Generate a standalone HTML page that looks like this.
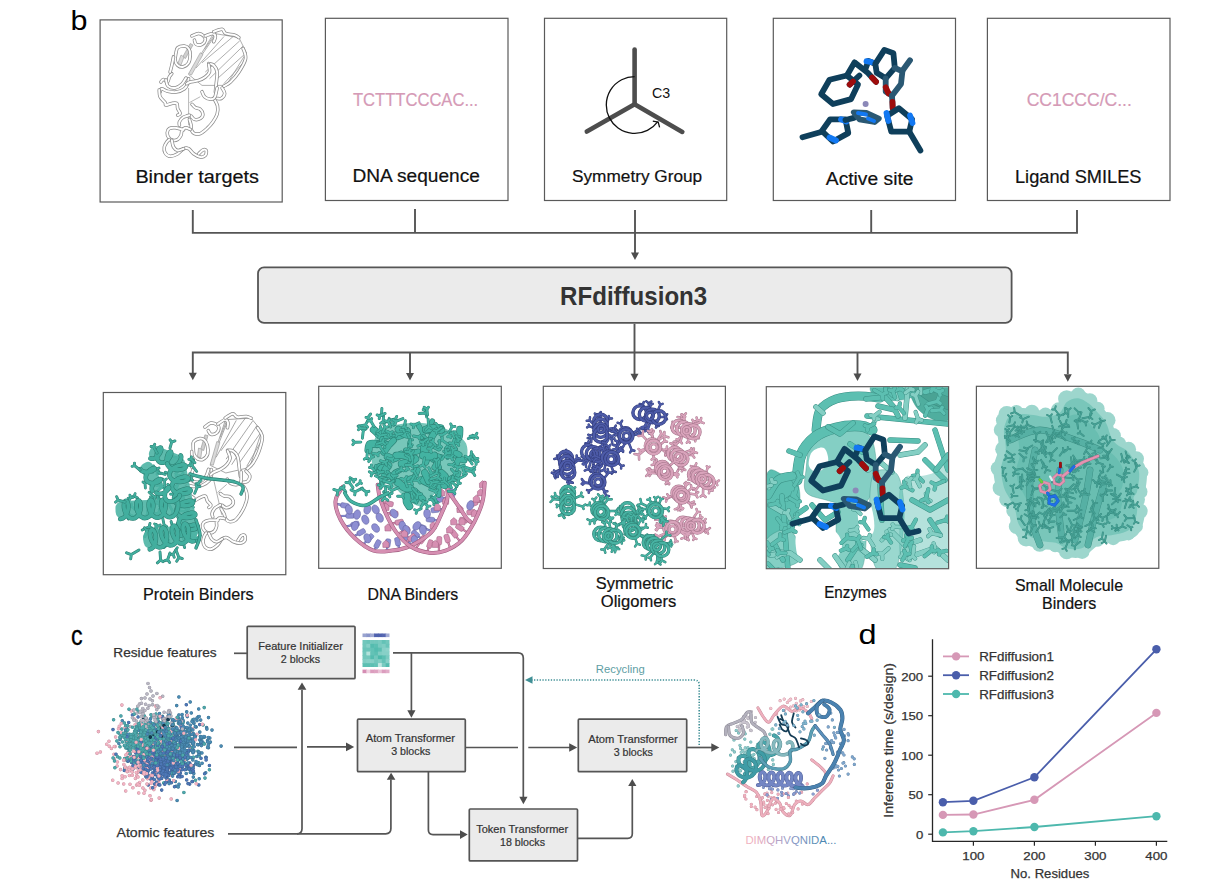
<!DOCTYPE html>
<html><head><meta charset="utf-8">
<style>
html,body{margin:0;padding:0;background:#fff;}
svg{display:block;}
text{font-family:"Liberation Sans",sans-serif;}
.k{fill:none;stroke-linecap:round;stroke-linejoin:round}
</style></head>
<body>
<svg width="1206" height="894" viewBox="0 0 1206 894">
<defs>
<marker id="ah" viewBox="0 0 10 10" refX="10" refY="5" markerWidth="8" markerHeight="8" markerUnits="userSpaceOnUse" orient="auto"><path d="M0,0 L10,5 L0,10 z" fill="#4d4d4d"/></marker>
</defs>
<rect width="1206" height="894" fill="#fff"/>

<!-- ============ PANEL B ============ -->
<text transform="translate(70.6,30.4) scale(1.07,1)" x="0" y="0" font-size="28.5" fill="#000">b</text>

<!-- row1 boxes -->
<g fill="none" stroke="#5a5a5a" stroke-width="1.2">
<rect x="100.1" y="19.9" width="182.1" height="182.1"/>
<rect x="325.4" y="18.3" width="182.6" height="182.2"/>
<rect x="544.5" y="18.3" width="182.2" height="182.2"/>
<rect x="773.3" y="18.3" width="182.2" height="182.2"/>
<rect x="987.4" y="18.3" width="182.6" height="182.2"/>
</g>

<!--BEGIN pics1-->
<g transform="translate(0,0) rotate(0,200,95) translate(200,95) scale(1.0) translate(-200,-95)"><path d="M188.6,74.5 L213.7,33.4 L238.9,37.6 L246.4,52.7 L226.3,85.4 L202,85.4 Z" fill="#fff" stroke="#9a9a9a" stroke-width="0.8"/>
<path d="M204.5,49.3 L215.4,33.4" stroke="#999" stroke-width="0.8"/>
<path d="M190.2,72 L213.7,37.6" stroke="#999" stroke-width="0.8"/>
<path d="M202,62.8 L233.9,35.9" stroke="#999" stroke-width="0.8"/>
<path d="M205.3,72 L239.7,40.9" stroke="#999" stroke-width="0.8"/>
<path d="M209.5,78.7 L243.1,46" stroke="#999" stroke-width="0.8"/>
<path d="M215.4,80.4 L246.4,52.7" stroke="#999" stroke-width="0.8"/>
<path d="M223.8,83.7 L245.6,60.2" stroke="#999" stroke-width="0.8"/>
<path d="M196,68 L224,36.5" stroke="#999" stroke-width="0.8"/>
<path d="M182.7,56.9 L190.2,43.5 L193,45 L185.5,58.5 Z" fill="#cfcfcf" stroke="#999" stroke-width="0.6"/>
<path d="M188.6,73.7 L200.3,52.7 L203,54.5 L191.5,75 Z" fill="#d9d9d9" stroke="#999" stroke-width="0.6"/>
<path d="M178,63 L181,55 L184,57 L181,65 Z" fill="#dcdcdc" stroke="#999" stroke-width="0.6"/>
<path d="M188.6,88 L188.6,125.2 M189.4,102.6 L200.3,96.7" stroke="#999" stroke-width="0.7"/>
<path d="M191.9,35.9 C193.0,35.5 196.6,33.4 198.6,33.4 C200.6,33.4 202.6,34.8 203.7,35.9 C204.8,37.0 205.6,38.7 205.3,40.1 C205.0,41.5 203.5,43.6 202.0,44.3 C200.5,45.0 197.4,45.0 196.1,44.3 C194.8,43.6 194.7,40.8 194.4,40.1" stroke="#8c8c8c" stroke-width="3.50" fill="none" stroke-linecap="round" stroke-linejoin="round"/>
<path d="M191.9,35.9 C193.0,35.5 196.6,33.4 198.6,33.4 C200.6,33.4 202.6,34.8 203.7,35.9 C204.8,37.0 205.6,38.7 205.3,40.1 C205.0,41.5 203.5,43.6 202.0,44.3 C200.5,45.0 197.4,45.0 196.1,44.3 C194.8,43.6 194.7,40.8 194.4,40.1" stroke="#ffffff" stroke-width="2.0" fill="none" stroke-linecap="round" stroke-linejoin="round"/>
<path d="M205.3,35.9 C206.6,35.5 211.2,33.3 212.9,33.4 C214.6,33.5 215.3,35.3 215.4,36.7 C215.5,38.1 214.0,40.9 213.7,41.8" stroke="#8c8c8c" stroke-width="3.50" fill="none" stroke-linecap="round" stroke-linejoin="round"/>
<path d="M205.3,35.9 C206.6,35.5 211.2,33.3 212.9,33.4 C214.6,33.5 215.3,35.3 215.4,36.7 C215.5,38.1 214.0,40.9 213.7,41.8" stroke="#ffffff" stroke-width="2.0" fill="none" stroke-linecap="round" stroke-linejoin="round"/>
<path d="M213.7,31.7 C215.1,31.3 220.1,28.9 222.1,29.2 C224.1,29.5 223.4,32.4 225.5,33.4 C227.6,34.4 232.5,34.4 234.7,35.1 C236.9,35.8 238.2,37.2 238.9,37.6" stroke="#8c8c8c" stroke-width="3.50" fill="none" stroke-linecap="round" stroke-linejoin="round"/>
<path d="M213.7,31.7 C215.1,31.3 220.1,28.9 222.1,29.2 C224.1,29.5 223.4,32.4 225.5,33.4 C227.6,34.4 232.5,34.4 234.7,35.1 C236.9,35.8 238.2,37.2 238.9,37.6" stroke="#ffffff" stroke-width="2.0" fill="none" stroke-linecap="round" stroke-linejoin="round"/>
<path d="M176.0,52.7 C176.3,51.9 176.3,48.8 177.7,47.7 C179.1,46.6 182.6,45.9 184.4,46.0 C186.2,46.1 187.6,47.1 188.6,48.5 C189.6,49.9 190.2,52.0 190.2,54.4 C190.2,56.8 189.8,60.7 188.6,62.8 C187.3,64.9 184.5,66.6 182.7,67.0 C180.9,67.4 179.0,66.4 177.7,65.3 C176.4,64.2 175.4,62.3 175.1,60.2 C174.8,58.1 175.8,54.0 176.0,52.7" stroke="#8c8c8c" stroke-width="3.50" fill="none" stroke-linecap="round" stroke-linejoin="round"/>
<path d="M176.0,52.7 C176.3,51.9 176.3,48.8 177.7,47.7 C179.1,46.6 182.6,45.9 184.4,46.0 C186.2,46.1 187.6,47.1 188.6,48.5 C189.6,49.9 190.2,52.0 190.2,54.4 C190.2,56.8 189.8,60.7 188.6,62.8 C187.3,64.9 184.5,66.6 182.7,67.0 C180.9,67.4 179.0,66.4 177.7,65.3 C176.4,64.2 175.4,62.3 175.1,60.2 C174.8,58.1 175.8,54.0 176.0,52.7" stroke="#ffffff" stroke-width="2.0" fill="none" stroke-linecap="round" stroke-linejoin="round"/>
<path d="M160.9,82.0 C161.3,81.6 162.3,79.5 163.4,79.5 C164.5,79.5 166.6,82.4 167.6,82.0 C168.6,81.6 168.6,78.4 169.3,77.0 C170.0,75.6 171.4,74.2 171.8,73.7" stroke="#8c8c8c" stroke-width="3.50" fill="none" stroke-linecap="round" stroke-linejoin="round"/>
<path d="M160.9,82.0 C161.3,81.6 162.3,79.5 163.4,79.5 C164.5,79.5 166.6,82.4 167.6,82.0 C168.6,81.6 168.6,78.4 169.3,77.0 C170.0,75.6 171.4,74.2 171.8,73.7" stroke="#ffffff" stroke-width="2.0" fill="none" stroke-linecap="round" stroke-linejoin="round"/>
<path d="M160.0,92.1 C160.3,91.5 160.4,88.9 161.7,88.8 C163.0,88.7 165.2,90.8 167.6,91.3 C170.0,91.8 173.2,92.5 176.0,92.1 C178.8,91.7 182.5,90.2 184.4,88.8 C186.3,87.4 187.0,85.4 187.7,83.7 C188.4,82.0 188.4,79.5 188.6,78.7" stroke="#8c8c8c" stroke-width="3.50" fill="none" stroke-linecap="round" stroke-linejoin="round"/>
<path d="M160.0,92.1 C160.3,91.5 160.4,88.9 161.7,88.8 C163.0,88.7 165.2,90.8 167.6,91.3 C170.0,91.8 173.2,92.5 176.0,92.1 C178.8,91.7 182.5,90.2 184.4,88.8 C186.3,87.4 187.0,85.4 187.7,83.7 C188.4,82.0 188.4,79.5 188.6,78.7" stroke="#ffffff" stroke-width="2.0" fill="none" stroke-linecap="round" stroke-linejoin="round"/>
<path d="M208.7,63.6 C209.5,63.9 212.3,63.9 213.7,65.3 C215.1,66.7 216.7,68.9 217.1,72.0 C217.5,75.1 216.5,80.4 216.2,83.7 C215.9,87.0 215.5,90.7 215.4,92.1" stroke="#8c8c8c" stroke-width="3.50" fill="none" stroke-linecap="round" stroke-linejoin="round"/>
<path d="M208.7,63.6 C209.5,63.9 212.3,63.9 213.7,65.3 C215.1,66.7 216.7,68.9 217.1,72.0 C217.5,75.1 216.5,80.4 216.2,83.7 C215.9,87.0 215.5,90.7 215.4,92.1" stroke="#ffffff" stroke-width="2.0" fill="none" stroke-linecap="round" stroke-linejoin="round"/>
<path d="M186.9,83.7 C187.4,83.4 188.2,82.5 190.2,82.0 C192.1,81.5 196.1,81.2 198.6,80.4 C201.1,79.6 203.5,78.4 205.3,77.0 C207.1,75.6 208.9,74.1 209.5,72.0 C210.1,69.9 208.8,65.7 208.7,64.4" stroke="#8c8c8c" stroke-width="3.50" fill="none" stroke-linecap="round" stroke-linejoin="round"/>
<path d="M186.9,83.7 C187.4,83.4 188.2,82.5 190.2,82.0 C192.1,81.5 196.1,81.2 198.6,80.4 C201.1,79.6 203.5,78.4 205.3,77.0 C207.1,75.6 208.9,74.1 209.5,72.0 C210.1,69.9 208.8,65.7 208.7,64.4" stroke="#ffffff" stroke-width="2.0" fill="none" stroke-linecap="round" stroke-linejoin="round"/>
<path d="M243.1,48.5 C243.5,50.2 246.3,54.7 245.6,58.6 C244.9,62.5 241.4,68.1 238.9,72.0 C236.4,75.9 233.0,79.6 230.5,82.0 C228.0,84.4 224.9,85.5 223.8,86.2" stroke="#8c8c8c" stroke-width="3.50" fill="none" stroke-linecap="round" stroke-linejoin="round"/>
<path d="M243.1,48.5 C243.5,50.2 246.3,54.7 245.6,58.6 C244.9,62.5 241.4,68.1 238.9,72.0 C236.4,75.9 233.0,79.6 230.5,82.0 C228.0,84.4 224.9,85.5 223.8,86.2" stroke="#ffffff" stroke-width="2.0" fill="none" stroke-linecap="round" stroke-linejoin="round"/>
<path d="M173.5,56.9 C173.2,58.3 172.4,62.8 171.8,65.3 C171.2,67.8 170.4,70.9 170.1,72.0" stroke="#8c8c8c" stroke-width="3.50" fill="none" stroke-linecap="round" stroke-linejoin="round"/>
<path d="M173.5,56.9 C173.2,58.3 172.4,62.8 171.8,65.3 C171.2,67.8 170.4,70.9 170.1,72.0" stroke="#ffffff" stroke-width="2.0" fill="none" stroke-linecap="round" stroke-linejoin="round"/>
<path d="M159.2,90.0 C159.3,91.1 159.1,94.6 160.1,96.7 C161.1,98.8 164.1,101.2 165.1,102.6 C166.1,104.0 164.8,105.0 165.9,105.1 C167.0,105.2 170.0,103.7 171.8,103.4 C173.6,103.1 175.8,102.6 176.8,103.4 C177.8,104.2 177.1,106.8 177.7,108.5 C178.3,110.2 180.2,112.4 180.2,113.5 C180.2,114.6 178.1,114.9 177.7,115.2" stroke="#8c8c8c" stroke-width="3.50" fill="none" stroke-linecap="round" stroke-linejoin="round"/>
<path d="M159.2,90.0 C159.3,91.1 159.1,94.6 160.1,96.7 C161.1,98.8 164.1,101.2 165.1,102.6 C166.1,104.0 164.8,105.0 165.9,105.1 C167.0,105.2 170.0,103.7 171.8,103.4 C173.6,103.1 175.8,102.6 176.8,103.4 C177.8,104.2 177.1,106.8 177.7,108.5 C178.3,110.2 180.2,112.4 180.2,113.5 C180.2,114.6 178.1,114.9 177.7,115.2" stroke="#ffffff" stroke-width="2.0" fill="none" stroke-linecap="round" stroke-linejoin="round"/>
<path d="M213.8,98.0 C214.4,99.3 216.9,103.2 217.5,105.9 C218.1,108.6 217.9,111.6 217.1,114.3 C216.3,117.0 214.6,119.5 212.9,121.9 C211.2,124.3 209.1,126.6 207.0,128.6 C204.9,130.5 202.4,132.8 200.3,133.6 C198.2,134.4 196.0,134.1 194.5,133.6 C193.0,133.1 192.1,131.7 191.5,130.3 C190.9,128.9 191.4,127.0 191.1,125.2 C190.8,123.4 189.7,120.4 189.4,119.4" stroke="#8c8c8c" stroke-width="3.50" fill="none" stroke-linecap="round" stroke-linejoin="round"/>
<path d="M213.8,98.0 C214.4,99.3 216.9,103.2 217.5,105.9 C218.1,108.6 217.9,111.6 217.1,114.3 C216.3,117.0 214.6,119.5 212.9,121.9 C211.2,124.3 209.1,126.6 207.0,128.6 C204.9,130.5 202.4,132.8 200.3,133.6 C198.2,134.4 196.0,134.1 194.5,133.6 C193.0,133.1 192.1,131.7 191.5,130.3 C190.9,128.9 191.4,127.0 191.1,125.2 C190.8,123.4 189.7,120.4 189.4,119.4" stroke="#ffffff" stroke-width="2.0" fill="none" stroke-linecap="round" stroke-linejoin="round"/>
<path d="M190.3,129.4 C189.5,129.1 186.6,127.5 185.2,127.8 C183.8,128.1 182.6,129.8 181.9,131.1 C181.2,132.3 181.7,133.9 181.0,135.3 C180.3,136.7 179.1,138.7 177.7,139.5 C176.3,140.3 174.2,140.6 172.7,140.3 C171.2,140.0 169.8,139.1 168.9,137.8 C168.0,136.6 167.1,134.3 167.2,132.8 C167.3,131.3 168.0,129.4 169.3,128.6 C170.6,127.8 172.8,127.6 175.2,127.8 C177.6,128.0 182.2,129.5 183.6,129.8" stroke="#8c8c8c" stroke-width="3.50" fill="none" stroke-linecap="round" stroke-linejoin="round"/>
<path d="M190.3,129.4 C189.5,129.1 186.6,127.5 185.2,127.8 C183.8,128.1 182.6,129.8 181.9,131.1 C181.2,132.3 181.7,133.9 181.0,135.3 C180.3,136.7 179.1,138.7 177.7,139.5 C176.3,140.3 174.2,140.6 172.7,140.3 C171.2,140.0 169.8,139.1 168.9,137.8 C168.0,136.6 167.1,134.3 167.2,132.8 C167.3,131.3 168.0,129.4 169.3,128.6 C170.6,127.8 172.8,127.6 175.2,127.8 C177.6,128.0 182.2,129.5 183.6,129.8" stroke="#ffffff" stroke-width="2.0" fill="none" stroke-linecap="round" stroke-linejoin="round"/>
<path d="M169.3,139.5 C168.9,139.9 167.6,140.8 166.8,142.0 C166.0,143.2 164.6,145.2 164.3,147.0 C164.0,148.8 164.1,151.3 165.1,152.9 C166.1,154.5 168.0,156.2 170.1,156.3 C172.2,156.5 175.4,155.1 177.7,153.8 C179.9,152.5 181.8,149.5 183.6,148.7 C185.4,147.8 186.9,147.8 188.6,148.7 C190.3,149.5 191.6,152.4 193.6,153.8 C195.6,155.2 198.3,156.8 200.3,157.1 C202.3,157.4 204.4,156.5 205.4,155.4 C206.4,154.3 206.6,151.3 206.2,150.4 C205.8,149.5 204.2,149.4 202.9,150.0 C201.7,150.6 199.4,153.2 198.7,153.8" stroke="#8c8c8c" stroke-width="3.50" fill="none" stroke-linecap="round" stroke-linejoin="round"/>
<path d="M169.3,139.5 C168.9,139.9 167.6,140.8 166.8,142.0 C166.0,143.2 164.6,145.2 164.3,147.0 C164.0,148.8 164.1,151.3 165.1,152.9 C166.1,154.5 168.0,156.2 170.1,156.3 C172.2,156.5 175.4,155.1 177.7,153.8 C179.9,152.5 181.8,149.5 183.6,148.7 C185.4,147.8 186.9,147.8 188.6,148.7 C190.3,149.5 191.6,152.4 193.6,153.8 C195.6,155.2 198.3,156.8 200.3,157.1 C202.3,157.4 204.4,156.5 205.4,155.4 C206.4,154.3 206.6,151.3 206.2,150.4 C205.8,149.5 204.2,149.4 202.9,150.0 C201.7,150.6 199.4,153.2 198.7,153.8" stroke="#ffffff" stroke-width="2.0" fill="none" stroke-linecap="round" stroke-linejoin="round"/>
<path d="M171.8,140.3 C172.1,141.4 172.5,145.3 173.5,147.0 C174.5,148.7 176.0,150.1 177.7,150.4 C179.4,150.7 182.6,149.0 183.6,148.7" stroke="#8c8c8c" stroke-width="3.50" fill="none" stroke-linecap="round" stroke-linejoin="round"/>
<path d="M171.8,140.3 C172.1,141.4 172.5,145.3 173.5,147.0 C174.5,148.7 176.0,150.1 177.7,150.4 C179.4,150.7 182.6,149.0 183.6,148.7" stroke="#ffffff" stroke-width="2.0" fill="none" stroke-linecap="round" stroke-linejoin="round"/>
<path d="M192.0,104.3 C192.6,104.8 193.9,106.8 195.3,107.6 C196.7,108.4 199.0,108.2 200.3,109.3 C201.6,110.4 202.9,112.8 202.9,114.3 C202.9,115.8 201.7,117.7 200.3,118.5 C198.9,119.3 196.0,119.8 194.5,119.4 C193.0,119.0 191.7,116.6 191.1,116.0" stroke="#8c8c8c" stroke-width="3.50" fill="none" stroke-linecap="round" stroke-linejoin="round"/>
<path d="M192.0,104.3 C192.6,104.8 193.9,106.8 195.3,107.6 C196.7,108.4 199.0,108.2 200.3,109.3 C201.6,110.4 202.9,112.8 202.9,114.3 C202.9,115.8 201.7,117.7 200.3,118.5 C198.9,119.3 196.0,119.8 194.5,119.4 C193.0,119.0 191.7,116.6 191.1,116.0" stroke="#ffffff" stroke-width="2.0" fill="none" stroke-linecap="round" stroke-linejoin="round"/>
<path d="M179.4,125.2 C179.4,124.7 178.9,123.2 179.4,121.9 C179.9,120.7 181.4,118.7 182.7,117.7 C183.9,116.7 185.8,116.4 186.9,116.0 C188.0,115.6 189.0,115.3 189.4,115.2" stroke="#8c8c8c" stroke-width="3.50" fill="none" stroke-linecap="round" stroke-linejoin="round"/>
<path d="M179.4,125.2 C179.4,124.7 178.9,123.2 179.4,121.9 C179.9,120.7 181.4,118.7 182.7,117.7 C183.9,116.7 185.8,116.4 186.9,116.0 C188.0,115.6 189.0,115.3 189.4,115.2" stroke="#ffffff" stroke-width="2.0" fill="none" stroke-linecap="round" stroke-linejoin="round"/>
<path d="M202.0,91.7 C202.4,92.5 203.1,95.5 204.5,96.7 C205.9,98.0 208.7,99.1 210.4,99.2 C212.1,99.3 213.6,98.8 214.6,97.6 C215.6,96.3 215.9,93.3 216.3,91.7 C216.7,90.1 217.0,88.6 217.1,88.0" stroke="#8c8c8c" stroke-width="3.50" fill="none" stroke-linecap="round" stroke-linejoin="round"/>
<path d="M202.0,91.7 C202.4,92.5 203.1,95.5 204.5,96.7 C205.9,98.0 208.7,99.1 210.4,99.2 C212.1,99.3 213.6,98.8 214.6,97.6 C215.6,96.3 215.9,93.3 216.3,91.7 C216.7,90.1 217.0,88.6 217.1,88.0" stroke="#ffffff" stroke-width="2.0" fill="none" stroke-linecap="round" stroke-linejoin="round"/>
<path d="M222.1,88.0 C222.5,88.9 224.8,91.7 224.7,93.4 C224.6,95.1 222.6,97.6 221.3,98.4 C220.0,99.2 217.8,98.4 217.1,98.4" stroke="#8c8c8c" stroke-width="3.50" fill="none" stroke-linecap="round" stroke-linejoin="round"/>
<path d="M222.1,88.0 C222.5,88.9 224.8,91.7 224.7,93.4 C224.6,95.1 222.6,97.6 221.3,98.4 C220.0,99.2 217.8,98.4 217.1,98.4" stroke="#ffffff" stroke-width="2.0" fill="none" stroke-linecap="round" stroke-linejoin="round"/>
<path d="M166.0,80.0 C166.3,81.0 166.5,84.7 168.0,86.0 C169.5,87.3 172.7,88.3 175.0,88.0 C177.3,87.7 180.2,85.7 182.0,84.0 C183.8,82.3 185.3,79.0 186.0,78.0" stroke="#8c8c8c" stroke-width="3.50" fill="none" stroke-linecap="round" stroke-linejoin="round"/>
<path d="M166.0,80.0 C166.3,81.0 166.5,84.7 168.0,86.0 C169.5,87.3 172.7,88.3 175.0,88.0 C177.3,87.7 180.2,85.7 182.0,84.0 C183.8,82.3 185.3,79.0 186.0,78.0" stroke="#ffffff" stroke-width="2.0" fill="none" stroke-linecap="round" stroke-linejoin="round"/></g>
<g stroke="#4d4d4d" stroke-width="4.6" stroke-linecap="round" fill="none"><path d="M634.6,104.3 V49.6"/><path d="M634.6,104.3 L586.8,131.6"/><path d="M634.6,104.3 L682.3,131.9"/></g>
<path d="M634.6,76.6 A28.4,28.4 0 1 0 657.6,121.8" stroke="#111" stroke-width="1.3" fill="none"/>
<path d="M652.8,121.2 L658.2,122.1 L659.6,127.3" stroke="#111" stroke-width="1.3" fill="none" stroke-linejoin="miter"/>
<text x="652" y="97.6" font-size="14.6" fill="#111" textLength="18.2" lengthAdjust="spacingAndGlyphs">C3</text>
<path d="M821.2,94.3 L829.5,79.7 L846.9,75.5 L858.0,84.6 L851.1,99.1 L833.0,104.0 Z" stroke="#0f3f5b" stroke-width="5.8" fill="none" stroke-linejoin="round" stroke-linecap="round"/>
<path d="M846.9,75.5 L854.5,62.4 L867.7,72.8 L876.0,81.8" stroke="#0f3f5b" stroke-width="5.8" fill="none" stroke-linejoin="round" stroke-linecap="round"/>
<path d="M872.0,77.5 L876.0,81.8" stroke="#9e0c0c" stroke-width="5.8" fill="none" stroke-linejoin="round" stroke-linecap="round"/>
<path d="M859.4,75.5 L849.7,84.6" stroke="#0f3f5b" stroke-width="5.8" fill="none" stroke-linejoin="round" stroke-linecap="round"/>
<path d="M853.0,81.5 L849.7,84.6" stroke="#9e0c0c" stroke-width="5.8" fill="none" stroke-linejoin="round" stroke-linecap="round"/>
<path d="M865.6,68.6 L868.4,61.0 L875.3,63.8" stroke="#0f3f5b" stroke-width="5.8" fill="none" stroke-linejoin="round" stroke-linecap="round"/>
<path d="M866.5,61.2 L871.5,62.2" stroke="#1278f2" stroke-width="5.8" fill="none" stroke-linejoin="round" stroke-linecap="round"/>
<path d="M875.3,63.8 L884.4,49.9 L893.4,53.3 L894.8,67.9 L885.7,78.3 L876.7,72.8 Z" stroke="#0f3f5b" stroke-width="5.8" fill="none" stroke-linejoin="round" stroke-linecap="round"/>
<path d="M894.8,67.9 L902.4,71.4 L901.0,83.9 L892.0,95.7 L885.7,91.5 L885.7,78.3" stroke="#2a5873" stroke-width="5.8" fill="none" stroke-linejoin="round" stroke-linecap="round"/>
<path d="M885.7,87.3 L888.5,93.5" stroke="#9e0c0c" stroke-width="5.8" fill="none" stroke-linejoin="round" stroke-linecap="round"/>
<path d="M902.4,70.7 L910.0,60.3" stroke="#2a5873" stroke-width="5.8" fill="none" stroke-linejoin="round" stroke-linecap="round"/>
<path d="M892.0,95.7 L892.7,108.2" stroke="#2a5873" stroke-width="5.8" fill="none" stroke-linejoin="round" stroke-linecap="round"/>
<path d="M892.5,102.0 L892.7,108.2" stroke="#9e0c0c" stroke-width="5.8" fill="none" stroke-linejoin="round" stroke-linecap="round"/>
<path d="M887.1,115.8 L898.9,108.2 L912.1,119.3 L909.3,131.7 L891.3,131.7 Z" stroke="#0f3f5b" stroke-width="5.8" fill="none" stroke-linejoin="round" stroke-linecap="round"/>
<path d="M909.3,131.7 L920.4,150.5" stroke="#0f3f5b" stroke-width="5.8" fill="none" stroke-linejoin="round" stroke-linecap="round"/>
<path d="M886.5,113.0 L888.5,121.0" stroke="#1278f2" stroke-width="5.8" fill="none" stroke-linejoin="round" stroke-linecap="round"/>
<path d="M910.0,115.5 L912.5,123.0" stroke="#1278f2" stroke-width="5.8" fill="none" stroke-linejoin="round" stroke-linecap="round"/>
<path d="M830.2,119.3 L845.5,119.3 L848.3,133.1 L833.0,141.5 L821.9,131.0 Z" stroke="#0f3f5b" stroke-width="5.8" fill="none" stroke-linejoin="round" stroke-linecap="round"/>
<path d="M821.9,131.7 L802.5,137.3" stroke="#0f3f5b" stroke-width="5.8" fill="none" stroke-linejoin="round" stroke-linecap="round"/>
<path d="M841.0,119.3 L846.5,121.5" stroke="#1278f2" stroke-width="5.8" fill="none" stroke-linejoin="round" stroke-linecap="round"/>
<path d="M829.5,137.5 L836.0,140.5" stroke="#1278f2" stroke-width="5.8" fill="none" stroke-linejoin="round" stroke-linecap="round"/>
<path d="M845.5,120.0 L853.8,117.9" stroke="#0f3f5b" stroke-width="5.8" fill="none" stroke-linejoin="round" stroke-linecap="round"/>
<path d="M853.8,112.3 L866.3,113.0 L878.8,118.6 L874.6,122.0 L859.4,119.3 Z" stroke="#2a5873" stroke-width="5.8" fill="none" stroke-linejoin="round" stroke-linecap="round"/>
<path d="M858.0,113.0 L866.0,114.5" stroke="#1278f2" stroke-width="4" fill="none" stroke-linejoin="round" stroke-linecap="round"/>
<path d="M868.0,118.5 L874.0,121.0" stroke="#1278f2" stroke-width="4" fill="none" stroke-linejoin="round" stroke-linecap="round"/>
<circle cx="865.6" cy="104" r="3" fill="#8b88b8"/>
<!--END pics1-->
<!-- row1 labels -->
<g fill="#111" stroke="#111" stroke-width="0.2">
<text x="135.4" y="183" font-size="18.7" textLength="123.5" lengthAdjust="spacingAndGlyphs">Binder targets</text>
<text x="352.4" y="181.7" font-size="18.7" textLength="127.5" lengthAdjust="spacingAndGlyphs">DNA sequence</text>
<text x="572" y="182.1" font-size="16.8" textLength="130.2" lengthAdjust="spacingAndGlyphs">Symmetry Group</text>
<text x="825.8" y="184.6" font-size="18.7" textLength="87.7" lengthAdjust="spacingAndGlyphs">Active site</text>
<text x="1015" y="183" font-size="18.7" textLength="126.5" lengthAdjust="spacingAndGlyphs">Ligand SMILES</text>
</g>
<g fill="#d59ab6" stroke="#d59ab6" stroke-width="0.2">
<text x="353" y="105.8" font-size="19" textLength="125.2" lengthAdjust="spacingAndGlyphs">TCTTTCCCAC...</text>
<text x="1026.7" y="105.8" font-size="19" textLength="105.1" lengthAdjust="spacingAndGlyphs">CC1CCC/C...</text>
</g>

<!-- connectors top -->
<g stroke="#555" stroke-width="1.9" fill="none">
<path d="M192.8,210 V232.9 H1077 V210"/>
<path d="M415,209 V232.9"/>
<path d="M871.2,210 V232.9"/>
<path d="M635,210 V253"/>
</g>
<path d="M631,252.5 L639,252.5 L635,260 z" fill="#4d4d4d"/>

<!-- RFdiffusion3 -->
<rect x="258" y="267.3" width="753.6" height="55.6" rx="6" ry="6" fill="#ebebeb" stroke="#555" stroke-width="1.8"/>
<text x="560.1" y="304.9" font-size="26" font-weight="bold" fill="#333" textLength="147.1" lengthAdjust="spacingAndGlyphs">RFdiffusion3</text>

<!-- connectors bottom -->
<g stroke="#555" stroke-width="1.9" fill="none">
<path d="M634.5,323.8 V374"/>
<path d="M192.8,373.5 V352.5 H1067.8 V374"/>
<path d="M410,352.5 V374"/>
<path d="M857.5,352.5 V374"/>
</g>
<g fill="#4d4d4d">
<path d="M188.8,372.8 L196.8,372.8 L192.8,380.3 z"/>
<path d="M406,373 L414,373 L410,380.5 z"/>
<path d="M630.5,373.8 L638.5,373.8 L634.5,381.3 z"/>
<path d="M853.5,373.6 L861.5,373.6 L857.5,381 z"/>
<path d="M1063.8,374.2 L1071.8,374.2 L1067.8,381.7 z"/>
</g>

<!-- row2 boxes -->
<g fill="none" stroke="#5a5a5a" stroke-width="1.2">
<rect x="103.3" y="392.5" width="182.5" height="182.2"/>
<rect x="318.7" y="386.3" width="182.6" height="182"/>
<rect x="543.3" y="386.3" width="182.1" height="182.2"/>
<rect x="766.3" y="386.7" width="182.3" height="182"/>
<rect x="976.4" y="386.3" width="182.4" height="182"/>
</g>

<!--BEGIN pics2-->
<g transform="translate(18,383) rotate(-13,225,62) translate(225,62) scale(1.0) translate(-225,-62)"><path d="M188.6,74.5 L213.7,33.4 L238.9,37.6 L246.4,52.7 L226.3,85.4 L202,85.4 Z" fill="#fff" stroke="#9a9a9a" stroke-width="0.8"/>
<path d="M204.5,49.3 L215.4,33.4" stroke="#999" stroke-width="0.8"/>
<path d="M190.2,72 L213.7,37.6" stroke="#999" stroke-width="0.8"/>
<path d="M202,62.8 L233.9,35.9" stroke="#999" stroke-width="0.8"/>
<path d="M205.3,72 L239.7,40.9" stroke="#999" stroke-width="0.8"/>
<path d="M209.5,78.7 L243.1,46" stroke="#999" stroke-width="0.8"/>
<path d="M215.4,80.4 L246.4,52.7" stroke="#999" stroke-width="0.8"/>
<path d="M223.8,83.7 L245.6,60.2" stroke="#999" stroke-width="0.8"/>
<path d="M196,68 L224,36.5" stroke="#999" stroke-width="0.8"/>
<path d="M182.7,56.9 L190.2,43.5 L193,45 L185.5,58.5 Z" fill="#cfcfcf" stroke="#999" stroke-width="0.6"/>
<path d="M188.6,73.7 L200.3,52.7 L203,54.5 L191.5,75 Z" fill="#d9d9d9" stroke="#999" stroke-width="0.6"/>
<path d="M178,63 L181,55 L184,57 L181,65 Z" fill="#dcdcdc" stroke="#999" stroke-width="0.6"/>
<path d="M188.6,88 L188.6,125.2 M189.4,102.6 L200.3,96.7" stroke="#999" stroke-width="0.7"/>
<path d="M191.9,35.9 C193.0,35.5 196.6,33.4 198.6,33.4 C200.6,33.4 202.6,34.8 203.7,35.9 C204.8,37.0 205.6,38.7 205.3,40.1 C205.0,41.5 203.5,43.6 202.0,44.3 C200.5,45.0 197.4,45.0 196.1,44.3 C194.8,43.6 194.7,40.8 194.4,40.1" stroke="#8c8c8c" stroke-width="3.50" fill="none" stroke-linecap="round" stroke-linejoin="round"/>
<path d="M191.9,35.9 C193.0,35.5 196.6,33.4 198.6,33.4 C200.6,33.4 202.6,34.8 203.7,35.9 C204.8,37.0 205.6,38.7 205.3,40.1 C205.0,41.5 203.5,43.6 202.0,44.3 C200.5,45.0 197.4,45.0 196.1,44.3 C194.8,43.6 194.7,40.8 194.4,40.1" stroke="#ffffff" stroke-width="2.0" fill="none" stroke-linecap="round" stroke-linejoin="round"/>
<path d="M205.3,35.9 C206.6,35.5 211.2,33.3 212.9,33.4 C214.6,33.5 215.3,35.3 215.4,36.7 C215.5,38.1 214.0,40.9 213.7,41.8" stroke="#8c8c8c" stroke-width="3.50" fill="none" stroke-linecap="round" stroke-linejoin="round"/>
<path d="M205.3,35.9 C206.6,35.5 211.2,33.3 212.9,33.4 C214.6,33.5 215.3,35.3 215.4,36.7 C215.5,38.1 214.0,40.9 213.7,41.8" stroke="#ffffff" stroke-width="2.0" fill="none" stroke-linecap="round" stroke-linejoin="round"/>
<path d="M213.7,31.7 C215.1,31.3 220.1,28.9 222.1,29.2 C224.1,29.5 223.4,32.4 225.5,33.4 C227.6,34.4 232.5,34.4 234.7,35.1 C236.9,35.8 238.2,37.2 238.9,37.6" stroke="#8c8c8c" stroke-width="3.50" fill="none" stroke-linecap="round" stroke-linejoin="round"/>
<path d="M213.7,31.7 C215.1,31.3 220.1,28.9 222.1,29.2 C224.1,29.5 223.4,32.4 225.5,33.4 C227.6,34.4 232.5,34.4 234.7,35.1 C236.9,35.8 238.2,37.2 238.9,37.6" stroke="#ffffff" stroke-width="2.0" fill="none" stroke-linecap="round" stroke-linejoin="round"/>
<path d="M176.0,52.7 C176.3,51.9 176.3,48.8 177.7,47.7 C179.1,46.6 182.6,45.9 184.4,46.0 C186.2,46.1 187.6,47.1 188.6,48.5 C189.6,49.9 190.2,52.0 190.2,54.4 C190.2,56.8 189.8,60.7 188.6,62.8 C187.3,64.9 184.5,66.6 182.7,67.0 C180.9,67.4 179.0,66.4 177.7,65.3 C176.4,64.2 175.4,62.3 175.1,60.2 C174.8,58.1 175.8,54.0 176.0,52.7" stroke="#8c8c8c" stroke-width="3.50" fill="none" stroke-linecap="round" stroke-linejoin="round"/>
<path d="M176.0,52.7 C176.3,51.9 176.3,48.8 177.7,47.7 C179.1,46.6 182.6,45.9 184.4,46.0 C186.2,46.1 187.6,47.1 188.6,48.5 C189.6,49.9 190.2,52.0 190.2,54.4 C190.2,56.8 189.8,60.7 188.6,62.8 C187.3,64.9 184.5,66.6 182.7,67.0 C180.9,67.4 179.0,66.4 177.7,65.3 C176.4,64.2 175.4,62.3 175.1,60.2 C174.8,58.1 175.8,54.0 176.0,52.7" stroke="#ffffff" stroke-width="2.0" fill="none" stroke-linecap="round" stroke-linejoin="round"/>
<path d="M160.9,82.0 C161.3,81.6 162.3,79.5 163.4,79.5 C164.5,79.5 166.6,82.4 167.6,82.0 C168.6,81.6 168.6,78.4 169.3,77.0 C170.0,75.6 171.4,74.2 171.8,73.7" stroke="#8c8c8c" stroke-width="3.50" fill="none" stroke-linecap="round" stroke-linejoin="round"/>
<path d="M160.9,82.0 C161.3,81.6 162.3,79.5 163.4,79.5 C164.5,79.5 166.6,82.4 167.6,82.0 C168.6,81.6 168.6,78.4 169.3,77.0 C170.0,75.6 171.4,74.2 171.8,73.7" stroke="#ffffff" stroke-width="2.0" fill="none" stroke-linecap="round" stroke-linejoin="round"/>
<path d="M160.0,92.1 C160.3,91.5 160.4,88.9 161.7,88.8 C163.0,88.7 165.2,90.8 167.6,91.3 C170.0,91.8 173.2,92.5 176.0,92.1 C178.8,91.7 182.5,90.2 184.4,88.8 C186.3,87.4 187.0,85.4 187.7,83.7 C188.4,82.0 188.4,79.5 188.6,78.7" stroke="#8c8c8c" stroke-width="3.50" fill="none" stroke-linecap="round" stroke-linejoin="round"/>
<path d="M160.0,92.1 C160.3,91.5 160.4,88.9 161.7,88.8 C163.0,88.7 165.2,90.8 167.6,91.3 C170.0,91.8 173.2,92.5 176.0,92.1 C178.8,91.7 182.5,90.2 184.4,88.8 C186.3,87.4 187.0,85.4 187.7,83.7 C188.4,82.0 188.4,79.5 188.6,78.7" stroke="#ffffff" stroke-width="2.0" fill="none" stroke-linecap="round" stroke-linejoin="round"/>
<path d="M208.7,63.6 C209.5,63.9 212.3,63.9 213.7,65.3 C215.1,66.7 216.7,68.9 217.1,72.0 C217.5,75.1 216.5,80.4 216.2,83.7 C215.9,87.0 215.5,90.7 215.4,92.1" stroke="#8c8c8c" stroke-width="3.50" fill="none" stroke-linecap="round" stroke-linejoin="round"/>
<path d="M208.7,63.6 C209.5,63.9 212.3,63.9 213.7,65.3 C215.1,66.7 216.7,68.9 217.1,72.0 C217.5,75.1 216.5,80.4 216.2,83.7 C215.9,87.0 215.5,90.7 215.4,92.1" stroke="#ffffff" stroke-width="2.0" fill="none" stroke-linecap="round" stroke-linejoin="round"/>
<path d="M186.9,83.7 C187.4,83.4 188.2,82.5 190.2,82.0 C192.1,81.5 196.1,81.2 198.6,80.4 C201.1,79.6 203.5,78.4 205.3,77.0 C207.1,75.6 208.9,74.1 209.5,72.0 C210.1,69.9 208.8,65.7 208.7,64.4" stroke="#8c8c8c" stroke-width="3.50" fill="none" stroke-linecap="round" stroke-linejoin="round"/>
<path d="M186.9,83.7 C187.4,83.4 188.2,82.5 190.2,82.0 C192.1,81.5 196.1,81.2 198.6,80.4 C201.1,79.6 203.5,78.4 205.3,77.0 C207.1,75.6 208.9,74.1 209.5,72.0 C210.1,69.9 208.8,65.7 208.7,64.4" stroke="#ffffff" stroke-width="2.0" fill="none" stroke-linecap="round" stroke-linejoin="round"/>
<path d="M243.1,48.5 C243.5,50.2 246.3,54.7 245.6,58.6 C244.9,62.5 241.4,68.1 238.9,72.0 C236.4,75.9 233.0,79.6 230.5,82.0 C228.0,84.4 224.9,85.5 223.8,86.2" stroke="#8c8c8c" stroke-width="3.50" fill="none" stroke-linecap="round" stroke-linejoin="round"/>
<path d="M243.1,48.5 C243.5,50.2 246.3,54.7 245.6,58.6 C244.9,62.5 241.4,68.1 238.9,72.0 C236.4,75.9 233.0,79.6 230.5,82.0 C228.0,84.4 224.9,85.5 223.8,86.2" stroke="#ffffff" stroke-width="2.0" fill="none" stroke-linecap="round" stroke-linejoin="round"/>
<path d="M173.5,56.9 C173.2,58.3 172.4,62.8 171.8,65.3 C171.2,67.8 170.4,70.9 170.1,72.0" stroke="#8c8c8c" stroke-width="3.50" fill="none" stroke-linecap="round" stroke-linejoin="round"/>
<path d="M173.5,56.9 C173.2,58.3 172.4,62.8 171.8,65.3 C171.2,67.8 170.4,70.9 170.1,72.0" stroke="#ffffff" stroke-width="2.0" fill="none" stroke-linecap="round" stroke-linejoin="round"/>
<path d="M159.2,90.0 C159.3,91.1 159.1,94.6 160.1,96.7 C161.1,98.8 164.1,101.2 165.1,102.6 C166.1,104.0 164.8,105.0 165.9,105.1 C167.0,105.2 170.0,103.7 171.8,103.4 C173.6,103.1 175.8,102.6 176.8,103.4 C177.8,104.2 177.1,106.8 177.7,108.5 C178.3,110.2 180.2,112.4 180.2,113.5 C180.2,114.6 178.1,114.9 177.7,115.2" stroke="#8c8c8c" stroke-width="3.50" fill="none" stroke-linecap="round" stroke-linejoin="round"/>
<path d="M159.2,90.0 C159.3,91.1 159.1,94.6 160.1,96.7 C161.1,98.8 164.1,101.2 165.1,102.6 C166.1,104.0 164.8,105.0 165.9,105.1 C167.0,105.2 170.0,103.7 171.8,103.4 C173.6,103.1 175.8,102.6 176.8,103.4 C177.8,104.2 177.1,106.8 177.7,108.5 C178.3,110.2 180.2,112.4 180.2,113.5 C180.2,114.6 178.1,114.9 177.7,115.2" stroke="#ffffff" stroke-width="2.0" fill="none" stroke-linecap="round" stroke-linejoin="round"/>
<path d="M213.8,98.0 C214.4,99.3 216.9,103.2 217.5,105.9 C218.1,108.6 217.9,111.6 217.1,114.3 C216.3,117.0 214.6,119.5 212.9,121.9 C211.2,124.3 209.1,126.6 207.0,128.6 C204.9,130.5 202.4,132.8 200.3,133.6 C198.2,134.4 196.0,134.1 194.5,133.6 C193.0,133.1 192.1,131.7 191.5,130.3 C190.9,128.9 191.4,127.0 191.1,125.2 C190.8,123.4 189.7,120.4 189.4,119.4" stroke="#8c8c8c" stroke-width="3.50" fill="none" stroke-linecap="round" stroke-linejoin="round"/>
<path d="M213.8,98.0 C214.4,99.3 216.9,103.2 217.5,105.9 C218.1,108.6 217.9,111.6 217.1,114.3 C216.3,117.0 214.6,119.5 212.9,121.9 C211.2,124.3 209.1,126.6 207.0,128.6 C204.9,130.5 202.4,132.8 200.3,133.6 C198.2,134.4 196.0,134.1 194.5,133.6 C193.0,133.1 192.1,131.7 191.5,130.3 C190.9,128.9 191.4,127.0 191.1,125.2 C190.8,123.4 189.7,120.4 189.4,119.4" stroke="#ffffff" stroke-width="2.0" fill="none" stroke-linecap="round" stroke-linejoin="round"/>
<path d="M190.3,129.4 C189.5,129.1 186.6,127.5 185.2,127.8 C183.8,128.1 182.6,129.8 181.9,131.1 C181.2,132.3 181.7,133.9 181.0,135.3 C180.3,136.7 179.1,138.7 177.7,139.5 C176.3,140.3 174.2,140.6 172.7,140.3 C171.2,140.0 169.8,139.1 168.9,137.8 C168.0,136.6 167.1,134.3 167.2,132.8 C167.3,131.3 168.0,129.4 169.3,128.6 C170.6,127.8 172.8,127.6 175.2,127.8 C177.6,128.0 182.2,129.5 183.6,129.8" stroke="#8c8c8c" stroke-width="3.50" fill="none" stroke-linecap="round" stroke-linejoin="round"/>
<path d="M190.3,129.4 C189.5,129.1 186.6,127.5 185.2,127.8 C183.8,128.1 182.6,129.8 181.9,131.1 C181.2,132.3 181.7,133.9 181.0,135.3 C180.3,136.7 179.1,138.7 177.7,139.5 C176.3,140.3 174.2,140.6 172.7,140.3 C171.2,140.0 169.8,139.1 168.9,137.8 C168.0,136.6 167.1,134.3 167.2,132.8 C167.3,131.3 168.0,129.4 169.3,128.6 C170.6,127.8 172.8,127.6 175.2,127.8 C177.6,128.0 182.2,129.5 183.6,129.8" stroke="#ffffff" stroke-width="2.0" fill="none" stroke-linecap="round" stroke-linejoin="round"/>
<path d="M169.3,139.5 C168.9,139.9 167.6,140.8 166.8,142.0 C166.0,143.2 164.6,145.2 164.3,147.0 C164.0,148.8 164.1,151.3 165.1,152.9 C166.1,154.5 168.0,156.2 170.1,156.3 C172.2,156.5 175.4,155.1 177.7,153.8 C179.9,152.5 181.8,149.5 183.6,148.7 C185.4,147.8 186.9,147.8 188.6,148.7 C190.3,149.5 191.6,152.4 193.6,153.8 C195.6,155.2 198.3,156.8 200.3,157.1 C202.3,157.4 204.4,156.5 205.4,155.4 C206.4,154.3 206.6,151.3 206.2,150.4 C205.8,149.5 204.2,149.4 202.9,150.0 C201.7,150.6 199.4,153.2 198.7,153.8" stroke="#8c8c8c" stroke-width="3.50" fill="none" stroke-linecap="round" stroke-linejoin="round"/>
<path d="M169.3,139.5 C168.9,139.9 167.6,140.8 166.8,142.0 C166.0,143.2 164.6,145.2 164.3,147.0 C164.0,148.8 164.1,151.3 165.1,152.9 C166.1,154.5 168.0,156.2 170.1,156.3 C172.2,156.5 175.4,155.1 177.7,153.8 C179.9,152.5 181.8,149.5 183.6,148.7 C185.4,147.8 186.9,147.8 188.6,148.7 C190.3,149.5 191.6,152.4 193.6,153.8 C195.6,155.2 198.3,156.8 200.3,157.1 C202.3,157.4 204.4,156.5 205.4,155.4 C206.4,154.3 206.6,151.3 206.2,150.4 C205.8,149.5 204.2,149.4 202.9,150.0 C201.7,150.6 199.4,153.2 198.7,153.8" stroke="#ffffff" stroke-width="2.0" fill="none" stroke-linecap="round" stroke-linejoin="round"/>
<path d="M171.8,140.3 C172.1,141.4 172.5,145.3 173.5,147.0 C174.5,148.7 176.0,150.1 177.7,150.4 C179.4,150.7 182.6,149.0 183.6,148.7" stroke="#8c8c8c" stroke-width="3.50" fill="none" stroke-linecap="round" stroke-linejoin="round"/>
<path d="M171.8,140.3 C172.1,141.4 172.5,145.3 173.5,147.0 C174.5,148.7 176.0,150.1 177.7,150.4 C179.4,150.7 182.6,149.0 183.6,148.7" stroke="#ffffff" stroke-width="2.0" fill="none" stroke-linecap="round" stroke-linejoin="round"/>
<path d="M192.0,104.3 C192.6,104.8 193.9,106.8 195.3,107.6 C196.7,108.4 199.0,108.2 200.3,109.3 C201.6,110.4 202.9,112.8 202.9,114.3 C202.9,115.8 201.7,117.7 200.3,118.5 C198.9,119.3 196.0,119.8 194.5,119.4 C193.0,119.0 191.7,116.6 191.1,116.0" stroke="#8c8c8c" stroke-width="3.50" fill="none" stroke-linecap="round" stroke-linejoin="round"/>
<path d="M192.0,104.3 C192.6,104.8 193.9,106.8 195.3,107.6 C196.7,108.4 199.0,108.2 200.3,109.3 C201.6,110.4 202.9,112.8 202.9,114.3 C202.9,115.8 201.7,117.7 200.3,118.5 C198.9,119.3 196.0,119.8 194.5,119.4 C193.0,119.0 191.7,116.6 191.1,116.0" stroke="#ffffff" stroke-width="2.0" fill="none" stroke-linecap="round" stroke-linejoin="round"/>
<path d="M179.4,125.2 C179.4,124.7 178.9,123.2 179.4,121.9 C179.9,120.7 181.4,118.7 182.7,117.7 C183.9,116.7 185.8,116.4 186.9,116.0 C188.0,115.6 189.0,115.3 189.4,115.2" stroke="#8c8c8c" stroke-width="3.50" fill="none" stroke-linecap="round" stroke-linejoin="round"/>
<path d="M179.4,125.2 C179.4,124.7 178.9,123.2 179.4,121.9 C179.9,120.7 181.4,118.7 182.7,117.7 C183.9,116.7 185.8,116.4 186.9,116.0 C188.0,115.6 189.0,115.3 189.4,115.2" stroke="#ffffff" stroke-width="2.0" fill="none" stroke-linecap="round" stroke-linejoin="round"/>
<path d="M202.0,91.7 C202.4,92.5 203.1,95.5 204.5,96.7 C205.9,98.0 208.7,99.1 210.4,99.2 C212.1,99.3 213.6,98.8 214.6,97.6 C215.6,96.3 215.9,93.3 216.3,91.7 C216.7,90.1 217.0,88.6 217.1,88.0" stroke="#8c8c8c" stroke-width="3.50" fill="none" stroke-linecap="round" stroke-linejoin="round"/>
<path d="M202.0,91.7 C202.4,92.5 203.1,95.5 204.5,96.7 C205.9,98.0 208.7,99.1 210.4,99.2 C212.1,99.3 213.6,98.8 214.6,97.6 C215.6,96.3 215.9,93.3 216.3,91.7 C216.7,90.1 217.0,88.6 217.1,88.0" stroke="#ffffff" stroke-width="2.0" fill="none" stroke-linecap="round" stroke-linejoin="round"/>
<path d="M222.1,88.0 C222.5,88.9 224.8,91.7 224.7,93.4 C224.6,95.1 222.6,97.6 221.3,98.4 C220.0,99.2 217.8,98.4 217.1,98.4" stroke="#8c8c8c" stroke-width="3.50" fill="none" stroke-linecap="round" stroke-linejoin="round"/>
<path d="M222.1,88.0 C222.5,88.9 224.8,91.7 224.7,93.4 C224.6,95.1 222.6,97.6 221.3,98.4 C220.0,99.2 217.8,98.4 217.1,98.4" stroke="#ffffff" stroke-width="2.0" fill="none" stroke-linecap="round" stroke-linejoin="round"/>
<path d="M166.0,80.0 C166.3,81.0 166.5,84.7 168.0,86.0 C169.5,87.3 172.7,88.3 175.0,88.0 C177.3,87.7 180.2,85.7 182.0,84.0 C183.8,82.3 185.3,79.0 186.0,78.0" stroke="#8c8c8c" stroke-width="3.50" fill="none" stroke-linecap="round" stroke-linejoin="round"/>
<path d="M166.0,80.0 C166.3,81.0 166.5,84.7 168.0,86.0 C169.5,87.3 172.7,88.3 175.0,88.0 C177.3,87.7 180.2,85.7 182.0,84.0 C183.8,82.3 185.3,79.0 186.0,78.0" stroke="#ffffff" stroke-width="2.0" fill="none" stroke-linecap="round" stroke-linejoin="round"/></g>
<path class="k" stroke="#2a7d70" stroke-width="2.8" d="M178.2 528.5l2.2 -7.5l3.8 -1.6m-3.8 1.6l-2.6 -3.7M128.1 498.3l6.2 -2.3l3.2 2m-3.2 -2l.8 -2.4M165.2 474.4l-6.1 -1.7l-.9 -2.1m.9 2.1l-2.1 1.5M190.2 465l1.3 -4.4l2.1 -.8m-2.1 .8l-1 -1.4M143.3 471.1l7.4 -.8l2.2 2.2m-2.2 -2.2l2.4 -3.7M171.1 521.5l2.2 7.5l-2.3 3.3m2.3 -3.3l4.3 1.7"/>
<path class="k" stroke="#42ae9e" stroke-width="1.9" d="M178.2 528.5l2.2 -7.5l3.8 -1.6m-3.8 1.6l-2.6 -3.7M128.1 498.3l6.2 -2.3l3.2 2m-3.2 -2l.8 -2.4M165.2 474.4l-6.1 -1.7l-.9 -2.1m.9 2.1l-2.1 1.5M190.2 465l1.3 -4.4l2.1 -.8m-2.1 .8l-1 -1.4M143.3 471.1l7.4 -.8l2.2 2.2m-2.2 -2.2l2.4 -3.7M171.1 521.5l2.2 7.5l-2.3 3.3m2.3 -3.3l4.3 1.7"/>
<path class="k" stroke="#2a7d70" stroke-width="2.8" d="M201 480.1l-3 3.6l-1.8 -.1m1.8 .1l.3 1.7M151.1 513.3l6.7 .1l1.8 2.3m-1.8 -2.3l1.8 -2.2M194.7 500l-2.4 5.4l-3 .8m3 -.8l1 1.9M188.9 539.7l7.1 .8l1.7 2.7m-1.7 -2.7l2.5 -2.5M142.2 530l7 -3.3l3 1.5m-3 -1.5l.8 -3.3M169.9 532.1l5.4 4.4l0 3.8m0 -3.8l3.9 -.9"/>
<path class="k" stroke="#42ae9e" stroke-width="1.9" d="M201 480.1l-3 3.6l-1.8 -.1m1.8 .1l.3 1.7M151.1 513.3l6.7 .1l1.8 2.3m-1.8 -2.3l1.8 -2.2M194.7 500l-2.4 5.4l-3 .8m3 -.8l1 1.9M188.9 539.7l7.1 .8l1.7 2.7m-1.7 -2.7l2.5 -2.5M142.2 530l7 -3.3l3 1.5m-3 -1.5l.8 -3.3M169.9 532.1l5.4 4.4l0 3.8m0 -3.8l3.9 -.9"/>
<path class="k" stroke="#2a7d70" stroke-width="2.8" d="M177.2 547.7l-4.1 6.5l-3.7 .4m3.7 -.4l1.1 3.1M152.4 466.9l4.1 2.2l.4 2.4m-.4 -2.4l2.5 -1.1M159.9 473.4l-6.1 -4.1l-.3 -3.4m.3 3.4l-3.2 1M128.4 501.4l2.4 -3.8l2.4 -.3m-2.4 .3l-.9 -2.5M178.8 533.5l4.5 3.6l0 2.2m0 -2.2l3.1 -.7M150.5 497l7.4 0l2.8 3.4m-2.8 -3.4l2.1 -2.7"/>
<path class="k" stroke="#42ae9e" stroke-width="1.9" d="M177.2 547.7l-4.1 6.5l-3.7 .4m3.7 -.4l1.1 3.1M152.4 466.9l4.1 2.2l.4 2.4m-.4 -2.4l2.5 -1.1M159.9 473.4l-6.1 -4.1l-.3 -3.4m.3 3.4l-3.2 1M128.4 501.4l2.4 -3.8l2.4 -.3m-2.4 .3l-.9 -2.5M178.8 533.5l4.5 3.6l0 2.2m0 -2.2l3.1 -.7M150.5 497l7.4 0l2.8 3.4m-2.8 -3.4l2.1 -2.7"/>
<path class="k" stroke="#2a7d70" stroke-width="2.8" d="M166.8 527.1l-5.1 .7l-1.7 -1.6m1.7 1.6l-1 1.7M167.8 484.5l4.3 2.7l.3 2.8m-.3 -2.8l2.7 -1M156.1 533.3l1.1 -6.7l3 -1.7m-3 1.7l-2.5 -2.7M156.3 524.4l-1.1 5.8l-2.9 1.5m2.9 -1.5l2 2.4M180.4 510.9l6.2 .4l1.4 2.1m-1.4 -2.1l2.2 -2.4M164.7 536.6l-4.3 -5.7l.8 -3m-.8 3l-3.7 -.1"/>
<path class="k" stroke="#42ae9e" stroke-width="1.9" d="M166.8 527.1l-5.1 .7l-1.7 -1.6m1.7 1.6l-1 1.7M167.8 484.5l4.3 2.7l.3 2.8m-.3 -2.8l2.7 -1M156.1 533.3l1.1 -6.7l3 -1.7m-3 1.7l-2.5 -2.7M156.3 524.4l-1.1 5.8l-2.9 1.5m2.9 -1.5l2 2.4M180.4 510.9l6.2 .4l1.4 2.1m-1.4 -2.1l2.2 -2.4M164.7 536.6l-4.3 -5.7l.8 -3m-.8 3l-3.7 -.1"/>
<path class="k" stroke="#2a7d70" stroke-width="2.8" d="M187.9 537.9l-4.3 6l-4.2 .2m4.2 -.2l1 3.7M169.3 505.3l3.7 6.4l-1.6 4m1.6 -4l3.4 .5M184 526l-.6 -4.7l1.8 -1.8m-1.8 1.8l-2 -1.2M181.8 493.4l-5.1 -5l.4 -3.6m-.4 3.6l-3.7 .5M162.8 518.5l1.3 6.6l-2.2 2.6m2.2 -2.6l2.2 1.1M165.4 472.2l4.3 1.5l.6 1.8m-.6 -1.8l1.5 -1"/>
<path class="k" stroke="#42ae9e" stroke-width="1.9" d="M187.9 537.9l-4.3 6l-4.2 .2m4.2 -.2l1 3.7M169.3 505.3l3.7 6.4l-1.6 4m1.6 -4l3.4 .5M184 526l-.6 -4.7l1.8 -1.8m-1.8 1.8l-2 -1.2M181.8 493.4l-5.1 -5l.4 -3.6m-.4 3.6l-3.7 .5M162.8 518.5l1.3 6.6l-2.2 2.6m2.2 -2.6l2.2 1.1M165.4 472.2l4.3 1.5l.6 1.8m-.6 -1.8l1.5 -1"/>
<path class="k" stroke="#2a7d70" stroke-width="2.8" d="M164.9 489l-4.9 -4.1l.1 -2.6m-.1 2.6l-3.6 .7M149.1 492.3l5.5 4.8l-.2 3.2m.2 -3.2l2.6 -.5M177.4 457.9l-5.1 -1.5l-1 -2.5m1 2.5l-2.6 1.8M194.7 493.3l2.5 -6.1l2.8 -.8m-2.8 .8l-1.2 -2.2M175.9 509l7.6 -2.1l3.2 2.3m-3.2 -2.3l1.3 -3.2M134.7 509.3l-3.4 -3l.1 -2.3m-.1 2.3l-2.6 .5"/>
<path class="k" stroke="#42ae9e" stroke-width="1.9" d="M164.9 489l-4.9 -4.1l.1 -2.6m-.1 2.6l-3.6 .7M149.1 492.3l5.5 4.8l-.2 3.2m.2 -3.2l2.6 -.5M177.4 457.9l-5.1 -1.5l-1 -2.5m1 2.5l-2.6 1.8M194.7 493.3l2.5 -6.1l2.8 -.8m-2.8 .8l-1.2 -2.2M175.9 509l7.6 -2.1l3.2 2.3m-3.2 -2.3l1.3 -3.2M134.7 509.3l-3.4 -3l.1 -2.3m-.1 2.3l-2.6 .5"/>
<path class="k" stroke="#2a7d70" stroke-width="2.8" d="M157.3 494.6l.8 5.1l-2.1 2.2m2.1 -2.2l2 1.1M175.9 475.9l5.9 -.7l1.9 1.9m-1.9 -1.9l1.3 -2.2M149.8 499.6l4.7 4.5l-.3 3m.3 -3l2.7 -.4M191.6 537.7l6.1 .5l1.4 2.1m-1.4 -2.1l2.4 -2.6M191.6 474.3l-.5 4.6l-2.3 1.5m2.3 -1.5l1.4 1.4M176.9 499.3l-3.9 -5.1l.8 -3.3m-.8 3.3l-2.4 0"/>
<path class="k" stroke="#42ae9e" stroke-width="1.9" d="M157.3 494.6l.8 5.1l-2.1 2.2m2.1 -2.2l2 1.1M175.9 475.9l5.9 -.7l1.9 1.9m-1.9 -1.9l1.3 -2.2M149.8 499.6l4.7 4.5l-.3 3m.3 -3l2.7 -.4M191.6 537.7l6.1 .5l1.4 2.1m-1.4 -2.1l2.4 -2.6M191.6 474.3l-.5 4.6l-2.3 1.5m2.3 -1.5l1.4 1.4M176.9 499.3l-3.9 -5.1l.8 -3.3m-.8 3.3l-2.4 0"/>
<path class="k" stroke="#2a7d70" stroke-width="2.8" d="M189.8 480.3l-5.2 -1.1l-1 -2m1 2l-2 1.6M164.8 486.9l-.2 -6.4l1.7 -1.5m-1.7 1.5l-2.1 -1.6M164.1 547.5l4.7 -4l2.1 .4m-2.1 -.4l-.1 -3.4M161.7 510.3l-1.7 -6.3l1.8 -2.5m-1.8 2.5l-3.5 -1.5M158.2 490.3l2.9 -3.8l2 -.1m-2 .1l-.7 -2.6M184.2 494.8l-1.6 6.9l-3.7 1.8m3.7 -1.8l1.7 2.2"/>
<path class="k" stroke="#42ae9e" stroke-width="1.9" d="M189.8 480.3l-5.2 -1.1l-1 -2m1 2l-2 1.6M164.8 486.9l-.2 -6.4l1.7 -1.5m-1.7 1.5l-2.1 -1.6M164.1 547.5l4.7 -4l2.1 .4m-2.1 -.4l-.1 -3.4M161.7 510.3l-1.7 -6.3l1.8 -2.5m-1.8 2.5l-3.5 -1.5M158.2 490.3l2.9 -3.8l2 -.1m-2 .1l-.7 -2.6M184.2 494.8l-1.6 6.9l-3.7 1.8m3.7 -1.8l1.7 2.2"/>
<path class="k" stroke="#2a7d70" stroke-width="2.8" d="M166 507.4l-5.3 .1l-1.3 -1.6m1.3 1.6l-1.6 2.1M145 536.9l1.7 -6.4l2.2 -.9m-2.2 .9l-2.1 -2.8M196.7 471.5l-4.8 -6.2l1 -4m-1 4l-3 0M138.3 514.1l-4 2.4l-2.2 -.8m2.2 .8l-.2 1.7M174.2 528.5l3.3 -3.1l2.1 .3m-2.1 -.3l-.2 -1.9M176.3 500.9l5.1 -2.1l1.7 1m-1.7 -1l.8 -2.8"/>
<path class="k" stroke="#42ae9e" stroke-width="1.9" d="M166 507.4l-5.3 .1l-1.3 -1.6m1.3 1.6l-1.6 2.1M145 536.9l1.7 -6.4l2.2 -.9m-2.2 .9l-2.1 -2.8M196.7 471.5l-4.8 -6.2l1 -4m-1 4l-3 0M138.3 514.1l-4 2.4l-2.2 -.8m2.2 .8l-.2 1.7M174.2 528.5l3.3 -3.1l2.1 .3m-2.1 -.3l-.2 -1.9M176.3 500.9l5.1 -2.1l1.7 1m-1.7 -1l.8 -2.8"/>
<path class="k" stroke="#2a7d70" stroke-width="2.8" d="M138.4 516.4l-7.6 -.3l-2.2 -3m2.2 3l-2.5 2.9M147.8 507.7l-.2 7l-2.7 2m2.7 -2l2.1 1.7M145.4 488l-.4 -4.7l1.8 -1.7m-1.8 1.7l-2 -1.3M175.7 473.6l4.2 -4.1l2.5 .3m-2.5 -.3l-.3 -3.2M194.9 462.8l-3.8 -3.8l.3 -2.2m-.3 2.2l-2.3 .3M177.4 485.6l-3.4 3l-2.5 -.5m2.5 .5l.1 2.3"/>
<path class="k" stroke="#42ae9e" stroke-width="1.9" d="M138.4 516.4l-7.6 -.3l-2.2 -3m2.2 3l-2.5 2.9M147.8 507.7l-.2 7l-2.7 2m2.7 -2l2.1 1.7M145.4 488l-.4 -4.7l1.8 -1.7m-1.8 1.7l-2 -1.3M175.7 473.6l4.2 -4.1l2.5 .3m-2.5 -.3l-.3 -3.2M194.9 462.8l-3.8 -3.8l.3 -2.2m-.3 2.2l-2.3 .3M177.4 485.6l-3.4 3l-2.5 -.5m2.5 .5l.1 2.3"/>
<rect x="148.5" y="450.0" width="33.9" height="14.0" rx="5.6" transform="rotate(21.8,165.5,457.0)" fill="#4db4a4" opacity="0.9"/>
<rect x="136.2" y="470.5" width="31.6" height="13.0" rx="5.2" transform="rotate(61.4,152.0,477.0)" fill="#4db4a4" opacity="0.9"/>
<rect x="141.8" y="489.0" width="82.3" height="18.0" rx="7.2" transform="rotate(79.0,183.0,498.0)" fill="#4db4a4" opacity="0.9"/>
<rect x="115.5" y="500.0" width="65.0" height="18.0" rx="7.2" transform="rotate(-2.0,148.0,509.0)" fill="#4db4a4" opacity="0.9"/>
<rect x="142.9" y="526.5" width="54.2" height="19.0" rx="7.6" transform="rotate(-10.3,170.0,536.0)" fill="#4db4a4" opacity="0.9"/>
<path class="k" stroke="#2a7d70" stroke-width="4.6" d="M150.4,458.5 L151.8,458.8 L153.4,458.7 L154.9,458.1 L156.5,457.2 L157.9,455.9 L159.1,454.4 L160.0,452.9 L160.7,451.3 L161.1,449.9 L161.2,448.8 L161.0,447.9 L160.6,447.5 L160.0,447.5 L159.3,448.0 L158.6,448.9 L157.9,450.2 L157.3,451.8 L156.9,453.6 L156.8,455.5 L156.9,457.3 L157.4,459.1 L158.1,460.6 L159.1,461.7 L160.4,462.5 L161.8,462.8 L163.4,462.7 L164.9,462.1 L166.5,461.2 L167.9,459.9 L169.1,458.4 L170.0,456.9 L170.7,455.3 L171.1,453.9 L171.2,452.8 L171.0,451.9 L170.6,451.5 L170.0,451.5 L169.3,452.0 L168.6,452.9 L167.9,454.2 L167.3,455.8 L166.9,457.6 L166.8,459.5 L166.9,461.3 L167.4,463.1 L168.1,464.6 L169.1,465.7 L170.4,466.5 L171.8,466.8 L173.4,466.7 L174.9,466.1 L176.5,465.2 L177.9,463.9 L179.1,462.4 L180.0,460.9 L180.7,459.3 L181.1,457.9 L181.2,456.8 L181.0,455.9 L180.6,455.5"/>
<path class="k" stroke="#42ae9e" stroke-width="3.6" d="M150.4,458.5 L151.8,458.8 L153.4,458.7 L154.9,458.1 L156.5,457.2 L157.9,455.9 L159.1,454.4 L160.0,452.9 L160.7,451.3 L161.1,449.9 L161.2,448.8 L161.0,447.9 L160.6,447.5 L160.0,447.5 L159.3,448.0 L158.6,448.9 L157.9,450.2 L157.3,451.8 L156.9,453.6 L156.8,455.5 L156.9,457.3 L157.4,459.1 L158.1,460.6 L159.1,461.7 L160.4,462.5 L161.8,462.8 L163.4,462.7 L164.9,462.1 L166.5,461.2 L167.9,459.9 L169.1,458.4 L170.0,456.9 L170.7,455.3 L171.1,453.9 L171.2,452.8 L171.0,451.9 L170.6,451.5 L170.0,451.5 L169.3,452.0 L168.6,452.9 L167.9,454.2 L167.3,455.8 L166.9,457.6 L166.8,459.5 L166.9,461.3 L167.4,463.1 L168.1,464.6 L169.1,465.7 L170.4,466.5 L171.8,466.8 L173.4,466.7 L174.9,466.1 L176.5,465.2 L177.9,463.9 L179.1,462.4 L180.0,460.9 L180.7,459.3 L181.1,457.9 L181.2,456.8 L181.0,455.9 L180.6,455.5"/>
<path class="k" stroke="#2a7d70" stroke-width="4.6" d="M140.3,469.1 L141.2,470.3 L142.4,471.2 L143.9,471.8 L145.6,472.1 L147.4,472.1 L149.2,471.9 L150.9,471.4 L152.3,470.8 L153.5,470.1 L154.3,469.5 L154.7,468.8 L154.7,468.4 L154.3,468.1 L153.6,468.2 L152.6,468.5 L151.4,469.1 L150.1,470.0 L148.8,471.1 L147.6,472.5 L146.7,474.0 L146.0,475.6 L145.7,477.2 L145.8,478.7 L146.3,480.1 L147.2,481.3 L148.4,482.2 L149.9,482.8 L151.6,483.1 L153.4,483.1 L155.2,482.9 L156.9,482.4 L158.3,481.8 L159.5,481.1 L160.3,480.5 L160.7,479.8 L160.7,479.4 L160.3,479.1 L159.6,479.2 L158.6,479.5 L157.4,480.1 L156.1,481.0 L154.8,482.1 L153.6,483.5 L152.7,485.0 L152.0,486.6 L151.7,488.2 L151.8,489.7 L152.3,491.1"/>
<path class="k" stroke="#42ae9e" stroke-width="3.6" d="M140.3,469.1 L141.2,470.3 L142.4,471.2 L143.9,471.8 L145.6,472.1 L147.4,472.1 L149.2,471.9 L150.9,471.4 L152.3,470.8 L153.5,470.1 L154.3,469.5 L154.7,468.8 L154.7,468.4 L154.3,468.1 L153.6,468.2 L152.6,468.5 L151.4,469.1 L150.1,470.0 L148.8,471.1 L147.6,472.5 L146.7,474.0 L146.0,475.6 L145.7,477.2 L145.8,478.7 L146.3,480.1 L147.2,481.3 L148.4,482.2 L149.9,482.8 L151.6,483.1 L153.4,483.1 L155.2,482.9 L156.9,482.4 L158.3,481.8 L159.5,481.1 L160.3,480.5 L160.7,479.8 L160.7,479.4 L160.3,479.1 L159.6,479.2 L158.6,479.5 L157.4,480.1 L156.1,481.0 L154.8,482.1 L153.6,483.5 L152.7,485.0 L152.0,486.6 L151.7,488.2 L151.8,489.7 L152.3,491.1"/>
<path class="k" stroke="#2a7d70" stroke-width="4.6" d="M167.2,463.7 L167.8,465.4 L169.0,466.9 L170.7,468.2 L172.8,469.1 L175.1,469.6 L177.5,469.9 L179.9,469.7 L182.0,469.3 L183.8,468.7 L185.1,467.9 L185.8,467.1 L186.0,466.3 L185.6,465.6 L184.5,465.1 L183.0,464.8 L181.2,464.9 L179.0,465.4 L176.8,466.1 L174.6,467.3 L172.7,468.7 L171.1,470.3 L170.0,472.1 L169.5,473.9 L169.5,475.7 L170.1,477.4 L171.3,478.9 L173.0,480.2 L175.1,481.1 L177.4,481.6 L179.9,481.9 L182.2,481.7 L184.3,481.3 L186.1,480.7 L187.4,479.9 L188.2,479.1 L188.3,478.3 L187.9,477.6 L186.9,477.1 L185.4,476.8 L183.5,476.9 L181.4,477.4 L179.1,478.1 L177.0,479.3 L175.0,480.7 L173.5,482.3 L172.3,484.1 L171.8,485.9 L171.8,487.7 L172.5,489.4 L173.7,490.9 L175.4,492.2 L177.5,493.1 L179.8,493.6 L182.2,493.9 L184.5,493.7 L186.7,493.3 L188.5,492.7 L189.8,491.9 L190.5,491.1 L190.7,490.3 L190.2,489.6 L189.2,489.1 L187.7,488.8 L185.8,488.9 L183.7,489.4 L181.5,490.1 L179.3,491.3 L177.4,492.7 L175.8,494.3 L174.7,496.1 L174.1,497.9 L174.2,499.7 L174.8,501.4 L176.0,502.9 L177.7,504.2 L179.8,505.1 L182.1,505.6 L184.5,505.9 L186.9,505.7 L189.0,505.3 L190.8,504.7 L192.1,503.9 L192.8,503.1 L193.0,502.3 L192.6,501.6 L191.5,501.1 L190.0,500.8 L188.2,500.9 L186.0,501.4 L183.8,502.1 L181.6,503.3 L179.7,504.7 L178.1,506.3 L177.0,508.1 L176.5,509.9 L176.5,511.7 L177.1,513.4 L178.3,514.9 L180.0,516.2 L182.1,517.1 L184.4,517.6 L186.9,517.9 L189.2,517.7 L191.3,517.3 L193.1,516.7 L194.4,515.9 L195.2,515.1 L195.3,514.3 L194.9,513.6 L193.9,513.1 L192.4,512.8 L190.5,512.9 L188.4,513.4 L186.1,514.1 L184.0,515.3 L182.0,516.7 L180.5,518.3 L179.3,520.1 L178.8,521.9 L178.8,523.7 L179.5,525.4 L180.7,526.9 L182.4,528.2 L184.5,529.1 L186.8,529.6 L189.2,529.9 L191.5,529.7 L193.7,529.3 L195.5,528.7 L196.8,527.9 L197.5,527.1 L197.7,526.3 L197.2,525.6 L196.2,525.1 L194.7,524.8 L192.8,524.9 L190.7,525.4 L188.5,526.1 L186.3,527.3 L184.4,528.7 L182.8,530.3 L181.7,532.1 L181.1,533.9 L181.2,535.7"/>
<path class="k" stroke="#42ae9e" stroke-width="3.6" d="M167.2,463.7 L167.8,465.4 L169.0,466.9 L170.7,468.2 L172.8,469.1 L175.1,469.6 L177.5,469.9 L179.9,469.7 L182.0,469.3 L183.8,468.7 L185.1,467.9 L185.8,467.1 L186.0,466.3 L185.6,465.6 L184.5,465.1 L183.0,464.8 L181.2,464.9 L179.0,465.4 L176.8,466.1 L174.6,467.3 L172.7,468.7 L171.1,470.3 L170.0,472.1 L169.5,473.9 L169.5,475.7 L170.1,477.4 L171.3,478.9 L173.0,480.2 L175.1,481.1 L177.4,481.6 L179.9,481.9 L182.2,481.7 L184.3,481.3 L186.1,480.7 L187.4,479.9 L188.2,479.1 L188.3,478.3 L187.9,477.6 L186.9,477.1 L185.4,476.8 L183.5,476.9 L181.4,477.4 L179.1,478.1 L177.0,479.3 L175.0,480.7 L173.5,482.3 L172.3,484.1 L171.8,485.9 L171.8,487.7 L172.5,489.4 L173.7,490.9 L175.4,492.2 L177.5,493.1 L179.8,493.6 L182.2,493.9 L184.5,493.7 L186.7,493.3 L188.5,492.7 L189.8,491.9 L190.5,491.1 L190.7,490.3 L190.2,489.6 L189.2,489.1 L187.7,488.8 L185.8,488.9 L183.7,489.4 L181.5,490.1 L179.3,491.3 L177.4,492.7 L175.8,494.3 L174.7,496.1 L174.1,497.9 L174.2,499.7 L174.8,501.4 L176.0,502.9 L177.7,504.2 L179.8,505.1 L182.1,505.6 L184.5,505.9 L186.9,505.7 L189.0,505.3 L190.8,504.7 L192.1,503.9 L192.8,503.1 L193.0,502.3 L192.6,501.6 L191.5,501.1 L190.0,500.8 L188.2,500.9 L186.0,501.4 L183.8,502.1 L181.6,503.3 L179.7,504.7 L178.1,506.3 L177.0,508.1 L176.5,509.9 L176.5,511.7 L177.1,513.4 L178.3,514.9 L180.0,516.2 L182.1,517.1 L184.4,517.6 L186.9,517.9 L189.2,517.7 L191.3,517.3 L193.1,516.7 L194.4,515.9 L195.2,515.1 L195.3,514.3 L194.9,513.6 L193.9,513.1 L192.4,512.8 L190.5,512.9 L188.4,513.4 L186.1,514.1 L184.0,515.3 L182.0,516.7 L180.5,518.3 L179.3,520.1 L178.8,521.9 L178.8,523.7 L179.5,525.4 L180.7,526.9 L182.4,528.2 L184.5,529.1 L186.8,529.6 L189.2,529.9 L191.5,529.7 L193.7,529.3 L195.5,528.7 L196.8,527.9 L197.5,527.1 L197.7,526.3 L197.2,525.6 L196.2,525.1 L194.7,524.8 L192.8,524.9 L190.7,525.4 L188.5,526.1 L186.3,527.3 L184.4,528.7 L182.8,530.3 L181.7,532.1 L181.1,533.9 L181.2,535.7"/>
<path class="k" stroke="#2a7d70" stroke-width="4.6" d="M120.3,519.0 L122.1,518.6 L123.8,517.7 L125.3,516.2 L126.5,514.3 L127.5,512.1 L128.1,509.7 L128.3,507.4 L128.3,505.2 L127.9,503.3 L127.4,501.9 L126.7,501.1 L125.9,500.8 L125.2,501.1 L124.5,502.0 L124.1,503.5 L123.9,505.4 L124.0,507.5 L124.4,509.8 L125.2,512.1 L126.2,514.3 L127.6,516.1 L129.2,517.5 L131.0,518.3 L132.8,518.5 L134.6,518.2 L136.2,517.2 L137.7,515.7 L139.0,513.8 L139.9,511.6 L140.5,509.3 L140.8,506.9 L140.7,504.8 L140.4,502.9 L139.8,501.5 L139.1,500.6 L138.3,500.3 L137.6,500.7 L137.0,501.6 L136.5,503.0 L136.3,504.9 L136.4,507.1 L136.8,509.4 L137.6,511.7 L138.7,513.8 L140.1,515.7 L141.7,517.0 L143.4,517.9 L145.2,518.1 L147.0,517.7 L148.7,516.8 L150.2,515.3 L151.4,513.4 L152.3,511.2 L152.9,508.8 L153.2,506.5 L153.2,504.3 L152.8,502.5 L152.3,501.0 L151.6,500.2 L150.8,499.9 L150.0,500.2 L149.4,501.2 L148.9,502.6 L148.7,504.5 L148.8,506.6 L149.3,509.0 L150.0,511.3 L151.1,513.4 L152.5,515.2 L154.1,516.6 L155.8,517.4 L157.7,517.7 L159.4,517.3 L161.1,516.3 L162.6,514.8 L163.9,512.9 L164.8,510.7 L165.4,508.4 L165.7,506.0 L165.6,503.9 L165.3,502.0 L164.7,500.6 L164.0,499.7 L163.2,499.5 L162.5,499.8 L161.8,500.7 L161.4,502.2 L161.2,504.0 L161.3,506.2 L161.7,508.5 L162.5,510.8 L163.6,512.9 L165.0,514.8 L166.5,516.1 L168.3,517.0 L170.1,517.2 L171.9,516.8 L173.6,515.9 L175.1,514.4 L176.3,512.5 L177.2,510.3 L177.8,507.9 L178.1,505.6 L178.0,503.4 L177.7,501.6 L177.2,500.2 L176.5,499.3 L175.7,499.0"/>
<path class="k" stroke="#42ae9e" stroke-width="3.6" d="M120.3,519.0 L122.1,518.6 L123.8,517.7 L125.3,516.2 L126.5,514.3 L127.5,512.1 L128.1,509.7 L128.3,507.4 L128.3,505.2 L127.9,503.3 L127.4,501.9 L126.7,501.1 L125.9,500.8 L125.2,501.1 L124.5,502.0 L124.1,503.5 L123.9,505.4 L124.0,507.5 L124.4,509.8 L125.2,512.1 L126.2,514.3 L127.6,516.1 L129.2,517.5 L131.0,518.3 L132.8,518.5 L134.6,518.2 L136.2,517.2 L137.7,515.7 L139.0,513.8 L139.9,511.6 L140.5,509.3 L140.8,506.9 L140.7,504.8 L140.4,502.9 L139.8,501.5 L139.1,500.6 L138.3,500.3 L137.6,500.7 L137.0,501.6 L136.5,503.0 L136.3,504.9 L136.4,507.1 L136.8,509.4 L137.6,511.7 L138.7,513.8 L140.1,515.7 L141.7,517.0 L143.4,517.9 L145.2,518.1 L147.0,517.7 L148.7,516.8 L150.2,515.3 L151.4,513.4 L152.3,511.2 L152.9,508.8 L153.2,506.5 L153.2,504.3 L152.8,502.5 L152.3,501.0 L151.6,500.2 L150.8,499.9 L150.0,500.2 L149.4,501.2 L148.9,502.6 L148.7,504.5 L148.8,506.6 L149.3,509.0 L150.0,511.3 L151.1,513.4 L152.5,515.2 L154.1,516.6 L155.8,517.4 L157.7,517.7 L159.4,517.3 L161.1,516.3 L162.6,514.8 L163.9,512.9 L164.8,510.7 L165.4,508.4 L165.7,506.0 L165.6,503.9 L165.3,502.0 L164.7,500.6 L164.0,499.7 L163.2,499.5 L162.5,499.8 L161.8,500.7 L161.4,502.2 L161.2,504.0 L161.3,506.2 L161.7,508.5 L162.5,510.8 L163.6,512.9 L165.0,514.8 L166.5,516.1 L168.3,517.0 L170.1,517.2 L171.9,516.8 L173.6,515.9 L175.1,514.4 L176.3,512.5 L177.2,510.3 L177.8,507.9 L178.1,505.6 L178.0,503.4 L177.7,501.6 L177.2,500.2 L176.5,499.3 L175.7,499.0"/>
<path class="k" stroke="#2a7d70" stroke-width="4.6" d="M149.7,549.3 L151.4,548.7 L153.0,547.5 L154.2,545.7 L155.1,543.5 L155.7,541.1 L155.9,538.6 L155.7,536.1 L155.3,533.9 L154.6,532.0 L153.7,530.6 L152.7,529.8 L151.8,529.7 L151.0,530.1 L150.4,531.2 L150.0,532.8 L150.0,534.8 L150.4,537.1 L151.1,539.4 L152.2,541.7 L153.6,543.8 L155.2,545.5 L157.0,546.7 L158.9,547.4 L160.7,547.3 L162.4,546.7 L164.0,545.5 L165.2,543.7 L166.1,541.5 L166.7,539.1 L166.9,536.6 L166.7,534.1 L166.3,531.9 L165.6,530.0 L164.7,528.6 L163.7,527.8 L162.8,527.7 L162.0,528.1 L161.4,529.2 L161.0,530.8 L161.0,532.8 L161.4,535.1 L162.1,537.4 L163.2,539.7 L164.6,541.8 L166.2,543.5 L168.0,544.7 L169.9,545.4 L171.7,545.3 L173.4,544.7 L175.0,543.5 L176.2,541.7 L177.1,539.5 L177.7,537.1 L177.9,534.6 L177.7,532.1 L177.3,529.9 L176.6,528.0 L175.7,526.6 L174.7,525.8 L173.8,525.7 L173.0,526.1 L172.4,527.2 L172.0,528.8 L172.0,530.8 L172.4,533.1 L173.1,535.4 L174.2,537.7 L175.6,539.8 L177.2,541.5 L179.0,542.7 L180.9,543.4 L182.7,543.3 L184.4,542.7 L186.0,541.5 L187.2,539.7 L188.1,537.5 L188.7,535.1 L188.9,532.6 L188.7,530.1 L188.3,527.9 L187.6,526.0 L186.7,524.6 L185.7,523.8 L184.8,523.7 L184.0,524.1 L183.4,525.2 L183.0,526.8 L183.0,528.8 L183.4,531.1 L184.1,533.4 L185.2,535.7 L186.6,537.8 L188.2,539.5 L190.0,540.7 L191.9,541.4 L193.7,541.3"/>
<path class="k" stroke="#42ae9e" stroke-width="3.6" d="M149.7,549.3 L151.4,548.7 L153.0,547.5 L154.2,545.7 L155.1,543.5 L155.7,541.1 L155.9,538.6 L155.7,536.1 L155.3,533.9 L154.6,532.0 L153.7,530.6 L152.7,529.8 L151.8,529.7 L151.0,530.1 L150.4,531.2 L150.0,532.8 L150.0,534.8 L150.4,537.1 L151.1,539.4 L152.2,541.7 L153.6,543.8 L155.2,545.5 L157.0,546.7 L158.9,547.4 L160.7,547.3 L162.4,546.7 L164.0,545.5 L165.2,543.7 L166.1,541.5 L166.7,539.1 L166.9,536.6 L166.7,534.1 L166.3,531.9 L165.6,530.0 L164.7,528.6 L163.7,527.8 L162.8,527.7 L162.0,528.1 L161.4,529.2 L161.0,530.8 L161.0,532.8 L161.4,535.1 L162.1,537.4 L163.2,539.7 L164.6,541.8 L166.2,543.5 L168.0,544.7 L169.9,545.4 L171.7,545.3 L173.4,544.7 L175.0,543.5 L176.2,541.7 L177.1,539.5 L177.7,537.1 L177.9,534.6 L177.7,532.1 L177.3,529.9 L176.6,528.0 L175.7,526.6 L174.7,525.8 L173.8,525.7 L173.0,526.1 L172.4,527.2 L172.0,528.8 L172.0,530.8 L172.4,533.1 L173.1,535.4 L174.2,537.7 L175.6,539.8 L177.2,541.5 L179.0,542.7 L180.9,543.4 L182.7,543.3 L184.4,542.7 L186.0,541.5 L187.2,539.7 L188.1,537.5 L188.7,535.1 L188.9,532.6 L188.7,530.1 L188.3,527.9 L187.6,526.0 L186.7,524.6 L185.7,523.8 L184.8,523.7 L184.0,524.1 L183.4,525.2 L183.0,526.8 L183.0,528.8 L183.4,531.1 L184.1,533.4 L185.2,535.7 L186.6,537.8 L188.2,539.5 L190.0,540.7 L191.9,541.4 L193.7,541.3"/>
<path class="k" stroke="#2a7d70" stroke-width="4.6" d="M156.4,492.8 L157.7,493.5 L159.1,493.8 L160.7,493.8 L162.3,493.4 L163.8,492.8 L165.3,492.0 L166.6,491.0 L167.6,490.0 L168.4,489.0 L168.9,488.2 L169.0,487.5 L168.9,487.2 L168.6,487.2 L168.0,487.5 L167.3,488.2 L166.6,489.2 L165.9,490.5 L165.4,492.0 L165.0,493.7 L164.8,495.4 L164.9,497.0 L165.3,498.5 L166.1,499.8 L167.1,500.8 L168.3,501.5 L169.8,501.8 L171.3,501.8 L172.9,501.4 L174.5,500.8 L176.0,500.0 L177.3,499.0 L178.3,498.0 L179.1,497.0 L179.5,496.2 L179.7,495.5 L179.6,495.2"/>
<path class="k" stroke="#42ae9e" stroke-width="3.6" d="M156.4,492.8 L157.7,493.5 L159.1,493.8 L160.7,493.8 L162.3,493.4 L163.8,492.8 L165.3,492.0 L166.6,491.0 L167.6,490.0 L168.4,489.0 L168.9,488.2 L169.0,487.5 L168.9,487.2 L168.6,487.2 L168.0,487.5 L167.3,488.2 L166.6,489.2 L165.9,490.5 L165.4,492.0 L165.0,493.7 L164.8,495.4 L164.9,497.0 L165.3,498.5 L166.1,499.8 L167.1,500.8 L168.3,501.5 L169.8,501.8 L171.3,501.8 L172.9,501.4 L174.5,500.8 L176.0,500.0 L177.3,499.0 L178.3,498.0 L179.1,497.0 L179.5,496.2 L179.7,495.5 L179.6,495.2"/>
<path class="k" stroke="#2a7d70" stroke-width="3.4" d="M190.0,474.0 C192.5,474.7 199.7,477.0 205.0,478.0 C210.3,479.0 217.0,479.3 222.0,480.0 C227.0,480.7 231.5,480.8 235.0,482.0 C238.5,483.2 242.0,485.0 243.0,487.0 C244.0,489.0 241.3,492.8 241.0,494.0"/>
<path class="k" stroke="#42ae9e" stroke-width="2.2" d="M190.0,474.0 C192.5,474.7 199.7,477.0 205.0,478.0 C210.3,479.0 217.0,479.3 222.0,480.0 C227.0,480.7 231.5,480.8 235.0,482.0 C238.5,483.2 242.0,485.0 243.0,487.0 C244.0,489.0 241.3,492.8 241.0,494.0"/>
<path class="k" stroke="#2a7d70" stroke-width="3.4" d="M196.0,520.0 C196.7,522.5 200.0,530.3 200.0,535.0 C200.0,539.7 196.7,545.8 196.0,548.0"/>
<path class="k" stroke="#42ae9e" stroke-width="2.2" d="M196.0,520.0 C196.7,522.5 200.0,530.3 200.0,535.0 C200.0,539.7 196.7,545.8 196.0,548.0"/>
<path class="k" stroke="#2a7d70" stroke-width="2.9" d="M125 502l-6.8 -1.8l-1.5 -3.5m1.5 3.5l-2.6 1.9M139 550l-7.7 4.6l-4.7 -1.8m4.7 1.8l-.6 4.3M170 553l-2.3 6.6l-3.3 1.2m3.3 -1.2l1.9 2.9M176 550l2.9 7.5l-2.2 3.7m2.2 -3.7l3.4 1.1M140 470l-5.5 -4.3l0 -2.6m0 2.6l-2.4 .6M157 453l-3.4 -6.1l1.1 -2.6m-1.1 2.6l-2.5 -.4"/>
<path class="k" stroke="#42ae9e" stroke-width="2" d="M125 502l-6.8 -1.8l-1.5 -3.5m1.5 3.5l-2.6 1.9M139 550l-7.7 4.6l-4.7 -1.8m4.7 1.8l-.6 4.3M170 553l-2.3 6.6l-3.3 1.2m3.3 -1.2l1.9 2.9M176 550l2.9 7.5l-2.2 3.7m2.2 -3.7l3.4 1.1M140 470l-5.5 -4.3l0 -2.6m0 2.6l-2.4 .6M157 453l-3.4 -6.1l1.1 -2.6m-1.1 2.6l-2.5 -.4"/>
<path class="k" stroke="#2a7d70" stroke-width="2.9" d="M170 448l1.7 -5.8l3.2 -1.3m-3.2 1.3l-1.6 -2.3M160 552l.6 8l-3.2 2.9m3.2 -2.9l2.3 1.6"/>
<path class="k" stroke="#42ae9e" stroke-width="2" d="M170 448l1.7 -5.8l3.2 -1.3m-3.2 1.3l-1.6 -2.3M160 552l.6 8l-3.2 2.9m3.2 -2.9l2.3 1.6"/>
<path d="M336.2,503.9 L344.9,505.6" stroke="#5e5fa0" stroke-width="2.2" stroke-linecap="round"/>
<path d="M336.2,503.9 L344.9,505.6" stroke="#8d8ed2" stroke-width="1.4" stroke-linecap="round"/>
<rect x="342.4" y="501.4" width="5" height="8.4" rx="1.5" transform="rotate(101,344.9,505.6)" fill="#8d8ed2" stroke="#5e5fa0" stroke-width="0.5"/>
<path d="M339.6,516.0 L350.1,515.8" stroke="#5e5fa0" stroke-width="2.2" stroke-linecap="round"/>
<path d="M339.6,516.0 L350.1,515.8" stroke="#8d8ed2" stroke-width="1.4" stroke-linecap="round"/>
<rect x="347.6" y="511.6" width="5" height="8.4" rx="1.5" transform="rotate(89,350.1,515.8)" fill="#8d8ed2" stroke="#5e5fa0" stroke-width="0.5"/>
<path d="M346.0,526.6 L355.1,524.3" stroke="#5e5fa0" stroke-width="2.2" stroke-linecap="round"/>
<path d="M346.0,526.6 L355.1,524.3" stroke="#8d8ed2" stroke-width="1.4" stroke-linecap="round"/>
<rect x="352.6" y="520.1" width="5" height="8.4" rx="1.5" transform="rotate(76,355.1,524.3)" fill="#8d8ed2" stroke="#5e5fa0" stroke-width="0.5"/>
<path d="M353.7,536.5 L361.3,532.2" stroke="#5e5fa0" stroke-width="2.2" stroke-linecap="round"/>
<path d="M353.7,536.5 L361.3,532.2" stroke="#8d8ed2" stroke-width="1.4" stroke-linecap="round"/>
<rect x="358.8" y="528.0" width="5" height="8.4" rx="1.5" transform="rotate(61,361.3,532.2)" fill="#8d8ed2" stroke="#5e5fa0" stroke-width="0.5"/>
<path d="M363.6,544.0 L369.8,537.7" stroke="#5e5fa0" stroke-width="2.2" stroke-linecap="round"/>
<path d="M363.6,544.0 L369.8,537.7" stroke="#8d8ed2" stroke-width="1.4" stroke-linecap="round"/>
<rect x="367.3" y="533.5" width="5" height="8.4" rx="1.5" transform="rotate(44,369.8,537.7)" fill="#8d8ed2" stroke="#5e5fa0" stroke-width="0.5"/>
<path d="M374.2,550.6 L377.5,544.0" stroke="#5e5fa0" stroke-width="2.2" stroke-linecap="round"/>
<path d="M374.2,550.6 L377.5,544.0" stroke="#8d8ed2" stroke-width="1.4" stroke-linecap="round"/>
<rect x="375.0" y="539.8" width="5" height="8.4" rx="1.5" transform="rotate(27,377.5,544.0)" fill="#8d8ed2" stroke="#5e5fa0" stroke-width="0.5"/>
<path d="M386.8,550.6 L387.9,543.1" stroke="#5e5fa0" stroke-width="2.2" stroke-linecap="round"/>
<path d="M386.8,550.6 L387.9,543.1" stroke="#8d8ed2" stroke-width="1.4" stroke-linecap="round"/>
<rect x="385.4" y="538.9" width="5" height="8.4" rx="1.5" transform="rotate(8,387.9,543.1)" fill="#8d8ed2" stroke="#5e5fa0" stroke-width="0.5"/>
<path d="M399.2,549.1 L397.6,541.6" stroke="#5e5fa0" stroke-width="2.2" stroke-linecap="round"/>
<path d="M399.2,549.1 L397.6,541.6" stroke="#8d8ed2" stroke-width="1.4" stroke-linecap="round"/>
<rect x="395.1" y="537.4" width="5" height="8.4" rx="1.5" transform="rotate(-12,397.6,541.6)" fill="#8d8ed2" stroke="#5e5fa0" stroke-width="0.5"/>
<path d="M411.0,545.2 L406.5,538.0" stroke="#5e5fa0" stroke-width="2.2" stroke-linecap="round"/>
<path d="M411.0,545.2 L406.5,538.0" stroke="#8d8ed2" stroke-width="1.4" stroke-linecap="round"/>
<rect x="404.0" y="533.8" width="5" height="8.4" rx="1.5" transform="rotate(-32,406.5,538.0)" fill="#8d8ed2" stroke="#5e5fa0" stroke-width="0.5"/>
<path d="M422.1,539.3 L415.4,533.9" stroke="#5e5fa0" stroke-width="2.2" stroke-linecap="round"/>
<path d="M422.1,539.3 L415.4,533.9" stroke="#8d8ed2" stroke-width="1.4" stroke-linecap="round"/>
<rect x="412.9" y="529.7" width="5" height="8.4" rx="1.5" transform="rotate(-51,415.4,533.9)" fill="#8d8ed2" stroke="#5e5fa0" stroke-width="0.5"/>
<path d="M431.7,531.3 L422.0,527.3" stroke="#5e5fa0" stroke-width="2.2" stroke-linecap="round"/>
<path d="M431.7,531.3 L422.0,527.3" stroke="#8d8ed2" stroke-width="1.4" stroke-linecap="round"/>
<rect x="419.5" y="523.1" width="5" height="8.4" rx="1.5" transform="rotate(-68,422.0,527.3)" fill="#8d8ed2" stroke="#5e5fa0" stroke-width="0.5"/>
<path d="M438.0,520.5 L430.4,519.6" stroke="#5e5fa0" stroke-width="2.2" stroke-linecap="round"/>
<path d="M438.0,520.5 L430.4,519.6" stroke="#8d8ed2" stroke-width="1.4" stroke-linecap="round"/>
<rect x="427.9" y="515.4" width="5" height="8.4" rx="1.5" transform="rotate(-83,430.4,519.6)" fill="#8d8ed2" stroke="#5e5fa0" stroke-width="0.5"/>
<path d="M443.1,509.1 L435.2,510.0" stroke="#5e5fa0" stroke-width="2.2" stroke-linecap="round"/>
<path d="M443.1,509.1 L435.2,510.0" stroke="#8d8ed2" stroke-width="1.4" stroke-linecap="round"/>
<rect x="432.7" y="505.8" width="5" height="8.4" rx="1.5" transform="rotate(263,435.2,510.0)" fill="#8d8ed2" stroke="#5e5fa0" stroke-width="0.5"/>
<path d="M447.6,497.3 L439.8,499.8" stroke="#5e5fa0" stroke-width="2.2" stroke-linecap="round"/>
<path d="M447.6,497.3 L439.8,499.8" stroke="#8d8ed2" stroke-width="1.4" stroke-linecap="round"/>
<rect x="437.3" y="495.6" width="5" height="8.4" rx="1.5" transform="rotate(252,439.8,499.8)" fill="#8d8ed2" stroke="#5e5fa0" stroke-width="0.5"/>
<path d="M381.6,502.1 L389.1,503.7" stroke="#9c5a7c" stroke-width="2.2" stroke-linecap="round"/>
<path d="M381.6,502.1 L389.1,503.7" stroke="#d68fb2" stroke-width="1.4" stroke-linecap="round"/>
<rect x="386.6" y="499.5" width="5" height="8.4" rx="1.5" transform="rotate(102,389.1,503.7)" fill="#d68fb2" stroke="#9c5a7c" stroke-width="0.5"/>
<path d="M385.8,513.2 L393.9,513.5" stroke="#9c5a7c" stroke-width="2.2" stroke-linecap="round"/>
<path d="M385.8,513.2 L393.9,513.5" stroke="#d68fb2" stroke-width="1.4" stroke-linecap="round"/>
<rect x="391.4" y="509.3" width="5" height="8.4" rx="1.5" transform="rotate(92,393.9,513.5)" fill="#d68fb2" stroke="#9c5a7c" stroke-width="0.5"/>
<path d="M391.5,523.6 L399.3,522.2" stroke="#9c5a7c" stroke-width="2.2" stroke-linecap="round"/>
<path d="M391.5,523.6 L399.3,522.2" stroke="#d68fb2" stroke-width="1.4" stroke-linecap="round"/>
<rect x="396.8" y="518.0" width="5" height="8.4" rx="1.5" transform="rotate(80,399.3,522.2)" fill="#d68fb2" stroke="#9c5a7c" stroke-width="0.5"/>
<path d="M397.8,533.7 L405.9,530.1" stroke="#9c5a7c" stroke-width="2.2" stroke-linecap="round"/>
<path d="M397.8,533.7 L405.9,530.1" stroke="#d68fb2" stroke-width="1.4" stroke-linecap="round"/>
<rect x="403.4" y="525.9" width="5" height="8.4" rx="1.5" transform="rotate(66,405.9,530.1)" fill="#d68fb2" stroke="#9c5a7c" stroke-width="0.5"/>
<path d="M406.2,542.1 L411.7,537.6" stroke="#9c5a7c" stroke-width="2.2" stroke-linecap="round"/>
<path d="M406.2,542.1 L411.7,537.6" stroke="#d68fb2" stroke-width="1.4" stroke-linecap="round"/>
<rect x="409.2" y="533.4" width="5" height="8.4" rx="1.5" transform="rotate(51,411.7,537.6)" fill="#d68fb2" stroke="#9c5a7c" stroke-width="0.5"/>
<path d="M415.9,548.3 L422.2,539.6" stroke="#9c5a7c" stroke-width="2.2" stroke-linecap="round"/>
<path d="M415.9,548.3 L422.2,539.6" stroke="#d68fb2" stroke-width="1.4" stroke-linecap="round"/>
<rect x="419.7" y="535.4" width="5" height="8.4" rx="1.5" transform="rotate(36,422.2,539.6)" fill="#d68fb2" stroke="#9c5a7c" stroke-width="0.5"/>
<path d="M427.2,552.0 L430.0,544.0" stroke="#9c5a7c" stroke-width="2.2" stroke-linecap="round"/>
<path d="M427.2,552.0 L430.0,544.0" stroke="#d68fb2" stroke-width="1.4" stroke-linecap="round"/>
<rect x="427.5" y="539.8" width="5" height="8.4" rx="1.5" transform="rotate(19,430.0,544.0)" fill="#d68fb2" stroke="#9c5a7c" stroke-width="0.5"/>
<path d="M438.9,551.4 L439.2,540.7" stroke="#9c5a7c" stroke-width="2.2" stroke-linecap="round"/>
<path d="M438.9,551.4 L439.2,540.7" stroke="#d68fb2" stroke-width="1.4" stroke-linecap="round"/>
<rect x="436.7" y="536.5" width="5" height="8.4" rx="1.5" transform="rotate(2,439.2,540.7)" fill="#d68fb2" stroke="#9c5a7c" stroke-width="0.5"/>
<path d="M450.0,547.9 L447.1,538.5" stroke="#9c5a7c" stroke-width="2.2" stroke-linecap="round"/>
<path d="M450.0,547.9 L447.1,538.5" stroke="#d68fb2" stroke-width="1.4" stroke-linecap="round"/>
<rect x="444.6" y="534.3" width="5" height="8.4" rx="1.5" transform="rotate(-17,447.1,538.5)" fill="#d68fb2" stroke="#9c5a7c" stroke-width="0.5"/>
<path d="M460.1,541.6 L454.2,533.8" stroke="#9c5a7c" stroke-width="2.2" stroke-linecap="round"/>
<path d="M460.1,541.6 L454.2,533.8" stroke="#d68fb2" stroke-width="1.4" stroke-linecap="round"/>
<rect x="451.7" y="529.6" width="5" height="8.4" rx="1.5" transform="rotate(-37,454.2,533.8)" fill="#d68fb2" stroke="#9c5a7c" stroke-width="0.5"/>
<path d="M467.3,532.4 L459.8,527.6" stroke="#9c5a7c" stroke-width="2.2" stroke-linecap="round"/>
<path d="M467.3,532.4 L459.8,527.6" stroke="#d68fb2" stroke-width="1.4" stroke-linecap="round"/>
<rect x="457.3" y="523.4" width="5" height="8.4" rx="1.5" transform="rotate(-58,459.8,527.6)" fill="#d68fb2" stroke="#9c5a7c" stroke-width="0.5"/>
<path d="M473.9,522.5 L463.4,520.2" stroke="#9c5a7c" stroke-width="2.2" stroke-linecap="round"/>
<path d="M473.9,522.5 L463.4,520.2" stroke="#d68fb2" stroke-width="1.4" stroke-linecap="round"/>
<rect x="460.9" y="516.0" width="5" height="8.4" rx="1.5" transform="rotate(-78,463.4,520.2)" fill="#d68fb2" stroke="#9c5a7c" stroke-width="0.5"/>
<path d="M478.5,511.5 L471.0,512.2" stroke="#9c5a7c" stroke-width="2.2" stroke-linecap="round"/>
<path d="M478.5,511.5 L471.0,512.2" stroke="#d68fb2" stroke-width="1.4" stroke-linecap="round"/>
<rect x="468.5" y="508.0" width="5" height="8.4" rx="1.5" transform="rotate(265,471.0,512.2)" fill="#d68fb2" stroke="#9c5a7c" stroke-width="0.5"/>
<path d="M482.7,500.4 L473.5,503.6" stroke="#9c5a7c" stroke-width="2.2" stroke-linecap="round"/>
<path d="M482.7,500.4 L473.5,503.6" stroke="#d68fb2" stroke-width="1.4" stroke-linecap="round"/>
<rect x="471.0" y="499.4" width="5" height="8.4" rx="1.5" transform="rotate(251,473.5,503.6)" fill="#d68fb2" stroke="#9c5a7c" stroke-width="0.5"/>
<ellipse cx="348.9" cy="509.5" rx="3.4" ry="4.8" transform="rotate(-17,348.9,509.5)" fill="#8d8ed2" stroke="#5e5fa0" stroke-width="0.5"/>
<ellipse cx="357.1" cy="514.6" rx="3.4" ry="4.8" transform="rotate(14,357.1,514.6)" fill="#8d8ed2" stroke="#5e5fa0" stroke-width="0.5"/>
<ellipse cx="367.4" cy="509.5" rx="3.4" ry="4.8" transform="rotate(18,367.4,509.5)" fill="#8d8ed2" stroke="#5e5fa0" stroke-width="0.5"/>
<ellipse cx="375.6" cy="509.5" rx="3.4" ry="4.8" transform="rotate(-27,375.6,509.5)" fill="#8d8ed2" stroke="#5e5fa0" stroke-width="0.5"/>
<ellipse cx="365.3" cy="519.7" rx="3.4" ry="4.8" transform="rotate(-24,365.3,519.7)" fill="#8d8ed2" stroke="#5e5fa0" stroke-width="0.5"/>
<ellipse cx="375.6" cy="528.0" rx="3.4" ry="4.8" transform="rotate(-38,375.6,528.0)" fill="#8d8ed2" stroke="#5e5fa0" stroke-width="0.5"/>
<ellipse cx="367.4" cy="538.3" rx="3.4" ry="4.8" transform="rotate(-22,367.4,538.3)" fill="#8d8ed2" stroke="#5e5fa0" stroke-width="0.5"/>
<ellipse cx="394.1" cy="513.6" rx="3.4" ry="4.8" transform="rotate(-34,394.1,513.6)" fill="#8d8ed2" stroke="#5e5fa0" stroke-width="0.5"/>
<ellipse cx="402.4" cy="525.9" rx="3.4" ry="4.8" transform="rotate(-8,402.4,525.9)" fill="#8d8ed2" stroke="#5e5fa0" stroke-width="0.5"/>
<ellipse cx="416.8" cy="525.9" rx="3.4" ry="4.8" transform="rotate(38,416.8,525.9)" fill="#8d8ed2" stroke="#5e5fa0" stroke-width="0.5"/>
<ellipse cx="422.9" cy="530.0" rx="3.4" ry="4.8" transform="rotate(-11,422.9,530.0)" fill="#8d8ed2" stroke="#5e5fa0" stroke-width="0.5"/>
<ellipse cx="414.7" cy="540.3" rx="3.4" ry="4.8" transform="rotate(-15,414.7,540.3)" fill="#8d8ed2" stroke="#5e5fa0" stroke-width="0.5"/>
<ellipse cx="427.1" cy="513.6" rx="3.4" ry="4.8" transform="rotate(-3,427.1,513.6)" fill="#8d8ed2" stroke="#5e5fa0" stroke-width="0.5"/>
<ellipse cx="451.7" cy="493.0" rx="3.4" ry="4.8" transform="rotate(-17,451.7,493.0)" fill="#8d8ed2" stroke="#5e5fa0" stroke-width="0.5"/>
<ellipse cx="470.3" cy="505.3" rx="3.4" ry="4.8" transform="rotate(19,470.3,505.3)" fill="#8d8ed2" stroke="#5e5fa0" stroke-width="0.5"/>
<ellipse cx="355.0" cy="525.9" rx="3.4" ry="4.8" transform="rotate(17,355.0,525.9)" fill="#8d8ed2" stroke="#5e5fa0" stroke-width="0.5"/>
<ellipse cx="379.7" cy="517.7" rx="3.4" ry="4.8" transform="rotate(-27,379.7,517.7)" fill="#8d8ed2" stroke="#5e5fa0" stroke-width="0.5"/>
<ellipse cx="406.5" cy="530.0" rx="3.4" ry="4.8" transform="rotate(-21,406.5,530.0)" fill="#8d8ed2" stroke="#5e5fa0" stroke-width="0.5"/>
<path d="M382.9,510.4 L382.7,505.9 L385.9,503.2 L389.1,505.9 L388.9,510.4 Z" fill="#d68fb2" stroke="#9c5a7c" stroke-width="0.5"/>
<path d="M385.0,531.0 L384.8,526.5 L388.0,523.8 L391.2,526.5 L391.0,531.0 Z" fill="#d68fb2" stroke="#9c5a7c" stroke-width="0.5"/>
<path d="M382.9,547.4 L382.7,542.9 L385.9,540.2 L389.1,542.9 L388.9,547.4 Z" fill="#d68fb2" stroke="#9c5a7c" stroke-width="0.5"/>
<path d="M401.4,537.1 L401.2,532.6 L404.4,529.9 L407.6,532.6 L407.4,537.1 Z" fill="#d68fb2" stroke="#9c5a7c" stroke-width="0.5"/>
<path d="M432.3,547.4 L432.1,542.9 L435.3,540.2 L438.5,542.9 L438.3,547.4 Z" fill="#d68fb2" stroke="#9c5a7c" stroke-width="0.5"/>
<path d="M430.2,528.9 L430.0,524.4 L433.2,521.7 L436.4,524.4 L436.2,528.9 Z" fill="#d68fb2" stroke="#9c5a7c" stroke-width="0.5"/>
<path d="M434.3,510.4 L434.1,505.9 L437.3,503.2 L440.5,505.9 L440.3,510.4 Z" fill="#d68fb2" stroke="#9c5a7c" stroke-width="0.5"/>
<path d="M442.6,504.2 L442.4,499.7 L445.6,497.0 L448.8,499.7 L448.6,504.2 Z" fill="#d68fb2" stroke="#9c5a7c" stroke-width="0.5"/>
<path d="M446.7,533.0 L446.5,528.5 L449.7,525.8 L452.9,528.5 L452.7,533.0 Z" fill="#d68fb2" stroke="#9c5a7c" stroke-width="0.5"/>
<path d="M450.8,524.8 L450.6,520.3 L453.8,517.6 L457.0,520.3 L456.8,524.8 Z" fill="#d68fb2" stroke="#9c5a7c" stroke-width="0.5"/>
<path d="M459.0,524.8 L458.8,520.3 L462.0,517.6 L465.2,520.3 L465.0,524.8 Z" fill="#d68fb2" stroke="#9c5a7c" stroke-width="0.5"/>
<path d="M473.4,502.2 L473.2,497.7 L476.4,495.0 L479.6,497.7 L479.4,502.2 Z" fill="#d68fb2" stroke="#9c5a7c" stroke-width="0.5"/>
<path d="M479.6,487.8 L479.4,483.3 L482.6,480.6 L485.8,483.3 L485.6,487.8 Z" fill="#d68fb2" stroke="#9c5a7c" stroke-width="0.5"/>
<path d="M438.5,496.0 L438.3,491.5 L441.5,488.8 L444.7,491.5 L444.5,496.0 Z" fill="#d68fb2" stroke="#9c5a7c" stroke-width="0.5"/>
<path d="M457.0,512.5 L456.8,508.0 L460.0,505.3 L463.2,508.0 L463.0,512.5 Z" fill="#d68fb2" stroke="#9c5a7c" stroke-width="0.5"/>
<path d="M471.4,516.6 L471.2,512.1 L474.4,509.4 L477.6,512.1 L477.4,516.6 Z" fill="#d68fb2" stroke="#9c5a7c" stroke-width="0.5"/>
<path d="M477.6,496.0 L477.4,491.5 L480.6,488.8 L483.8,491.5 L483.6,496.0 Z" fill="#d68fb2" stroke="#9c5a7c" stroke-width="0.5"/>
<path class="k" stroke="#9c5a7c" stroke-width="4" d="M342.7,486.8 C341.5,489.2 335.8,495.7 335.5,501.2 C335.1,506.7 337.4,513.6 340.6,519.7 C343.9,525.9 349.6,533.1 355.0,538.3 C360.5,543.4 367.4,548.6 373.6,550.6 C379.7,552.7 386.6,551.1 392.1,550.6 C397.6,550.1 401.7,549.2 406.5,547.5 C411.3,545.8 416.4,543.2 420.9,540.3 C425.3,537.4 429.8,534.5 433.2,530.0 C436.7,525.6 439.1,519.1 441.5,513.6 C443.9,508.1 446.9,502.9 447.6,497.1 C448.3,491.3 445.9,481.7 445.6,478.6"/>
<path class="k" stroke="#d68fb2" stroke-width="3.0" d="M342.7,486.8 C341.5,489.2 335.8,495.7 335.5,501.2 C335.1,506.7 337.4,513.6 340.6,519.7 C343.9,525.9 349.6,533.1 355.0,538.3 C360.5,543.4 367.4,548.6 373.6,550.6 C379.7,552.7 386.6,551.1 392.1,550.6 C397.6,550.1 401.7,549.2 406.5,547.5 C411.3,545.8 416.4,543.2 420.9,540.3 C425.3,537.4 429.8,534.5 433.2,530.0 C436.7,525.6 439.1,519.1 441.5,513.6 C443.9,508.1 446.9,502.9 447.6,497.1 C448.3,491.3 445.9,481.7 445.6,478.6"/>
<path class="k" stroke="#9c5a7c" stroke-width="4" d="M377.7,484.8 C378.0,486.8 378.4,492.3 379.7,497.1 C381.1,501.9 383.2,507.7 385.9,513.6 C388.6,519.4 392.1,526.6 396.2,532.1 C400.3,537.6 405.1,543.1 410.6,546.5 C416.1,549.9 423.3,552.0 429.1,552.7 C434.9,553.4 440.1,552.7 445.6,550.6 C451.1,548.6 457.2,545.1 462.0,540.3 C466.8,535.5 470.9,528.3 474.4,521.8 C477.8,515.3 480.9,507.7 482.6,501.2 C484.3,494.7 484.3,485.8 484.7,482.7"/>
<path class="k" stroke="#d68fb2" stroke-width="3.0" d="M377.7,484.8 C378.0,486.8 378.4,492.3 379.7,497.1 C381.1,501.9 383.2,507.7 385.9,513.6 C388.6,519.4 392.1,526.6 396.2,532.1 C400.3,537.6 405.1,543.1 410.6,546.5 C416.1,549.9 423.3,552.0 429.1,552.7 C434.9,553.4 440.1,552.7 445.6,550.6 C451.1,548.6 457.2,545.1 462.0,540.3 C466.8,535.5 470.9,528.3 474.4,521.8 C477.8,515.3 480.9,507.7 482.6,501.2 C484.3,494.7 484.3,485.8 484.7,482.7"/>
<path class="k" stroke="#9c5a7c" stroke-width="4" d="M443.5,478.6 C444.5,481.0 447.3,488.5 449.7,493.0 C452.1,497.5 455.2,501.2 457.9,505.3 C460.7,509.5 464.1,514.9 466.1,517.7 C468.2,520.4 469.6,521.1 470.3,521.8"/>
<path class="k" stroke="#d68fb2" stroke-width="3.0" d="M443.5,478.6 C444.5,481.0 447.3,488.5 449.7,493.0 C452.1,497.5 455.2,501.2 457.9,505.3 C460.7,509.5 464.1,514.9 466.1,517.7 C468.2,520.4 469.6,521.1 470.3,521.8"/>
<path d="M379.7,431.3 C386.2,425.4 400.3,423.7 410.6,423.0 C420.9,422.4 432.2,423.7 441.5,427.2 C450.7,430.6 462.7,436.1 466.1,443.6 C469.6,451.2 466.1,465.6 462.0,472.4 C457.9,479.3 447.6,479.3 441.5,484.8 C435.3,490.3 430.5,502.6 425.0,505.3 C419.5,508.1 413.3,504.0 408.5,501.2 C403.7,498.5 401.0,492.7 396.2,488.9 C391.4,485.1 383.8,483.7 379.7,478.6 C375.6,473.4 371.5,465.9 371.5,458.0 C371.5,450.1 373.2,437.1 379.7,431.3 Z" fill="#55b9a9" opacity="0.8"/>
<path class="k" stroke="#2b8074" stroke-width="6.4" d="M432.6,458.5 C432.9,458.7 432.6,459.7 434.0,459.5 C435.3,459.3 439.5,457.6 440.6,457.2"/>
<path class="k" stroke="#43b3a2" stroke-width="5.23" d="M432.6,458.5 C432.9,458.7 432.6,459.7 434.0,459.5 C435.3,459.3 439.5,457.6 440.6,457.2"/>
<path class="k" stroke="#2b8074" stroke-width="5.4" d="M375.8,468.2 C376.6,467.7 378.9,465.5 380.9,465.3 C382.9,465.2 386.7,467.0 387.9,467.4"/>
<path class="k" stroke="#43b3a2" stroke-width="4.21" d="M375.8,468.2 C376.6,467.7 378.9,465.5 380.9,465.3 C382.9,465.2 386.7,467.0 387.9,467.4"/>
<path class="k" stroke="#2b8074" stroke-width="6.4" d="M456.6,463.5 C457.0,462.7 457.6,459.7 458.9,459.1 C460.2,458.6 463.4,460.0 464.3,460.1"/>
<path class="k" stroke="#43b3a2" stroke-width="5.19" d="M456.6,463.5 C457.0,462.7 457.6,459.7 458.9,459.1 C460.2,458.6 463.4,460.0 464.3,460.1"/>
<path class="k" stroke="#2b8074" stroke-width="8.1" d="M377.2,444.1 C376.0,444.1 371.6,443.2 370.1,444.2 C368.7,445.1 368.7,448.9 368.5,449.8"/>
<path class="k" stroke="#43b3a2" stroke-width="6.91" d="M377.2,444.1 C376.0,444.1 371.6,443.2 370.1,444.2 C368.7,445.1 368.7,448.9 368.5,449.8"/>
<path class="k" stroke="#2b8074" stroke-width="5.5" d="M388.5,464.9 C387.2,465.3 382.6,466.1 381.0,467.3 C379.3,468.5 378.9,471.2 378.5,472.0"/>
<path class="k" stroke="#43b3a2" stroke-width="4.32" d="M388.5,464.9 C387.2,465.3 382.6,466.1 381.0,467.3 C379.3,468.5 378.9,471.2 378.5,472.0"/>
<path class="k" stroke="#2b8074" stroke-width="6.8" d="M422.8,498.9 C421.5,497.7 417.0,493.1 415.0,491.7 C413.0,490.2 411.4,490.5 410.7,490.3"/>
<path class="k" stroke="#43b3a2" stroke-width="5.62" d="M422.8,498.9 C421.5,497.7 417.0,493.1 415.0,491.7 C413.0,490.2 411.4,490.5 410.7,490.3"/>
<path class="k" stroke="#2b8074" stroke-width="6.1" d="M417.5,470.1 C417.0,471.2 415.8,475.6 414.3,477.1 C412.7,478.6 409.3,478.8 408.3,479.2"/>
<path class="k" stroke="#43b3a2" stroke-width="4.92" d="M417.5,470.1 C417.0,471.2 415.8,475.6 414.3,477.1 C412.7,478.6 409.3,478.8 408.3,479.2"/>
<path class="k" stroke="#2b8074" stroke-width="7.5" d="M414.0,491.1 C413.9,491.4 413.4,491.5 413.6,493.0 C413.8,494.5 415.1,498.7 415.5,499.9"/>
<path class="k" stroke="#43b3a2" stroke-width="6.32" d="M414.0,491.1 C413.9,491.4 413.4,491.5 413.6,493.0 C413.8,494.5 415.1,498.7 415.5,499.9"/>
<path class="k" stroke="#2b8074" stroke-width="6.5" d="M449.1,448.8 C449.3,448.9 449.5,448.4 450.5,449.4 C451.5,450.5 454.2,454.2 455.0,455.1"/>
<path class="k" stroke="#43b3a2" stroke-width="5.29" d="M449.1,448.8 C449.3,448.9 449.5,448.4 450.5,449.4 C451.5,450.5 454.2,454.2 455.0,455.1"/>
<path class="k" stroke="#2b8074" stroke-width="6.1" d="M426.1,443.2 C426.7,443.4 427.6,443.1 429.7,444.0 C431.8,444.8 437.2,447.6 438.7,448.4"/>
<path class="k" stroke="#43b3a2" stroke-width="4.86" d="M426.1,443.2 C426.7,443.4 427.6,443.1 429.7,444.0 C431.8,444.8 437.2,447.6 438.7,448.4"/>
<path class="k" stroke="#2b8074" stroke-width="7.9" d="M406.9,431.1 C406.4,431.6 405.3,433.2 403.8,434.0 C402.2,434.8 398.7,435.8 397.6,436.2"/>
<path class="k" stroke="#43b3a2" stroke-width="6.69" d="M406.9,431.1 C406.4,431.6 405.3,433.2 403.8,434.0 C402.2,434.8 398.7,435.8 397.6,436.2"/>
<path class="k" stroke="#2b8074" stroke-width="8.1" d="M433.4,485.6 C432.9,485.3 431.9,484.8 430.2,483.9 C428.5,483.0 424.3,480.9 423.1,480.3"/>
<path class="k" stroke="#43b3a2" stroke-width="6.86" d="M433.4,485.6 C432.9,485.3 431.9,484.8 430.2,483.9 C428.5,483.0 424.3,480.9 423.1,480.3"/>
<path class="k" stroke="#2b8074" stroke-width="5.4" d="M440.4,480.7 C440.2,481.6 439.2,483.3 438.9,485.7 C438.6,488.1 438.8,493.6 438.8,495.2"/>
<path class="k" stroke="#43b3a2" stroke-width="4.2" d="M440.4,480.7 C440.2,481.6 439.2,483.3 438.9,485.7 C438.6,488.1 438.8,493.6 438.8,495.2"/>
<path class="k" stroke="#2b8074" stroke-width="6.9" d="M387.5,444.6 C386.7,444.1 383.4,443.2 382.6,441.6 C381.8,440.1 382.9,436.5 382.9,435.5"/>
<path class="k" stroke="#43b3a2" stroke-width="5.67" d="M387.5,444.6 C386.7,444.1 383.4,443.2 382.6,441.6 C381.8,440.1 382.9,436.5 382.9,435.5"/>
<path class="k" stroke="#2b8074" stroke-width="6.5" d="M383.8,452.4 C384.8,451.2 387.8,446.8 389.4,444.8 C391.1,442.8 393.0,441.1 393.7,440.4"/>
<path class="k" stroke="#43b3a2" stroke-width="5.29" d="M383.8,452.4 C384.8,451.2 387.8,446.8 389.4,444.8 C391.1,442.8 393.0,441.1 393.7,440.4"/>
<path class="k" stroke="#2b8074" stroke-width="5.5" d="M405.8,450.2 C407.2,450.5 412.0,451.9 414.1,452.1 C416.2,452.2 417.7,451.4 418.4,451.2"/>
<path class="k" stroke="#43b3a2" stroke-width="4.29" d="M405.8,450.2 C407.2,450.5 412.0,451.9 414.1,452.1 C416.2,452.2 417.7,451.4 418.4,451.2"/>
<path class="k" stroke="#2b8074" stroke-width="5.5" d="M421.7,437.1 C421.9,436.5 423.4,435.2 422.9,433.3 C422.4,431.4 419.5,427.2 418.8,425.9"/>
<path class="k" stroke="#43b3a2" stroke-width="4.35" d="M421.7,437.1 C421.9,436.5 423.4,435.2 422.9,433.3 C422.4,431.4 419.5,427.2 418.8,425.9"/>
<path class="k" stroke="#2b8074" stroke-width="8.1" d="M415.1,458.8 C414.5,459.2 413.4,460.7 411.2,461.5 C409.0,462.4 403.5,463.5 401.9,463.9"/>
<path class="k" stroke="#43b3a2" stroke-width="6.91" d="M415.1,458.8 C414.5,459.2 413.4,460.7 411.2,461.5 C409.0,462.4 403.5,463.5 401.9,463.9"/>
<path class="k" stroke="#2b8074" stroke-width="5.3" d="M427.9,431.6 C427.8,431.2 426.7,430.9 427.5,429.2 C428.2,427.5 431.6,422.5 432.4,421.1"/>
<path class="k" stroke="#43b3a2" stroke-width="4.1" d="M427.9,431.6 C427.8,431.2 426.7,430.9 427.5,429.2 C428.2,427.5 431.6,422.5 432.4,421.1"/>
<path class="k" stroke="#2b8074" stroke-width="5.8" d="M426.1,462.7 C426.5,461.9 427.1,458.9 428.5,457.6 C429.9,456.3 433.3,455.6 434.3,455.2"/>
<path class="k" stroke="#43b3a2" stroke-width="4.6" d="M426.1,462.7 C426.5,461.9 427.1,458.9 428.5,457.6 C429.9,456.3 433.3,455.6 434.3,455.2"/>
<path class="k" stroke="#2b8074" stroke-width="8.2" d="M424.7,452.4 C424.6,451.3 423.9,447.6 423.9,445.9 C423.9,444.3 424.6,443.1 424.8,442.5"/>
<path class="k" stroke="#43b3a2" stroke-width="6.95" d="M424.7,452.4 C424.6,451.3 423.9,447.6 423.9,445.9 C423.9,444.3 424.6,443.1 424.8,442.5"/>
<path class="k" stroke="#2b8074" stroke-width="5.7" d="M430.0,456.0 C430.8,456.5 433.0,457.1 434.5,459.0 C436.0,460.9 438.4,466.1 439.1,467.5"/>
<path class="k" stroke="#43b3a2" stroke-width="4.51" d="M430.0,456.0 C430.8,456.5 433.0,457.1 434.5,459.0 C436.0,460.9 438.4,466.1 439.1,467.5"/>
<path class="k" stroke="#2b8074" stroke-width="7.1" d="M456.7,439.4 C457.1,439.0 458.8,438.2 459.3,436.6 C459.9,434.9 459.7,430.5 459.8,429.3"/>
<path class="k" stroke="#43b3a2" stroke-width="5.87" d="M456.7,439.4 C457.1,439.0 458.8,438.2 459.3,436.6 C459.9,434.9 459.7,430.5 459.8,429.3"/>
<path class="k" stroke="#2b8074" stroke-width="6.4" d="M447.3,454.0 C448.3,453.8 451.8,452.4 453.8,452.5 C455.8,452.6 458.4,454.4 459.3,454.8"/>
<path class="k" stroke="#43b3a2" stroke-width="5.17" d="M447.3,454.0 C448.3,453.8 451.8,452.4 453.8,452.5 C455.8,452.6 458.4,454.4 459.3,454.8"/>
<path class="k" stroke="#2b8074" stroke-width="7.7" d="M401.0,454.5 C399.8,455.2 395.9,458.1 393.7,458.5 C391.4,458.8 388.6,456.9 387.6,456.6"/>
<path class="k" stroke="#43b3a2" stroke-width="6.45" d="M401.0,454.5 C399.8,455.2 395.9,458.1 393.7,458.5 C391.4,458.8 388.6,456.9 387.6,456.6"/>
<path class="k" stroke="#2b8074" stroke-width="6.8" d="M434.9,467.2 C435.3,466.5 436.6,464.8 437.1,463.1 C437.7,461.4 438.0,457.9 438.2,456.8"/>
<path class="k" stroke="#43b3a2" stroke-width="5.57" d="M434.9,467.2 C435.3,466.5 436.6,464.8 437.1,463.1 C437.7,461.4 438.0,457.9 438.2,456.8"/>
<path class="k" stroke="#2b8074" stroke-width="7.3" d="M398.4,429.4 C399.2,430.2 402.0,432.9 403.5,433.8 C405.0,434.8 407.0,434.9 407.7,435.1"/>
<path class="k" stroke="#43b3a2" stroke-width="6.14" d="M398.4,429.4 C399.2,430.2 402.0,432.9 403.5,433.8 C405.0,434.8 407.0,434.9 407.7,435.1"/>
<path class="k" stroke="#2b8074" stroke-width="7.9" d="M397.5,482.0 C398.7,482.9 402.7,486.8 404.8,487.8 C406.9,488.8 409.2,488.1 410.1,488.1"/>
<path class="k" stroke="#43b3a2" stroke-width="6.69" d="M397.5,482.0 C398.7,482.9 402.7,486.8 404.8,487.8 C406.9,488.8 409.2,488.1 410.1,488.1"/>
<path class="k" stroke="#2b8074" stroke-width="8.1" d="M441.4,473.3 C442.1,474.0 444.8,475.7 445.3,477.6 C445.9,479.6 444.7,483.8 444.5,485.1"/>
<path class="k" stroke="#43b3a2" stroke-width="6.92" d="M441.4,473.3 C442.1,474.0 444.8,475.7 445.3,477.6 C445.9,479.6 444.7,483.8 444.5,485.1"/>
<path class="k" stroke="#2b8074" stroke-width="7.9" d="M423.0,455.4 C423.6,455.6 424.8,456.4 426.6,456.4 C428.5,456.5 432.9,455.8 434.1,455.6"/>
<path class="k" stroke="#43b3a2" stroke-width="6.7" d="M423.0,455.4 C423.6,455.6 424.8,456.4 426.6,456.4 C428.5,456.5 432.9,455.8 434.1,455.6"/>
<path class="k" stroke="#2b8074" stroke-width="7.4" d="M457.6,473.5 C457.3,474.1 456.5,475.8 455.4,476.8 C454.3,477.7 451.7,478.9 450.9,479.3"/>
<path class="k" stroke="#43b3a2" stroke-width="6.15" d="M457.6,473.5 C457.3,474.1 456.5,475.8 455.4,476.8 C454.3,477.7 451.7,478.9 450.9,479.3"/>
<path class="k" stroke="#2b8074" stroke-width="7.9" d="M406.9,496.0 C406.9,497.0 406.3,500.1 406.7,501.8 C407.1,503.5 408.9,505.5 409.3,506.2"/>
<path class="k" stroke="#43b3a2" stroke-width="6.69" d="M406.9,496.0 C406.9,497.0 406.3,500.1 406.7,501.8 C407.1,503.5 408.9,505.5 409.3,506.2"/>
<path class="k" stroke="#2b8074" stroke-width="7.7" d="M387.3,475.1 C387.0,474.4 385.1,472.3 385.2,470.6 C385.4,469.0 387.8,466.3 388.4,465.4"/>
<path class="k" stroke="#43b3a2" stroke-width="6.49" d="M387.3,475.1 C387.0,474.4 385.1,472.3 385.2,470.6 C385.4,469.0 387.8,466.3 388.4,465.4"/>
<path class="k" stroke="#2b8074" stroke-width="7" d="M411.0,458.0 C409.5,457.6 404.8,455.8 402.3,455.4 C399.8,454.9 397.0,455.3 396.0,455.3"/>
<path class="k" stroke="#43b3a2" stroke-width="5.82" d="M411.0,458.0 C409.5,457.6 404.8,455.8 402.3,455.4 C399.8,454.9 397.0,455.3 396.0,455.3"/>
<path class="k" stroke="#2b8074" stroke-width="7.3" d="M424.7,472.7 C425.2,473.6 426.6,476.5 427.2,477.9 C427.9,479.4 428.4,480.8 428.6,481.4"/>
<path class="k" stroke="#43b3a2" stroke-width="6.07" d="M424.7,472.7 C425.2,473.6 426.6,476.5 427.2,477.9 C427.9,479.4 428.4,480.8 428.6,481.4"/>
<path class="k" stroke="#2b8074" stroke-width="7.8" d="M440.5,428.1 C439.7,428.0 438.4,427.5 435.9,427.7 C433.5,427.9 427.6,429.2 425.9,429.5"/>
<path class="k" stroke="#43b3a2" stroke-width="6.55" d="M440.5,428.1 C439.7,428.0 438.4,427.5 435.9,427.7 C433.5,427.9 427.6,429.2 425.9,429.5"/>
<path class="k" stroke="#2b8074" stroke-width="5.7" d="M393.2,480.4 C393.3,479.3 392.9,475.2 394.0,473.6 C395.0,471.9 398.6,471.0 399.6,470.4"/>
<path class="k" stroke="#43b3a2" stroke-width="4.47" d="M393.2,480.4 C393.3,479.3 392.9,475.2 394.0,473.6 C395.0,471.9 398.6,471.0 399.6,470.4"/>
<path class="k" stroke="#2b8074" stroke-width="7.7" d="M380.3,435.5 C380.0,435.3 379.6,435.0 378.5,434.0 C377.4,433.0 374.5,430.4 373.7,429.7"/>
<path class="k" stroke="#43b3a2" stroke-width="6.45" d="M380.3,435.5 C380.0,435.3 379.6,435.0 378.5,434.0 C377.4,433.0 374.5,430.4 373.7,429.7"/>
<path class="k" stroke="#2b8074" stroke-width="7.2" d="M381.3,431.5 C381.9,431.8 383.5,432.5 385.0,433.2 C386.4,433.8 389.3,434.9 390.1,435.3"/>
<path class="k" stroke="#43b3a2" stroke-width="6.04" d="M381.3,431.5 C381.9,431.8 383.5,432.5 385.0,433.2 C386.4,433.8 389.3,434.9 390.1,435.3"/>
<path class="k" stroke="#2b8074" stroke-width="7" d="M441.8,429.9 C440.8,430.1 437.7,430.0 436.0,431.2 C434.3,432.3 432.4,436.0 431.7,437.0"/>
<path class="k" stroke="#43b3a2" stroke-width="5.79" d="M441.8,429.9 C440.8,430.1 437.7,430.0 436.0,431.2 C434.3,432.3 432.4,436.0 431.7,437.0"/>
<path class="k" stroke="#2b8074" stroke-width="2.9" d="M395.3 477.7l-7.8 .2l-3 -3.5m3 3.5l-1.7 2.3M451.6 481.7l-1.3 4.3l-1.9 .8m1.9 -.8l1.1 1.6M396.5 435.6l-6.8 .1l-2.3 -2.9m2.3 2.9l-2.1 2.6M383.9 440.6l3.5 -5l2.2 -.1m-2.2 .1l-.8 -2.7M375.4 475.8l4.6 2.3l.4 1.9m-.4 -1.9l2.2 -1M452.5 443.1l5 .5l1.2 2m-1.2 -2l1.6 -1.6"/>
<path class="k" stroke="#43b3a2" stroke-width="2.0" d="M395.3 477.7l-7.8 .2l-3 -3.5m3 3.5l-1.7 2.3M451.6 481.7l-1.3 4.3l-1.9 .8m1.9 -.8l1.1 1.6M396.5 435.6l-6.8 .1l-2.3 -2.9m2.3 2.9l-2.1 2.6M383.9 440.6l3.5 -5l2.2 -.1m-2.2 .1l-.8 -2.7M375.4 475.8l4.6 2.3l.4 1.9m-.4 -1.9l2.2 -1M452.5 443.1l5 .5l1.2 2m-1.2 -2l1.6 -1.6"/>
<path class="k" stroke="#2b8074" stroke-width="2.9" d="M405.3 455l4.4 2.6l.4 3m-.4 -3l2.5 -.9M398 487.8l-5.8 2.5l-3.2 -1.7m3.2 1.7l-.8 3.1M344.1 486.9l-6.4 3.9l-3.9 -1.4m3.9 1.4l-.5 4.3M362.3 488.1l-7 3.7l-4.3 -1.9m4.3 1.9l-.6 3.1M402.2 433.5l-5.1 1l-2 -1.7m2 1.7l-.9 1.7M428.1 419.1l.6 7.7l-3.3 3.1m3.3 -3.1l2.3 1.5"/>
<path class="k" stroke="#43b3a2" stroke-width="2.0" d="M405.3 455l4.4 2.6l.4 3m-.4 -3l2.5 -.9M398 487.8l-5.8 2.5l-3.2 -1.7m3.2 1.7l-.8 3.1M344.1 486.9l-6.4 3.9l-3.9 -1.4m3.9 1.4l-.5 4.3M362.3 488.1l-7 3.7l-4.3 -1.9m4.3 1.9l-.6 3.1M402.2 433.5l-5.1 1l-2 -1.7m2 1.7l-.9 1.7M428.1 419.1l.6 7.7l-3.3 3.1m3.3 -3.1l2.3 1.5"/>
<path class="k" stroke="#2b8074" stroke-width="2.9" d="M367.6 450.4l-.7 7l-2.6 1.7m2.6 -1.7l2.7 2.7M434.6 444.6l-4 4.3l-2.9 -.2m2.9 .2l.5 3.5M375.8 465.4l-.5 6.2l-2.7 1.8m2.7 -1.8l1.7 1.6M410.9 480l7.1 .4l1.9 2.6m-1.9 -2.6l2.2 -2.5M429.8 489.4l5.6 2.1l.7 2m-.7 -2l2.3 -1.4M384.1 452.7l-4.3 -6.4l1 -3.3m-1 3.3l-3.7 -.3"/>
<path class="k" stroke="#43b3a2" stroke-width="2.0" d="M367.6 450.4l-.7 7l-2.6 1.7m2.6 -1.7l2.7 2.7M434.6 444.6l-4 4.3l-2.9 -.2m2.9 .2l.5 3.5M375.8 465.4l-.5 6.2l-2.7 1.8m2.7 -1.8l1.7 1.6M410.9 480l7.1 .4l1.9 2.6m-1.9 -2.6l2.2 -2.5M429.8 489.4l5.6 2.1l.7 2m-.7 -2l2.3 -1.4M384.1 452.7l-4.3 -6.4l1 -3.3m-1 3.3l-3.7 -.3"/>
<path class="k" stroke="#2b8074" stroke-width="2.9" d="M384.7 422.3l3.9 -1.8l1.8 .9m-1.8 -.9l.6 -2.2M417.9 446.1l4.6 -2.4l2.3 1m-2.3 -1l.6 -2.8M360.8 442.1l-6.3 .2l-1.6 -1.9m1.6 1.9l-1.7 2.3M390.6 419.9l4.9 -1l1.6 1.4m-1.6 -1.4l1.2 -2.5M448.9 432.6l3.1 -5.7l2.9 -.5m-2.9 .5l-1.3 -3M376.5 432.7l4.1 -4l3.3 .4m-3.3 -.4l-.2 -2.3"/>
<path class="k" stroke="#43b3a2" stroke-width="2.0" d="M384.7 422.3l3.9 -1.8l1.8 .9m-1.8 -.9l.6 -2.2M417.9 446.1l4.6 -2.4l2.3 1m-2.3 -1l.6 -2.8M360.8 442.1l-6.3 .2l-1.6 -1.9m1.6 1.9l-1.7 2.3M390.6 419.9l4.9 -1l1.6 1.4m-1.6 -1.4l1.2 -2.5M448.9 432.6l3.1 -5.7l2.9 -.5m-2.9 .5l-1.3 -3M376.5 432.7l4.1 -4l3.3 .4m-3.3 -.4l-.2 -2.3"/>
<path class="k" stroke="#2b8074" stroke-width="2.9" d="M448.7 464.6l4.2 .3l1.3 1.9m-1.3 -1.9l1.3 -1.5M426.7 417.1l-1.2 -6.3l2.1 -2.4m-2.1 2.4l-2.3 -1.2M350 477.7l3.6 2.3l.2 2m-.2 -2l2.1 -.7M450.9 432.2l-1.2 3.8l-2 .8m2 -.8l1.1 1.6M472.4 454.3l2.7 4l-.6 1.9m.6 -1.9l2.8 .2M370.6 414l-2.6 3.4l-2 0m2 0l.5 2.1"/>
<path class="k" stroke="#43b3a2" stroke-width="2.0" d="M448.7 464.6l4.2 .3l1.3 1.9m-1.3 -1.9l1.3 -1.5M426.7 417.1l-1.2 -6.3l2.1 -2.4m-2.1 2.4l-2.3 -1.2M350 477.7l3.6 2.3l.2 2m-.2 -2l2.1 -.7M450.9 432.2l-1.2 3.8l-2 .8m2 -.8l1.1 1.6M472.4 454.3l2.7 4l-.6 1.9m.6 -1.9l2.8 .2M370.6 414l-2.6 3.4l-2 0m2 0l.5 2.1"/>
<path class="k" stroke="#2b8074" stroke-width="2.9" d="M435.7 423.2l3.8 4.6l-.6 3m.6 -3l2.8 -.1M424.4 502.1l3.1 4l-.6 2.3m.6 -2.3l2.5 0M472.1 463.9l-3 -4.8l1.1 -2.9m-1.1 2.9l-3.2 -.4M383.5 416.1l-.3 5.4l-2.5 1.8m2.5 -1.8l1.7 1.5M432.6 473.1l4.3 -1.2l2 1.4m-2 -1.4l.7 -1.8M464 466.8l7.5 2.4l1.2 3.3m-1.2 -3.3l3.3 -2.2"/>
<path class="k" stroke="#43b3a2" stroke-width="2.0" d="M435.7 423.2l3.8 4.6l-.6 3m.6 -3l2.8 -.1M424.4 502.1l3.1 4l-.6 2.3m.6 -2.3l2.5 0M472.1 463.9l-3 -4.8l1.1 -2.9m-1.1 2.9l-3.2 -.4M383.5 416.1l-.3 5.4l-2.5 1.8m2.5 -1.8l1.7 1.5M432.6 473.1l4.3 -1.2l2 1.4m-2 -1.4l.7 -1.8M464 466.8l7.5 2.4l1.2 3.3m-1.2 -3.3l3.3 -2.2"/>
<path class="k" stroke="#2b8074" stroke-width="2.9" d="M446.4 432.4l-4.5 2.9l-1.9 -.6m1.9 .6l-.2 1.9M445.4 448.4l2.9 -3.1l1.8 .1m-1.8 -.1l-.2 -1.7M471.6 458.7l4.5 3.4l0 2.3m0 -2.3l2 -.5M423.2 435.5l4.7 3.8l0 3.5m0 -3.5l3.5 -.8M419.1 413.5l6.2 -.5l1.9 2.1m-1.9 -2.1l1.4 -2.1M421.1 508.6l-4.3 2.1l-2.1 -1m2.1 1l-.6 2.7"/>
<path class="k" stroke="#43b3a2" stroke-width="2.0" d="M446.4 432.4l-4.5 2.9l-1.9 -.6m1.9 .6l-.2 1.9M445.4 448.4l2.9 -3.1l1.8 .1m-1.8 -.1l-.2 -1.7M471.6 458.7l4.5 3.4l0 2.3m0 -2.3l2 -.5M423.2 435.5l4.7 3.8l0 3.5m0 -3.5l3.5 -.8M419.1 413.5l6.2 -.5l1.9 2.1m-1.9 -2.1l1.4 -2.1M421.1 508.6l-4.3 2.1l-2.1 -1m2.1 1l-.6 2.7"/>
<path class="k" stroke="#2b8074" stroke-width="2.9" d="M396.4 472.3l4.6 -2.6l2.7 1.1m-2.7 -1.1l.4 -2.5M424.5 458l-1.5 6.8l-2.6 1.3m2.6 -1.3l2.1 2.5M451.4 469.2l3.2 3.6l-.4 2.5m.4 -2.5l2.6 -.1M431.2 496.2l3.5 5.8l-.9 2.4m.9 -2.4l3.3 .4M377.4 442.6l6.5 2.2l.9 2.5m-.9 -2.5l3.1 -2M389.8 467.8l-3.8 -4.6l.7 -3.3m-.7 3.3l-3.5 .1"/>
<path class="k" stroke="#43b3a2" stroke-width="2.0" d="M396.4 472.3l4.6 -2.6l2.7 1.1m-2.7 -1.1l.4 -2.5M424.5 458l-1.5 6.8l-2.6 1.3m2.6 -1.3l2.1 2.5M451.4 469.2l3.2 3.6l-.4 2.5m.4 -2.5l2.6 -.1M431.2 496.2l3.5 5.8l-.9 2.4m.9 -2.4l3.3 .4M377.4 442.6l6.5 2.2l.9 2.5m-.9 -2.5l3.1 -2M389.8 467.8l-3.8 -4.6l.7 -3.3m-.7 3.3l-3.5 .1"/>
<path class="k" stroke="#2b8074" stroke-width="2.9" d="M381.8 440.2l3.2 -3.2l2 .3m-2 -.3l-.2 -2M436.3 485.5l-.5 -4l1.6 -1.7m-1.6 1.7l-1.5 -.9M465.3 475.3l-6.5 3.5l-3.5 -1.5m3.5 1.5l-.6 3.1M447.5 458.6l-1.5 -6.3l2.2 -2.8m-2.2 2.8l-2.3 -1M456.2 487.1l2.2 -3.6l2 -.2m-2 .2l-.7 -1.8M358.1 426.2l7.3 -1.2l2.2 2m-2.2 -2l2 -3.6"/>
<path class="k" stroke="#43b3a2" stroke-width="2.0" d="M381.8 440.2l3.2 -3.2l2 .3m-2 -.3l-.2 -2M436.3 485.5l-.5 -4l1.6 -1.7m-1.6 1.7l-1.5 -.9M465.3 475.3l-6.5 3.5l-3.5 -1.5m3.5 1.5l-.6 3.1M447.5 458.6l-1.5 -6.3l2.2 -2.8m-2.2 2.8l-2.3 -1M456.2 487.1l2.2 -3.6l2 -.2m-2 .2l-.7 -1.8M358.1 426.2l7.3 -1.2l2.2 2m-2.2 -2l2 -3.6"/>
<path class="k" stroke="#2b8074" stroke-width="2.9" d="M435.7 445.7l-3 -3.9l.5 -2m-.5 2l-1.7 0M436.6 466.7l-.2 -6l2.1 -1.8m-2.1 1.8l-2.1 -1.5M448.1 444.4l-5.8 -4l-.2 -3.2m.2 3.2l-3.5 1.1M407.6 451.4l1.9 -5.6l2.7 -.9m-2.7 .9l-1.1 -1.8M456.8 486.6l-5.2 -5.1l.4 -3.7m-.4 3.7l-3.9 .5M465 470.6l7.5 1l2.3 3.9m-2.3 -3.9l2.2 -2.1"/>
<path class="k" stroke="#43b3a2" stroke-width="2.0" d="M435.7 445.7l-3 -3.9l.5 -2m-.5 2l-1.7 0M436.6 466.7l-.2 -6l2.1 -1.8m-2.1 1.8l-2.1 -1.5M448.1 444.4l-5.8 -4l-.2 -3.2m.2 3.2l-3.5 1.1M407.6 451.4l1.9 -5.6l2.7 -.9m-2.7 .9l-1.1 -1.8M456.8 486.6l-5.2 -5.1l.4 -3.7m-.4 3.7l-3.9 .5M465 470.6l7.5 1l2.3 3.9m-2.3 -3.9l2.2 -2.1"/>
<path class="k" stroke="#2b8074" stroke-width="2.9" d="M384.5 482.5l-3.6 3l-2.7 -.5m2.7 .5l.1 2.7M441.3 427.7l-4.8 3.3l-2.5 -.7m2.5 .7l-.1 2.1M407.2 486.7l-2.6 -7l2 -3.3m-2 3.3l-3.8 -1.2M456.5 449l-3.6 -5.6l1.2 -3.6m-1.2 3.6l-3.5 -.4M405.4 424.9l-2.3 4.4l-2.6 .5m2.6 -.5l1.1 2.5M368.7 461.6l2.9 -4.6l2 -.2m-2 .2l-.9 -2.6"/>
<path class="k" stroke="#43b3a2" stroke-width="2.0" d="M384.5 482.5l-3.6 3l-2.7 -.5m2.7 .5l.1 2.7M441.3 427.7l-4.8 3.3l-2.5 -.7m2.5 .7l-.1 2.1M407.2 486.7l-2.6 -7l2 -3.3m-2 3.3l-3.8 -1.2M456.5 449l-3.6 -5.6l1.2 -3.6m-1.2 3.6l-3.5 -.4M405.4 424.9l-2.3 4.4l-2.6 .5m2.6 -.5l1.1 2.5M368.7 461.6l2.9 -4.6l2 -.2m-2 .2l-.9 -2.6"/>
<path class="k" stroke="#2b8074" stroke-width="2.9" d="M393.6 419.9l-1 3.9l-1.4 .7m1.4 -.7l1.1 1.5M421 507l2.7 -4.6l3.1 -.4m-3.1 .4l-.7 -1.8M451.2 455.6l1.9 -5.5l3.2 -1.1m-3.2 1.1l-1.6 -2.5M419.1 422.8l-5.2 2.6l-2.9 -1.4m2.9 1.4l-.5 2.3M383.7 491.9l5.5 2.6l.6 2.4m-.6 -2.4l2.9 -1.4M427.5 414.6l-.7 -5.6l1.7 -1.7m-1.7 1.7l-2.7 -1.7"/>
<path class="k" stroke="#43b3a2" stroke-width="2.0" d="M393.6 419.9l-1 3.9l-1.4 .7m1.4 -.7l1.1 1.5M421 507l2.7 -4.6l3.1 -.4m-3.1 .4l-.7 -1.8M451.2 455.6l1.9 -5.5l3.2 -1.1m-3.2 1.1l-1.6 -2.5M419.1 422.8l-5.2 2.6l-2.9 -1.4m2.9 1.4l-.5 2.3M383.7 491.9l5.5 2.6l.6 2.4m-.6 -2.4l2.9 -1.4M427.5 414.6l-.7 -5.6l1.7 -1.7m-1.7 1.7l-2.7 -1.7"/>
<path class="k" stroke="#2b8074" stroke-width="2.9" d="M454.4 437.6l-2 -4l.9 -1.9m-.9 1.9l-1.6 -.4M434.2 502.5l-2.7 -3.1l.4 -2m-.4 2l-1.9 .1M405.4 420.7l-1 5.7l-1.9 1m1.9 -1l2 2.3M376.2 435.6l4.4 2.8l.3 3m-.3 -3l2.1 -.7M390.7 426.9l-2.4 -5.3l1 -2m-1 2l-3.2 -.8M388.6 477.9l-7.2 2.2l-2.2 -1.5m2.2 1.5l-1.1 2.8"/>
<path class="k" stroke="#43b3a2" stroke-width="2.0" d="M454.4 437.6l-2 -4l.9 -1.9m-.9 1.9l-1.6 -.4M434.2 502.5l-2.7 -3.1l.4 -2m-.4 2l-1.9 .1M405.4 420.7l-1 5.7l-1.9 1m1.9 -1l2 2.3M376.2 435.6l4.4 2.8l.3 3m-.3 -3l2.1 -.7M390.7 426.9l-2.4 -5.3l1 -2m-1 2l-3.2 -.8M388.6 477.9l-7.2 2.2l-2.2 -1.5m2.2 1.5l-1.1 2.8"/>
<path class="k" stroke="#2b8074" stroke-width="2.9" d="M382.4 432.8l2.6 -5.4l2.6 -.6m-2.6 .6l-1.2 -2.6M464.2 465.5l-6.3 2l-2.8 -1.9m2.8 1.9l-1.1 2.8M402.9 418.6l-7 2.8l-2.8 -1.6m2.8 1.6l-.9 3.2M428.8 467.7l2.6 5.2l-1.3 2.8m1.3 -2.8l2 .4M356.5 485.3l3.5 -2.4l1.5 .5m-1.5 -.5l.2 -2.2M382.2 474.8l5.7 1.2l1 2m-1 -2l2 -1.6"/>
<path class="k" stroke="#43b3a2" stroke-width="2.0" d="M382.4 432.8l2.6 -5.4l2.6 -.6m-2.6 .6l-1.2 -2.6M464.2 465.5l-6.3 2l-2.8 -1.9m2.8 1.9l-1.1 2.8M402.9 418.6l-7 2.8l-2.8 -1.6m2.8 1.6l-.9 3.2M428.8 467.7l2.6 5.2l-1.3 2.8m1.3 -2.8l2 .4M356.5 485.3l3.5 -2.4l1.5 .5m-1.5 -.5l.2 -2.2M382.2 474.8l5.7 1.2l1 2m-1 -2l2 -1.6"/>
<path class="k" stroke="#2b8074" stroke-width="2.9" d="M442 459.1l4.5 -5.9l3.7 -.1m-3.7 .1l-1 -4M387.3 471.4l5.8 4.9l-.1 3.3m.1 -3.3l4 -.8M397.6 496.2l4.5 -.1l1.5 1.9m-1.5 -1.9l1.5 -1.9M407.5 434.3l2.6 5l-1.3 3m1.3 -3l2.5 .5M377.9 470.8l-6 2.5l-2.6 -1.5m2.6 1.5l-.7 2.6M345.8 492.1l-2.7 -4.2l.8 -2.2m-.8 2.2l-2.5 -.2"/>
<path class="k" stroke="#43b3a2" stroke-width="2.0" d="M442 459.1l4.5 -5.9l3.7 -.1m-3.7 .1l-1 -4M387.3 471.4l5.8 4.9l-.1 3.3m.1 -3.3l4 -.8M397.6 496.2l4.5 -.1l1.5 1.9m-1.5 -1.9l1.5 -1.9M407.5 434.3l2.6 5l-1.3 3m1.3 -3l2.5 .5M377.9 470.8l-6 2.5l-2.6 -1.5m2.6 1.5l-.7 2.6M345.8 492.1l-2.7 -4.2l.8 -2.2m-.8 2.2l-2.5 -.2"/>
<path class="k" stroke="#2b8074" stroke-width="2.9" d="M414.2 500.9l.9 -5.1l2 -1.1m-2 1.1l-1.7 -2M380.6 460.8l4.7 1.4l1.1 2.7m-1.1 -2.7l2.2 -1.5M372.9 453.3l4.4 .9l.8 1.6m-.8 -1.6l2.1 -1.7M386.2 431l4.1 1.8l.7 2.6m-.7 -2.6l2.1 -1.1M455 431.8l2.5 4.4l-.7 1.7m.7 -1.7l2 .3M445.8 457.1l5.2 .3l1.7 2.4m-1.7 -2.4l2 -2.2"/>
<path class="k" stroke="#43b3a2" stroke-width="2.0" d="M414.2 500.9l.9 -5.1l2 -1.1m-2 1.1l-1.7 -2M380.6 460.8l4.7 1.4l1.1 2.7m-1.1 -2.7l2.2 -1.5M372.9 453.3l4.4 .9l.8 1.6m-.8 -1.6l2.1 -1.7M386.2 431l4.1 1.8l.7 2.6m-.7 -2.6l2.1 -1.1M455 431.8l2.5 4.4l-.7 1.7m.7 -1.7l2 .3M445.8 457.1l5.2 .3l1.7 2.4m-1.7 -2.4l2 -2.2"/>
<path class="k" stroke="#2b8074" stroke-width="2.9" d="M447.2 482.8l5.3 -3.3l2.6 .9m-2.6 -.9l.4 -3.1M381.9 408.4l-.4 5.8l-1.8 1.3m1.8 -1.3l1.6 1.4M376.8 443.9l5.7 -1.6l2.7 2m-2.7 -2l1.2 -2.9M427.2 439l-4.1 3.3l-2.6 -.6m2.6 .6l0 3M456.1 436.1l2.4 3.3l-.5 1.9m.5 -1.9l1.6 .1M374 426.5l-3.2 -5.4l.9 -2.5m-.9 2.5l-3.3 -.4"/>
<path class="k" stroke="#43b3a2" stroke-width="2.0" d="M447.2 482.8l5.3 -3.3l2.6 .9m-2.6 -.9l.4 -3.1M381.9 408.4l-.4 5.8l-1.8 1.3m1.8 -1.3l1.6 1.4M376.8 443.9l5.7 -1.6l2.7 2m-2.7 -2l1.2 -2.9M427.2 439l-4.1 3.3l-2.6 -.6m2.6 .6l0 3M456.1 436.1l2.4 3.3l-.5 1.9m.5 -1.9l1.6 .1M374 426.5l-3.2 -5.4l.9 -2.5m-.9 2.5l-3.3 -.4"/>
<path class="k" stroke="#2b8074" stroke-width="2.9" d="M443.6 482.9l-7.5 .6l-2.6 -2.8m2.6 2.8l-2.2 3.3M408.7 462.9l5.8 3.9l.2 3m-.2 -3l3.1 -1M416.9 494.3l-2 5.9l-2.9 1.1m2.9 -1.1l1.7 2.7M386.2 434.4l-6.3 1.2l-2.5 -2.1m2.5 2.1l-1.1 2.2M405.8 464.5l1.5 4.1l-1.3 2.2m1.3 -2.2l1.5 .5M413.5 436l5 1l.9 1.8m-.9 -1.8l1.7 -1.5"/>
<path class="k" stroke="#43b3a2" stroke-width="2.0" d="M443.6 482.9l-7.5 .6l-2.6 -2.8m2.6 2.8l-2.2 3.3M408.7 462.9l5.8 3.9l.2 3m-.2 -3l3.1 -1M416.9 494.3l-2 5.9l-2.9 1.1m2.9 -1.1l1.7 2.7M386.2 434.4l-6.3 1.2l-2.5 -2.1m2.5 2.1l-1.1 2.2M405.8 464.5l1.5 4.1l-1.3 2.2m1.3 -2.2l1.5 .5M413.5 436l5 1l.9 1.8m-.9 -1.8l1.7 -1.5"/>
<path class="k" stroke="#2b8074" stroke-width="2.9" d="M392 478.9l-2.9 -2.9l.2 -1.7m-.2 1.7l-1.7 .2M471.4 451.8l-.3 5.9l-2.3 1.6m2.3 -1.6l1.7 1.5M438.1 481.7l-6.1 .9l-2.4 -2.3m2.4 2.3l-1.8 3.1M414.4 475.4l-3.3 5.9l-2.9 .5m2.9 -.5l1.3 3.1M430.4 476.2l6.1 -3.1l3.3 1.5m-3.3 -1.5l.7 -3.5M374.3 470.2l-3.1 -2.9l.2 -2.3m-.2 2.3l-1.7 .2"/>
<path class="k" stroke="#43b3a2" stroke-width="2.0" d="M392 478.9l-2.9 -2.9l.2 -1.7m-.2 1.7l-1.7 .2M471.4 451.8l-.3 5.9l-2.3 1.6m2.3 -1.6l1.7 1.5M438.1 481.7l-6.1 .9l-2.4 -2.3m2.4 2.3l-1.8 3.1M414.4 475.4l-3.3 5.9l-2.9 .5m2.9 -.5l1.3 3.1M430.4 476.2l6.1 -3.1l3.3 1.5m-3.3 -1.5l.7 -3.5M374.3 470.2l-3.1 -2.9l.2 -2.3m-.2 2.3l-1.7 .2"/>
<path class="k" stroke="#2b8074" stroke-width="2.9" d="M412.5 460.6l-1.2 -7l2.2 -2.5m-2.2 2.5l-3.6 -2M405.4 465.1l5.3 -.3l1.9 2.1m-1.9 -2.1l1.8 -2.5M353 487.7l-3.6 -5l.9 -3.2m-.9 3.2l-3.5 -.2M430.5 479.3l7 -1.9l3.2 2.4m-3.2 -2.4l1.1 -2.4M389.4 486.9l-6.5 -1.3l-1.5 -3m1.5 3l-2.9 2.4M412.7 457.3l-3.4 -5.2l.7 -2.1m-.7 2.1l-3.7 -.3"/>
<path class="k" stroke="#43b3a2" stroke-width="2.0" d="M412.5 460.6l-1.2 -7l2.2 -2.5m-2.2 2.5l-3.6 -2M405.4 465.1l5.3 -.3l1.9 2.1m-1.9 -2.1l1.8 -2.5M353 487.7l-3.6 -5l.9 -3.2m-.9 3.2l-3.5 -.2M430.5 479.3l7 -1.9l3.2 2.4m-3.2 -2.4l1.1 -2.4M389.4 486.9l-6.5 -1.3l-1.5 -3m1.5 3l-2.9 2.4M412.7 457.3l-3.4 -5.2l.7 -2.1m-.7 2.1l-3.7 -.3"/>
<path class="k" stroke="#2b8074" stroke-width="2.9" d="M387.2 458l4.6 1.3l1.1 2.5m-1.1 -2.5l1.6 -1.2M384.3 491.4l.4 6.7l-2.5 2.2m2.5 -2.2l3.1 2.2M410.3 439.7l-.3 5.4l-1.6 1.1m1.6 -1.1l1.5 1.4M362.4 438.2l.9 -7.7l2.9 -1.8m-2.9 1.8l-2.3 -2.3M383.5 471.8l-4.4 .6l-1.5 -1.5m1.5 1.5l-1 1.6M361.7 488.5l4.5 3.5l0 3.1m0 -3.1l2.7 -.7"/>
<path class="k" stroke="#43b3a2" stroke-width="2.0" d="M387.2 458l4.6 1.3l1.1 2.5m-1.1 -2.5l1.6 -1.2M384.3 491.4l.4 6.7l-2.5 2.2m2.5 -2.2l3.1 2.2M410.3 439.7l-.3 5.4l-1.6 1.1m1.6 -1.1l1.5 1.4M362.4 438.2l.9 -7.7l2.9 -1.8m-2.9 1.8l-2.3 -2.3M383.5 471.8l-4.4 .6l-1.5 -1.5m1.5 1.5l-1 1.6M361.7 488.5l4.5 3.5l0 3.1m0 -3.1l2.7 -.7"/>
<path class="k" stroke="#2b8074" stroke-width="2.9" d="M468.3 438.5l3.9 -1.4l2 1.3m-2 -1.3l.6 -1.8M448.3 491.3l5.2 .2l1.4 2m-1.4 -2l2 -2.3M385.1 413.4l-5.4 2.7l-2.6 -1.2m2.6 1.2l-.5 2.5M385.6 487.7l.2 5.7l-1.6 1.4m1.6 -1.4l1.9 1.4M417.1 476.6l-2.9 -5.4l1.1 -2.5m-1.1 2.5l-2.3 -.4M439.2 440.6l.5 5.2l-1.8 1.7m1.8 -1.7l1.8 1.1"/>
<path class="k" stroke="#43b3a2" stroke-width="2.0" d="M468.3 438.5l3.9 -1.4l2 1.3m-2 -1.3l.6 -1.8M448.3 491.3l5.2 .2l1.4 2m-1.4 -2l2 -2.3M385.1 413.4l-5.4 2.7l-2.6 -1.2m2.6 1.2l-.5 2.5M385.6 487.7l.2 5.7l-1.6 1.4m1.6 -1.4l1.9 1.4M417.1 476.6l-2.9 -5.4l1.1 -2.5m-1.1 2.5l-2.3 -.4M439.2 440.6l.5 5.2l-1.8 1.7m1.8 -1.7l1.8 1.1"/>
<path class="k" stroke="#2b8074" stroke-width="2.9" d="M465.2 456.2l3.9 1.8l.6 2.4m-.6 -2.4l1.9 -1M383.2 480.8l7.2 2.2l1.6 4.1m-1.6 -4.1l3.2 -2.2M462.9 468l1.3 4.8l-1.1 1.4m1.1 -1.4l2.2 1M412.5 488.4l5.2 5.8l-.8 4.3m.8 -4.3l3.7 -.2M470.1 436.3l5.3 -.6l2.2 2.2m-2.2 -2.2l1.5 -2.5M436.4 501.7l-1.7 -3.8l.8 -1.6m-.8 1.6l-1.8 -.4"/>
<path class="k" stroke="#43b3a2" stroke-width="2.0" d="M465.2 456.2l3.9 1.8l.6 2.4m-.6 -2.4l1.9 -1M383.2 480.8l7.2 2.2l1.6 4.1m-1.6 -4.1l3.2 -2.2M462.9 468l1.3 4.8l-1.1 1.4m1.1 -1.4l2.2 1M412.5 488.4l5.2 5.8l-.8 4.3m.8 -4.3l3.7 -.2M470.1 436.3l5.3 -.6l2.2 2.2m-2.2 -2.2l1.5 -2.5M436.4 501.7l-1.7 -3.8l.8 -1.6m-.8 1.6l-1.8 -.4"/>
<path class="k" stroke="#2b8074" stroke-width="2.9" d="M365.6 428.6l-5.5 -.6l-1.2 -1.9m1.2 1.9l-1.7 1.8M448.7 485.1l-4.4 -3.9l.2 -3.1m-.2 3.1l-2.7 .5"/>
<path class="k" stroke="#43b3a2" stroke-width="2.0" d="M365.6 428.6l-5.5 -.6l-1.2 -1.9m1.2 1.9l-1.7 1.8M448.7 485.1l-4.4 -3.9l.2 -3.1m-.2 3.1l-2.7 .5"/>
<path class="k" stroke="#2b8074" stroke-width="3.6" d="M344.7,493.0 C345.8,494.4 347.5,499.2 350.9,501.2 C354.4,503.3 360.5,506.0 365.3,505.3 C370.1,504.7 376.0,499.2 379.7,497.1 C383.5,495.1 386.6,493.7 388.0,493.0"/>
<path class="k" stroke="#43b3a2" stroke-width="2.4" d="M344.7,493.0 C345.8,494.4 347.5,499.2 350.9,501.2 C354.4,503.3 360.5,506.0 365.3,505.3 C370.1,504.7 376.0,499.2 379.7,497.1 C383.5,495.1 386.6,493.7 388.0,493.0"/>
<path class="k" stroke="#303a78" stroke-width="2.5" d="M653.9 421.8l2.8 3.1l-.4 2.4m.4 -2.4l2.4 -.2M647.6 421.5l-2.8 6.6l-3.2 .9m3.2 -.9l1.3 2.5M658.1 410l2.2 -5.4l2.3 -.7m-2.3 .7l-1.5 -2.6M647.5 420.9l-3 5.7l-3 .6m3 -.6l1.2 2.8M648.7 409.2l.1 -5.8l2.5 -1.9m-2.5 1.9l-2.6 -2.1M646.2 410.5l-3.4 -6l1 -2.5m-1 2.5l-3.1 -.5"/>
<path class="k" stroke="#4d5ba8" stroke-width="1.7" d="M653.9 421.8l2.8 3.1l-.4 2.4m.4 -2.4l2.4 -.2M647.6 421.5l-2.8 6.6l-3.2 .9m3.2 -.9l1.3 2.5M658.1 410l2.2 -5.4l2.3 -.7m-2.3 .7l-1.5 -2.6M647.5 420.9l-3 5.7l-3 .6m3 -.6l1.2 2.8M648.7 409.2l.1 -5.8l2.5 -1.9m-2.5 1.9l-2.6 -2.1M646.2 410.5l-3.4 -6l1 -2.5m-1 2.5l-3.1 -.5"/>
<path class="k" stroke="#303a78" stroke-width="2.5" d="M654.9 420.6l2.1 4.9l-1.1 1.9m1.1 -1.9l1.8 .5M659.4 416.9l5.7 0l1.9 2.3m-1.9 -2.3l2.1 -2.6M649.7 409.6l.9 -4.7l2.1 -1.1m-2.1 1.1l-1.6 -1.8M649.7 424l-2.3 6.4l-2.5 .8m2.5 -.8l2 3.2M649.9 423.2l-2.4 4.7l-2.2 .4m2.2 -.4l1 2.1"/>
<path class="k" stroke="#4d5ba8" stroke-width="1.7" d="M654.9 420.6l2.1 4.9l-1.1 1.9m1.1 -1.9l1.8 .5M659.4 416.9l5.7 0l1.9 2.3m-1.9 -2.3l2.1 -2.6M649.7 409.6l.9 -4.7l2.1 -1.1m-2.1 1.1l-1.6 -1.8M649.7 424l-2.3 6.4l-2.5 .8m2.5 -.8l2 3.2M649.9 423.2l-2.4 4.7l-2.2 .4m2.2 -.4l1 2.1"/>
<circle cx="639.7" cy="412.7" r="6.8" stroke="#303a78" stroke-width="3.40" fill="none"/>
<circle cx="639.7" cy="412.7" r="6.8" stroke="#4d5ba8" stroke-width="2.4" fill="none"/>
<circle cx="646.1" cy="414.3" r="6.8" stroke="#303a78" stroke-width="3.40" fill="none"/>
<circle cx="646.1" cy="414.3" r="6.8" stroke="#4d5ba8" stroke-width="2.4" fill="none"/>
<circle cx="652.5" cy="415.9" r="6.8" stroke="#303a78" stroke-width="3.40" fill="none"/>
<circle cx="652.5" cy="415.9" r="6.8" stroke="#4d5ba8" stroke-width="2.4" fill="none"/>
<circle cx="658.9" cy="417.5" r="6.8" stroke="#303a78" stroke-width="3.40" fill="none"/>
<circle cx="658.9" cy="417.5" r="6.8" stroke="#4d5ba8" stroke-width="2.4" fill="none"/>
<circle cx="650.1" cy="415.9" r="3.4" stroke="#303a78" stroke-width="2.80" fill="none"/>
<circle cx="650.1" cy="415.9" r="3.4" stroke="#4d5ba8" stroke-width="2.0" fill="none"/>
<path class="k" stroke="#303a78" stroke-width="2.5" d="M608.3 428.9l6.2 -1l2.4 2.2m-2.4 -2.2l1.3 -2.3M606.1 432.8l5.4 3.4l.4 3.8m-.4 -3.8l3 -1.1M605.9 423l3.4 -4.5l2.7 -.1m-2.7 .1l-.6 -2.4M601.1 422.5l-2.4 -7.4l2.1 -3.1m-2.1 3.1l-3.9 -1.5M593.4 427.8l-4.2 -1.6l-.5 -1.6m.5 1.6l-2.1 1.2M597 435l-5.7 4.1l-3.6 -1m3.6 1l-.1 3.1"/>
<path class="k" stroke="#4d5ba8" stroke-width="1.7" d="M608.3 428.9l6.2 -1l2.4 2.2m-2.4 -2.2l1.3 -2.3M606.1 432.8l5.4 3.4l.4 3.8m-.4 -3.8l3 -1.1M605.9 423l3.4 -4.5l2.7 -.1m-2.7 .1l-.6 -2.4M601.1 422.5l-2.4 -7.4l2.1 -3.1m-2.1 3.1l-3.9 -1.5M593.4 427.8l-4.2 -1.6l-.5 -1.6m.5 1.6l-2.1 1.2M597 435l-5.7 4.1l-3.6 -1m3.6 1l-.1 3.1"/>
<path class="k" stroke="#303a78" stroke-width="2.5" d="M606.1 435.9l5.7 3.4l.4 3.5m-.4 -3.5l2.6 -1M608.2 430.1l6.1 1.9l1.4 3.5m-1.4 -3.5l2.1 -1.5M599.8 422.9l-.2 -5.2l1.6 -1.4m-1.6 1.4l-2 -1.5M594 424.6l-4.3 -4.2l.3 -3.1m-.3 3.1l-3 .4M595.1 433.6l-5.1 2.1l-1.7 -1m1.7 1l-.6 2.1"/>
<path class="k" stroke="#4d5ba8" stroke-width="1.7" d="M606.1 435.9l5.7 3.4l.4 3.5m-.4 -3.5l2.6 -1M608.2 430.1l6.1 1.9l1.4 3.5m-1.4 -3.5l2.1 -1.5M599.8 422.9l-.2 -5.2l1.6 -1.4m-1.6 1.4l-2 -1.5M594 424.6l-4.3 -4.2l.3 -3.1m-.3 3.1l-3 .4M595.1 433.6l-5.1 2.1l-1.7 -1m1.7 1l-.6 2.1"/>
<circle cx="600.6" cy="421.0" r="6.8" stroke="#303a78" stroke-width="3.40" fill="none"/>
<circle cx="600.6" cy="421.0" r="6.8" stroke="#4d5ba8" stroke-width="2.4" fill="none"/>
<circle cx="600.6" cy="425.8" r="6.8" stroke="#303a78" stroke-width="3.40" fill="none"/>
<circle cx="600.6" cy="425.8" r="6.8" stroke="#4d5ba8" stroke-width="2.4" fill="none"/>
<circle cx="600.6" cy="430.6" r="6.8" stroke="#303a78" stroke-width="3.40" fill="none"/>
<circle cx="600.6" cy="430.6" r="6.8" stroke="#4d5ba8" stroke-width="2.4" fill="none"/>
<circle cx="600.6" cy="435.4" r="6.8" stroke="#303a78" stroke-width="3.40" fill="none"/>
<circle cx="600.6" cy="435.4" r="6.8" stroke="#4d5ba8" stroke-width="2.4" fill="none"/>
<circle cx="601.4" cy="429.0" r="3.4" stroke="#303a78" stroke-width="2.80" fill="none"/>
<circle cx="601.4" cy="429.0" r="3.4" stroke="#4d5ba8" stroke-width="2.0" fill="none"/>
<path class="k" stroke="#303a78" stroke-width="2.5" d="M620.8 441.4l-4.4 4l-3.3 -.6m3.3 .6l.2 2.6M621 441.8l-4.1 3.9l-3.2 -.5m3.2 .5l.2 2M617.6 433.5l-3.9 -2.7l-.2 -2.6m.2 2.6l-2.2 .7M632 432.7l6.4 -1.6l3.1 2.4m-3.1 -2.4l1.2 -2.6M621.1 439.3l-3.7 2.1l-2.2 -.9m2.2 .9l-.3 1.6M629 443.4l2.6 6.5l-1.5 2.6m1.5 -2.6l2.8 .8"/>
<path class="k" stroke="#4d5ba8" stroke-width="1.7" d="M620.8 441.4l-4.4 4l-3.3 -.6m3.3 .6l.2 2.6M621 441.8l-4.1 3.9l-3.2 -.5m3.2 .5l.2 2M617.6 433.5l-3.9 -2.7l-.2 -2.6m.2 2.6l-2.2 .7M632 432.7l6.4 -1.6l3.1 2.4m-3.1 -2.4l1.2 -2.6M621.1 439.3l-3.7 2.1l-2.2 -.9m2.2 .9l-.3 1.6M629 443.4l2.6 6.5l-1.5 2.6m1.5 -2.6l2.8 .8"/>
<path class="k" stroke="#303a78" stroke-width="2.5" d="M619.9 441.8l-3.2 6.9l-4.2 1m4.2 -1l1.8 3.5M625 443.3l-3.1 5.6l-2.5 .4m2.5 -.4l1.2 3M633.1 433.3l3.9 -2.8l2.3 .7m-2.3 -.7l.1 -1.7M632.7 435.4l5.8 -1.4l1.7 1.4m-1.7 -1.4l1.2 -2.7M622.8 429.3l-2.3 -5.7l1.6 -2.9m-1.6 2.9l-2.9 -.8"/>
<path class="k" stroke="#4d5ba8" stroke-width="1.7" d="M619.9 441.8l-3.2 6.9l-4.2 1m4.2 -1l1.8 3.5M625 443.3l-3.1 5.6l-2.5 .4m2.5 -.4l1.2 3M633.1 433.3l3.9 -2.8l2.3 .7m-2.3 -.7l.1 -1.7M632.7 435.4l5.8 -1.4l1.7 1.4m-1.7 -1.4l1.2 -2.7M622.8 429.3l-2.3 -5.7l1.6 -2.9m-1.6 2.9l-2.9 -.8"/>
<circle cx="625.3" cy="434.4" r="6.8" stroke="#303a78" stroke-width="3.40" fill="none"/>
<circle cx="625.3" cy="434.4" r="6.8" stroke="#4d5ba8" stroke-width="2.4" fill="none"/>
<circle cx="626.1" cy="436.0" r="6.8" stroke="#303a78" stroke-width="3.40" fill="none"/>
<circle cx="626.1" cy="436.0" r="6.8" stroke="#4d5ba8" stroke-width="2.4" fill="none"/>
<circle cx="626.5" cy="436.0" r="3.4" stroke="#303a78" stroke-width="2.80" fill="none"/>
<circle cx="626.5" cy="436.0" r="3.4" stroke="#4d5ba8" stroke-width="2.0" fill="none"/>
<path class="k" stroke="#303a78" stroke-width="2.5" d="M589.4 448.1l-1.6 -4.1l.8 -1.4m-.8 1.4l-2.4 -.7M597.2 448.8l5.1 -3.9l3.5 .9m-3.5 -.9l.1 -3.4M589.9 458.2l-6 3.4l-3 -1.2m3 1.2l-.4 2.8M588.6 460.3l-3 3.8l-2.9 0m2.9 0l.6 2.8M597.1 459.6l1.3 5.4l-1.6 2m1.6 -2l2.6 1.2M593.2 461.3l.7 4.8l-1.6 1.7m1.6 -1.7l1.9 1.1"/>
<path class="k" stroke="#4d5ba8" stroke-width="1.7" d="M589.4 448.1l-1.6 -4.1l.8 -1.4m-.8 1.4l-2.4 -.7M597.2 448.8l5.1 -3.9l3.5 .9m-3.5 -.9l.1 -3.4M589.9 458.2l-6 3.4l-3 -1.2m3 1.2l-.4 2.8M588.6 460.3l-3 3.8l-2.9 0m2.9 0l.6 2.8M597.1 459.6l1.3 5.4l-1.6 2m1.6 -2l2.6 1.2M593.2 461.3l.7 4.8l-1.6 1.7m1.6 -1.7l1.9 1.1"/>
<path class="k" stroke="#303a78" stroke-width="2.5" d="M599.2 450l4.9 -1.2l1.7 1.3m-1.7 -1.3l.8 -1.7M590.7 461.8l-2 7.1l-4 1.7m4 -1.7l2.2 3.1M597.1 460.3l3.4 3.7l-.3 2.1m.3 -2.1l2 -.1M591.1 447.2l-3 -4l.5 -1.9m-.5 1.9l-1.9 0M588.7 456.1l-4.7 1.8l-2.3 -1.4m2.3 1.4l-.6 2"/>
<path class="k" stroke="#4d5ba8" stroke-width="1.7" d="M599.2 450l4.9 -1.2l1.7 1.3m-1.7 -1.3l.8 -1.7M590.7 461.8l-2 7.1l-4 1.7m4 -1.7l2.2 3.1M597.1 460.3l3.4 3.7l-.3 2.1m.3 -2.1l2 -.1M591.1 447.2l-3 -4l.5 -1.9m-.5 1.9l-1.9 0M588.7 456.1l-4.7 1.8l-2.3 -1.4m2.3 1.4l-.6 2"/>
<circle cx="588.3" cy="451.8" r="6.8" stroke="#303a78" stroke-width="3.40" fill="none"/>
<circle cx="588.3" cy="451.8" r="6.8" stroke="#4d5ba8" stroke-width="2.4" fill="none"/>
<circle cx="593.1" cy="453.4" r="6.8" stroke="#303a78" stroke-width="3.40" fill="none"/>
<circle cx="593.1" cy="453.4" r="6.8" stroke="#4d5ba8" stroke-width="2.4" fill="none"/>
<circle cx="597.9" cy="455.0" r="6.8" stroke="#303a78" stroke-width="3.40" fill="none"/>
<circle cx="597.9" cy="455.0" r="6.8" stroke="#4d5ba8" stroke-width="2.4" fill="none"/>
<circle cx="593.9" cy="454.2" r="3.4" stroke="#303a78" stroke-width="2.80" fill="none"/>
<circle cx="593.9" cy="454.2" r="3.4" stroke="#4d5ba8" stroke-width="2.0" fill="none"/>
<path class="k" stroke="#303a78" stroke-width="2.5" d="M616.2 451.7l4.4 -2.2l2.6 1.2m-2.6 -1.2l.4 -2.3M616.2 453.7l3.9 -3.2l2.7 .6m-2.7 -.6l0 -2.2M616.7 453.2l2.9 -3l1.7 .2m-1.7 -.2l-.2 -1.9M605.7 464l-1.5 5.7l-3.1 1.3m3.1 -1.3l2.1 2.8M607.9 451.2l-2.2 -7.7l2.5 -3.6m-2.5 3.6l-3.4 -1.4M602.2 458.8l-6.4 -.2l-1.6 -2.2m1.6 2.2l-2.1 2.5"/>
<path class="k" stroke="#4d5ba8" stroke-width="1.7" d="M616.2 451.7l4.4 -2.2l2.6 1.2m-2.6 -1.2l.4 -2.3M616.2 453.7l3.9 -3.2l2.7 .6m-2.7 -.6l0 -2.2M616.7 453.2l2.9 -3l1.7 .2m-1.7 -.2l-.2 -1.9M605.7 464l-1.5 5.7l-3.1 1.3m3.1 -1.3l2.1 2.8M607.9 451.2l-2.2 -7.7l2.5 -3.6m-2.5 3.6l-3.4 -1.4M602.2 458.8l-6.4 -.2l-1.6 -2.2m1.6 2.2l-2.1 2.5"/>
<path class="k" stroke="#303a78" stroke-width="2.5" d="M602.2 459.1l-7.3 -3.3l-1.1 -4.6m1.1 4.6l-2.6 1.3M617 461.5l4.4 4.4l-.3 2.6m.3 -2.6l2.3 -.3M610.8 464.7l2.4 6.5l-1.4 2.4m1.4 -2.4l2.6 .8M606.3 454.3l-3.1 -5.8l1.5 -3.4m-1.5 3.4l-3.4 -.7M610 452l-1.1 -5.4l1.6 -1.9m-1.6 1.9l-2.8 -1.5"/>
<path class="k" stroke="#4d5ba8" stroke-width="1.7" d="M602.2 459.1l-7.3 -3.3l-1.1 -4.6m1.1 4.6l-2.6 1.3M617 461.5l4.4 4.4l-.3 2.6m.3 -2.6l2.3 -.3M610.8 464.7l2.4 6.5l-1.4 2.4m1.4 -2.4l2.6 .8M606.3 454.3l-3.1 -5.8l1.5 -3.4m-1.5 3.4l-3.4 -.7M610 452l-1.1 -5.4l1.6 -1.9m-1.6 1.9l-2.8 -1.5"/>
<circle cx="608.8" cy="458.0" r="6.8" stroke="#303a78" stroke-width="3.40" fill="none"/>
<circle cx="608.8" cy="458.0" r="6.8" stroke="#4d5ba8" stroke-width="2.4" fill="none"/>
<circle cx="612.0" cy="458.8" r="6.8" stroke="#303a78" stroke-width="3.40" fill="none"/>
<circle cx="612.0" cy="458.8" r="6.8" stroke="#4d5ba8" stroke-width="2.4" fill="none"/>
<circle cx="611.2" cy="459.2" r="3.4" stroke="#303a78" stroke-width="2.80" fill="none"/>
<circle cx="611.2" cy="459.2" r="3.4" stroke="#4d5ba8" stroke-width="2.0" fill="none"/>
<path class="k" stroke="#303a78" stroke-width="2.5" d="M559.6 470.2l-4.2 1.2l-1.4 -1m1.4 1l-.8 2M568.7 460.7l0 -5.5l2 -1.6m-2 1.6l-2 -1.6M573.9 463.6l4.1 -3.4l2.5 .5m-2.5 -.5l0 -2.1M562.5 470.8l-6.5 3.7l-4 -1.6m4 1.6l-.6 3.7M561.5 472l-3.7 2.9l-2.2 -.5m2.2 .5l0 2.2M569.4 473.8l0 6.6l-2.2 1.8m2.2 -1.8l2.1 1.7"/>
<path class="k" stroke="#4d5ba8" stroke-width="1.7" d="M559.6 470.2l-4.2 1.2l-1.4 -1m1.4 1l-.8 2M568.7 460.7l0 -5.5l2 -1.6m-2 1.6l-2 -1.6M573.9 463.6l4.1 -3.4l2.5 .5m-2.5 -.5l0 -2.1M562.5 470.8l-6.5 3.7l-4 -1.6m4 1.6l-.6 3.7M561.5 472l-3.7 2.9l-2.2 -.5m2.2 .5l0 2.2M569.4 473.8l0 6.6l-2.2 1.8m2.2 -1.8l2.1 1.7"/>
<path class="k" stroke="#303a78" stroke-width="2.5" d="M562 461.6l-4.8 -3.4l-.1 -2.7m.1 2.7l-2.9 .8M572.1 462.2l4.7 -4.1l3.2 .6m-3.2 -.6l-.1 -2.6M567.3 475.6l2.5 6.3l-1.4 2.4m1.4 -2.4l3 .9M560.9 469l-6.3 4.6l-2.7 -.8m2.7 .8l-.1 3M566.7 460.1l-2.6 -6.6l2.1 -3.7m-2.1 3.7l-2.7 -.8"/>
<path class="k" stroke="#4d5ba8" stroke-width="1.7" d="M562 461.6l-4.8 -3.4l-.1 -2.7m.1 2.7l-2.9 .8M572.1 462.2l4.7 -4.1l3.2 .6m-3.2 -.6l-.1 -2.6M567.3 475.6l2.5 6.3l-1.4 2.4m1.4 -2.4l3 .9M560.9 469l-6.3 4.6l-2.7 -.8m2.7 .8l-.1 3M566.7 460.1l-2.6 -6.6l2.1 -3.7m-2.1 3.7l-2.7 -.8"/>
<circle cx="565.6" cy="458.0" r="6.8" stroke="#303a78" stroke-width="3.40" fill="none"/>
<circle cx="565.6" cy="458.0" r="6.8" stroke="#4d5ba8" stroke-width="2.4" fill="none"/>
<circle cx="566.4" cy="462.8" r="6.8" stroke="#303a78" stroke-width="3.40" fill="none"/>
<circle cx="566.4" cy="462.8" r="6.8" stroke="#4d5ba8" stroke-width="2.4" fill="none"/>
<circle cx="567.2" cy="467.6" r="6.8" stroke="#303a78" stroke-width="3.40" fill="none"/>
<circle cx="567.2" cy="467.6" r="6.8" stroke="#4d5ba8" stroke-width="2.4" fill="none"/>
<circle cx="568.0" cy="472.4" r="6.8" stroke="#303a78" stroke-width="3.40" fill="none"/>
<circle cx="568.0" cy="472.4" r="6.8" stroke="#4d5ba8" stroke-width="2.4" fill="none"/>
<circle cx="567.6" cy="466.0" r="3.4" stroke="#303a78" stroke-width="2.80" fill="none"/>
<circle cx="567.6" cy="466.0" r="3.4" stroke="#4d5ba8" stroke-width="2.0" fill="none"/>
<path class="k" stroke="#303a78" stroke-width="2.5" d="M595.6 474.9l1.4 -6.2l3.3 -1.6m-3.3 1.6l-2.1 -2.6M602.3 486.9l2.4 4l-.6 1.6m.6 -1.6l2.7 .4M604.4 478.1l4.1 -5.4l4.1 -.1m-4.1 .1l-.9 -3.6M596 474.7l-.7 -7.7l2.7 -2.5m-2.7 2.5l-2.4 -1.6M602.8 488.5l3.4 7l-1.3 2.7m1.3 -2.7l2.8 .6M594.6 475.2l-2.2 -4.4l1.1 -2.4m-1.1 2.4l-2.6 -.6"/>
<path class="k" stroke="#4d5ba8" stroke-width="1.7" d="M595.6 474.9l1.4 -6.2l3.3 -1.6m-3.3 1.6l-2.1 -2.6M602.3 486.9l2.4 4l-.6 1.6m.6 -1.6l2.7 .4M604.4 478.1l4.1 -5.4l4.1 -.1m-4.1 .1l-.9 -3.6M596 474.7l-.7 -7.7l2.7 -2.5m-2.7 2.5l-2.4 -1.6M602.8 488.5l3.4 7l-1.3 2.7m1.3 -2.7l2.8 .6M594.6 475.2l-2.2 -4.4l1.1 -2.4m-1.1 2.4l-2.6 -.6"/>
<path class="k" stroke="#303a78" stroke-width="2.5" d="M596.4 474.6l-.9 -5.5l1.8 -1.9m-1.8 1.9l-2.1 -1.2M589 483.3l-4.5 -.5l-1.3 -2m1.3 2l-1.8 1.8M592.7 488.7l-3.7 2.2l-2 -.8m2 .8l-.3 1.9M590.2 483.2l-6.5 -1l-1.9 -3.2m1.9 3.2l-2 1.8M599.5 475l-.2 -7.2l2.7 -2.3m-2.7 2.3l-2.3 -1.8"/>
<path class="k" stroke="#4d5ba8" stroke-width="1.7" d="M596.4 474.6l-.9 -5.5l1.8 -1.9m-1.8 1.9l-2.1 -1.2M589 483.3l-4.5 -.5l-1.3 -2m1.3 2l-1.8 1.8M592.7 488.7l-3.7 2.2l-2 -.8m2 .8l-.3 1.9M590.2 483.2l-6.5 -1l-1.9 -3.2m1.9 3.2l-2 1.8M599.5 475l-.2 -7.2l2.7 -2.3m-2.7 2.3l-2.3 -1.8"/>
<circle cx="596.5" cy="480.7" r="6.8" stroke="#303a78" stroke-width="3.40" fill="none"/>
<circle cx="596.5" cy="480.7" r="6.8" stroke="#4d5ba8" stroke-width="2.4" fill="none"/>
<circle cx="598.1" cy="482.3" r="6.8" stroke="#303a78" stroke-width="3.40" fill="none"/>
<circle cx="598.1" cy="482.3" r="6.8" stroke="#4d5ba8" stroke-width="2.4" fill="none"/>
<circle cx="598.1" cy="482.3" r="3.4" stroke="#303a78" stroke-width="2.80" fill="none"/>
<circle cx="598.1" cy="482.3" r="3.4" stroke="#4d5ba8" stroke-width="2.0" fill="none"/>
<path class="k" stroke="#a27389" stroke-width="2.5" d="M693.5 425.6l7 -3.8l3.2 1.3m-3.2 -1.3l.7 -3.8M681.4 428.2l-7.5 -2.5l-1.4 -3.9m1.4 3.9l-2.7 1.8M684.7 423.2l-3.5 -5.7l1 -2.8m-1 2.8l-3.6 -.4M681.5 435.5l-2.9 3.7l-2 0m2 0l.4 1.7M694 423.9l3.2 -3.8l2.8 .1m-2.8 -.1l-.6 -2.7M688 436.9l.2 4.5l-1.4 1.2m1.4 -1.2l1.6 1.2"/>
<path class="k" stroke="#d9a3bb" stroke-width="1.7" d="M693.5 425.6l7 -3.8l3.2 1.3m-3.2 -1.3l.7 -3.8M681.4 428.2l-7.5 -2.5l-1.4 -3.9m1.4 3.9l-2.7 1.8M684.7 423.2l-3.5 -5.7l1 -2.8m-1 2.8l-3.6 -.4M681.5 435.5l-2.9 3.7l-2 0m2 0l.4 1.7M694 423.9l3.2 -3.8l2.8 .1m-2.8 -.1l-.6 -2.7M688 436.9l.2 4.5l-1.4 1.2m1.4 -1.2l1.6 1.2"/>
<path class="k" stroke="#a27389" stroke-width="2.5" d="M692.4 434.4l3.4 3.9l-.6 3m.6 -3l3.1 -.1M684.6 424.3l-1.3 -5.2l1.9 -2.4m-1.9 2.4l-2.2 -1M684.9 422.6l-1.1 -6.9l2.1 -2.3m-2.1 2.3l-2.4 -1.3M681.9 436.5l-1.4 4.9l-2 .8m2 -.8l1.4 1.9M692.1 425.6l1.4 -3.8l1.7 -.5m-1.7 .5l-1.1 -1.9"/>
<path class="k" stroke="#d9a3bb" stroke-width="1.7" d="M692.4 434.4l3.4 3.9l-.6 3m.6 -3l3.1 -.1M684.6 424.3l-1.3 -5.2l1.9 -2.4m-1.9 2.4l-2.2 -1M684.9 422.6l-1.1 -6.9l2.1 -2.3m-2.1 2.3l-2.4 -1.3M681.9 436.5l-1.4 4.9l-2 .8m2 -.8l1.4 1.9M692.1 425.6l1.4 -3.8l1.7 -.5m-1.7 .5l-1.1 -1.9"/>
<circle cx="678.8" cy="427.2" r="6.8" stroke="#a27389" stroke-width="3.40" fill="none"/>
<circle cx="678.8" cy="427.2" r="6.8" stroke="#d9a3bb" stroke-width="2.4" fill="none"/>
<circle cx="683.6" cy="428.8" r="6.8" stroke="#a27389" stroke-width="3.40" fill="none"/>
<circle cx="683.6" cy="428.8" r="6.8" stroke="#d9a3bb" stroke-width="2.4" fill="none"/>
<circle cx="688.4" cy="430.4" r="6.8" stroke="#a27389" stroke-width="3.40" fill="none"/>
<circle cx="688.4" cy="430.4" r="6.8" stroke="#d9a3bb" stroke-width="2.4" fill="none"/>
<circle cx="693.2" cy="432.0" r="6.8" stroke="#a27389" stroke-width="3.40" fill="none"/>
<circle cx="693.2" cy="432.0" r="6.8" stroke="#d9a3bb" stroke-width="2.4" fill="none"/>
<circle cx="686.8" cy="430.4" r="3.4" stroke="#a27389" stroke-width="2.80" fill="none"/>
<circle cx="686.8" cy="430.4" r="3.4" stroke="#d9a3bb" stroke-width="2.0" fill="none"/>
<path class="k" stroke="#a27389" stroke-width="2.5" d="M645.7 448.9l-5.2 1.5l-2 -1.4m2 1.4l-.7 1.8M660.7 444.3l3.7 -3.1l2.6 .5m-2.6 -.5l-.1 -2.3M653 438.6l-2.6 -6.8l1.5 -2.5m-1.5 2.5l-2.7 -.9M652.9 438.4l-1.2 -5.4l1.9 -2.3m-1.9 2.3l-2.1 -1M644.8 449.7l-5.9 5.1l-4.4 -.8m4.4 .8l.2 4.7M653.2 453.1l.4 4.7l-2 1.9m2 -1.9l1.9 1.3"/>
<path class="k" stroke="#d9a3bb" stroke-width="1.7" d="M645.7 448.9l-5.2 1.5l-2 -1.4m2 1.4l-.7 1.8M660.7 444.3l3.7 -3.1l2.6 .5m-2.6 -.5l-.1 -2.3M653 438.6l-2.6 -6.8l1.5 -2.5m-1.5 2.5l-2.7 -.9M652.9 438.4l-1.2 -5.4l1.9 -2.3m-1.9 2.3l-2.1 -1M644.8 449.7l-5.9 5.1l-4.4 -.8m4.4 .8l.2 4.7M653.2 453.1l.4 4.7l-2 1.9m2 -1.9l1.9 1.3"/>
<path class="k" stroke="#a27389" stroke-width="2.5" d="M657 440.6l4.3 -6.6l3 -.3m-3 .3l-1 -3M657.7 440.7l6.5 -4.6l4.2 1.2m-4.2 -1.2l.2 -4M653.1 439.3l-1.4 -5.1l1.8 -2.5m-1.8 2.5l-2.4 -1M660.6 448.2l5 4.2l-.1 3.1m.1 -3.1l3 -.6M647.8 441.1l-5.3 -5.5l.6 -4.3m-.6 4.3l-4.1 .4"/>
<path class="k" stroke="#d9a3bb" stroke-width="1.7" d="M657 440.6l4.3 -6.6l3 -.3m-3 .3l-1 -3M657.7 440.7l6.5 -4.6l4.2 1.2m-4.2 -1.2l.2 -4M653.1 439.3l-1.4 -5.1l1.8 -2.5m-1.8 2.5l-2.4 -1M660.6 448.2l5 4.2l-.1 3.1m.1 -3.1l3 -.6M647.8 441.1l-5.3 -5.5l.6 -4.3m-.6 4.3l-4.1 .4"/>
<circle cx="652.1" cy="445.7" r="6.8" stroke="#a27389" stroke-width="3.40" fill="none"/>
<circle cx="652.1" cy="445.7" r="6.8" stroke="#d9a3bb" stroke-width="2.4" fill="none"/>
<circle cx="653.7" cy="447.3" r="6.8" stroke="#a27389" stroke-width="3.40" fill="none"/>
<circle cx="653.7" cy="447.3" r="6.8" stroke="#d9a3bb" stroke-width="2.4" fill="none"/>
<circle cx="653.7" cy="447.3" r="3.4" stroke="#a27389" stroke-width="2.80" fill="none"/>
<circle cx="653.7" cy="447.3" r="3.4" stroke="#d9a3bb" stroke-width="2.0" fill="none"/>
<path class="k" stroke="#a27389" stroke-width="2.5" d="M677.5 449l-2.6 -5.4l1.1 -2.2m-1.1 2.2l-2.3 -.5M684.9 454.9l7.3 0l2.1 2.6m-2.1 -2.6l1.6 -2M682.1 463.8l1.3 5.3l-1.6 2.2m1.6 -2.2l1.9 .9M674.2 450.1l-1.8 -6l1.8 -2.5m-1.8 2.5l-2 -.8M678 463.9l1.4 4.1l-1.4 2.1m1.4 -2.1l2.1 .8M671.4 453.9l-4.7 -4.5l.3 -3m-.3 3l-2.9 .4"/>
<path class="k" stroke="#d9a3bb" stroke-width="1.7" d="M677.5 449l-2.6 -5.4l1.1 -2.2m-1.1 2.2l-2.3 -.5M684.9 454.9l7.3 0l2.1 2.6m-2.1 -2.6l1.6 -2M682.1 463.8l1.3 5.3l-1.6 2.2m1.6 -2.2l1.9 .9M674.2 450.1l-1.8 -6l1.8 -2.5m-1.8 2.5l-2 -.8M678 463.9l1.4 4.1l-1.4 2.1m1.4 -2.1l2.1 .8M671.4 453.9l-4.7 -4.5l.3 -3m-.3 3l-2.9 .4"/>
<path class="k" stroke="#a27389" stroke-width="2.5" d="M687.2 455.3l6.3 -3.7l3.5 1.3m-3.5 -1.3l.4 -3.1M676.4 450.7l-.6 -6.2l2.2 -2.2m-2.2 2.2l-1.9 -1.2M685.8 452l4.9 -1.8l2.3 1.4m-2.3 -1.4l.6 -1.9M672.1 454.9l-5 -1.3l-.8 -1.7m.8 1.7l-1.9 1.4M679.2 463.2l1.1 4.4l-1 1.3m1 -1.3l2.4 1.1"/>
<path class="k" stroke="#d9a3bb" stroke-width="1.7" d="M687.2 455.3l6.3 -3.7l3.5 1.3m-3.5 -1.3l.4 -3.1M676.4 450.7l-.6 -6.2l2.2 -2.2m-2.2 2.2l-1.9 -1.2M685.8 452l4.9 -1.8l2.3 1.4m-2.3 -1.4l.6 -1.9M672.1 454.9l-5 -1.3l-.8 -1.7m.8 1.7l-1.9 1.4M679.2 463.2l1.1 4.4l-1 1.3m1 -1.3l2.4 1.1"/>
<circle cx="674.7" cy="453.9" r="6.8" stroke="#a27389" stroke-width="3.40" fill="none"/>
<circle cx="674.7" cy="453.9" r="6.8" stroke="#d9a3bb" stroke-width="2.4" fill="none"/>
<circle cx="677.9" cy="456.3" r="6.8" stroke="#a27389" stroke-width="3.40" fill="none"/>
<circle cx="677.9" cy="456.3" r="6.8" stroke="#d9a3bb" stroke-width="2.4" fill="none"/>
<circle cx="681.1" cy="458.7" r="6.8" stroke="#a27389" stroke-width="3.40" fill="none"/>
<circle cx="681.1" cy="458.7" r="6.8" stroke="#d9a3bb" stroke-width="2.4" fill="none"/>
<circle cx="678.7" cy="457.1" r="3.4" stroke="#a27389" stroke-width="2.80" fill="none"/>
<circle cx="678.7" cy="457.1" r="3.4" stroke="#d9a3bb" stroke-width="2.0" fill="none"/>
<path class="k" stroke="#a27389" stroke-width="2.5" d="M672.3 474.2l4.3 1.2l.8 1.9m-.8 -1.9l1.7 -1.3M671.3 473.8l5.1 -.7l2 1.9m-2 -1.9l1.5 -2.5M667.4 477.6l0 5.3l-1.6 1.2m1.6 -1.2l1.7 1.3M668.9 466.2l6 -4.9l3.8 .9m-3.8 -.9l0 -3.1M657.6 472.1l-6.4 .9l-2.8 -2.6m2.8 2.6l-1.7 2.9M656.1 470.9l-4.8 -.3l-1.4 -2m1.4 2l-1.3 1.5"/>
<path class="k" stroke="#d9a3bb" stroke-width="1.7" d="M672.3 474.2l4.3 1.2l.8 1.9m-.8 -1.9l1.7 -1.3M671.3 473.8l5.1 -.7l2 1.9m-2 -1.9l1.5 -2.5M667.4 477.6l0 5.3l-1.6 1.2m1.6 -1.2l1.7 1.3M668.9 466.2l6 -4.9l3.8 .9m-3.8 -.9l0 -3.1M657.6 472.1l-6.4 .9l-2.8 -2.6m2.8 2.6l-1.7 2.9M656.1 470.9l-4.8 -.3l-1.4 -2m1.4 2l-1.3 1.5"/>
<path class="k" stroke="#a27389" stroke-width="2.5" d="M666 478.1l1 4l-1.1 1.4m1.1 -1.4l2.2 1M657.5 470.9l-6.8 -.1l-2 -2.6m2 2.6l-2 2.4M658.5 468.1l-4.4 -3.6l.1 -3m-.1 3l-2.4 .5M660.2 466.4l-3.9 -4.5l.4 -2.1m-.4 2.1l-2.3 .1M656.5 473.3l-7.4 -.5l-2.3 -3.3m2.3 3.3l-2.9 3.2"/>
<path class="k" stroke="#d9a3bb" stroke-width="1.7" d="M666 478.1l1 4l-1.1 1.4m1.1 -1.4l2.2 1M657.5 470.9l-6.8 -.1l-2 -2.6m2 2.6l-2 2.4M658.5 468.1l-4.4 -3.6l.1 -3m-.1 3l-2.4 .5M660.2 466.4l-3.9 -4.5l.4 -2.1m-.4 2.1l-2.3 .1M656.5 473.3l-7.4 -.5l-2.3 -3.3m2.3 3.3l-2.9 3.2"/>
<circle cx="662.3" cy="468.3" r="6.8" stroke="#a27389" stroke-width="3.40" fill="none"/>
<circle cx="662.3" cy="468.3" r="6.8" stroke="#d9a3bb" stroke-width="2.4" fill="none"/>
<circle cx="663.9" cy="470.7" r="6.8" stroke="#a27389" stroke-width="3.40" fill="none"/>
<circle cx="663.9" cy="470.7" r="6.8" stroke="#d9a3bb" stroke-width="2.4" fill="none"/>
<circle cx="665.5" cy="473.1" r="6.8" stroke="#a27389" stroke-width="3.40" fill="none"/>
<circle cx="665.5" cy="473.1" r="6.8" stroke="#d9a3bb" stroke-width="2.4" fill="none"/>
<circle cx="664.7" cy="471.5" r="3.4" stroke="#a27389" stroke-width="2.80" fill="none"/>
<circle cx="664.7" cy="471.5" r="3.4" stroke="#d9a3bb" stroke-width="2.0" fill="none"/>
<path class="k" stroke="#a27389" stroke-width="2.5" d="M704.9 484.9l4.6 5.5l-.6 2.8m.6 -2.8l3.1 -.1M708.3 485.5l4.1 2.7l.2 2.5m-.2 -2.5l2.5 -.8M710.1 480.8l6 1.7l1.2 2.7m-1.2 -2.7l2.8 -2M706.5 471.5l1.2 -4l1.8 -.7m-1.8 .7l-.9 -1.2M698 473.5l-3.3 -6.6l1.6 -3.5m-1.6 3.5l-3.8 -.8M698.8 485.9l-3 3.9l-2.8 0m2.8 0l.5 2.2"/>
<path class="k" stroke="#d9a3bb" stroke-width="1.7" d="M704.9 484.9l4.6 5.5l-.6 2.8m.6 -2.8l3.1 -.1M708.3 485.5l4.1 2.7l.2 2.5m-.2 -2.5l2.5 -.8M710.1 480.8l6 1.7l1.2 2.7m-1.2 -2.7l2.8 -2M706.5 471.5l1.2 -4l1.8 -.7m-1.8 .7l-.9 -1.2M698 473.5l-3.3 -6.6l1.6 -3.5m-1.6 3.5l-3.8 -.8M698.8 485.9l-3 3.9l-2.8 0m2.8 0l.5 2.2"/>
<path class="k" stroke="#a27389" stroke-width="2.5" d="M696.5 477.7l-5.1 -3l-.5 -3.1m.5 3.1l-3.1 1.2M695.3 478.1l-4.9 -.4l-1.5 -2.3m1.5 2.3l-2 2.1M708.5 480.3l4.2 .8l.9 1.8m-.9 -1.8l1.4 -1.2M703.2 487.1l-.2 7.7l-2.4 1.8m2.4 -1.8l2.6 2.2M696.7 473.5l-3.7 -2.9l0 -2.1m0 2.1l-2.3 .5"/>
<path class="k" stroke="#d9a3bb" stroke-width="1.7" d="M696.5 477.7l-5.1 -3l-.5 -3.1m.5 3.1l-3.1 1.2M695.3 478.1l-4.9 -.4l-1.5 -2.3m1.5 2.3l-2 2.1M708.5 480.3l4.2 .8l.9 1.8m-.9 -1.8l1.4 -1.2M703.2 487.1l-.2 7.7l-2.4 1.8m2.4 -1.8l2.6 2.2M696.7 473.5l-3.7 -2.9l0 -2.1m0 2.1l-2.3 .5"/>
<circle cx="695.3" cy="474.5" r="6.8" stroke="#a27389" stroke-width="3.40" fill="none"/>
<circle cx="695.3" cy="474.5" r="6.8" stroke="#d9a3bb" stroke-width="2.4" fill="none"/>
<circle cx="699.3" cy="476.9" r="6.8" stroke="#a27389" stroke-width="3.40" fill="none"/>
<circle cx="699.3" cy="476.9" r="6.8" stroke="#d9a3bb" stroke-width="2.4" fill="none"/>
<circle cx="703.3" cy="479.3" r="6.8" stroke="#a27389" stroke-width="3.40" fill="none"/>
<circle cx="703.3" cy="479.3" r="6.8" stroke="#d9a3bb" stroke-width="2.4" fill="none"/>
<circle cx="707.3" cy="481.7" r="6.8" stroke="#a27389" stroke-width="3.40" fill="none"/>
<circle cx="707.3" cy="481.7" r="6.8" stroke="#d9a3bb" stroke-width="2.4" fill="none"/>
<circle cx="702.1" cy="478.9" r="3.4" stroke="#a27389" stroke-width="2.80" fill="none"/>
<circle cx="702.1" cy="478.9" r="3.4" stroke="#d9a3bb" stroke-width="2.0" fill="none"/>
<path class="k" stroke="#a27389" stroke-width="2.5" d="M688.4 493.4l7.3 1l1.7 2.9m-1.7 -2.9l2.5 -2.4M684.8 488.1l2 -4.3l2.5 -.6m-2.5 .6l-.9 -1.8M680.2 501.5l-1.8 6.3l-3.6 1.5m3.6 -1.5l1.9 2.7M672.4 495.9l-5.7 2.9l-3.4 -1.6m3.4 1.6l-.6 2.7M684.3 500l6.1 3.2l.6 3.1m-.6 -3.1l3.5 -1.6M683.8 489.9l1.7 -4.8l2 -.7m-2 .7l-1 -1.5"/>
<path class="k" stroke="#d9a3bb" stroke-width="1.7" d="M688.4 493.4l7.3 1l1.7 2.9m-1.7 -2.9l2.5 -2.4M684.8 488.1l2 -4.3l2.5 -.6m-2.5 .6l-.9 -1.8M680.2 501.5l-1.8 6.3l-3.6 1.5m3.6 -1.5l1.9 2.7M672.4 495.9l-5.7 2.9l-3.4 -1.6m3.4 1.6l-.6 2.7M684.3 500l6.1 3.2l.6 3.1m-.6 -3.1l3.5 -1.6M683.8 489.9l1.7 -4.8l2 -.7m-2 .7l-1 -1.5"/>
<path class="k" stroke="#a27389" stroke-width="2.5" d="M680.6 501.8l.1 6.1l-2.8 2.3m2.8 -2.3l1.8 1.4M686.5 501.3l5 3.6l.1 2.6m-.1 -2.6l3.4 -.9M687.7 492l3.7 -4l2.9 .2m-2.9 -.2l-.4 -2.7M679.5 501.9l1.4 5.4l-1.9 2.5m1.9 -2.5l2.3 1M674.6 496.3l-5.7 0l-1.6 -2m1.6 2l-1.9 2.4"/>
<path class="k" stroke="#d9a3bb" stroke-width="1.7" d="M680.6 501.8l.1 6.1l-2.8 2.3m2.8 -2.3l1.8 1.4M686.5 501.3l5 3.6l.1 2.6m-.1 -2.6l3.4 -.9M687.7 492l3.7 -4l2.9 .2m-2.9 -.2l-.4 -2.7M679.5 501.9l1.4 5.4l-1.9 2.5m1.9 -2.5l2.3 1M674.6 496.3l-5.7 0l-1.6 -2m1.6 2l-1.9 2.4"/>
<circle cx="678.8" cy="493.0" r="6.8" stroke="#a27389" stroke-width="3.40" fill="none"/>
<circle cx="678.8" cy="493.0" r="6.8" stroke="#d9a3bb" stroke-width="2.4" fill="none"/>
<circle cx="680.4" cy="494.6" r="6.8" stroke="#a27389" stroke-width="3.40" fill="none"/>
<circle cx="680.4" cy="494.6" r="6.8" stroke="#d9a3bb" stroke-width="2.4" fill="none"/>
<circle cx="682.0" cy="496.2" r="6.8" stroke="#a27389" stroke-width="3.40" fill="none"/>
<circle cx="682.0" cy="496.2" r="6.8" stroke="#d9a3bb" stroke-width="2.4" fill="none"/>
<circle cx="681.2" cy="495.4" r="3.4" stroke="#a27389" stroke-width="2.80" fill="none"/>
<circle cx="681.2" cy="495.4" r="3.4" stroke="#d9a3bb" stroke-width="2.0" fill="none"/>
<path class="k" stroke="#a27389" stroke-width="2.5" d="M690.2 531.1l-2.9 6.3l-2.5 .6m2.5 -.6l1.4 2.7M697.4 520.5l3.1 -3.3l1.9 .2m-1.9 -.2l-.3 -2.2M698.6 521.4l5.6 -.4l1.4 1.5m-1.4 -1.5l1.4 -2M687.9 529.8l-2.4 7.3l-4.1 1.5m4.1 -1.5l1.6 2.4M699.5 529.7l5.1 .9l1 1.9m-1 -1.9l1.6 -1.4M699 526.8l3.8 1.9l.4 2m-.4 -2l1.5 -.7"/>
<path class="k" stroke="#d9a3bb" stroke-width="1.7" d="M690.2 531.1l-2.9 6.3l-2.5 .6m2.5 -.6l1.4 2.7M697.4 520.5l3.1 -3.3l1.9 .2m-1.9 -.2l-.3 -2.2M698.6 521.4l5.6 -.4l1.4 1.5m-1.4 -1.5l1.4 -2M687.9 529.8l-2.4 7.3l-4.1 1.5m4.1 -1.5l1.6 2.4M699.5 529.7l5.1 .9l1 1.9m-1 -1.9l1.6 -1.4M699 526.8l3.8 1.9l.4 2m-.4 -2l1.5 -.7"/>
<path class="k" stroke="#a27389" stroke-width="2.5" d="M693.9 517.1l3.5 -5l2.4 -.1m-2.4 .1l-.9 -3.1M699.3 528.8l7.4 1.8l1.3 2.9m-1.3 -2.9l3.2 -2.5M685.4 525.6l-5.7 .2l-1.4 -1.7m1.4 1.7l-1.6 2.2M684.2 523.8l-6.5 -.3l-1.5 -2.1m1.5 2.1l-2 2.3M692.4 533.5l1.9 4.8l-1 1.6m1 -1.6l2.1 .6"/>
<path class="k" stroke="#d9a3bb" stroke-width="1.7" d="M693.9 517.1l3.5 -5l2.4 -.1m-2.4 .1l-.9 -3.1M699.3 528.8l7.4 1.8l1.3 2.9m-1.3 -2.9l3.2 -2.5M685.4 525.6l-5.7 .2l-1.4 -1.7m1.4 1.7l-1.6 2.2M684.2 523.8l-6.5 -.3l-1.5 -2.1m1.5 2.1l-2 2.3M692.4 533.5l1.9 4.8l-1 1.6m1 -1.6l2.1 .6"/>
<circle cx="682.9" cy="523.9" r="6.8" stroke="#a27389" stroke-width="3.40" fill="none"/>
<circle cx="682.9" cy="523.9" r="6.8" stroke="#d9a3bb" stroke-width="2.4" fill="none"/>
<circle cx="687.7" cy="524.7" r="6.8" stroke="#a27389" stroke-width="3.40" fill="none"/>
<circle cx="687.7" cy="524.7" r="6.8" stroke="#d9a3bb" stroke-width="2.4" fill="none"/>
<circle cx="692.5" cy="525.5" r="6.8" stroke="#a27389" stroke-width="3.40" fill="none"/>
<circle cx="692.5" cy="525.5" r="6.8" stroke="#d9a3bb" stroke-width="2.4" fill="none"/>
<circle cx="697.3" cy="526.3" r="6.8" stroke="#a27389" stroke-width="3.40" fill="none"/>
<circle cx="697.3" cy="526.3" r="6.8" stroke="#d9a3bb" stroke-width="2.4" fill="none"/>
<circle cx="690.9" cy="525.9" r="3.4" stroke="#a27389" stroke-width="2.80" fill="none"/>
<circle cx="690.9" cy="525.9" r="3.4" stroke="#d9a3bb" stroke-width="2.0" fill="none"/>
<path class="k" stroke="#a27389" stroke-width="2.5" d="M665.8 526.8l-7.5 .9l-2.3 -2.3m2.3 2.3l-1.6 2.6M665.4 533.4l-7 2.9l-3.2 -1.8m3.2 1.8l-.9 3.2M666.1 528.4l-7.2 -1.4l-2 -3.8m2 3.8l-3.1 2.7M667.1 521.9l-4.7 -4.1l.1 -2.4m-.1 2.4l-3.6 .7M665.8 528l-5.5 -3.5l-.3 -2.6m.3 2.6l-3.4 1.2M666.7 523l-2.1 -4.8l1.1 -1.9m-1.1 1.9l-2.5 -.7"/>
<path class="k" stroke="#d9a3bb" stroke-width="1.7" d="M665.8 526.8l-7.5 .9l-2.3 -2.3m2.3 2.3l-1.6 2.6M665.4 533.4l-7 2.9l-3.2 -1.8m3.2 1.8l-.9 3.2M666.1 528.4l-7.2 -1.4l-2 -3.8m2 3.8l-3.1 2.7M667.1 521.9l-4.7 -4.1l.1 -2.4m-.1 2.4l-3.6 .7M665.8 528l-5.5 -3.5l-.3 -2.6m.3 2.6l-3.4 1.2M666.7 523l-2.1 -4.8l1.1 -1.9m-1.1 1.9l-2.5 -.7"/>
<path class="k" stroke="#a27389" stroke-width="2.5" d="M674.4 536l1.5 4.6l-1 1.5m1 -1.5l1.8 .7M664.5 524.5l-5.3 -5.2l.4 -3.6m-.4 3.6l-4 .5M668.7 534.5l-4 3.1l-2.5 -.6m2.5 .6l0 2.5M679.2 530.9l6.1 4.4l.2 3.4m-.2 -3.4l4.2 -1.2M680.4 530.5l6.6 2.9l.8 3.2m-.8 -3.2l3.2 -1.7"/>
<path class="k" stroke="#d9a3bb" stroke-width="1.7" d="M674.4 536l1.5 4.6l-1 1.5m1 -1.5l1.8 .7M664.5 524.5l-5.3 -5.2l.4 -3.6m-.4 3.6l-4 .5M668.7 534.5l-4 3.1l-2.5 -.6m2.5 .6l0 2.5M679.2 530.9l6.1 4.4l.2 3.4m-.2 -3.4l4.2 -1.2M680.4 530.5l6.6 2.9l.8 3.2m-.8 -3.2l3.2 -1.7"/>
<circle cx="670.6" cy="528.0" r="6.8" stroke="#a27389" stroke-width="3.40" fill="none"/>
<circle cx="670.6" cy="528.0" r="6.8" stroke="#d9a3bb" stroke-width="2.4" fill="none"/>
<circle cx="673.0" cy="528.8" r="6.8" stroke="#a27389" stroke-width="3.40" fill="none"/>
<circle cx="673.0" cy="528.8" r="6.8" stroke="#d9a3bb" stroke-width="2.4" fill="none"/>
<circle cx="672.6" cy="529.2" r="3.4" stroke="#a27389" stroke-width="2.80" fill="none"/>
<circle cx="672.6" cy="529.2" r="3.4" stroke="#d9a3bb" stroke-width="2.0" fill="none"/>
<path class="k" stroke="#2d7d71" stroke-width="2.5" d="M570.6 496.2l1.1 -6.9l3.5 -2m-3.5 2l-1.9 -2.1M560.7 499.9l-7.3 -.8l-1.7 -2.6m1.7 2.6l-2.8 2.9M562.4 505.3l-4.6 .4l-1.2 -1.2m1.2 1.2l-.9 1.4M564.2 506.7l-2.2 7.4l-3 1.2m3 -1.2l2.4 3.4M569 507.7l3 3.4l-.5 2.6m.5 -2.6l2.1 -.1M567.7 507.9l-.7 5.2l-1.8 1.1m1.8 -1.1l1.7 1.8"/>
<path class="k" stroke="#47b2a2" stroke-width="1.7" d="M570.6 496.2l1.1 -6.9l3.5 -2m-3.5 2l-1.9 -2.1M560.7 499.9l-7.3 -.8l-1.7 -2.6m1.7 2.6l-2.8 2.9M562.4 505.3l-4.6 .4l-1.2 -1.2m1.2 1.2l-.9 1.4M564.2 506.7l-2.2 7.4l-3 1.2m3 -1.2l2.4 3.4M569 507.7l3 3.4l-.5 2.6m.5 -2.6l2.1 -.1M567.7 507.9l-.7 5.2l-1.8 1.1m1.8 -1.1l1.7 1.8"/>
<path class="k" stroke="#2d7d71" stroke-width="2.5" d="M566 495.4l-.9 -4.7l1.5 -1.8m-1.5 1.8l-1.5 -.8M575.3 498l5.4 -2.3l2.3 1.2m-2.3 -1.2l.8 -3.1M560.7 498.2l-5.1 -2.4l-.7 -2.9m.7 2.9l-2 1M564.1 507.5l-2.1 7.2l-3 1.2m3 -1.2l2.3 3.2M575.9 504.6l6.7 1.9l1 2.4m-1 -2.4l2.8 -2"/>
<path class="k" stroke="#47b2a2" stroke-width="1.7" d="M566 495.4l-.9 -4.7l1.5 -1.8m-1.5 1.8l-1.5 -.8M575.3 498l5.4 -2.3l2.3 1.2m-2.3 -1.2l.8 -3.1M560.7 498.2l-5.1 -2.4l-.7 -2.9m.7 2.9l-2 1M564.1 507.5l-2.1 7.2l-3 1.2m3 -1.2l2.3 3.2M575.9 504.6l6.7 1.9l1 2.4m-1 -2.4l2.8 -2"/>
<circle cx="567.7" cy="493.0" r="6.8" stroke="#2d7d71" stroke-width="3.40" fill="none"/>
<circle cx="567.7" cy="493.0" r="6.8" stroke="#47b2a2" stroke-width="2.4" fill="none"/>
<circle cx="567.7" cy="497.8" r="6.8" stroke="#2d7d71" stroke-width="3.40" fill="none"/>
<circle cx="567.7" cy="497.8" r="6.8" stroke="#47b2a2" stroke-width="2.4" fill="none"/>
<circle cx="567.7" cy="502.6" r="6.8" stroke="#2d7d71" stroke-width="3.40" fill="none"/>
<circle cx="567.7" cy="502.6" r="6.8" stroke="#47b2a2" stroke-width="2.4" fill="none"/>
<circle cx="567.7" cy="507.4" r="6.8" stroke="#2d7d71" stroke-width="3.40" fill="none"/>
<circle cx="567.7" cy="507.4" r="6.8" stroke="#47b2a2" stroke-width="2.4" fill="none"/>
<circle cx="568.5" cy="501.0" r="3.4" stroke="#2d7d71" stroke-width="2.80" fill="none"/>
<circle cx="568.5" cy="501.0" r="3.4" stroke="#47b2a2" stroke-width="2.0" fill="none"/>
<path class="k" stroke="#2d7d71" stroke-width="2.5" d="M603.1 505.3l-.1 -5.5l2.3 -1.9m-2.3 1.9l-2.4 -1.8M606.8 514.1l3.5 3.8l-.3 1.9m.3 -1.9l2.9 -.2M603.6 505l4.2 -5.6l3.9 -.1m-3.9 .1l-.7 -2.7M599.5 503l1 -6l2.4 -1.3m-2.4 1.3l-2.4 -2.7M608.8 511.1l7.6 -.3l2.8 3.3m-2.8 -3.3l2.1 -2.9M605.7 517.1l4.8 2.4l.5 2.6m-.5 -2.6l2.3 -1.1"/>
<path class="k" stroke="#47b2a2" stroke-width="1.7" d="M603.1 505.3l-.1 -5.5l2.3 -1.9m-2.3 1.9l-2.4 -1.8M606.8 514.1l3.5 3.8l-.3 1.9m.3 -1.9l2.9 -.2M603.6 505l4.2 -5.6l3.9 -.1m-3.9 .1l-.7 -2.7M599.5 503l1 -6l2.4 -1.3m-2.4 1.3l-2.4 -2.7M608.8 511.1l7.6 -.3l2.8 3.3m-2.8 -3.3l2.1 -2.9M605.7 517.1l4.8 2.4l.5 2.6m-.5 -2.6l2.3 -1.1"/>
<path class="k" stroke="#2d7d71" stroke-width="2.5" d="M595.5 505l-1.1 -5.1l1.9 -2.4m-1.9 2.4l-2 -1M595.9 518l-5.4 2.8l-3 -1.4m3 1.4l-.7 3.3M597.5 518.5l-3.1 2.7l-1.5 -.3m1.5 .3l.1 2.3M594.1 508.6l-4.4 -3.8l.1 -2.2m-.1 2.2l-2.5 .5M601.1 503.7l.3 -4l2 -1.4m-2 1.4l-1.1 -1"/>
<path class="k" stroke="#47b2a2" stroke-width="1.7" d="M595.5 505l-1.1 -5.1l1.9 -2.4m-1.9 2.4l-2 -1M595.9 518l-5.4 2.8l-3 -1.4m3 1.4l-.7 3.3M597.5 518.5l-3.1 2.7l-1.5 -.3m1.5 .3l.1 2.3M594.1 508.6l-4.4 -3.8l.1 -2.2m-.1 2.2l-2.5 .5M601.1 503.7l.3 -4l2 -1.4m-2 1.4l-1.1 -1"/>
<circle cx="598.6" cy="509.5" r="6.8" stroke="#2d7d71" stroke-width="3.40" fill="none"/>
<circle cx="598.6" cy="509.5" r="6.8" stroke="#47b2a2" stroke-width="2.4" fill="none"/>
<circle cx="600.2" cy="511.1" r="6.8" stroke="#2d7d71" stroke-width="3.40" fill="none"/>
<circle cx="600.2" cy="511.1" r="6.8" stroke="#47b2a2" stroke-width="2.4" fill="none"/>
<circle cx="601.8" cy="512.7" r="6.8" stroke="#2d7d71" stroke-width="3.40" fill="none"/>
<circle cx="601.8" cy="512.7" r="6.8" stroke="#47b2a2" stroke-width="2.4" fill="none"/>
<circle cx="601.0" cy="511.9" r="3.4" stroke="#2d7d71" stroke-width="2.80" fill="none"/>
<circle cx="601.0" cy="511.9" r="3.4" stroke="#47b2a2" stroke-width="2.0" fill="none"/>
<path class="k" stroke="#2d7d71" stroke-width="2.5" d="M608.2 543.7l-3.9 5.5l-3 .2m3 -.2l1 3.5M605.9 529.1l-1.4 -6l1.9 -2.4m-1.9 2.4l-2.3 -1.1M610.7 529.6l-1.5 -6.3l1.5 -1.9m-1.5 1.9l-3.4 -1.6M612.1 542.4l3.3 4.9l-.9 2.9m.9 -2.9l2.4 .2M601.2 533.3l-4.9 .4l-1.3 -1.4m1.3 1.4l-1 1.5M618.3 536.3l3.6 2.1l.3 2.3m-.3 -2.3l1.9 -.7"/>
<path class="k" stroke="#47b2a2" stroke-width="1.7" d="M608.2 543.7l-3.9 5.5l-3 .2m3 -.2l1 3.5M605.9 529.1l-1.4 -6l1.9 -2.4m-1.9 2.4l-2.3 -1.1M610.7 529.6l-1.5 -6.3l1.5 -1.9m-1.5 1.9l-3.4 -1.6M612.1 542.4l3.3 4.9l-.9 2.9m.9 -2.9l2.4 .2M601.2 533.3l-4.9 .4l-1.3 -1.4m1.3 1.4l-1 1.5M618.3 536.3l3.6 2.1l.3 2.3m-.3 -2.3l1.9 -.7"/>
<path class="k" stroke="#2d7d71" stroke-width="2.5" d="M611.8 543.8l4 5.2l-.8 3.3m.8 -3.3l3.4 .1M610.1 541.9l-.2 5.2l-2.1 1.5m2.1 -1.5l2.1 1.8M617.4 537.3l4.4 3.5l0 2.8m0 -2.8l2.4 -.5M614.3 531.2l2.4 -5.5l2.7 -.7m-2.7 .7l-1.4 -2.6M612.1 543.9l1.4 5.4l-1.8 2.4m1.8 -2.4l1.8 .8"/>
<path class="k" stroke="#47b2a2" stroke-width="1.7" d="M611.8 543.8l4 5.2l-.8 3.3m.8 -3.3l3.4 .1M610.1 541.9l-.2 5.2l-2.1 1.5m2.1 -1.5l2.1 1.8M617.4 537.3l4.4 3.5l0 2.8m0 -2.8l2.4 -.5M614.3 531.2l2.4 -5.5l2.7 -.7m-2.7 .7l-1.4 -2.6M612.1 543.9l1.4 5.4l-1.8 2.4m1.8 -2.4l1.8 .8"/>
<circle cx="600.6" cy="534.1" r="6.8" stroke="#2d7d71" stroke-width="3.40" fill="none"/>
<circle cx="600.6" cy="534.1" r="6.8" stroke="#47b2a2" stroke-width="2.4" fill="none"/>
<circle cx="605.4" cy="534.9" r="6.8" stroke="#2d7d71" stroke-width="3.40" fill="none"/>
<circle cx="605.4" cy="534.9" r="6.8" stroke="#47b2a2" stroke-width="2.4" fill="none"/>
<circle cx="610.2" cy="535.7" r="6.8" stroke="#2d7d71" stroke-width="3.40" fill="none"/>
<circle cx="610.2" cy="535.7" r="6.8" stroke="#47b2a2" stroke-width="2.4" fill="none"/>
<circle cx="615.0" cy="536.5" r="6.8" stroke="#2d7d71" stroke-width="3.40" fill="none"/>
<circle cx="615.0" cy="536.5" r="6.8" stroke="#47b2a2" stroke-width="2.4" fill="none"/>
<circle cx="608.6" cy="536.1" r="3.4" stroke="#2d7d71" stroke-width="2.80" fill="none"/>
<circle cx="608.6" cy="536.1" r="3.4" stroke="#47b2a2" stroke-width="2.0" fill="none"/>
<path class="k" stroke="#2d7d71" stroke-width="2.5" d="M636.2 514.5l4.3 -3.9l2.1 .3m-2.1 -.3l-.2 -3.2M636.3 517.2l5.6 1.8l1.2 3.1m-1.2 -3.1l2.7 -1.8M635.3 515.2l3.7 -1.8l2.2 1m-2.2 -1l.3 -1.5M622.2 514.7l-5.3 -1l-1.1 -2m1.1 2l-1.4 1.2M623.2 522.5l-6.2 2.7l-3.5 -1.9m3.5 1.9l-1 3.7M628.6 526.1l-1.6 7l-2.5 1.2m2.5 -1.2l1.9 2.4"/>
<path class="k" stroke="#47b2a2" stroke-width="1.7" d="M636.2 514.5l4.3 -3.9l2.1 .3m-2.1 -.3l-.2 -3.2M636.3 517.2l5.6 1.8l1.2 3.1m-1.2 -3.1l2.7 -1.8M635.3 515.2l3.7 -1.8l2.2 1m-2.2 -1l.3 -1.5M622.2 514.7l-5.3 -1l-1.1 -2m1.1 2l-1.4 1.2M623.2 522.5l-6.2 2.7l-3.5 -1.9m3.5 1.9l-1 3.7M628.6 526.1l-1.6 7l-2.5 1.2m2.5 -1.2l1.9 2.4"/>
<path class="k" stroke="#2d7d71" stroke-width="2.5" d="M623.8 514l-2.4 -5.1l1.3 -2.7m-1.3 2.7l-2 -.5M635.8 513.2l5.3 -.9l2.2 2m-2.2 -2l1.5 -2.8M633.6 522.2l5.3 5.9l-.5 2.8m.5 -2.8l4.4 -.3M625 512.4l-4.8 -3.6l-.1 -2.9m.1 2.9l-2.3 .6M635.4 513.7l3.7 -5.3l3.2 -.2m-3.2 .2l-1.1 -3.6"/>
<path class="k" stroke="#47b2a2" stroke-width="1.7" d="M623.8 514l-2.4 -5.1l1.3 -2.7m-1.3 2.7l-2 -.5M635.8 513.2l5.3 -.9l2.2 2m-2.2 -2l1.5 -2.8M633.6 522.2l5.3 5.9l-.5 2.8m.5 -2.8l4.4 -.3M625 512.4l-4.8 -3.6l-.1 -2.9m.1 2.9l-2.3 .6M635.4 513.7l3.7 -5.3l3.2 -.2m-3.2 .2l-1.1 -3.6"/>
<circle cx="627.4" cy="509.5" r="6.8" stroke="#2d7d71" stroke-width="3.40" fill="none"/>
<circle cx="627.4" cy="509.5" r="6.8" stroke="#47b2a2" stroke-width="2.4" fill="none"/>
<circle cx="628.2" cy="514.3" r="6.8" stroke="#2d7d71" stroke-width="3.40" fill="none"/>
<circle cx="628.2" cy="514.3" r="6.8" stroke="#47b2a2" stroke-width="2.4" fill="none"/>
<circle cx="629.0" cy="519.1" r="6.8" stroke="#2d7d71" stroke-width="3.40" fill="none"/>
<circle cx="629.0" cy="519.1" r="6.8" stroke="#47b2a2" stroke-width="2.4" fill="none"/>
<circle cx="629.8" cy="523.9" r="6.8" stroke="#2d7d71" stroke-width="3.40" fill="none"/>
<circle cx="629.8" cy="523.9" r="6.8" stroke="#47b2a2" stroke-width="2.4" fill="none"/>
<circle cx="629.4" cy="517.5" r="3.4" stroke="#2d7d71" stroke-width="2.80" fill="none"/>
<circle cx="629.4" cy="517.5" r="3.4" stroke="#47b2a2" stroke-width="2.0" fill="none"/>
<path class="k" stroke="#2d7d71" stroke-width="2.5" d="M640.9 530l4.8 -3l2.1 .7m-2.1 -.7l.3 -3M639.7 535.1l5.3 3.9l.1 3.8m-.1 -3.8l3.6 -1M631.6 523.4l-.4 -6.1l1.6 -1.5m-1.6 1.5l-2 -1.4M629.8 524.5l-3.1 -6.7l1.5 -2.9m-1.5 2.9l-3.8 -.9M635.2 523.2l.5 -6.4l2.5 -1.7m-2.5 1.7l-2.3 -2.2M637.9 534.3l6.8 2l1.5 3.6m-1.5 -3.6l2.6 -1.8"/>
<path class="k" stroke="#47b2a2" stroke-width="1.7" d="M640.9 530l4.8 -3l2.1 .7m-2.1 -.7l.3 -3M639.7 535.1l5.3 3.9l.1 3.8m-.1 -3.8l3.6 -1M631.6 523.4l-.4 -6.1l1.6 -1.5m-1.6 1.5l-2 -1.4M629.8 524.5l-3.1 -6.7l1.5 -2.9m-1.5 2.9l-3.8 -.9M635.2 523.2l.5 -6.4l2.5 -1.7m-2.5 1.7l-2.3 -2.2M637.9 534.3l6.8 2l1.5 3.6m-1.5 -3.6l2.6 -1.8"/>
<path class="k" stroke="#2d7d71" stroke-width="2.5" d="M626.9 526.6l-3.9 -3.3l.1 -2.2m-.1 2.2l-2.9 .6M637.1 527l3.4 -6.7l3.4 -.7m-3.4 .7l-1.6 -3.5M626.4 526.4l-2.3 -4l1 -2.4m-1 2.4l-1.9 -.3M638.4 534.1l6.4 3.4l.6 3.5m-.6 -3.5l3.9 -1.7M635.1 537.5l1.9 6.1l-1.9 2.8m1.9 -2.8l2.8 1.1"/>
<path class="k" stroke="#47b2a2" stroke-width="1.7" d="M626.9 526.6l-3.9 -3.3l.1 -2.2m-.1 2.2l-2.9 .6M637.1 527l3.4 -6.7l3.4 -.7m-3.4 .7l-1.6 -3.5M626.4 526.4l-2.3 -4l1 -2.4m-1 2.4l-1.9 -.3M638.4 534.1l6.4 3.4l.6 3.5m-.6 -3.5l3.9 -1.7M635.1 537.5l1.9 6.1l-1.9 2.8m1.9 -2.8l2.8 1.1"/>
<circle cx="631.5" cy="530.0" r="6.8" stroke="#2d7d71" stroke-width="3.40" fill="none"/>
<circle cx="631.5" cy="530.0" r="6.8" stroke="#47b2a2" stroke-width="2.4" fill="none"/>
<circle cx="633.1" cy="531.6" r="6.8" stroke="#2d7d71" stroke-width="3.40" fill="none"/>
<circle cx="633.1" cy="531.6" r="6.8" stroke="#47b2a2" stroke-width="2.4" fill="none"/>
<circle cx="633.1" cy="531.6" r="3.4" stroke="#2d7d71" stroke-width="2.80" fill="none"/>
<circle cx="633.1" cy="531.6" r="3.4" stroke="#47b2a2" stroke-width="2.0" fill="none"/>
<path class="k" stroke="#2d7d71" stroke-width="2.5" d="M661.7 515.3l2.6 3.4l-.6 2.3m.6 -2.3l1.5 0M652 503.4l-2.5 -3.6l.5 -1.7m-.5 1.7l-2.2 -.1M647.1 508.7l-6.4 .8l-2 -1.9m2 1.9l-1.2 2M657.5 516.1l2.8 3.1l-.4 2.4m.4 -2.4l1.8 -.1M655.4 503.4l.3 -5l2.4 -1.7m-2.4 1.7l-1.5 -1.3M663 508.4l4.4 .5l1.4 2.2m-1.4 -2.2l1.6 -1.6"/>
<path class="k" stroke="#47b2a2" stroke-width="1.7" d="M661.7 515.3l2.6 3.4l-.6 2.3m.6 -2.3l1.5 0M652 503.4l-2.5 -3.6l.5 -1.7m-.5 1.7l-2.2 -.1M647.1 508.7l-6.4 .8l-2 -1.9m2 1.9l-1.2 2M657.5 516.1l2.8 3.1l-.4 2.4m.4 -2.4l1.8 -.1M655.4 503.4l.3 -5l2.4 -1.7m-2.4 1.7l-1.5 -1.3M663 508.4l4.4 .5l1.4 2.2m-1.4 -2.2l1.6 -1.6"/>
<path class="k" stroke="#2d7d71" stroke-width="2.5" d="M648.5 506.9l-7.1 -3.4l-1 -4.5m1 4.5l-4.1 2M659.8 516.2l2.2 4.2l-1.1 2.5m1.1 -2.5l2.5 .5M660 515.1l4.4 6.1l-1.2 4.4m1.2 -4.4l3.2 .1M659 504l1.9 -4.6l1.8 -.5m-1.8 .5l-.8 -1.6M649.5 513.1l-3.9 3.5l-2 -.3m2 .3l.1 2.1"/>
<path class="k" stroke="#47b2a2" stroke-width="1.7" d="M648.5 506.9l-7.1 -3.4l-1 -4.5m1 4.5l-4.1 2M659.8 516.2l2.2 4.2l-1.1 2.5m1.1 -2.5l2.5 .5M660 515.1l4.4 6.1l-1.2 4.4m1.2 -4.4l3.2 .1M659 504l1.9 -4.6l1.8 -.5m-1.8 .5l-.8 -1.6M649.5 513.1l-3.9 3.5l-2 -.3m2 .3l.1 2.1"/>
<circle cx="654.1" cy="509.5" r="6.8" stroke="#2d7d71" stroke-width="3.40" fill="none"/>
<circle cx="654.1" cy="509.5" r="6.8" stroke="#47b2a2" stroke-width="2.4" fill="none"/>
<circle cx="655.7" cy="511.1" r="6.8" stroke="#2d7d71" stroke-width="3.40" fill="none"/>
<circle cx="655.7" cy="511.1" r="6.8" stroke="#47b2a2" stroke-width="2.4" fill="none"/>
<circle cx="655.7" cy="511.1" r="3.4" stroke="#2d7d71" stroke-width="2.80" fill="none"/>
<circle cx="655.7" cy="511.1" r="3.4" stroke="#47b2a2" stroke-width="2.0" fill="none"/>
<path class="k" stroke="#2d7d71" stroke-width="2.5" d="M657.2 555.6l.2 6.5l-2.4 2m2.4 -2l3.1 2.3M661.4 539.3l5.2 -4.6l3.9 .7m-3.9 -.7l-.2 -3M652.2 542.6l-2.3 -4.5l1.3 -2.8m-1.3 2.8l-2 -.4M653.2 553.7l-2.9 3.9l-1.9 .1m1.9 -.1l.7 2.7M659.4 553.9l-.4 5.9l-2.3 1.6m2.3 -1.6l1.7 1.6M664.5 543.9l5.4 -1.3l2.3 1.8m-2.3 -1.8l1 -2.2"/>
<path class="k" stroke="#47b2a2" stroke-width="1.7" d="M657.2 555.6l.2 6.5l-2.4 2m2.4 -2l3.1 2.3M661.4 539.3l5.2 -4.6l3.9 .7m-3.9 -.7l-.2 -3M652.2 542.6l-2.3 -4.5l1.3 -2.8m-1.3 2.8l-2 -.4M653.2 553.7l-2.9 3.9l-1.9 .1m1.9 -.1l.7 2.7M659.4 553.9l-.4 5.9l-2.3 1.6m2.3 -1.6l1.7 1.6M664.5 543.9l5.4 -1.3l2.3 1.8m-2.3 -1.8l1 -2.2"/>
<path class="k" stroke="#2d7d71" stroke-width="2.5" d="M660.5 553.1l1.4 7.3l-2.3 2.7m2.3 -2.7l3.4 1.8M664.6 543.8l5 .3l1.6 2.3m-1.6 -2.3l1.8 -2M650.7 543.6l-4 -.5l-.8 -1.2m.8 1.2l-1.6 1.7M651.4 551.4l-5.8 4.8l-3.9 -.8m3.9 .8l.1 3.3M653.3 541.9l-1.2 -4.5l1.6 -2.1m-1.6 2.1l-2.1 -.9"/>
<path class="k" stroke="#47b2a2" stroke-width="1.7" d="M660.5 553.1l1.4 7.3l-2.3 2.7m2.3 -2.7l3.4 1.8M664.6 543.8l5 .3l1.6 2.3m-1.6 -2.3l1.8 -2M650.7 543.6l-4 -.5l-.8 -1.2m.8 1.2l-1.6 1.7M651.4 551.4l-5.8 4.8l-3.9 -.8m3.9 .8l.1 3.3M653.3 541.9l-1.2 -4.5l1.6 -2.1m-1.6 2.1l-2.1 -.9"/>
<circle cx="650.0" cy="542.4" r="6.8" stroke="#2d7d71" stroke-width="3.40" fill="none"/>
<circle cx="650.0" cy="542.4" r="6.8" stroke="#47b2a2" stroke-width="2.4" fill="none"/>
<circle cx="654.0" cy="544.8" r="6.8" stroke="#2d7d71" stroke-width="3.40" fill="none"/>
<circle cx="654.0" cy="544.8" r="6.8" stroke="#47b2a2" stroke-width="2.4" fill="none"/>
<circle cx="658.0" cy="547.2" r="6.8" stroke="#2d7d71" stroke-width="3.40" fill="none"/>
<circle cx="658.0" cy="547.2" r="6.8" stroke="#47b2a2" stroke-width="2.4" fill="none"/>
<circle cx="662.0" cy="549.6" r="6.8" stroke="#2d7d71" stroke-width="3.40" fill="none"/>
<circle cx="662.0" cy="549.6" r="6.8" stroke="#47b2a2" stroke-width="2.4" fill="none"/>
<circle cx="656.8" cy="546.8" r="3.4" stroke="#2d7d71" stroke-width="2.80" fill="none"/>
<circle cx="656.8" cy="546.8" r="3.4" stroke="#47b2a2" stroke-width="2.0" fill="none"/>
<clipPath id="encl"><rect x="766.9" y="387.3" width="181.1" height="180.8"/></clipPath>
<g clip-path="url(#encl)">
<path d="M812.0,440.0 C816.8,433.7 827.3,433.7 835.0,432.0 C842.7,430.3 851.8,428.7 858.0,430.0 C864.2,431.3 869.0,433.3 872.0,440.0 C875.0,446.7 876.7,460.0 876.0,470.0 C875.3,480.0 872.3,494.2 868.0,500.0 C863.7,505.8 857.0,505.0 850.0,505.0 C843.0,505.0 833.3,502.2 826.0,500.0 C818.7,497.8 809.3,497.0 806.0,492.0 C802.7,487.0 805.0,478.7 806.0,470.0 C807.0,461.3 807.2,446.3 812.0,440.0 Z" fill="#84cfc4" opacity="1" stroke="#3a8f84" stroke-width="0.4"/>
<path d="M766.0,478.0 C768.7,462.3 777.0,473.7 782.0,474.0 C787.0,474.3 793.0,475.7 796.0,480.0 C799.0,484.3 800.2,492.5 800.0,500.0 C799.8,507.5 796.7,517.5 795.0,525.0 C793.3,532.5 792.5,537.8 790.0,545.0 C787.5,552.2 784.0,564.2 780.0,568.0 C776.0,571.8 768.3,583.0 766.0,568.0 C763.7,553.0 763.3,493.7 766.0,478.0 Z" fill="#5cbfb1" opacity="1" stroke="#3a8f84" stroke-width="0.4"/>
<path d="M840.0,505.0 C843.7,499.2 853.7,497.5 858.0,500.0 C862.3,502.5 865.3,508.7 866.0,520.0 C866.7,531.3 866.3,560.0 862.0,568.0 C857.7,576.0 844.3,573.5 840.0,568.0 C835.7,562.5 836.0,545.5 836.0,535.0 C836.0,524.5 836.3,510.8 840.0,505.0 Z" fill="#84cfc4" opacity="1" stroke="#3a8f84" stroke-width="0.4"/>
<path d="M872.0,478.0 C875.0,468.0 883.3,469.7 888.0,470.0 C892.7,470.3 897.3,471.7 900.0,480.0 C902.7,488.3 904.7,505.3 904.0,520.0 C903.3,534.7 900.7,560.0 896.0,568.0 C891.3,576.0 880.3,574.3 876.0,568.0 C871.7,561.7 870.7,545.0 870.0,530.0 C869.3,515.0 869.0,488.0 872.0,478.0 Z" fill="#9ad8cf" opacity="1" stroke="#3a8f84" stroke-width="0.4"/>
<path d="M905.0,478.0 C913.0,469.7 940.8,455.0 948.0,470.0 C955.2,485.0 955.2,551.7 948.0,568.0 C940.8,584.3 913.0,576.0 905.0,568.0 C897.0,560.0 900.0,535.0 900.0,520.0 C900.0,505.0 897.0,486.3 905.0,478.0 Z" fill="#5cbfb1" opacity="0.45" stroke="#3a8f84" stroke-width="0.4"/>
<path d="M912.0,386.0 C917.5,382.8 942.0,380.3 948.0,386.0 C954.0,391.7 951.0,414.7 948.0,420.0 C945.0,425.3 935.5,420.5 930.0,418.0 C924.5,415.5 918.0,410.3 915.0,405.0 C912.0,399.7 906.5,389.2 912.0,386.0 Z" fill="#4fae9f" opacity="1" stroke="#3a8f84" stroke-width="0.4"/>
<path d="M872.0,386.0 C877.3,383.7 905.7,384.0 912.0,386.0 C918.3,388.0 915.3,395.7 910.0,398.0 C904.7,400.3 886.3,402.0 880.0,400.0 C873.7,398.0 866.7,388.3 872.0,386.0 Z" fill="#5cbfb1" opacity="1" stroke="#3a8f84" stroke-width="0.4"/>
<path d="M766.0,540.0 C770.0,533.7 784.3,526.7 790.0,530.0 C795.7,533.3 804.0,553.7 800.0,560.0 C796.0,566.3 771.7,571.3 766.0,568.0 C760.3,564.7 762.0,546.3 766.0,540.0 Z" fill="#84cfc4" opacity="1" stroke="#3a8f84" stroke-width="0.4"/>
<path d="M812.0,452.0 C814.5,449.0 821.3,446.3 824.0,448.0 C826.7,449.7 829.0,458.0 828.0,462.0 C827.0,466.0 821.2,471.3 818.0,472.0 C814.8,472.7 810.0,469.3 809.0,466.0 C808.0,462.7 809.5,455.0 812.0,452.0 Z" fill="#fff"/>
<path d="M880.0,430.0 C888.0,425.5 919.7,425.5 930.0,428.0 C940.3,430.5 940.3,438.3 942.0,445.0 C943.7,451.7 943.7,462.8 940.0,468.0 C936.3,473.2 927.5,475.3 920.0,476.0 C912.5,476.7 901.3,475.5 895.0,472.0 C888.7,468.5 884.5,462.0 882.0,455.0 C879.5,448.0 872.0,434.5 880.0,430.0 Z" fill="#fff"/>
<path d="M858.0,506.0 C859.3,500.0 867.3,500.0 870.0,504.0 C872.7,508.0 875.3,524.0 874.0,530.0 C872.7,536.0 864.7,544.0 862.0,540.0 C859.3,536.0 856.7,512.0 858.0,506.0 Z" fill="#fff"/>
<path d="M800.0,530.0 C805.7,526.7 823.0,525.5 830.0,528.0 C837.0,530.5 842.0,539.0 842.0,545.0 C842.0,551.0 836.3,560.8 830.0,564.0 C823.7,567.2 809.7,566.7 804.0,564.0 C798.3,561.3 796.7,553.7 796.0,548.0 C795.3,542.3 794.3,533.3 800.0,530.0 Z" fill="#fff"/>
<path class="k" stroke="#3a8f84" stroke-width="9" d="M816.0,430.0 C816.7,426.7 816.7,415.2 820.0,410.0 C823.3,404.8 829.7,401.3 836.0,399.0 C842.3,396.7 850.7,396.2 858.0,396.0 C865.3,395.8 876.3,397.7 880.0,398.0"/>
<path class="k" stroke="#5cbfb1" stroke-width="8" d="M816.0,430.0 C816.7,426.7 816.7,415.2 820.0,410.0 C823.3,404.8 829.7,401.3 836.0,399.0 C842.3,396.7 850.7,396.2 858.0,396.0 C865.3,395.8 876.3,397.7 880.0,398.0"/>
<path class="k" stroke="#3a8f84" stroke-width="11" d="M797.0,480.0 C797.7,475.8 798.0,462.2 801.0,455.0 C804.0,447.8 809.2,441.5 815.0,437.0 C820.8,432.5 828.5,429.8 836.0,428.0 C843.5,426.2 854.0,425.7 860.0,426.0 C866.0,426.3 870.0,429.3 872.0,430.0"/>
<path class="k" stroke="#5cbfb1" stroke-width="10" d="M797.0,480.0 C797.7,475.8 798.0,462.2 801.0,455.0 C804.0,447.8 809.2,441.5 815.0,437.0 C820.8,432.5 828.5,429.8 836.0,428.0 C843.5,426.2 854.0,425.7 860.0,426.0 C866.0,426.3 870.0,429.3 872.0,430.0"/>
<path class="k" stroke="#3a8f84" stroke-width="13" d="M918.0,386.0 C920.8,388.0 929.7,395.0 935.0,398.0 C940.3,401.0 947.5,403.0 950.0,404.0"/>
<path class="k" stroke="#4aa394" stroke-width="12" d="M918.0,386.0 C920.8,388.0 929.7,395.0 935.0,398.0 C940.3,401.0 947.5,403.0 950.0,404.0"/>
<path class="k" stroke="#3a8f84" stroke-width="9" d="M768.0,495.0 C769.7,492.5 774.0,483.2 778.0,480.0 C782.0,476.8 789.7,476.7 792.0,476.0"/>
<path class="k" stroke="#5cbfb1" stroke-width="8" d="M768.0,495.0 C769.7,492.5 774.0,483.2 778.0,480.0 C782.0,476.8 789.7,476.7 792.0,476.0"/>
<path class="k" stroke="#3a8f84" stroke-width="5.5" d="M867.0,416.0 L948.0,424.0"/>
<path class="k" stroke="#5cbfb1" stroke-width="4.6" d="M867.0,416.0 L948.0,424.0"/>
<path class="k" stroke="#3a8f84" stroke-width="5.5" d="M908.0,386.0 L905.0,418.0"/>
<path class="k" stroke="#84cfc4" stroke-width="4.6" d="M908.0,386.0 L905.0,418.0"/>
<path class="k" stroke="#3a8f84" stroke-width="5.5" d="M866.0,399.0 L885.0,397.0 L893.0,406.0"/>
<path class="k" stroke="#5cbfb1" stroke-width="4.6" d="M866.0,399.0 L885.0,397.0 L893.0,406.0"/>
<path class="k" stroke="#3a8f84" stroke-width="5.5" d="M878.0,406.0 L895.0,410.0 L898.0,416.0"/>
<path class="k" stroke="#5cbfb1" stroke-width="4.6" d="M878.0,406.0 L895.0,410.0 L898.0,416.0"/>
<path class="k" stroke="#3a8f84" stroke-width="5.5" d="M816.0,407.0 L823.0,413.0"/>
<path class="k" stroke="#84cfc4" stroke-width="4.6" d="M816.0,407.0 L823.0,413.0"/>
<path class="k" stroke="#3a8f84" stroke-width="5.5" d="M789.0,451.0 L800.0,455.0"/>
<path class="k" stroke="#5cbfb1" stroke-width="4.6" d="M789.0,451.0 L800.0,455.0"/>
<path class="k" stroke="#3a8f84" stroke-width="5.5" d="M828.0,427.0 L840.0,434.0 L853.0,423.0"/>
<path class="k" stroke="#5cbfb1" stroke-width="4.6" d="M828.0,427.0 L840.0,434.0 L853.0,423.0"/>
<path class="k" stroke="#3a8f84" stroke-width="5.5" d="M935.0,430.0 L948.0,470.0"/>
<path class="k" stroke="#5cbfb1" stroke-width="4.6" d="M935.0,430.0 L948.0,470.0"/>
<path class="k" stroke="#3a8f84" stroke-width="5.5" d="M925.0,460.0 L945.0,480.0"/>
<path class="k" stroke="#5cbfb1" stroke-width="4.6" d="M925.0,460.0 L945.0,480.0"/>
<path class="k" stroke="#3a8f84" stroke-width="5.5" d="M890.0,440.0 L918.0,441.0"/>
<path class="k" stroke="#5cbfb1" stroke-width="4.6" d="M890.0,440.0 L918.0,441.0"/>
<path class="k" stroke="#3a8f84" stroke-width="5.5" d="M900.0,455.0 L918.0,452.0 L925.0,445.0"/>
<path class="k" stroke="#84cfc4" stroke-width="4.6" d="M900.0,455.0 L918.0,452.0 L925.0,445.0"/>
<path class="k" stroke="#3a8f84" stroke-width="5.5" d="M782.0,496.0 L788.0,570.0"/>
<path class="k" stroke="#5cbfb1" stroke-width="4.6" d="M782.0,496.0 L788.0,570.0"/>
<path class="k" stroke="#3a8f84" stroke-width="5.5" d="M770.0,555.0 L790.0,553.0 L800.0,560.0"/>
<path class="k" stroke="#84cfc4" stroke-width="4.6" d="M770.0,555.0 L790.0,553.0 L800.0,560.0"/>
<path class="k" stroke="#3a8f84" stroke-width="5.5" d="M775.0,545.0 L783.0,560.0"/>
<path class="k" stroke="#5cbfb1" stroke-width="4.6" d="M775.0,545.0 L783.0,560.0"/>
<path class="k" stroke="#3a8f84" stroke-width="5.5" d="M820.0,560.0 L830.0,570.0"/>
<path class="k" stroke="#84cfc4" stroke-width="4.6" d="M820.0,560.0 L830.0,570.0"/>
<path class="k" stroke="#3a8f84" stroke-width="5.5" d="M835.0,556.0 L845.0,570.0"/>
<path class="k" stroke="#84cfc4" stroke-width="4.6" d="M835.0,556.0 L845.0,570.0"/>
<path class="k" stroke="#3a8f84" stroke-width="5.5" d="M812.0,505.0 L825.0,520.0 L838.0,512.0"/>
<path class="k" stroke="#5cbfb1" stroke-width="4.6" d="M812.0,505.0 L825.0,520.0 L838.0,512.0"/>
<path class="k" stroke="#3a8f84" stroke-width="5.5" d="M880.0,485.0 L882.0,520.0"/>
<path class="k" stroke="#5cbfb1" stroke-width="4.6" d="M880.0,485.0 L882.0,520.0"/>
<path class="k" stroke="#3a8f84" stroke-width="5.5" d="M890.0,530.0 L905.0,545.0 L920.0,540.0"/>
<path class="k" stroke="#84cfc4" stroke-width="4.6" d="M890.0,530.0 L905.0,545.0 L920.0,540.0"/>
<path class="k" stroke="#3a8f84" stroke-width="5.5" d="M912.0,500.0 L930.0,510.0 L948.0,500.0"/>
<path class="k" stroke="#5cbfb1" stroke-width="4.6" d="M912.0,500.0 L930.0,510.0 L948.0,500.0"/>
<path class="k" stroke="#3a8f84" stroke-width="5.5" d="M915.0,555.0 L935.0,548.0 L948.0,560.0"/>
<path class="k" stroke="#84cfc4" stroke-width="4.6" d="M915.0,555.0 L935.0,548.0 L948.0,560.0"/>
<path class="k" stroke="#3a8f84" stroke-width="5.5" d="M860.0,548.0 L875.0,560.0"/>
<path class="k" stroke="#84cfc4" stroke-width="4.6" d="M860.0,548.0 L875.0,560.0"/>
<path class="k" stroke="#3a8f84" stroke-width="5.5" d="M930.0,520.0 L940.0,535.0"/>
<path class="k" stroke="#5cbfb1" stroke-width="4.6" d="M930.0,520.0 L940.0,535.0"/>
<path class="k" stroke="#3a8f84" stroke-width="5.5" d="M886.0,388.0 L893.0,395.0"/>
<path class="k" stroke="#5cbfb1" stroke-width="4.6" d="M886.0,388.0 L893.0,395.0"/>
<path class="k" stroke="#3a8f84" stroke-width="5.5" d="M770.0,505.0 L782.0,512.0"/>
<path class="k" stroke="#84cfc4" stroke-width="4.6" d="M770.0,505.0 L782.0,512.0"/>
<path class="k" stroke="#3a8f84" stroke-width="5.5" d="M796.0,515.0 L806.0,508.0"/>
<path class="k" stroke="#5cbfb1" stroke-width="4.6" d="M796.0,515.0 L806.0,508.0"/>
<path class="k" stroke="#3a8f84" stroke-width="5.5" d="M848.0,560.0 L856.0,548.0"/>
<path class="k" stroke="#5cbfb1" stroke-width="4.6" d="M848.0,560.0 L856.0,548.0"/>
<path class="k" stroke="#3a8f84" stroke-width="5.5" d="M900.0,565.0 L915.0,568.0"/>
<path class="k" stroke="#5cbfb1" stroke-width="4.6" d="M900.0,565.0 L915.0,568.0"/>
<path class="k" stroke="#3a8f84" stroke-width="5.5" d="M868.0,470.0 L880.0,462.0 L892.0,472.0"/>
<path class="k" stroke="#84cfc4" stroke-width="4.6" d="M868.0,470.0 L880.0,462.0 L892.0,472.0"/>
<path class="k" stroke="#3a8f84" stroke-width="5.5" d="M850.0,444.0 L862.0,452.0"/>
<path class="k" stroke="#5cbfb1" stroke-width="4.6" d="M850.0,444.0 L862.0,452.0"/>
<path class="k" stroke="#3a8f84" stroke-width="5.5" d="M936.0,470.0 L948.0,455.0"/>
<path class="k" stroke="#5cbfb1" stroke-width="4.6" d="M936.0,470.0 L948.0,455.0"/>
<path class="k" stroke="#3a8f84" stroke-width="5.5" d="M925.0,392.0 L940.0,388.0"/>
<path class="k" stroke="#5cbfb1" stroke-width="4.6" d="M925.0,392.0 L940.0,388.0"/>
<path class="k" stroke="#3a8f84" stroke-width="4.2" d="M944.1 481l-8.4 3.7l-4.2 -2.2m4.2 2.2l-1.2 4.8M922.9 481.4l-5.9 -6l.6 -4.7m-.6 4.7l-4.3 .5"/>
<path class="k" stroke="#5cbfb1" stroke-width="3.4" d="M944.1 481l-8.4 3.7l-4.2 -2.2m4.2 2.2l-1.2 4.8M922.9 481.4l-5.9 -6l.6 -4.7m-.6 4.7l-4.3 .5"/>
<path class="k" stroke="#3a8f84" stroke-width="4.2" d="M933.6 543.3l2 6.8l-1.6 2.3m1.6 -2.3l2.6 1.1M909.7 560.1l-6.8 -4.2l-.4 -3.1m.4 3.1l-2.6 1"/>
<path class="k" stroke="#84cfc4" stroke-width="3.4" d="M933.6 543.3l2 6.8l-1.6 2.3m1.6 -2.3l2.6 1.1M909.7 560.1l-6.8 -4.2l-.4 -3.1m.4 3.1l-2.6 1"/>
<path class="k" stroke="#3a8f84" stroke-width="4.2" d="M907.4 533.6l-2 6.1l-2.4 .9m2.4 -.9l1.4 2.2"/>
<path class="k" stroke="#5cbfb1" stroke-width="3.4" d="M907.4 533.6l-2 6.1l-2.4 .9m2.4 -.9l1.4 2.2"/>
<path class="k" stroke="#3a8f84" stroke-width="4.2" d="M919.8 486.2l-3.6 -6.9l1.8 -4.2m-1.8 4.2l-4.5 -.8"/>
<path class="k" stroke="#84cfc4" stroke-width="3.4" d="M919.8 486.2l-3.6 -6.9l1.8 -4.2m-1.8 4.2l-4.5 -.8"/>
<path class="k" stroke="#3a8f84" stroke-width="4.2" d="M937.5 522.6l8.4 -2.6l3.6 2.4m-3.6 -2.4l1.3 -3.3"/>
<path class="k" stroke="#5cbfb1" stroke-width="3.4" d="M937.5 522.6l8.4 -2.6l3.6 2.4m-3.6 -2.4l1.3 -3.3"/>
<path class="k" stroke="#3a8f84" stroke-width="4.2" d="M911.6 557.1l-3.7 -7.1l1.2 -2.7m-1.2 2.7l-3.4 -.7"/>
<path class="k" stroke="#84cfc4" stroke-width="3.4" d="M911.6 557.1l-3.7 -7.1l1.2 -2.7m-1.2 2.7l-3.4 -.7"/>
<path class="k" stroke="#3a8f84" stroke-width="4.2" d="M924.7 556.2l7.2 -5.9l3.3 .7m-3.3 -.7l-.1 -4M946.5 550.8l-6.2 1.2l-2.4 -2.1m2.4 2.1l-1.3 2.4"/>
<path class="k" stroke="#5cbfb1" stroke-width="3.4" d="M924.7 556.2l7.2 -5.9l3.3 .7m-3.3 -.7l-.1 -4M946.5 550.8l-6.2 1.2l-2.4 -2.1m2.4 2.1l-1.3 2.4"/>
<path class="k" stroke="#3a8f84" stroke-width="4.2" d="M925.8 493.7l1.8 6l-2 2.9m2 -2.9l2.9 1.2"/>
<path class="k" stroke="#84cfc4" stroke-width="3.4" d="M925.8 493.7l1.8 6l-2 2.9m2 -2.9l2.9 1.2"/>
<path class="k" stroke="#3a8f84" stroke-width="4.2" d="M915.9 519.6l-4.2 7.5l-5 .8m5 -.8l1.6 4"/>
<path class="k" stroke="#5cbfb1" stroke-width="3.4" d="M915.9 519.6l-4.2 7.5l-5 .8m5 -.8l1.6 4"/>
<path class="k" stroke="#3a8f84" stroke-width="4.2" d="M941 535.4l-9.4 -2.1l-2.1 -4.2m2.1 4.2l-3.5 2.9"/>
<path class="k" stroke="#84cfc4" stroke-width="3.4" d="M941 535.4l-9.4 -2.1l-2.1 -4.2m2.1 4.2l-3.5 2.9"/>
<path class="k" stroke="#3a8f84" stroke-width="4.2" d="M911.7 551.3l-1.7 -6.5l2 -2.6m-2 2.6l-2.7 -1.2M912.5 490.3l-7.4 -4l-.9 -4.8m.9 4.8l-3.6 1.6"/>
<path class="k" stroke="#5cbfb1" stroke-width="3.4" d="M911.7 551.3l-1.7 -6.5l2 -2.6m-2 2.6l-2.7 -1.2M912.5 490.3l-7.4 -4l-.9 -4.8m.9 4.8l-3.6 1.6"/>
<path class="k" stroke="#3a8f84" stroke-width="4.2" d="M910.2 487l-1.2 -6.2l2.2 -2.6m-2.2 2.6l-2.7 -1.4M914.1 546.4l-1.4 9.7l-3.8 2.2m3.8 -2.2l2.4 2.5"/>
<path class="k" stroke="#84cfc4" stroke-width="3.4" d="M910.2 487l-1.2 -6.2l2.2 -2.6m-2.2 2.6l-2.7 -1.4M914.1 546.4l-1.4 9.7l-3.8 2.2m3.8 -2.2l2.4 2.5"/>
<path class="k" stroke="#3a8f84" stroke-width="4.2" d="M928.3 489.1l-2.4 9.4l-4.8 2.2m4.8 -2.2l2.8 3.7"/>
<path class="k" stroke="#5cbfb1" stroke-width="3.4" d="M928.3 489.1l-2.4 9.4l-4.8 2.2m4.8 -2.2l2.8 3.7"/>
<path class="k" stroke="#3a8f84" stroke-width="4.2" d="M872.8 423.9l3.6 -4.9l2.3 -.1m-2.3 .1l-.6 -2.2M897.3 399.2l-3.1 -9.4l2.5 -3.9m-2.5 3.9l-3.4 -1.2"/>
<path class="k" stroke="#84cfc4" stroke-width="3.4" d="M872.8 423.9l3.6 -4.9l2.3 -.1m-2.3 .1l-.6 -2.2M897.3 399.2l-3.1 -9.4l2.5 -3.9m-2.5 3.9l-3.4 -1.2"/>
<path class="k" stroke="#3a8f84" stroke-width="4.2" d="M893.7 391.3l6.4 -2.6l2.7 1.5m-2.7 -1.5l1 -3.5M874.3 390.1l7.8 4.4l.8 4.6m-.8 -4.6l4.7 -2M927.8 403.9l9.4 -2.6l2.9 2.1m-2.9 -2.1l2.2 -5.3M874.1 423.8l-6 3.1l-3.2 -1.4m3.2 1.4l-.7 3.4M885.4 390.2l1 -6.9l3.4 -2m-3.4 2l-2.8 -3"/>
<path class="k" stroke="#5cbfb1" stroke-width="3.4" d="M893.7 391.3l6.4 -2.6l2.7 1.5m-2.7 -1.5l1 -3.5M874.3 390.1l7.8 4.4l.8 4.6m-.8 -4.6l4.7 -2M927.8 403.9l9.4 -2.6l2.9 2.1m-2.9 -2.1l2.2 -5.3M874.1 423.8l-6 3.1l-3.2 -1.4m3.2 1.4l-.7 3.4M885.4 390.2l1 -6.9l3.4 -2m-3.4 2l-2.8 -3"/>
<path class="k" stroke="#3a8f84" stroke-width="4.2" d="M905.4 392.9l5.1 -3.9l2.6 .7m-2.6 -.7l.1 -3.8"/>
<path class="k" stroke="#84cfc4" stroke-width="3.4" d="M905.4 392.9l5.1 -3.9l2.6 .7m-2.6 -.7l.1 -3.8"/>
<path class="k" stroke="#3a8f84" stroke-width="4.2" d="M925.2 415.8l2.5 -6.7l3.7 -1.2m-3.7 1.2l-1.8 -3M931.1 391.4l4.7 -6.7l4.3 -.3m-4.3 .3l-1.3 -4.4M932 388.8l7.3 3.3l.8 3.1m-.8 -3.1l3.2 -1.7M903.9 413.2l-4.8 -5.6l.8 -4.2m-.8 4.2l-3.3 .1"/>
<path class="k" stroke="#5cbfb1" stroke-width="3.4" d="M925.2 415.8l2.5 -6.7l3.7 -1.2m-3.7 1.2l-1.8 -3M931.1 391.4l4.7 -6.7l4.3 -.3m-4.3 .3l-1.3 -4.4M932 388.8l7.3 3.3l.8 3.1m-.8 -3.1l3.2 -1.7M903.9 413.2l-4.8 -5.6l.8 -4.2m-.8 4.2l-3.3 .1"/>
<path class="k" stroke="#3a8f84" stroke-width="4.2" d="M920.7 393.5l-.1 -6.9l2 -1.6m-2 1.6l-2.8 -2.2"/>
<path class="k" stroke="#84cfc4" stroke-width="3.4" d="M920.7 393.5l-.1 -6.9l2 -1.6m-2 1.6l-2.8 -2.2"/>
<path class="k" stroke="#3a8f84" stroke-width="4.2" d="M931.8 410.7l8.8 -.8l3.4 3.5m-3.4 -3.5l1.7 -2.6"/>
<path class="k" stroke="#5cbfb1" stroke-width="3.4" d="M931.8 410.7l8.8 -.8l3.4 3.5m-3.4 -3.5l1.7 -2.6"/>
<path class="k" stroke="#3a8f84" stroke-width="4.2" d="M879.7 411.7l-5.7 4.5l-3.4 -.8m3.4 .8l0 2.9M918.4 404.3l-2.9 -8.7l2.6 -4m-2.6 4l-3.2 -1.2M915.6 412l2.5 7.1l-2 3.2m2 -3.2l3.6 1.2"/>
<path class="k" stroke="#84cfc4" stroke-width="3.4" d="M879.7 411.7l-5.7 4.5l-3.4 -.8m3.4 .8l0 2.9M918.4 404.3l-2.9 -8.7l2.6 -4m-2.6 4l-3.2 -1.2M915.6 412l2.5 7.1l-2 3.2m2 -3.2l3.6 1.2"/>
<path class="k" stroke="#3a8f84" stroke-width="4.2" d="M895 397.3l-2.2 -6.1l1.9 -3.1m-1.9 3.1l-3.5 -1.2"/>
<path class="k" stroke="#5cbfb1" stroke-width="3.4" d="M895 397.3l-2.2 -6.1l1.9 -3.1m-1.9 3.1l-3.5 -1.2"/>
<path class="k" stroke="#3a8f84" stroke-width="4.2" d="M799.4 524.1l-4.5 -4.2l.2 -2.4m-.2 2.4l-2.7 .4"/>
<path class="k" stroke="#84cfc4" stroke-width="3.4" d="M799.4 524.1l-4.5 -4.2l.2 -2.4m-.2 2.4l-2.7 .4"/>
<path class="k" stroke="#3a8f84" stroke-width="4.2" d="M789.2 522.8l7.3 -4.1l4.3 1.8m-4.3 -1.8l.8 -4.7"/>
<path class="k" stroke="#5cbfb1" stroke-width="3.4" d="M789.2 522.8l7.3 -4.1l4.3 1.8m-4.3 -1.8l.8 -4.7"/>
<path class="k" stroke="#3a8f84" stroke-width="4.2" d="M776.8 557.4l5.1 -3.4l2.8 .9m-2.8 -.9l.3 -3"/>
<path class="k" stroke="#84cfc4" stroke-width="3.4" d="M776.8 557.4l5.1 -3.4l2.8 .9m-2.8 -.9l.3 -3"/>
<path class="k" stroke="#3a8f84" stroke-width="4.2" d="M777.4 518.5l4.7 6.2l-1 3.8m1 -3.8l3.4 .1M769.9 505l6.7 -1.6l2.8 2.2m-2.8 -2.2l1.1 -2.4M796.7 487.8l-2.1 7.7l-4.1 1.7m4.1 -1.7l2.5 3.5M786.3 499.9l6.1 -3.2l3.1 1.4m-3.1 -1.4l.7 -3.9M784.5 532.5l7.2 -2.8l3.8 2.2m-3.8 -2.2l1.1 -3.5M767.2 542.4l3.2 5.8l-1 2.5m1 -2.5l2.4 .4"/>
<path class="k" stroke="#5cbfb1" stroke-width="3.4" d="M777.4 518.5l4.7 6.2l-1 3.8m1 -3.8l3.4 .1M769.9 505l6.7 -1.6l2.8 2.2m-2.8 -2.2l1.1 -2.4M796.7 487.8l-2.1 7.7l-4.1 1.7m4.1 -1.7l2.5 3.5M786.3 499.9l6.1 -3.2l3.1 1.4m-3.1 -1.4l.7 -3.9M784.5 532.5l7.2 -2.8l3.8 2.2m-3.8 -2.2l1.1 -3.5M767.2 542.4l3.2 5.8l-1 2.5m1 -2.5l2.4 .4"/>
<path class="k" stroke="#3a8f84" stroke-width="4.2" d="M794.5 485.3l4.8 -7.9l3.4 -.4m-3.4 .4l-1.8 -4.8"/>
<path class="k" stroke="#5cbfb1" stroke-width="3.4" d="M794.5 485.3l4.8 -7.9l3.4 -.4m-3.4 .4l-1.8 -4.8"/>
<path class="k" stroke="#3a8f84" stroke-width="4.2" d="M768.8 488l3.7 -5.4l3 -.2m-3 .2l-.9 -3.1M789.9 518.7l-2.7 -5.4l1.5 -3.1m-1.5 3.1l-2.8 -.6"/>
<path class="k" stroke="#84cfc4" stroke-width="3.4" d="M768.8 488l3.7 -5.4l3 -.2m-3 .2l-.9 -3.1M789.9 518.7l-2.7 -5.4l1.5 -3.1m-1.5 3.1l-2.8 -.6"/>
<path class="k" stroke="#3a8f84" stroke-width="4.2" d="M772 544.5l7.9 -5.7l3.9 1.1m-3.9 -1.1l.2 -4.5"/>
<path class="k" stroke="#5cbfb1" stroke-width="3.4" d="M772 544.5l7.9 -5.7l3.9 1.1m-3.9 -1.1l.2 -4.5"/>
<path class="k" stroke="#3a8f84" stroke-width="4.2" d="M771.4 485.4l-8.7 1.8l-3.7 -3.1m3.7 3.1l-1.7 3.3"/>
<path class="k" stroke="#84cfc4" stroke-width="3.4" d="M771.4 485.4l-8.7 1.8l-3.7 -3.1m3.7 3.1l-1.7 3.3"/>
<path class="k" stroke="#3a8f84" stroke-width="4.2" d="M789.9 498.4l7.1 4.1l.5 3.5m-.5 -3.5l2.8 -1.1M785.5 553.1l-6.3 -.5l-1.7 -2.5m1.7 2.5l-1.6 1.7M768.6 554.6l-5 -4.9l.4 -4m-.4 4l-3.5 .4M768.1 563.5l6.5 6.6l-.5 4m.5 -4l4 -.4"/>
<path class="k" stroke="#5cbfb1" stroke-width="3.4" d="M789.9 498.4l7.1 4.1l.5 3.5m-.5 -3.5l2.8 -1.1M785.5 553.1l-6.3 -.5l-1.7 -2.5m1.7 2.5l-1.6 1.7M768.6 554.6l-5 -4.9l.4 -4m-.4 4l-3.5 .4M768.1 563.5l6.5 6.6l-.5 4m.5 -4l4 -.4"/>
<path class="k" stroke="#3a8f84" stroke-width="4.2" d="M881.6 540.3l5.5 -6l3.9 .3m-3.9 -.3l-.5 -2.8M888.6 548.3l-6.5 5.7l-4.3 -.8m4.3 .8l.2 5M849.8 530.4l6 -.8l1.7 1.7m-1.7 -1.7l1.6 -2.6"/>
<path class="k" stroke="#84cfc4" stroke-width="3.4" d="M881.6 540.3l5.5 -6l3.9 .3m-3.9 -.3l-.5 -2.8M888.6 548.3l-6.5 5.7l-4.3 -.8m4.3 .8l.2 5M849.8 530.4l6 -.8l1.7 1.7m-1.7 -1.7l1.6 -2.6"/>
<path class="k" stroke="#3a8f84" stroke-width="4.2" d="M904.8 546.3l3.5 -7.4l3.7 -.9m-3.7 .9l-2.1 -4.3"/>
<path class="k" stroke="#5cbfb1" stroke-width="3.4" d="M904.8 546.3l3.5 -7.4l3.7 -.9m-3.7 .9l-2.1 -4.3"/>
<path class="k" stroke="#3a8f84" stroke-width="4.2" d="M873.4 546.2l-4.8 -7.7l1.2 -3.5m-1.2 3.5l-5.3 -.6"/>
<path class="k" stroke="#84cfc4" stroke-width="3.4" d="M873.4 546.2l-4.8 -7.7l1.2 -3.5m-1.2 3.5l-5.3 -.6"/>
<path class="k" stroke="#3a8f84" stroke-width="4.2" d="M840.8 550.6l5.6 -2.2l2.6 1.5m-2.6 -1.5l.8 -2.5"/>
<path class="k" stroke="#5cbfb1" stroke-width="3.4" d="M840.8 550.6l5.6 -2.2l2.6 1.5m-2.6 -1.5l.8 -2.5"/>
<path class="k" stroke="#3a8f84" stroke-width="4.2" d="M855.6 562.2l1.8 7.2l-1.9 2.5m1.9 -2.5l2.5 1.1"/>
<path class="k" stroke="#84cfc4" stroke-width="3.4" d="M855.6 562.2l1.8 7.2l-1.9 2.5m1.9 -2.5l2.5 1.1"/>
<path class="k" stroke="#3a8f84" stroke-width="4.2" d="M891 542.6l-3.7 -5.3l.7 -2.3m-.7 2.3l-3.1 -.2M852.6 565.9l.5 6.5l-2.3 2.1m2.3 -2.1l3.2 2.1"/>
<path class="k" stroke="#5cbfb1" stroke-width="3.4" d="M891 542.6l-3.7 -5.3l.7 -2.3m-.7 2.3l-3.1 -.2M852.6 565.9l.5 6.5l-2.3 2.1m2.3 -2.1l3.2 2.1"/>
<path class="k" stroke="#3a8f84" stroke-width="4.2" d="M901 527.1l-6.9 -.5l-1.5 -2.2m1.5 2.2l-2 2.2"/>
<path class="k" stroke="#84cfc4" stroke-width="3.4" d="M901 527.1l-6.9 -.5l-1.5 -2.2m1.5 2.2l-2 2.2"/>
<path class="k" stroke="#3a8f84" stroke-width="4.2" d="M852.5 550.3l5.2 -5.7l3.8 .3m-3.8 -.3l-.7 -4.3"/>
<path class="k" stroke="#5cbfb1" stroke-width="3.4" d="M852.5 550.3l5.2 -5.7l3.8 .3m-3.8 -.3l-.7 -4.3"/>
<path class="k" stroke="#3a8f84" stroke-width="4.2" d="M849.4 562.7l-3.4 7.7l-4.6 1.2m4.6 -1.2l2.2 4.2M860.4 513.9l-4.2 -4.7l.5 -3.2m-.5 3.2l-3 .2"/>
<path class="k" stroke="#84cfc4" stroke-width="3.4" d="M849.4 562.7l-3.4 7.7l-4.6 1.2m4.6 -1.2l2.2 4.2M860.4 513.9l-4.2 -4.7l.5 -3.2m-.5 3.2l-3 .2"/>
<path class="k" stroke="#3a8f84" stroke-width="4.2" d="M868.5 529.5l-5 -7.2l1.3 -4.5m-1.3 4.5l-3.4 -.2M861.2 548.6l-3.6 -8.9l1.9 -3.3m-1.9 3.3l-5.2 -1.5M866.7 556.8l6.7 -3.8l3.3 1.3m-3.3 -1.3l.5 -3.3M841.4 542.8l5.8 -4.9l4.4 .9m-4.4 -.9l-.1 -3.2M902.2 560.3l3.5 -6l3.7 -.5m-3.7 .5l-1.4 -3.4"/>
<path class="k" stroke="#5cbfb1" stroke-width="3.4" d="M868.5 529.5l-5 -7.2l1.3 -4.5m-1.3 4.5l-3.4 -.2M861.2 548.6l-3.6 -8.9l1.9 -3.3m-1.9 3.3l-5.2 -1.5M866.7 556.8l6.7 -3.8l3.3 1.3m-3.3 -1.3l.5 -3.3M841.4 542.8l5.8 -4.9l4.4 .9m-4.4 -.9l-.1 -3.2M902.2 560.3l3.5 -6l3.7 -.5m-3.7 .5l-1.4 -3.4"/>
<g transform="translate(-10,386.5)"><path d="M821.2,94.3 L829.5,79.7 L846.9,75.5 L858.0,84.6 L851.1,99.1 L833.0,104.0 Z" stroke="#0f3f5b" stroke-width="5.8" fill="none" stroke-linejoin="round" stroke-linecap="round"/>
<path d="M846.9,75.5 L854.5,62.4 L867.7,72.8 L876.0,81.8" stroke="#0f3f5b" stroke-width="5.8" fill="none" stroke-linejoin="round" stroke-linecap="round"/>
<path d="M872.0,77.5 L876.0,81.8" stroke="#9e0c0c" stroke-width="5.8" fill="none" stroke-linejoin="round" stroke-linecap="round"/>
<path d="M859.4,75.5 L849.7,84.6" stroke="#0f3f5b" stroke-width="5.8" fill="none" stroke-linejoin="round" stroke-linecap="round"/>
<path d="M853.0,81.5 L849.7,84.6" stroke="#9e0c0c" stroke-width="5.8" fill="none" stroke-linejoin="round" stroke-linecap="round"/>
<path d="M865.6,68.6 L868.4,61.0 L875.3,63.8" stroke="#0f3f5b" stroke-width="5.8" fill="none" stroke-linejoin="round" stroke-linecap="round"/>
<path d="M866.5,61.2 L871.5,62.2" stroke="#1278f2" stroke-width="5.8" fill="none" stroke-linejoin="round" stroke-linecap="round"/>
<path d="M875.3,63.8 L884.4,49.9 L893.4,53.3 L894.8,67.9 L885.7,78.3 L876.7,72.8 Z" stroke="#0f3f5b" stroke-width="5.8" fill="none" stroke-linejoin="round" stroke-linecap="round"/>
<path d="M894.8,67.9 L902.4,71.4 L901.0,83.9 L892.0,95.7 L885.7,91.5 L885.7,78.3" stroke="#2a5873" stroke-width="5.8" fill="none" stroke-linejoin="round" stroke-linecap="round"/>
<path d="M885.7,87.3 L888.5,93.5" stroke="#9e0c0c" stroke-width="5.8" fill="none" stroke-linejoin="round" stroke-linecap="round"/>
<path d="M902.4,70.7 L910.0,60.3" stroke="#2a5873" stroke-width="5.8" fill="none" stroke-linejoin="round" stroke-linecap="round"/>
<path d="M892.0,95.7 L892.7,108.2" stroke="#2a5873" stroke-width="5.8" fill="none" stroke-linejoin="round" stroke-linecap="round"/>
<path d="M892.5,102.0 L892.7,108.2" stroke="#9e0c0c" stroke-width="5.8" fill="none" stroke-linejoin="round" stroke-linecap="round"/>
<path d="M887.1,115.8 L898.9,108.2 L912.1,119.3 L909.3,131.7 L891.3,131.7 Z" stroke="#0f3f5b" stroke-width="5.8" fill="none" stroke-linejoin="round" stroke-linecap="round"/>
<path d="M909.3,131.7 L918.6,147 L928.5,144.5" stroke="#0f3f5b" stroke-width="5.8" fill="none" stroke-linejoin="round" stroke-linecap="round"/>
<path d="M886.5,113.0 L888.5,121.0" stroke="#1278f2" stroke-width="5.8" fill="none" stroke-linejoin="round" stroke-linecap="round"/>
<path d="M910.0,115.5 L912.5,123.0" stroke="#1278f2" stroke-width="5.8" fill="none" stroke-linejoin="round" stroke-linecap="round"/>
<path d="M830.2,119.3 L845.5,119.3 L848.3,133.1 L833.0,141.5 L821.9,131.0 Z" stroke="#0f3f5b" stroke-width="5.8" fill="none" stroke-linejoin="round" stroke-linecap="round"/>
<path d="M821.9,131.7 L802.5,137.3" stroke="#0f3f5b" stroke-width="5.8" fill="none" stroke-linejoin="round" stroke-linecap="round"/>
<path d="M841.0,119.3 L846.5,121.5" stroke="#1278f2" stroke-width="5.8" fill="none" stroke-linejoin="round" stroke-linecap="round"/>
<path d="M829.5,137.5 L836.0,140.5" stroke="#1278f2" stroke-width="5.8" fill="none" stroke-linejoin="round" stroke-linecap="round"/>
<path d="M845.5,120.0 L853.8,117.9" stroke="#0f3f5b" stroke-width="5.8" fill="none" stroke-linejoin="round" stroke-linecap="round"/>
<path d="M853.8,112.3 L866.3,113.0 L878.8,118.6 L874.6,122.0 L859.4,119.3 Z" stroke="#2a5873" stroke-width="5.8" fill="none" stroke-linejoin="round" stroke-linecap="round"/>
<path d="M858.0,113.0 L866.0,114.5" stroke="#1278f2" stroke-width="4" fill="none" stroke-linejoin="round" stroke-linecap="round"/>
<path d="M868.0,118.5 L874.0,121.0" stroke="#1278f2" stroke-width="4" fill="none" stroke-linejoin="round" stroke-linecap="round"/>
<circle cx="865.6" cy="104" r="3" fill="#8b88b8"/></g>
</g>
<path d="M1002.7,410.7 C1005.1,409.1 1008.6,407.9 1013.0,407.6 C1017.5,407.3 1024.4,408.1 1029.5,408.6 C1034.6,409.1 1039.1,411.0 1043.9,410.7 C1048.7,410.3 1054.5,409.3 1058.3,406.6 C1062.1,403.8 1063.1,397.0 1066.5,394.2 C1070.0,391.5 1074.8,389.8 1078.9,390.1 C1083.0,390.5 1087.8,393.9 1091.2,396.3 C1094.7,398.7 1096.4,401.1 1099.5,404.5 C1102.5,407.9 1107.0,412.1 1109.7,416.9 C1112.5,421.7 1113.9,429.2 1115.9,433.3 C1118.0,437.4 1119.3,439.2 1122.1,441.6 C1124.8,444.0 1129.3,445.0 1132.4,447.7 C1135.5,450.5 1138.2,453.9 1140.6,458.0 C1143.0,462.1 1146.1,466.6 1146.8,472.4 C1147.5,478.2 1145.8,488.2 1144.7,493.0 C1143.7,497.8 1140.6,497.8 1140.6,501.2 C1140.6,504.7 1144.7,508.8 1144.7,513.6 C1144.7,518.4 1142.7,525.9 1140.6,530.0 C1138.6,534.1 1136.5,536.2 1132.4,538.3 C1128.3,540.3 1121.4,541.3 1115.9,542.4 C1110.4,543.4 1104.9,542.0 1099.5,544.4 C1094.0,546.8 1088.5,554.7 1083.0,556.8 C1077.5,558.8 1071.3,557.8 1066.5,556.8 C1061.7,555.8 1059.0,552.0 1054.2,550.6 C1049.4,549.2 1042.9,549.9 1037.7,548.6 C1032.6,547.2 1027.4,545.5 1023.3,542.4 C1019.2,539.3 1015.4,534.8 1013.0,530.0 C1010.6,525.2 1010.6,518.4 1008.9,513.6 C1007.2,508.8 1004.8,505.3 1002.7,501.2 C1000.7,497.1 998.1,494.4 996.6,488.9 C995.0,483.4 993.1,475.2 993.5,468.3 C993.8,461.4 998.1,454.6 998.6,447.7 C999.1,440.9 996.6,432.3 996.6,427.2 C996.6,422.0 997.6,419.6 998.6,416.9 C999.7,414.1 1000.3,412.2 1002.7,410.7 Z" fill="#9dd6cd"/>
<circle cx="1006.8" cy="414.4" r="8.4" fill="#9dd6cd"/>
<circle cx="1016.4" cy="411.5" r="6.6" fill="#9dd6cd"/>
<circle cx="1031.9" cy="412.4" r="7.6" fill="#9dd6cd"/>
<circle cx="1045.5" cy="414.4" r="6.8" fill="#9dd6cd"/>
<circle cx="1059.0" cy="410.5" r="8.3" fill="#9dd6cd"/>
<circle cx="1066.7" cy="398.9" r="8.6" fill="#9dd6cd"/>
<circle cx="1078.3" cy="395.0" r="7.5" fill="#9dd6cd"/>
<circle cx="1089.9" cy="400.8" r="7.5" fill="#9dd6cd"/>
<circle cx="1097.7" cy="408.6" r="6.9" fill="#9dd6cd"/>
<circle cx="1107.3" cy="420.2" r="8.2" fill="#9dd6cd"/>
<circle cx="1113.2" cy="435.6" r="7.7" fill="#9dd6cd"/>
<circle cx="1119.0" cy="443.4" r="7.0" fill="#9dd6cd"/>
<circle cx="1128.6" cy="449.2" r="7.5" fill="#9dd6cd"/>
<circle cx="1136.4" cy="458.8" r="7.6" fill="#9dd6cd"/>
<circle cx="1142.2" cy="472.4" r="6.2" fill="#9dd6cd"/>
<circle cx="1140.2" cy="491.7" r="7.3" fill="#9dd6cd"/>
<circle cx="1136.4" cy="499.5" r="8.6" fill="#9dd6cd"/>
<circle cx="1140.2" cy="511.1" r="7.5" fill="#9dd6cd"/>
<circle cx="1136.4" cy="526.5" r="6.5" fill="#9dd6cd"/>
<circle cx="1128.6" cy="534.3" r="6.1" fill="#9dd6cd"/>
<circle cx="1113.2" cy="538.1" r="7.1" fill="#9dd6cd"/>
<circle cx="1097.7" cy="540.1" r="6.6" fill="#9dd6cd"/>
<circle cx="1082.2" cy="551.7" r="7.3" fill="#9dd6cd"/>
<circle cx="1066.7" cy="551.7" r="7.6" fill="#9dd6cd"/>
<circle cx="1055.1" cy="545.9" r="6.3" fill="#9dd6cd"/>
<circle cx="1039.7" cy="543.9" r="7.9" fill="#9dd6cd"/>
<circle cx="1026.1" cy="538.1" r="8.5" fill="#9dd6cd"/>
<circle cx="1016.4" cy="526.5" r="7.6" fill="#9dd6cd"/>
<circle cx="1012.6" cy="511.1" r="6.3" fill="#9dd6cd"/>
<circle cx="1006.8" cy="499.5" r="7.6" fill="#9dd6cd"/>
<circle cx="1001.0" cy="487.9" r="8.4" fill="#9dd6cd"/>
<circle cx="998.1" cy="468.5" r="7.4" fill="#9dd6cd"/>
<circle cx="1002.9" cy="449.2" r="7.7" fill="#9dd6cd"/>
<circle cx="1001.0" cy="429.8" r="7.2" fill="#9dd6cd"/>
<circle cx="1002.9" cy="420.2" r="7.0" fill="#9dd6cd"/>
<path d="M1009.5,416.8 C1011.6,415.4 1014.7,414.3 1018.7,414.0 C1022.7,413.7 1028.9,414.5 1033.5,414.9 C1038.2,415.4 1042.2,417.1 1046.5,416.8 C1050.8,416.5 1056.1,415.6 1059.5,413.1 C1062.8,410.6 1063.8,404.5 1066.9,402.0 C1069.9,399.5 1074.3,398.0 1078.0,398.3 C1081.7,398.6 1086.0,401.7 1089.1,403.8 C1092.2,406.0 1093.7,408.2 1096.5,411.2 C1099.3,414.3 1103.3,418.0 1105.8,422.4 C1108.2,426.7 1109.5,433.5 1111.3,437.2 C1113.2,440.9 1114.4,442.4 1116.9,444.6 C1119.3,446.7 1123.3,447.7 1126.1,450.1 C1128.9,452.6 1131.4,455.7 1133.5,459.4 C1135.7,463.1 1138.5,467.1 1139.1,472.4 C1139.7,477.6 1138.2,486.5 1137.2,490.9 C1136.3,495.2 1133.5,495.2 1133.5,498.3 C1133.5,501.4 1137.2,505.1 1137.2,509.4 C1137.2,513.7 1135.4,520.5 1133.5,524.2 C1131.7,527.9 1129.8,529.8 1126.1,531.6 C1122.4,533.5 1116.2,534.4 1111.3,535.3 C1106.4,536.2 1101.4,535.0 1096.5,537.2 C1091.6,539.3 1086.6,546.4 1081.7,548.3 C1076.7,550.1 1071.2,549.2 1066.9,548.3 C1062.5,547.4 1060.1,544.0 1055.8,542.7 C1051.4,541.5 1045.6,542.1 1040.9,540.9 C1036.3,539.6 1031.7,538.1 1028.0,535.3 C1024.3,532.5 1020.9,528.5 1018.7,524.2 C1016.6,519.9 1016.6,513.7 1015.0,509.4 C1013.5,505.1 1011.3,502.0 1009.5,498.3 C1007.6,494.6 1005.3,492.1 1003.9,487.2 C1002.5,482.2 1000.8,474.8 1001.1,468.6 C1001.4,462.5 1005.3,456.3 1005.8,450.1 C1006.2,444.0 1003.9,436.2 1003.9,431.6 C1003.9,427.0 1004.8,424.8 1005.8,422.4 C1006.7,419.9 1007.3,418.2 1009.5,416.8 Z" fill="#79c6ba"/>
<path d="M1022.9,429.0 C1024.5,427.9 1026.9,427.1 1030.1,426.8 C1033.2,426.6 1038.0,427.2 1041.6,427.6 C1045.2,427.9 1048.3,429.2 1051.7,429.0 C1055.0,428.8 1059.1,428.0 1061.8,426.1 C1064.4,424.2 1065.1,419.4 1067.5,417.5 C1069.9,415.6 1073.3,414.4 1076.2,414.6 C1079.0,414.8 1082.4,417.2 1084.8,418.9 C1087.2,420.6 1088.4,422.3 1090.6,424.7 C1092.7,427.1 1095.8,430.0 1097.8,433.3 C1099.7,436.7 1100.6,442.0 1102.1,444.9 C1103.5,447.7 1104.5,448.9 1106.4,450.6 C1108.3,452.3 1111.4,453.0 1113.6,454.9 C1115.8,456.9 1117.7,459.3 1119.4,462.1 C1121.0,465.0 1123.2,468.1 1123.7,472.2 C1124.2,476.3 1123.0,483.3 1122.2,486.6 C1121.5,490.0 1119.4,490.0 1119.4,492.4 C1119.4,494.8 1122.2,497.7 1122.2,501.0 C1122.2,504.4 1120.8,509.7 1119.4,512.5 C1117.9,515.4 1116.5,516.9 1113.6,518.3 C1110.7,519.7 1105.9,520.5 1102.1,521.2 C1098.2,521.9 1094.4,520.9 1090.6,522.6 C1086.7,524.3 1082.9,529.8 1079.0,531.3 C1075.2,532.7 1070.9,532.0 1067.5,531.3 C1064.2,530.6 1062.2,527.9 1058.9,526.9 C1055.5,526.0 1051.0,526.5 1047.3,525.5 C1043.7,524.5 1040.1,523.3 1037.3,521.2 C1034.4,519.0 1031.7,515.9 1030.1,512.5 C1028.4,509.2 1028.4,504.4 1027.2,501.0 C1026.0,497.7 1024.3,495.3 1022.9,492.4 C1021.4,489.5 1019.6,487.6 1018.5,483.7 C1017.5,479.9 1016.1,474.1 1016.4,469.3 C1016.6,464.5 1019.6,459.7 1020.0,454.9 C1020.3,450.1 1018.5,444.1 1018.5,440.5 C1018.5,436.9 1019.3,435.2 1020.0,433.3 C1020.7,431.4 1021.2,430.1 1022.9,429.0 Z" fill="#66bcaf" opacity="0.85"/>
<path class="k" stroke="#3b8d82" stroke-width="6.8" d="M1035.0,450.0 C1034.2,455.0 1030.5,468.3 1030.0,480.0 C1029.5,491.7 1030.3,509.2 1032.0,520.0 C1033.7,530.8 1038.7,540.8 1040.0,545.0"/>
<path class="k" stroke="#56b0a4" stroke-width="6" d="M1035.0,450.0 C1034.2,455.0 1030.5,468.3 1030.0,480.0 C1029.5,491.7 1030.3,509.2 1032.0,520.0 C1033.7,530.8 1038.7,540.8 1040.0,545.0"/>
<path class="k" stroke="#3b8d82" stroke-width="6.8" d="M1060.0,470.0 C1059.7,475.0 1057.7,488.3 1058.0,500.0 C1058.3,511.7 1061.3,533.3 1062.0,540.0"/>
<path class="k" stroke="#56b0a4" stroke-width="6" d="M1060.0,470.0 C1059.7,475.0 1057.7,488.3 1058.0,500.0 C1058.3,511.7 1061.3,533.3 1062.0,540.0"/>
<path class="k" stroke="#3b8d82" stroke-width="6.8" d="M1090.0,470.0 C1089.2,475.0 1087.5,488.3 1085.0,500.0 C1082.5,511.7 1076.7,533.3 1075.0,540.0"/>
<path class="k" stroke="#56b0a4" stroke-width="6" d="M1090.0,470.0 C1089.2,475.0 1087.5,488.3 1085.0,500.0 C1082.5,511.7 1076.7,533.3 1075.0,540.0"/>
<path class="k" stroke="#3b8d82" stroke-width="6.8" d="M1105.0,480.0 C1103.3,485.8 1097.8,504.2 1095.0,515.0 C1092.2,525.8 1089.2,540.0 1088.0,545.0"/>
<path class="k" stroke="#56b0a4" stroke-width="6" d="M1105.0,480.0 C1103.3,485.8 1097.8,504.2 1095.0,515.0 C1092.2,525.8 1089.2,540.0 1088.0,545.0"/>
<path class="k" stroke="#3b8d82" stroke-width="6.8" d="M1010.0,440.0 C1015.0,438.3 1029.2,430.0 1040.0,430.0 C1050.8,430.0 1065.0,436.7 1075.0,440.0 C1085.0,443.3 1095.8,448.3 1100.0,450.0"/>
<path class="k" stroke="#56b0a4" stroke-width="6" d="M1010.0,440.0 C1015.0,438.3 1029.2,430.0 1040.0,430.0 C1050.8,430.0 1065.0,436.7 1075.0,440.0 C1085.0,443.3 1095.8,448.3 1100.0,450.0"/>
<path class="k" stroke="#35887d" stroke-width="1.9" d="M1059.8 420.8l3 5.4l-.9 2.1m.9 -2.1l3.4 .6M1033.9 427.3l-6.1 -2.3l-1.1 -3.5m1.1 3.5l-2.8 1.7M1111.9 504.4l5.1 -4.6l3.2 .5m-3.2 -.5l-.1 -2.4M1062.5 432l-6.1 2.3l-2.8 -1.7m2.8 1.7l-1.2 3.6M1130.3 505.3l6.1 -.9l2.6 2.4m-2.6 -2.4l1.4 -2.4M1059.4 530.4l-.5 -5.7l1.6 -1.5m-1.6 1.5l-2 -1.3"/>
<path class="k" stroke="#46a195" stroke-width="1.3" d="M1059.8 420.8l3 5.4l-.9 2.1m.9 -2.1l3.4 .6M1033.9 427.3l-6.1 -2.3l-1.1 -3.5m1.1 3.5l-2.8 1.7M1111.9 504.4l5.1 -4.6l3.2 .5m-3.2 -.5l-.1 -2.4M1062.5 432l-6.1 2.3l-2.8 -1.7m2.8 1.7l-1.2 3.6M1130.3 505.3l6.1 -.9l2.6 2.4m-2.6 -2.4l1.4 -2.4M1059.4 530.4l-.5 -5.7l1.6 -1.5m-1.6 1.5l-2 -1.3"/>
<path class="k" stroke="#35887d" stroke-width="1.9" d="M1030.7 531.8l2.3 -5.9l2.9 -.9m-2.9 .9l-1.6 -2.8M1054.6 521.5l-4.8 .2l-1.6 -1.8m1.6 1.8l-1.1 1.5M1077.5 481.9l-3.1 6.9l-3.1 .8m3.1 -.8l1.9 3.6M1024.6 514.2l6.1 3.8l.4 3.6m-.4 -3.6l2.4 -.9M1077.2 523.3l3.2 3.5l-.3 2m.3 -2l1.8 -.1M1068.2 416.9l.2 -6.8l2.3 -1.8m-2.3 1.8l-2.6 -2.1"/>
<path class="k" stroke="#46a195" stroke-width="1.3" d="M1030.7 531.8l2.3 -5.9l2.9 -.9m-2.9 .9l-1.6 -2.8M1054.6 521.5l-4.8 .2l-1.6 -1.8m1.6 1.8l-1.1 1.5M1077.5 481.9l-3.1 6.9l-3.1 .8m3.1 -.8l1.9 3.6M1024.6 514.2l6.1 3.8l.4 3.6m-.4 -3.6l2.4 -.9M1077.2 523.3l3.2 3.5l-.3 2m.3 -2l1.8 -.1M1068.2 416.9l.2 -6.8l2.3 -1.8m-2.3 1.8l-2.6 -2.1"/>
<path class="k" stroke="#35887d" stroke-width="1.9" d="M1087.5 494.9l-3.3 -3.7l.5 -2.6m-.5 2.6l-2.4 .1M1081.2 467.5l-6.8 1.6l-2 -1.5m2 1.5l-1.5 3.3M1027.1 531.6l-1.8 4.9l-2.2 .7m2.2 -.7l1 1.6M1009.4 422.5l.7 -5.2l2.1 -1.3m-2.1 1.3l-2 -2.1M1106 535.8l-1.2 5.7l-3 1.5m3 -1.5l1.7 2.1M1125.6 451.4l1.5 5l-1.1 1.6m1.1 -1.6l2.7 1"/>
<path class="k" stroke="#46a195" stroke-width="1.3" d="M1087.5 494.9l-3.3 -3.7l.5 -2.6m-.5 2.6l-2.4 .1M1081.2 467.5l-6.8 1.6l-2 -1.5m2 1.5l-1.5 3.3M1027.1 531.6l-1.8 4.9l-2.2 .7m2.2 -.7l1 1.6M1009.4 422.5l.7 -5.2l2.1 -1.3m-2.1 1.3l-2 -2.1M1106 535.8l-1.2 5.7l-3 1.5m3 -1.5l1.7 2.1M1125.6 451.4l1.5 5l-1.1 1.6m1.1 -1.6l2.7 1"/>
<path class="k" stroke="#35887d" stroke-width="1.9" d="M1112.1 490.5l-4.5 0l-1.4 -1.8m1.4 1.8l-1.2 1.5M1035.6 441.8l.9 -7.6l3.8 -2.4m-3.8 2.4l-2.7 -2.7M1059.1 508.5l-6.1 1.9l-3 -2.1m3 2.1l-1.2 3M1082.5 418.2l7.4 -1.3l2.5 2.2m-2.5 -2.2l1.9 -3.5M1059.1 509.8l-7.6 2.2l-3.3 -2.4m3.3 2.4l-1.4 3.4M1068.7 507l-4.7 -2.1l-.6 -2.4m.6 2.4l-2.6 1.4"/>
<path class="k" stroke="#46a195" stroke-width="1.3" d="M1112.1 490.5l-4.5 0l-1.4 -1.8m1.4 1.8l-1.2 1.5M1035.6 441.8l.9 -7.6l3.8 -2.4m-3.8 2.4l-2.7 -2.7M1059.1 508.5l-6.1 1.9l-3 -2.1m3 2.1l-1.2 3M1082.5 418.2l7.4 -1.3l2.5 2.2m-2.5 -2.2l1.9 -3.5M1059.1 509.8l-7.6 2.2l-3.3 -2.4m3.3 2.4l-1.4 3.4M1068.7 507l-4.7 -2.1l-.6 -2.4m.6 2.4l-2.6 1.4"/>
<path class="k" stroke="#35887d" stroke-width="1.9" d="M1131.1 488.4l-3.9 .8l-1.1 -1m1.1 1l-1.1 2.1M1083.7 436l-3.6 -3l0 -1.8m0 1.8l-2.4 .5M1059.1 414.9l-4.2 -5.4l.8 -3.3m-.8 3.3l-2.7 0M1068.8 518.4l3.3 6.6l-1.6 3.6m1.6 -3.6l2.7 .5M1062.7 505.1l-5.7 4l-3.9 -1.2m3.9 1.2l-.2 3M1006.4 480.9l-1.6 -4.7l1.5 -2.4m-1.5 2.4l-2 -.7"/>
<path class="k" stroke="#46a195" stroke-width="1.3" d="M1131.1 488.4l-3.9 .8l-1.1 -1m1.1 1l-1.1 2.1M1083.7 436l-3.6 -3l0 -1.8m0 1.8l-2.4 .5M1059.1 414.9l-4.2 -5.4l.8 -3.3m-.8 3.3l-2.7 0M1068.8 518.4l3.3 6.6l-1.6 3.6m1.6 -3.6l2.7 .5M1062.7 505.1l-5.7 4l-3.9 -1.2m3.9 1.2l-.2 3M1006.4 480.9l-1.6 -4.7l1.5 -2.4m-1.5 2.4l-2 -.7"/>
<path class="k" stroke="#35887d" stroke-width="1.9" d="M1124.7 508.2l2.2 -7.2l3.9 -1.6m-3.9 1.6l-1.5 -2.2M1098.7 477.3l2.4 -4.7l2.2 -.4m-2.2 .4l-.9 -1.9M1101 513.9l-3.5 4l-2.2 -.1m2.2 .1l.4 2.2M1073.7 520l6.5 -3.2l3.1 1.5m-3.1 -1.5l.7 -3.2M1006.9 451.2l5 3.9l0 3m0 -3l2.9 -.7M1022.5 479.6l-2.5 7.2l-3.9 1.4m3.9 -1.4l1.6 2.5"/>
<path class="k" stroke="#46a195" stroke-width="1.3" d="M1124.7 508.2l2.2 -7.2l3.9 -1.6m-3.9 1.6l-1.5 -2.2M1098.7 477.3l2.4 -4.7l2.2 -.4m-2.2 .4l-.9 -1.9M1101 513.9l-3.5 4l-2.2 -.1m2.2 .1l.4 2.2M1073.7 520l6.5 -3.2l3.1 1.5m-3.1 -1.5l.7 -3.2M1006.9 451.2l5 3.9l0 3m0 -3l2.9 -.7M1022.5 479.6l-2.5 7.2l-3.9 1.4m3.9 -1.4l1.6 2.5"/>
<path class="k" stroke="#35887d" stroke-width="1.9" d="M1054.2 430.7l-2.6 5.5l-2.9 .7m2.9 -.7l1.2 2.4M1084.1 453.9l3.3 -6l2.5 -.4m-2.5 .4l-1 -2.3M1043.1 523.7l6.4 4.5l.2 3.8m-.2 -3.8l3.8 -1.1M1136.2 466.6l-1.7 -5.5l1.3 -1.8m-1.3 1.8l-2 -.8M1031.2 535l-4.6 -5.5l.6 -2.8m-.6 2.8l-3.5 .1M1096.8 522.8l6 1.9l.9 2.2m-.9 -2.2l1.8 -1.2"/>
<path class="k" stroke="#46a195" stroke-width="1.3" d="M1054.2 430.7l-2.6 5.5l-2.9 .7m2.9 -.7l1.2 2.4M1084.1 453.9l3.3 -6l2.5 -.4m-2.5 .4l-1 -2.3M1043.1 523.7l6.4 4.5l.2 3.8m-.2 -3.8l3.8 -1.1M1136.2 466.6l-1.7 -5.5l1.3 -1.8m-1.3 1.8l-2 -.8M1031.2 535l-4.6 -5.5l.6 -2.8m-.6 2.8l-3.5 .1M1096.8 522.8l6 1.9l.9 2.2m-.9 -2.2l1.8 -1.2"/>
<path class="k" stroke="#35887d" stroke-width="1.9" d="M1066.7 525.9l1.5 4.2l-1 1.6m1 -1.6l1.7 .6M1116.9 474.6l6.8 3.8l.6 3.8m-.6 -3.8l3.3 -1.4M1036.2 532l3.9 -6.2l2.7 -.3m-2.7 .3l-1.4 -4M1111.7 449.1l-4.3 6.3l-4.3 .3m4.3 -.3l1.1 3.5M1066.7 501.3l-1.1 -5.4l1.6 -1.9m-1.6 1.9l-2.5 -1.2M1074.6 408.3l3.9 3.9l-.2 2m.2 -2l1.9 -.2"/>
<path class="k" stroke="#46a195" stroke-width="1.3" d="M1066.7 525.9l1.5 4.2l-1 1.6m1 -1.6l1.7 .6M1116.9 474.6l6.8 3.8l.6 3.8m-.6 -3.8l3.3 -1.4M1036.2 532l3.9 -6.2l2.7 -.3m-2.7 .3l-1.4 -4M1111.7 449.1l-4.3 6.3l-4.3 .3m4.3 -.3l1.1 3.5M1066.7 501.3l-1.1 -5.4l1.6 -1.9m-1.6 1.9l-2.5 -1.2M1074.6 408.3l3.9 3.9l-.2 2m.2 -2l1.9 -.2"/>
<path class="k" stroke="#35887d" stroke-width="1.9" d="M1098.9 441l4.1 -2.6l2.5 .8m-2.5 -.8l.2 -1.9M1117.7 527.9l-4.7 -.3l-1.1 -1.6m1.1 1.6l-1.1 1.3M1012.8 502.6l-4.8 2.6l-2.9 -1.2m2.9 1.2l-.5 2.8M1043.9 495.1l5.1 6l-.7 3.3m.7 -3.3l3.3 -.1M1017.5 495.9l-4.9 0l-1.2 -1.6m1.2 1.6l-1.1 1.4M1074.1 535.2l-2.9 4.9l-3.4 .5m3.4 -.5l1.1 2.8"/>
<path class="k" stroke="#46a195" stroke-width="1.3" d="M1098.9 441l4.1 -2.6l2.5 .8m-2.5 -.8l.2 -1.9M1117.7 527.9l-4.7 -.3l-1.1 -1.6m1.1 1.6l-1.1 1.3M1012.8 502.6l-4.8 2.6l-2.9 -1.2m2.9 1.2l-.5 2.8M1043.9 495.1l5.1 6l-.7 3.3m.7 -3.3l3.3 -.1M1017.5 495.9l-4.9 0l-1.2 -1.6m1.2 1.6l-1.1 1.4M1074.1 535.2l-2.9 4.9l-3.4 .5m3.4 -.5l1.1 2.8"/>
<path class="k" stroke="#35887d" stroke-width="1.9" d="M1012.9 458.6l-6.1 -.9l-1.5 -2.6m1.5 2.6l-2.4 2.3M1067.5 510.7l7.3 .1l1.6 2.1m-1.6 -2.1l2.2 -2.8M1045.6 518.5l2.1 -5.4l2.7 -.8m-2.7 .8l-1.1 -1.8M1103.2 464.4l-5.2 -1.8l-1 -3m1 3l-1.8 1.1M1099.3 456.8l-4.5 -3.7l0 -2.3m0 2.3l-2.5 .5M1073.9 459.1l4.4 4.6l-.3 2.5m.3 -2.5l3.7 -.4"/>
<path class="k" stroke="#46a195" stroke-width="1.3" d="M1012.9 458.6l-6.1 -.9l-1.5 -2.6m1.5 2.6l-2.4 2.3M1067.5 510.7l7.3 .1l1.6 2.1m-1.6 -2.1l2.2 -2.8M1045.6 518.5l2.1 -5.4l2.7 -.8m-2.7 .8l-1.1 -1.8M1103.2 464.4l-5.2 -1.8l-1 -3m1 3l-1.8 1.1M1099.3 456.8l-4.5 -3.7l0 -2.3m0 2.3l-2.5 .5M1073.9 459.1l4.4 4.6l-.3 2.5m.3 -2.5l3.7 -.4"/>
<path class="k" stroke="#35887d" stroke-width="1.9" d="M1107.9 513.5l6 -1.1l2.5 2.1m-2.5 -2.1l1.7 -3.2M1127.6 455.8l-.7 5.2l-2.7 1.6m2.7 -1.6l2.1 2.1M1043.9 520.5l-.3 4.3l-1.9 1.3m1.9 -1.3l1.2 1.1M1078.1 428.6l-.9 -6.2l2 -2.1m-2 2.1l-2.6 -1.5M1065.1 408l.3 4.8l-2.1 1.9m2.1 -1.9l2.2 1.5M1068.4 540.9l-3.1 7.2l-2.9 .8m2.9 -.8l1.4 2.7"/>
<path class="k" stroke="#46a195" stroke-width="1.3" d="M1107.9 513.5l6 -1.1l2.5 2.1m-2.5 -2.1l1.7 -3.2M1127.6 455.8l-.7 5.2l-2.7 1.6m2.7 -1.6l2.1 2.1M1043.9 520.5l-.3 4.3l-1.9 1.3m1.9 -1.3l1.2 1.1M1078.1 428.6l-.9 -6.2l2 -2.1m-2 2.1l-2.6 -1.5M1065.1 408l.3 4.8l-2.1 1.9m2.1 -1.9l2.2 1.5M1068.4 540.9l-3.1 7.2l-2.9 .8m2.9 -.8l1.4 2.7"/>
<path class="k" stroke="#35887d" stroke-width="1.9" d="M1017.8 430l-.5 5.4l-1.7 1.1m1.7 -1.1l1.9 1.8M1073.9 484.3l-5.4 5l-3.3 -.5m3.3 .5l.3 3.3M1080 541.7l-5.2 4.2l-3 -.7m3 .7l0 3.5M1075 465l1.7 5l-1.5 2.3m1.5 -2.3l1.9 .7M1041.2 488.3l-7 .2l-2.3 -2.8m2.3 2.8l-2 2.7M1072.9 493.2l-6 -1.5l-1 -2.3m1 2.3l-2.2 1.7"/>
<path class="k" stroke="#46a195" stroke-width="1.3" d="M1017.8 430l-.5 5.4l-1.7 1.1m1.7 -1.1l1.9 1.8M1073.9 484.3l-5.4 5l-3.3 -.5m3.3 .5l.3 3.3M1080 541.7l-5.2 4.2l-3 -.7m3 .7l0 3.5M1075 465l1.7 5l-1.5 2.3m1.5 -2.3l1.9 .7M1041.2 488.3l-7 .2l-2.3 -2.8m2.3 2.8l-2 2.7M1072.9 493.2l-6 -1.5l-1 -2.3m1 2.3l-2.2 1.7"/>
<path class="k" stroke="#35887d" stroke-width="1.9" d="M1094.4 532.2l-3.3 -2.3l-.1 -2m.1 2l-2.3 .7M1099.5 476.3l-1.5 5.6l-2.8 1.2m2.8 -1.2l1.6 2.2M1002.8 473.4l.7 -4.5l1.8 -1m-1.8 1l-1.5 -1.7M1034.1 506.3l-4.1 -5.8l.8 -2.8m-.8 2.8l-2.6 -.2M1134.2 471.6l3.1 -5.7l2.4 -.4m-2.4 .4l-1.2 -2.8M1107.3 457l.3 -4.4l1.4 -1m-1.4 1l-1.5 -1.4"/>
<path class="k" stroke="#46a195" stroke-width="1.3" d="M1094.4 532.2l-3.3 -2.3l-.1 -2m.1 2l-2.3 .7M1099.5 476.3l-1.5 5.6l-2.8 1.2m2.8 -1.2l1.6 2.2M1002.8 473.4l.7 -4.5l1.8 -1m-1.8 1l-1.5 -1.7M1034.1 506.3l-4.1 -5.8l.8 -2.8m-.8 2.8l-2.6 -.2M1134.2 471.6l3.1 -5.7l2.4 -.4m-2.4 .4l-1.2 -2.8M1107.3 457l.3 -4.4l1.4 -1m-1.4 1l-1.5 -1.4"/>
<path class="k" stroke="#35887d" stroke-width="1.9" d="M1069 542.2l-6.4 -1.5l-1.2 -2.5m1.2 2.5l-2.3 1.8M1058.5 474.7l5.1 2.1l.6 1.9m-.6 -1.9l1.7 -1M1128.6 455.8l-2 4.9l-2.5 .7m2.5 -.7l1 1.8M1029.1 509.5l-1.4 -4.6l1.6 -2.3m-1.6 2.3l-1.7 -.7M1107.7 443.1l-2.3 -5.3l1.3 -2.4m-1.3 2.4l-3.1 -.8M1130.5 484.1l.2 7.9l-2.2 1.9m2.2 -1.9l2.8 2.1"/>
<path class="k" stroke="#46a195" stroke-width="1.3" d="M1069 542.2l-6.4 -1.5l-1.2 -2.5m1.2 2.5l-2.3 1.8M1058.5 474.7l5.1 2.1l.6 1.9m-.6 -1.9l1.7 -1M1128.6 455.8l-2 4.9l-2.5 .7m2.5 -.7l1 1.8M1029.1 509.5l-1.4 -4.6l1.6 -2.3m-1.6 2.3l-1.7 -.7M1107.7 443.1l-2.3 -5.3l1.3 -2.4m-1.3 2.4l-3.1 -.8M1130.5 484.1l.2 7.9l-2.2 1.9m2.2 -1.9l2.8 2.1"/>
<path class="k" stroke="#35887d" stroke-width="1.9" d="M1056.6 538l7.5 -.9l3.2 3.2m-3.2 -3.2l1.9 -3.1M1106.7 452.5l-4.4 -4.7l.3 -2.3m-.3 2.3l-3.8 .3M1075.8 442.7l-1.9 -3.8l.7 -1.6m-.7 1.6l-2.1 -.4M1036.8 517.5l-4.3 -3.7l.1 -2.8m-.1 2.8l-3.1 .6M1098.9 427.8l2.5 -6.3l3.7 -1.1m-3.7 1.1l-1.7 -2.9M1060.2 517.4l3.4 -3.1l2.6 .4m-2.6 -.4l-.1 -1.6"/>
<path class="k" stroke="#46a195" stroke-width="1.3" d="M1056.6 538l7.5 -.9l3.2 3.2m-3.2 -3.2l1.9 -3.1M1106.7 452.5l-4.4 -4.7l.3 -2.3m-.3 2.3l-3.8 .3M1075.8 442.7l-1.9 -3.8l.7 -1.6m-.7 1.6l-2.1 -.4M1036.8 517.5l-4.3 -3.7l.1 -2.8m-.1 2.8l-3.1 .6M1098.9 427.8l2.5 -6.3l3.7 -1.1m-3.7 1.1l-1.7 -2.9M1060.2 517.4l3.4 -3.1l2.6 .4m-2.6 -.4l-.1 -1.6"/>
<path class="k" stroke="#35887d" stroke-width="1.9" d="M1050.7 453.9l-4.1 -.8l-.7 -1.4m.7 1.4l-1.2 1M1064.6 413.6l-5.2 2.4l-2.2 -1.1m2.2 1.1l-.7 3M1021.2 416l-6.5 -3.9l-.5 -4.1m.5 4.1l-3.7 1.4M1098.1 442.6l4.5 1.8l.6 2m-.6 -2l2.1 -1.2M1071 457.3l.8 6.4l-2.3 2.4m2.3 -2.4l2.3 1.4M1102.9 532.5l-.9 5.9l-3.1 1.7m3.1 -1.7l2.2 2.4"/>
<path class="k" stroke="#46a195" stroke-width="1.3" d="M1050.7 453.9l-4.1 -.8l-.7 -1.4m.7 1.4l-1.2 1M1064.6 413.6l-5.2 2.4l-2.2 -1.1m2.2 1.1l-.7 3M1021.2 416l-6.5 -3.9l-.5 -4.1m.5 4.1l-3.7 1.4M1098.1 442.6l4.5 1.8l.6 2m-.6 -2l2.1 -1.2M1071 457.3l.8 6.4l-2.3 2.4m2.3 -2.4l2.3 1.4M1102.9 532.5l-.9 5.9l-3.1 1.7m3.1 -1.7l2.2 2.4"/>
<path class="k" stroke="#35887d" stroke-width="1.9" d="M1123.6 474l2.9 -4.6l2.6 -.3m-2.6 .3l-.6 -1.8M1007.4 435.4l-.1 -4.9l1.7 -1.5m-1.7 1.5l-1.9 -1.5M1013.7 492.8l-1.3 -6.1l1.8 -2.2m-1.8 2.2l-2 -1M1070 532.1l2.7 5.7l-1 2.1m1 -2.1l2.3 .5M1032.9 458.4l3.5 2.7l0 1.8m0 -1.8l2.2 -.5M1034 440l6.5 2.1l1.3 3.6m-1.3 -3.6l2.7 -1.8"/>
<path class="k" stroke="#46a195" stroke-width="1.3" d="M1123.6 474l2.9 -4.6l2.6 -.3m-2.6 .3l-.6 -1.8M1007.4 435.4l-.1 -4.9l1.7 -1.5m-1.7 1.5l-1.9 -1.5M1013.7 492.8l-1.3 -6.1l1.8 -2.2m-1.8 2.2l-2 -1M1070 532.1l2.7 5.7l-1 2.1m1 -2.1l2.3 .5M1032.9 458.4l3.5 2.7l0 1.8m0 -1.8l2.2 -.5M1034 440l6.5 2.1l1.3 3.6m-1.3 -3.6l2.7 -1.8"/>
<path class="k" stroke="#35887d" stroke-width="1.9" d="M1089.5 494.4l-7.9 0l-2.6 -3.3m2.6 3.3l-1.7 2.2M1069.9 474.1l.7 -4.8l1.9 -1.1m-1.9 1.1l-1.8 -1.9M1081.5 412.5l-2.6 6.7l-3.6 1.1m3.6 -1.1l1.3 2.2M1078.2 461l5 -1.4l1.9 1.4m-1.9 -1.4l1.2 -2.8M1089.3 418.5l1.7 -7.3l3.9 -1.8m-3.9 1.8l-2.5 -3.1M1048.5 520.9l3.6 -5.6l2.6 -.3m-2.6 .3l-1.3 -3.8"/>
<path class="k" stroke="#46a195" stroke-width="1.3" d="M1089.5 494.4l-7.9 0l-2.6 -3.3m2.6 3.3l-1.7 2.2M1069.9 474.1l.7 -4.8l1.9 -1.1m-1.9 1.1l-1.8 -1.9M1081.5 412.5l-2.6 6.7l-3.6 1.1m3.6 -1.1l1.3 2.2M1078.2 461l5 -1.4l1.9 1.4m-1.9 -1.4l1.2 -2.8M1089.3 418.5l1.7 -7.3l3.9 -1.8m-3.9 1.8l-2.5 -3.1M1048.5 520.9l3.6 -5.6l2.6 -.3m-2.6 .3l-1.3 -3.8"/>
<path class="k" stroke="#35887d" stroke-width="1.9" d="M1090.8 508.8l2.9 -5.3l3.5 -.6m-3.5 .6l-1.3 -3.1M1108.3 514.7l-5.4 3.1l-2.3 -.9m2.3 .9l-.5 3.3M1076.8 505.5l2.3 4.2l-1.1 2.6m1.1 -2.6l2.4 .4M1050.7 489.8l7.5 1.7l1.9 4m-1.9 -4l3.4 -2.8M1007.1 426.6l6.5 -1.4l3.1 2.5m-3.1 -2.5l1.4 -2.9M1043 441.3l.3 4.1l-1.8 1.6m1.8 -1.6l2 1.4"/>
<path class="k" stroke="#46a195" stroke-width="1.3" d="M1090.8 508.8l2.9 -5.3l3.5 -.6m-3.5 .6l-1.3 -3.1M1108.3 514.7l-5.4 3.1l-2.3 -.9m2.3 .9l-.5 3.3M1076.8 505.5l2.3 4.2l-1.1 2.6m1.1 -2.6l2.4 .4M1050.7 489.8l7.5 1.7l1.9 4m-1.9 -4l3.4 -2.8M1007.1 426.6l6.5 -1.4l3.1 2.5m-3.1 -2.5l1.4 -2.9M1043 441.3l.3 4.1l-1.8 1.6m1.8 -1.6l2 1.4"/>
<path class="k" stroke="#35887d" stroke-width="1.9" d="M1087 451.8l4.1 4.7l-.5 2.6m.5 -2.6l2.9 -.1M1033.1 457.3l1.2 4.8l-1.2 1.6m1.2 -1.6l2.7 1.2M1032.3 445.5l-5.5 3.2l-2.9 -1.2m2.9 1.2l-.4 3M1074.9 498.7l-6.8 -2.2l-1.1 -3m1.1 3l-2.4 1.6M1123 501.3l5.8 -1.6l2.1 1.5m-2.1 -1.5l1.1 -2.5M1100.6 458.4l5.1 -.6l2.1 2.1m-2.1 -2.1l1.3 -2.1"/>
<path class="k" stroke="#46a195" stroke-width="1.3" d="M1087 451.8l4.1 4.7l-.5 2.6m.5 -2.6l2.9 -.1M1033.1 457.3l1.2 4.8l-1.2 1.6m1.2 -1.6l2.7 1.2M1032.3 445.5l-5.5 3.2l-2.9 -1.2m2.9 1.2l-.4 3M1074.9 498.7l-6.8 -2.2l-1.1 -3m1.1 3l-2.4 1.6M1123 501.3l5.8 -1.6l2.1 1.5m-2.1 -1.5l1.1 -2.5M1100.6 458.4l5.1 -.6l2.1 2.1m-2.1 -2.1l1.3 -2.1"/>
<path class="k" stroke="#35887d" stroke-width="1.9" d="M1019.4 450.3l6.1 1.1l1.1 2.1m-1.1 -2.1l2.3 -2M1031.5 464.1l3.1 5.5l-.9 2.3m.9 -2.3l2.8 .5M1121.2 453.8l1.5 5.7l-1.6 2.1m1.6 -2.1l2.1 .9M1057 448.1l-4.9 5l-2.6 -.3m2.6 .3l.3 2.6M1120.8 493.6l-3.9 5.3l-3.8 .1m3.8 -.1l.9 3.4M1101.8 421l-7 3.6l-3 -1.4m3 1.4l-.6 2.9"/>
<path class="k" stroke="#46a195" stroke-width="1.3" d="M1019.4 450.3l6.1 1.1l1.1 2.1m-1.1 -2.1l2.3 -2M1031.5 464.1l3.1 5.5l-.9 2.3m.9 -2.3l2.8 .5M1121.2 453.8l1.5 5.7l-1.6 2.1m1.6 -2.1l2.1 .9M1057 448.1l-4.9 5l-2.6 -.3m2.6 .3l.3 2.6M1120.8 493.6l-3.9 5.3l-3.8 .1m3.8 -.1l.9 3.4M1101.8 421l-7 3.6l-3 -1.4m3 1.4l-.6 2.9"/>
<path class="k" stroke="#35887d" stroke-width="1.9" d="M1106.8 517l.8 4.9l-1.7 1.9m1.7 -1.9l1.9 1M1088.8 457.1l5.6 .7l1.6 2.6m-1.6 -2.6l1.8 -1.7M1119.9 512l-2.6 3.1l-2.3 0m2.3 0l.5 2.2M1108.2 482.2l-3.2 -4.6l.6 -2.1m-.6 2.1l-3.1 -.2M1045.9 442.3l5.3 -1.6l1.9 1.3m-1.9 -1.3l1 -2.5M1052.2 425.8l2.4 6.9l-1.8 2.8m1.8 -2.8l2.9 1"/>
<path class="k" stroke="#46a195" stroke-width="1.3" d="M1106.8 517l.8 4.9l-1.7 1.9m1.7 -1.9l1.9 1M1088.8 457.1l5.6 .7l1.6 2.6m-1.6 -2.6l1.8 -1.7M1119.9 512l-2.6 3.1l-2.3 0m2.3 0l.5 2.2M1108.2 482.2l-3.2 -4.6l.6 -2.1m-.6 2.1l-3.1 -.2M1045.9 442.3l5.3 -1.6l1.9 1.3m-1.9 -1.3l1 -2.5M1052.2 425.8l2.4 6.9l-1.8 2.8m1.8 -2.8l2.9 1"/>
<path class="k" stroke="#35887d" stroke-width="1.9" d="M1048.8 508.8l-2.3 4.6l-2 .4m2 -.4l.8 1.7M1059.8 455.6l3.8 -5.3l2.9 -.1m-2.9 .1l-.7 -2.3M1026.7 479.3l4 -2.1l1.9 .9m-1.9 -.9l.4 -2.3M1007.7 445.3l-.6 -7.8l2.1 -2m-2.1 2l-2.3 -1.5M1043.2 462.6l3.1 7.1l-1.6 3m1.6 -3l4 1.1M1075.2 459.4l-4.9 6.1l-4 0m4 0l1 4.3"/>
<path class="k" stroke="#46a195" stroke-width="1.3" d="M1048.8 508.8l-2.3 4.6l-2 .4m2 -.4l.8 1.7M1059.8 455.6l3.8 -5.3l2.9 -.1m-2.9 .1l-.7 -2.3M1026.7 479.3l4 -2.1l1.9 .9m-1.9 -.9l.4 -2.3M1007.7 445.3l-.6 -7.8l2.1 -2m-2.1 2l-2.3 -1.5M1043.2 462.6l3.1 7.1l-1.6 3m1.6 -3l4 1.1M1075.2 459.4l-4.9 6.1l-4 0m4 0l1 4.3"/>
<path class="k" stroke="#35887d" stroke-width="1.9" d="M1022.1 474.4l.3 5.4l-2.3 2.1m2.3 -2.1l2.2 1.5M1132.1 487.7l4 -1.4l2.1 1.4m-2.1 -1.4l.6 -1.6M1030.8 502.3l-2.7 7.1l-2.8 .9m2.8 -.9l1.7 3M1110.4 480.1l.2 4.4l-1.9 1.7m1.9 -1.7l1.3 .9M1110.8 493.8l5 3.4l.3 3.5m-.3 -3.5l3 -.9M1032.9 472.3l-1.1 6.2l-2.5 1.3m2.5 -1.3l2.3 2.6"/>
<path class="k" stroke="#46a195" stroke-width="1.3" d="M1022.1 474.4l.3 5.4l-2.3 2.1m2.3 -2.1l2.2 1.5M1132.1 487.7l4 -1.4l2.1 1.4m-2.1 -1.4l.6 -1.6M1030.8 502.3l-2.7 7.1l-2.8 .9m2.8 -.9l1.7 3M1110.4 480.1l.2 4.4l-1.9 1.7m1.9 -1.7l1.3 .9M1110.8 493.8l5 3.4l.3 3.5m-.3 -3.5l3 -.9M1032.9 472.3l-1.1 6.2l-2.5 1.3m2.5 -1.3l2.3 2.6"/>
<path class="k" stroke="#35887d" stroke-width="1.9" d="M1060 512.2l3.3 -5l2.4 -.2m-2.4 .2l-.9 -2.7M1029.8 499.7l5.4 3.8l.2 2.9m-.2 -2.9l3.6 -1.1M1019.3 453.6l4.5 4.2l-.3 3.6m.3 -3.6l2.5 -.4M1100.6 495.5l4.5 -1.7l2.1 1.2m-2.1 -1.2l.7 -2.3M1085.3 526.1l4.5 -2.3l2.1 .9m-2.1 -.9l.4 -2.2M1116.6 524.7l.4 4.7l-1.5 1.4m1.5 -1.4l1.5 1"/>
<path class="k" stroke="#46a195" stroke-width="1.3" d="M1060 512.2l3.3 -5l2.4 -.2m-2.4 .2l-.9 -2.7M1029.8 499.7l5.4 3.8l.2 2.9m-.2 -2.9l3.6 -1.1M1019.3 453.6l4.5 4.2l-.3 3.6m.3 -3.6l2.5 -.4M1100.6 495.5l4.5 -1.7l2.1 1.2m-2.1 -1.2l.7 -2.3M1085.3 526.1l4.5 -2.3l2.1 .9m-2.1 -.9l.4 -2.2M1116.6 524.7l.4 4.7l-1.5 1.4m1.5 -1.4l1.5 1"/>
<path class="k" stroke="#35887d" stroke-width="1.9" d="M1071.6 467.4l4.7 -3.3l2.5 .7m-2.5 -.7l.1 -2.1M1010.2 441l-3 -3.3l.3 -1.7m-.3 1.7l-2.2 .2M1041.3 448.4l-3 3.8l-2.8 0m2.8 0l.4 1.8M1065.2 496.7l3.3 5.5l-1.2 3.4m1.2 -3.4l3 .4M1127.3 488.7l1.2 4.6l-1.6 2.1m1.6 -2.1l2.3 1M1024.8 525.1l-4.2 -6.1l1 -3.2m-1 3.2l-2.8 -.2"/>
<path class="k" stroke="#46a195" stroke-width="1.3" d="M1071.6 467.4l4.7 -3.3l2.5 .7m-2.5 -.7l.1 -2.1M1010.2 441l-3 -3.3l.3 -1.7m-.3 1.7l-2.2 .2M1041.3 448.4l-3 3.8l-2.8 0m2.8 0l.4 1.8M1065.2 496.7l3.3 5.5l-1.2 3.4m1.2 -3.4l3 .4M1127.3 488.7l1.2 4.6l-1.6 2.1m1.6 -2.1l2.3 1M1024.8 525.1l-4.2 -6.1l1 -3.2m-1 3.2l-2.8 -.2"/>
<path class="k" stroke="#35887d" stroke-width="1.9" d="M1071.6 534.3l6.2 -4l3.7 1.2m-3.7 -1.2l.4 -3.9M1083.9 467.8l3.6 -4.2l3 .1m-3 -.1l-.4 -1.9M1030.6 481.4l4.8 -4.7l3.9 .5m-3.9 -.5l-.4 -3.4M1102.7 472.2l.6 -4.8l1.7 -1m-1.7 1l-1.2 -1.2M1093.1 480l4.1 4.2l-.4 2.7m.4 -2.7l3.2 -.3M1107.5 471.2l3.1 -4.4l2.2 -.1m-2.2 .1l-.7 -2.2"/>
<path class="k" stroke="#46a195" stroke-width="1.3" d="M1071.6 534.3l6.2 -4l3.7 1.2m-3.7 -1.2l.4 -3.9M1083.9 467.8l3.6 -4.2l3 .1m-3 -.1l-.4 -1.9M1030.6 481.4l4.8 -4.7l3.9 .5m-3.9 -.5l-.4 -3.4M1102.7 472.2l.6 -4.8l1.7 -1m-1.7 1l-1.2 -1.2M1093.1 480l4.1 4.2l-.4 2.7m.4 -2.7l3.2 -.3M1107.5 471.2l3.1 -4.4l2.2 -.1m-2.2 .1l-.7 -2.2"/>
<path class="k" stroke="#35887d" stroke-width="1.9" d="M1051.8 422.6l-1.6 -6.2l1.6 -2.1m-1.6 2.1l-3.1 -1.4M1133 500.7l-1 5.3l-2.8 1.4m2.8 -1.4l1.7 2M1133.5 515.4l1.8 6.3l-1.4 2m1.4 -2l3.2 1.3M1106.8 445.7l4 -5.6l3.9 -.2m-3.9 .2l-.9 -3.2M1008.4 462l4.3 -1l1.6 1.3m-1.6 -1.3l.9 -1.9M1055 495.7l-6.3 -2l-1.3 -3.4m1.3 3.4l-2.9 2"/>
<path class="k" stroke="#46a195" stroke-width="1.3" d="M1051.8 422.6l-1.6 -6.2l1.6 -2.1m-1.6 2.1l-3.1 -1.4M1133 500.7l-1 5.3l-2.8 1.4m2.8 -1.4l1.7 2M1133.5 515.4l1.8 6.3l-1.4 2m1.4 -2l3.2 1.3M1106.8 445.7l4 -5.6l3.9 -.2m-3.9 .2l-.9 -3.2M1008.4 462l4.3 -1l1.6 1.3m-1.6 -1.3l.9 -1.9M1055 495.7l-6.3 -2l-1.3 -3.4m1.3 3.4l-2.9 2"/>
<path class="k" stroke="#35887d" stroke-width="1.9" d="M1024 432l-5.7 -2.8l-.6 -2.7m.6 2.7l-2.8 1.4M1079.7 419.5l5.6 2.8l.7 3.2m-.7 -3.2l2.2 -1M1022.3 468.8l6 4.9l-.1 4.2m.1 -4.2l4.1 -.9M1014.1 427.3l-4.2 5.1l-3.4 -.1m3.4 .1l.6 2.9M1069.3 426.9l-5.3 -.1l-1.1 -1.5m1.1 1.5l-1.6 1.9M1064 452.4l3.9 -3.6l2.6 .4m-2.6 -.4l-.1 -1.9"/>
<path class="k" stroke="#46a195" stroke-width="1.3" d="M1024 432l-5.7 -2.8l-.6 -2.7m.6 2.7l-2.8 1.4M1079.7 419.5l5.6 2.8l.7 3.2m-.7 -3.2l2.2 -1M1022.3 468.8l6 4.9l-.1 4.2m.1 -4.2l4.1 -.9M1014.1 427.3l-4.2 5.1l-3.4 -.1m3.4 .1l.6 2.9M1069.3 426.9l-5.3 -.1l-1.1 -1.5m1.1 1.5l-1.6 1.9M1064 452.4l3.9 -3.6l2.6 .4m-2.6 -.4l-.1 -1.9"/>
<path class="k" stroke="#35887d" stroke-width="1.9" d="M1041.4 483.4l5.1 4.2l-.1 2.7m.1 -2.7l2.9 -.6M1059.1 426.5l6.5 -2.8l3.1 1.7m-3.1 -1.7l1 -3.8M1049.1 528.6l-5.1 -1.6l-.7 -1.8m.7 1.8l-1.9 1.3M1022.9 468.5l-6.9 1.3l-2.9 -2.5m2.9 2.5l-1.8 3.3M1115.4 530.2l6.9 -3.8l3.5 1.5m-3.5 -1.5l.5 -3M1065.5 440.2l-5 -4.8l.4 -4m-.4 4l-2.9 .4"/>
<path class="k" stroke="#46a195" stroke-width="1.3" d="M1041.4 483.4l5.1 4.2l-.1 2.7m.1 -2.7l2.9 -.6M1059.1 426.5l6.5 -2.8l3.1 1.7m-3.1 -1.7l1 -3.8M1049.1 528.6l-5.1 -1.6l-.7 -1.8m.7 1.8l-1.9 1.3M1022.9 468.5l-6.9 1.3l-2.9 -2.5m2.9 2.5l-1.8 3.3M1115.4 530.2l6.9 -3.8l3.5 1.5m-3.5 -1.5l.5 -3M1065.5 440.2l-5 -4.8l.4 -4m-.4 4l-2.9 .4"/>
<path class="k" stroke="#35887d" stroke-width="1.9" d="M1077.8 529.5l.3 5.7l-2 1.7m2 -1.7l2.6 1.9M1018.7 473.7l-4.2 .2l-1.3 -1.4m1.3 1.4l-1.3 1.9M1026.5 485.2l3.7 -6.4l4 -.6m-4 .6l-1.2 -3.1M1050 453.1l1.5 6.2l-1.7 2.1m1.7 -2.1l3.2 1.5M1071.9 475l5.8 4.8l-.1 2.7m.1 -2.7l4.1 -.9M1067.1 532.1l6.2 -1.9l2.8 1.9m-2.8 -1.9l.8 -2.1"/>
<path class="k" stroke="#46a195" stroke-width="1.3" d="M1077.8 529.5l.3 5.7l-2 1.7m2 -1.7l2.6 1.9M1018.7 473.7l-4.2 .2l-1.3 -1.4m1.3 1.4l-1.3 1.9M1026.5 485.2l3.7 -6.4l4 -.6m-4 .6l-1.2 -3.1M1050 453.1l1.5 6.2l-1.7 2.1m1.7 -2.1l3.2 1.5M1071.9 475l5.8 4.8l-.1 2.7m.1 -2.7l4.1 -.9M1067.1 532.1l6.2 -1.9l2.8 1.9m-2.8 -1.9l.8 -2.1"/>
<path class="k" stroke="#35887d" stroke-width="1.9" d="M1107.8 508.5l4.3 2.2l.4 2m-.4 -2l2 -.9M1061.7 430.3l3.2 2.6l0 2.1m0 -2.1l1.7 -.4M1081.4 528.1l-3.9 -1.9l-.5 -2.2m.5 2.2l-1.7 .8M1102.9 501.1l-.3 -5.2l1.7 -1.5m-1.7 1.5l-1.9 -1.4M1027.2 468.3l6.3 2.8l.9 3.6m-.9 -3.6l2.3 -1.2M1041.1 459.8l2.5 6l-1.4 2.5m1.4 -2.5l3.5 1"/>
<path class="k" stroke="#46a195" stroke-width="1.3" d="M1107.8 508.5l4.3 2.2l.4 2m-.4 -2l2 -.9M1061.7 430.3l3.2 2.6l0 2.1m0 -2.1l1.7 -.4M1081.4 528.1l-3.9 -1.9l-.5 -2.2m.5 2.2l-1.7 .8M1102.9 501.1l-.3 -5.2l1.7 -1.5m-1.7 1.5l-1.9 -1.4M1027.2 468.3l6.3 2.8l.9 3.6m-.9 -3.6l2.3 -1.2M1041.1 459.8l2.5 6l-1.4 2.5m1.4 -2.5l3.5 1"/>
<path class="k" stroke="#35887d" stroke-width="1.9" d="M1115.2 487.9l-.7 5.4l-2.2 1.3m2.2 -1.3l1.3 1.4M1041.7 498.2l1.9 7l-2 2.7m2 -2.7l3 1.3M1092.3 511.5l2.2 7.3l-2.4 3.4m2.4 -3.4l4 1.6M1051.9 482.2l6.4 -.6l2.5 2.7m-2.5 -2.7l2 -3.1M1057.6 497.4l7.1 -1l3.1 3m-3.1 -3l1.6 -2.8M1108.2 504.6l2.1 7.6l-2.1 2.9m2.1 -2.9l2.9 1.2"/>
<path class="k" stroke="#46a195" stroke-width="1.3" d="M1115.2 487.9l-.7 5.4l-2.2 1.3m2.2 -1.3l1.3 1.4M1041.7 498.2l1.9 7l-2 2.7m2 -2.7l3 1.3M1092.3 511.5l2.2 7.3l-2.4 3.4m2.4 -3.4l4 1.6M1051.9 482.2l6.4 -.6l2.5 2.7m-2.5 -2.7l2 -3.1M1057.6 497.4l7.1 -1l3.1 3m-3.1 -3l1.6 -2.8M1108.2 504.6l2.1 7.6l-2.1 2.9m2.1 -2.9l2.9 1.2"/>
<path class="k" stroke="#35887d" stroke-width="1.9" d="M1046.3 432l2.2 6.3l-1.9 3m1.9 -3l3.4 1.2M1028.8 416.7l-5.6 2.4l-3.2 -1.7m3.2 1.7l-.9 3.4M1134.6 518.1l-7.8 .1l-2.5 -3.1m2.5 3.1l-2.2 2.8M1017.8 433.6l3.8 -5.3l2.7 -.1m-2.7 .1l-.8 -2.8M1127.4 525.2l3.6 2.5l.2 2.5m-.2 -2.5l1.5 -.5M1083.5 465.4l3.4 -4.2l2 0m-2 0l-.5 -2"/>
<path class="k" stroke="#46a195" stroke-width="1.3" d="M1046.3 432l2.2 6.3l-1.9 3m1.9 -3l3.4 1.2M1028.8 416.7l-5.6 2.4l-3.2 -1.7m3.2 1.7l-.9 3.4M1134.6 518.1l-7.8 .1l-2.5 -3.1m2.5 3.1l-2.2 2.8M1017.8 433.6l3.8 -5.3l2.7 -.1m-2.7 .1l-.8 -2.8M1127.4 525.2l3.6 2.5l.2 2.5m-.2 -2.5l1.5 -.5M1083.5 465.4l3.4 -4.2l2 0m-2 0l-.5 -2"/>
<path class="k" stroke="#35887d" stroke-width="1.9" d="M1033.8 475.1l-4.6 1.3l-2 -1.4m2 1.4l-1.1 2.5M1019.6 505l-2.3 3.8l-1.6 .2m1.6 -.2l.7 2M1038.4 517.6l-4.7 -3.4l-.1 -2.3m.1 2.3l-2 .5M1042.7 507.6l.2 -7.3l2.6 -1.9m-2.6 1.9l-3.3 -2.7M1073.6 441l4 1l1 2.2m-1 -2.2l1.2 -1M1046.1 447.1l-1.9 5l-2.4 .8m2.4 -.8l1.3 2.2"/>
<path class="k" stroke="#46a195" stroke-width="1.3" d="M1033.8 475.1l-4.6 1.3l-2 -1.4m2 1.4l-1.1 2.5M1019.6 505l-2.3 3.8l-1.6 .2m1.6 -.2l.7 2M1038.4 517.6l-4.7 -3.4l-.1 -2.3m.1 2.3l-2 .5M1042.7 507.6l.2 -7.3l2.6 -1.9m-2.6 1.9l-3.3 -2.7M1073.6 441l4 1l1 2.2m-1 -2.2l1.2 -1M1046.1 447.1l-1.9 5l-2.4 .8m2.4 -.8l1.3 2.2"/>
<path class="k" stroke="#35887d" stroke-width="1.9" d="M1039.3 504.3l-2.5 -4.5l1 -2.4m-1 2.4l-2.8 -.5M1019.3 427.1l6.2 -.6l1.7 1.8m-1.7 -1.8l1.3 -2.1M1094.2 503.8l-1.7 6.9l-2.8 1.3m2.8 -1.3l2.1 2.7M1039.6 512.4l-4 3.8l-2.6 -.3m2.6 .3l.3 2.7M1021 503.1l-5.6 1.5l-1.6 -1.2m1.6 1.2l-1.2 2.7M1031.4 494.9l2.4 -5.3l3.2 -.8m-3.2 .8l-1.1 -2.2"/>
<path class="k" stroke="#46a195" stroke-width="1.3" d="M1039.3 504.3l-2.5 -4.5l1 -2.4m-1 2.4l-2.8 -.5M1019.3 427.1l6.2 -.6l1.7 1.8m-1.7 -1.8l1.3 -2.1M1094.2 503.8l-1.7 6.9l-2.8 1.3m2.8 -1.3l2.1 2.7M1039.6 512.4l-4 3.8l-2.6 -.3m2.6 .3l.3 2.7M1021 503.1l-5.6 1.5l-1.6 -1.2m1.6 1.2l-1.2 2.7M1031.4 494.9l2.4 -5.3l3.2 -.8m-3.2 .8l-1.1 -2.2"/>
<path class="k" stroke="#35887d" stroke-width="1.9" d="M1073.1 455.5l3 4.9l-1.1 3.2m1.1 -3.2l3.4 .4M1049.9 437.1l1.8 4.4l-1.1 2m1.1 -2l2.5 .7M1045.6 519.4l-1.9 -5.1l1.2 -2m-1.2 2l-2.6 -.9M1027.5 524.6l4.1 -6.7l3.7 -.4m-3.7 .4l-1.3 -3.6M1087 531.8l5.5 -4.3l3.4 .8m-3.4 -.8l0 -3.3M1109.5 483.5l-7.7 1.1l-2.5 -2.4m2.5 2.4l-1.4 2.5"/>
<path class="k" stroke="#46a195" stroke-width="1.3" d="M1073.1 455.5l3 4.9l-1.1 3.2m1.1 -3.2l3.4 .4M1049.9 437.1l1.8 4.4l-1.1 2m1.1 -2l2.5 .7M1045.6 519.4l-1.9 -5.1l1.2 -2m-1.2 2l-2.6 -.9M1027.5 524.6l4.1 -6.7l3.7 -.4m-3.7 .4l-1.3 -3.6M1087 531.8l5.5 -4.3l3.4 .8m-3.4 -.8l0 -3.3M1109.5 483.5l-7.7 1.1l-2.5 -2.4m2.5 2.4l-1.4 2.5"/>
<path class="k" stroke="#35887d" stroke-width="1.9" d="M1079.8 482.4l-2.6 5.1l-2.6 .5m2.6 -.5l1 2.1M1020.2 476.9l.5 7.8l-3.3 3m3.3 -3l2.4 1.7M1066 477.6l6.1 .5l1.4 2m-1.4 -2l2.1 -2.3M1085.9 443.6l4.7 -1.1l2 1.5m-2 -1.5l.9 -1.9M1046 457.1l-3.4 -6l1.2 -3m-1.2 3l-2.9 -.5M1121.8 479.8l4.5 -6.5l3.3 -.2m-3.3 .2l-1.1 -3.5"/>
<path class="k" stroke="#46a195" stroke-width="1.3" d="M1079.8 482.4l-2.6 5.1l-2.6 .5m2.6 -.5l1 2.1M1020.2 476.9l.5 7.8l-3.3 3m3.3 -3l2.4 1.7M1066 477.6l6.1 .5l1.4 2m-1.4 -2l2.1 -2.3M1085.9 443.6l4.7 -1.1l2 1.5m-2 -1.5l.9 -1.9M1046 457.1l-3.4 -6l1.2 -3m-1.2 3l-2.9 -.5M1121.8 479.8l4.5 -6.5l3.3 -.2m-3.3 .2l-1.1 -3.5"/>
<path class="k" stroke="#35887d" stroke-width="1.9" d="M1105.3 482l-4.6 -.9l-1 -2m1 2l-2 1.7M1012.9 435.3l6.7 -2.9l2.3 1.2m-2.3 -1.2l1 -3.7"/>
<path class="k" stroke="#46a195" stroke-width="1.3" d="M1105.3 482l-4.6 -.9l-1 -2m1 2l-2 1.7M1012.9 435.3l6.7 -2.9l2.3 1.2m-2.3 -1.2l1 -3.7"/>
<path class="k" stroke="#b86a89" stroke-width="2.8" d="M1050.2,489.1 L1046.1,492.9 L1040.9,491.2 L1039.6,485.9 L1043.7,482.1 L1048.9,483.8 Z"/>
<path class="k" stroke="#e393b1" stroke-width="2.2" d="M1050.2,489.1 L1046.1,492.9 L1040.9,491.2 L1039.6,485.9 L1043.7,482.1 L1048.9,483.8 Z"/>
<path class="k" stroke="#b86a89" stroke-width="2.8" d="M1063.8,481.2 L1059.7,485.0 L1054.5,483.3 L1053.2,478.0 L1057.3,474.2 L1062.5,475.9 Z"/>
<path class="k" stroke="#e393b1" stroke-width="2.2" d="M1063.8,481.2 L1059.7,485.0 L1054.5,483.3 L1053.2,478.0 L1057.3,474.2 L1062.5,475.9 Z"/>
<path class="k" stroke="#b86a89" stroke-width="3" d="M1063,476 L1072.7,468.3 L1083,462.1 L1093.3,458 L1098,456"/>
<path class="k" stroke="#e393b1" stroke-width="2.4" d="M1063,476 L1072.7,468.3 L1083,462.1 L1093.3,458 L1098,456"/>
<path class="k" stroke="#1f5bb0" stroke-width="3" d="M1070,471 L1074,466.5"/>
<path class="k" stroke="#1f6fe8" stroke-width="2.6" d="M1070,471 L1074,466.5"/>
<path class="k" stroke="#1f5bb0" stroke-width="2.6" d="M1059,473 L1060.4,466"/>
<path class="k" stroke="#1f6fe8" stroke-width="2.2" d="M1059,473 L1060.4,466"/>
<path class="k" stroke="#700" stroke-width="2.6" d="M1060.4,467 L1060.4,463"/>
<path class="k" stroke="#a01010" stroke-width="2.2" d="M1060.4,467 L1060.4,463"/>
<path class="k" stroke="#4a9a2a" stroke-width="2.6" d="M1039.8,479.6 L1042,482"/>
<path class="k" stroke="#6ccf3c" stroke-width="2.2" d="M1039.8,479.6 L1042,482"/>
<path class="k" stroke="#9cc" stroke-width="2.4" d="M1050,476.5 L1052,480"/>
<path class="k" stroke="#d8f4f4" stroke-width="2.0" d="M1050,476.5 L1052,480"/>
<path class="k" stroke="#1f5bb0" stroke-width="2.8" d="M1047.5,493 L1050,497"/>
<path class="k" stroke="#1f6fe8" stroke-width="2.4" d="M1047.5,493 L1050,497"/>
<path class="k" stroke="#1f5bb0" stroke-width="3" d="M1055.0,495.8 L1058.2,500.8 L1054.5,505.3 L1049.0,503.2 L1049.3,497.3 Z"/>
<path class="k" stroke="#1f6fe8" stroke-width="2.4" d="M1055.0,495.8 L1058.2,500.8 L1054.5,505.3 L1049.0,503.2 L1049.3,497.3 Z"/>
<!--END pics2-->
<!-- row2 labels -->
<g fill="#111" stroke="#111" stroke-width="0.2">
<text x="143" y="599.7" font-size="15.7" textLength="110.7" lengthAdjust="spacingAndGlyphs">Protein Binders</text>
<text x="367.5" y="599.7" font-size="15.7" textLength="90.8" lengthAdjust="spacingAndGlyphs">DNA Binders</text>
<text x="595.8" y="589.2" font-size="15.7" textLength="77.5" lengthAdjust="spacingAndGlyphs">Symmetric</text>
<text x="600.8" y="607" font-size="15.7" textLength="75.5" lengthAdjust="spacingAndGlyphs">Oligomers</text>
<text x="824.2" y="597.8" font-size="15.7" textLength="62.5" lengthAdjust="spacingAndGlyphs">Enzymes</text>
<text x="1015" y="590.5" font-size="15.7" textLength="108" lengthAdjust="spacingAndGlyphs">Small Molecule</text>
<text x="1042" y="608.7" font-size="15.7" textLength="54.3" lengthAdjust="spacingAndGlyphs">Binders</text>
</g>

<!-- ============ PANEL C ============ -->
<text transform="translate(70.9,645) scale(0.83,1)" x="0" y="0" font-size="28" fill="#000" stroke="#000" stroke-width="0.3">c</text>
<g fill="#333" stroke="#333" stroke-width="0.25">
<text x="113.3" y="656.7" font-size="13.4" textLength="103.4" lengthAdjust="spacingAndGlyphs">Residue features</text>
<text x="116.5" y="837" font-size="13.4" textLength="97.8" lengthAdjust="spacingAndGlyphs">Atomic features</text>
</g>

<g fill="#ebebeb" stroke="#555" stroke-width="1.7">
<rect x="247.2" y="626.3" width="107.8" height="52.4" rx="1"/>
<rect x="357.5" y="719.2" width="107.8" height="52.5" rx="1"/>
<rect x="578.3" y="719.2" width="108.4" height="52.5" rx="1"/>
<rect x="469.3" y="809" width="108.2" height="51.9" rx="1"/>
</g>
<g fill="#333" font-size="10.8" stroke="#333" stroke-width="0.2">
<text x="258.3" y="650" textLength="84.5" lengthAdjust="spacingAndGlyphs">Feature Initializer</text>
<text x="280.8" y="663" textLength="39.2" lengthAdjust="spacingAndGlyphs">2 blocks</text>
<text x="365.8" y="741.7" textLength="89.2" lengthAdjust="spacingAndGlyphs">Atom Transformer</text>
<text x="391.2" y="754.7" textLength="39.1" lengthAdjust="spacingAndGlyphs">3 blocks</text>
<text x="588.3" y="743" textLength="89.5" lengthAdjust="spacingAndGlyphs">Atom Transformer</text>
<text x="613.7" y="755.5" textLength="39.1" lengthAdjust="spacingAndGlyphs">3 blocks</text>
<text x="476.2" y="833.2" textLength="92" lengthAdjust="spacingAndGlyphs">Token Transformer</text>
<text x="500" y="845.8" textLength="45" lengthAdjust="spacingAndGlyphs">18 blocks</text>
</g>
<text x="595.8" y="673" font-size="11" fill="#5d9ea4" textLength="49" lengthAdjust="spacingAndGlyphs">Recycling</text>

<!-- panel c lines -->
<g stroke="#555" stroke-width="1.7" fill="none">
<path d="M234,653.3 H247.2"/>
<path d="M393,652.8 H518 Q523.3,652.8 523.3,658 V797"/>
<path d="M411.4,652.8 V711"/>
<path d="M228,833.8 H297 Q302,833.8 302,828.8 V690"/>
<path d="M297,833.8 H385.7 Q390.9,833.8 390.9,828.6 V779.5"/>
<path d="M234,747.3 H297"/>
<path d="M307,746.9 H347"/>
<path d="M465.3,747.5 H518"/>
<path d="M528.3,747.5 H570"/>
<path d="M428.4,771.7 V830 Q428.4,834.6 433,834.6 H460.5"/>
<path d="M577.5,838.4 H627.7 Q632.3,838.4 632.3,833.8 V786"/>
<path d="M686.7,747.5 H712"/>
</g>
<g fill="#4d4d4d">
<path d="M297.6,689.7 L306.4,689.7 L302,682.5 z"/>
<path d="M407.3,710.2 L415.5,710.2 L411.4,717.8 z"/>
<path d="M386.8,779.8 L395.4,779.8 L391.1,772.8 z"/>
<path d="M346,742.6 L346,751.2 L354.2,746.9 z"/>
<path d="M569.2,743.2 L569.2,751.8 L577.2,747.5 z"/>
<path d="M460,830.3 L460,838.9 L467.7,834.6 z"/>
<path d="M519.3,796.8 L527.5,796.8 L523.4,804.2 z"/>
<path d="M628.2,786 L636.4,786 L632.3,779 z"/>
<path d="M711.3,743.2 L711.3,751.8 L719.3,747.5 z"/>
</g>
<!-- recycling dotted -->
<path d="M699.2,745 V685 Q699.2,680 694.2,680 H531" stroke="#3f8f95" stroke-width="1.6" fill="none" stroke-dasharray="1.3,1.5"/>
<path d="M525,680 L532.5,676.3 L532.5,683.7 z" fill="#3f8f95"/>

<!-- feature matrix -->
<!--BEGIN cloud-->
<path class="k" stroke="#8f8d99" stroke-width="3.55" d="M150 699h0M145 698h0M153 696h0M147 694h0M151 691h0M149.5 687.5h0M148 683.5h0M141.4 698.6h0M169.4 711.1h0"/>
<path class="k" stroke="#b9b7c3" stroke-width="2.85" d="M150 699h0M145 698h0M153 696h0M147 694h0M151 691h0M149.5 687.5h0M148 683.5h0M141.4 698.6h0M169.4 711.1h0"/>
<path class="k" stroke="#3a5d8f" stroke-width="3.55" d="M145.4 726.6h0M147.6 772.3h0M169.5 755.3h0M160.7 764.5h0M154.6 757.8h0M158.9 761.6h0M163.8 756.9h0M160.1 761.5h0M164.3 751.2h0M163.4 749.8h0M174 772.3h0M168.6 719.4h0M179.9 752.6h0M145.9 758.4h0M141.1 730.7h0M169 728.4h0M167.6 774.5h0M177.6 751.9h0M167.5 770.2h0M164.4 769.7h0M179.9 770.9h0M187.9 755.3h0M169.8 762.6h0M171.6 770.6h0M156.2 752.7h0"/>
<path class="k" stroke="#4d77b6" stroke-width="2.85" d="M145.4 726.6h0M147.6 772.3h0M169.5 755.3h0M160.7 764.5h0M154.6 757.8h0M158.9 761.6h0M163.8 756.9h0M160.1 761.5h0M164.3 751.2h0M163.4 749.8h0M174 772.3h0M168.6 719.4h0M179.9 752.6h0M145.9 758.4h0M141.1 730.7h0M169 728.4h0M167.6 774.5h0M177.6 751.9h0M167.5 770.2h0M164.4 769.7h0M179.9 770.9h0M187.9 755.3h0M169.8 762.6h0M171.6 770.6h0M156.2 752.7h0"/>
<path class="k" stroke="#3b8387" stroke-width="3.55" d="M157.5 751.9h0M162.4 771.4h0M152.1 735.6h0M139 739.6h0M160.6 752.6h0M136.1 757.6h0M153.9 774.2h0M151.1 739h0M139.7 737.6h0M147.5 757.3h0M171.4 742h0M155.9 742.6h0M138 749.5h0M157.9 733.4h0M119.9 734.1h0M152.9 725.8h0M121.8 729.1h0M129.9 737.7h0M161.4 759.3h0M141.5 725.5h0M157.3 743.9h0M127.8 740.3h0M180.2 744.8h0M140.5 733.5h0M156.5 746.8h0M138.4 742h0M158.7 758.2h0M159.2 744.3h0M156 714h0M152 747.3h0M154.8 727.8h0M154.2 750.8h0M146.1 756.9h0M147 733.1h0M154.4 743.7h0M137.2 734.2h0M157.8 738.5h0M145.5 733.4h0M203.3 737.4h0M126.2 741.9h0M162.4 734h0M147.6 737.5h0M167.6 752.8h0M145.5 773.7h0"/>
<path class="k" stroke="#4ea8ac" stroke-width="2.85" d="M157.5 751.9h0M162.4 771.4h0M152.1 735.6h0M139 739.6h0M160.6 752.6h0M136.1 757.6h0M153.9 774.2h0M151.1 739h0M139.7 737.6h0M147.5 757.3h0M171.4 742h0M155.9 742.6h0M138 749.5h0M157.9 733.4h0M119.9 734.1h0M152.9 725.8h0M121.8 729.1h0M129.9 737.7h0M161.4 759.3h0M141.5 725.5h0M157.3 743.9h0M127.8 740.3h0M180.2 744.8h0M140.5 733.5h0M156.5 746.8h0M138.4 742h0M158.7 758.2h0M159.2 744.3h0M156 714h0M152 747.3h0M154.8 727.8h0M154.2 750.8h0M146.1 756.9h0M147 733.1h0M154.4 743.7h0M137.2 734.2h0M157.8 738.5h0M145.5 733.4h0M203.3 737.4h0M126.2 741.9h0M162.4 734h0M147.6 737.5h0M167.6 752.8h0M145.5 773.7h0"/>
<path class="k" stroke="#386c8c" stroke-width="3.55" d="M195.9 735.2h0M176.6 728.7h0M188.3 735.3h0M187.8 729.1h0M118.9 743.5h0M191.3 713h0M172.7 747.8h0M163.4 739.3h0M165.7 768.9h0M164.2 744.5h0M162.9 719.1h0M169.5 734.9h0M168.7 742.8h0M150.6 718.7h0M175.9 738.3h0M176.1 786.2h0M157.2 760.2h0M168.6 754.9h0M180.6 764.3h0M175.4 781.4h0M190.6 750.2h0M170.6 739h0M188.4 764.2h0M166.7 749.4h0M151.5 756.2h0M160.7 748.1h0M190 749.3h0M142.7 749.1h0M184.9 751.4h0M196.2 727h0M165.8 725.1h0M154.3 762.3h0M193.3 777.1h0"/>
<path class="k" stroke="#4a8bb3" stroke-width="2.85" d="M195.9 735.2h0M176.6 728.7h0M188.3 735.3h0M187.8 729.1h0M118.9 743.5h0M191.3 713h0M172.7 747.8h0M163.4 739.3h0M165.7 768.9h0M164.2 744.5h0M162.9 719.1h0M169.5 734.9h0M168.7 742.8h0M150.6 718.7h0M175.9 738.3h0M176.1 786.2h0M157.2 760.2h0M168.6 754.9h0M180.6 764.3h0M175.4 781.4h0M190.6 750.2h0M170.6 739h0M188.4 764.2h0M166.7 749.4h0M151.5 756.2h0M160.7 748.1h0M190 749.3h0M142.7 749.1h0M184.9 751.4h0M196.2 727h0M165.8 725.1h0M154.3 762.3h0M193.3 777.1h0"/>
<path class="k" stroke="#c48f9c" stroke-width="3.55" d="M150 778.2h0M140.7 760.3h0M118.1 782.9h0M159.2 798.1h0M143 761.3h0M191.9 733.6h0M129.6 770.8h0M171 748.3h0"/>
<path class="k" stroke="#f2b3c3" stroke-width="2.85" d="M150 778.2h0M140.7 760.3h0M118.1 782.9h0M159.2 798.1h0M143 761.3h0M191.9 733.6h0M129.6 770.8h0M171 748.3h0"/>
<path class="k" stroke="#0d2736" stroke-width="3.55" d="M156.1 734.2h0"/>
<path class="k" stroke="#143a52" stroke-width="2.85" d="M156.1 734.2h0"/>
<path class="k" stroke="#3b8387" stroke-width="3.55" d="M155.4 740.4h0M170.3 755.9h0M149.9 744.3h0M140.3 740.7h0M137.1 749.4h0M151 743.4h0M151.3 752.4h0M174.7 749.5h0M158.9 723.3h0M153.2 725.2h0M153.9 731.3h0M142 734.1h0M150.4 746.2h0M152.8 735.3h0M154.7 758.6h0M131.9 746.5h0M162.3 731.5h0M171.1 748.8h0M145.4 745.1h0M133.6 736.9h0M140.2 752.4h0M154.4 757.1h0M154.6 729.5h0M128.8 738.1h0M175.7 727.3h0M163.3 732.8h0M150.4 746.8h0M160 747.4h0M147.2 742.8h0M160 758h0M174.5 745.5h0M179.9 759h0M180.6 759.4h0M142.1 741.8h0M140.3 752.9h0M159.1 757.2h0M146.6 748.1h0M146.5 777.2h0M155.3 747h0M168 716.8h0"/>
<path class="k" stroke="#4ea8ac" stroke-width="2.85" d="M155.4 740.4h0M170.3 755.9h0M149.9 744.3h0M140.3 740.7h0M137.1 749.4h0M151 743.4h0M151.3 752.4h0M174.7 749.5h0M158.9 723.3h0M153.2 725.2h0M153.9 731.3h0M142 734.1h0M150.4 746.2h0M152.8 735.3h0M154.7 758.6h0M131.9 746.5h0M162.3 731.5h0M171.1 748.8h0M145.4 745.1h0M133.6 736.9h0M140.2 752.4h0M154.4 757.1h0M154.6 729.5h0M128.8 738.1h0M175.7 727.3h0M163.3 732.8h0M150.4 746.8h0M160 747.4h0M147.2 742.8h0M160 758h0M174.5 745.5h0M179.9 759h0M180.6 759.4h0M142.1 741.8h0M140.3 752.9h0M159.1 757.2h0M146.6 748.1h0M146.5 777.2h0M155.3 747h0M168 716.8h0"/>
<path class="k" stroke="#386c8c" stroke-width="3.55" d="M178.2 751.4h0M157.2 753.3h0M165.4 760.8h0M175.9 745.9h0M193.5 740.7h0M186.3 741.7h0M181.7 748.8h0M180.3 740h0M161.8 729.2h0M183.3 738.7h0M172 757.4h0M193.8 773.6h0M179.9 720.6h0M176.6 760.3h0M174.1 731.1h0M196.8 756.5h0M163.7 756.9h0M171.5 760.7h0M174.7 744.4h0M199.8 739.9h0M180.3 740.2h0M185.8 746.3h0M204.7 737h0M165 733.8h0M157.3 731.5h0M190.2 702h0M190 737.9h0M188.6 739.4h0M163.1 734.1h0M178.6 730.9h0M180.7 751.2h0M181.5 739.1h0"/>
<path class="k" stroke="#4a8bb3" stroke-width="2.85" d="M178.2 751.4h0M157.2 753.3h0M165.4 760.8h0M175.9 745.9h0M193.5 740.7h0M186.3 741.7h0M181.7 748.8h0M180.3 740h0M161.8 729.2h0M183.3 738.7h0M172 757.4h0M193.8 773.6h0M179.9 720.6h0M176.6 760.3h0M174.1 731.1h0M196.8 756.5h0M163.7 756.9h0M171.5 760.7h0M174.7 744.4h0M199.8 739.9h0M180.3 740.2h0M185.8 746.3h0M204.7 737h0M165 733.8h0M157.3 731.5h0M190.2 702h0M190 737.9h0M188.6 739.4h0M163.1 734.1h0M178.6 730.9h0M180.7 751.2h0M181.5 739.1h0"/>
<path class="k" stroke="#3a5d8f" stroke-width="3.55" d="M170.5 764.9h0M161.8 749.5h0M173.2 741.7h0M162.4 743.3h0M171.1 740.5h0M158.4 745.5h0M153.8 733.5h0M133.1 741.3h0M166.3 752.2h0M163.6 774.9h0M159.3 764.9h0M126.5 727.8h0M167.7 769.1h0M173.7 769.4h0M150.1 763.3h0M157.4 777h0M167.1 759.8h0M171.6 750.6h0M157.4 765.3h0M176.5 754.7h0"/>
<path class="k" stroke="#4d77b6" stroke-width="2.85" d="M170.5 764.9h0M161.8 749.5h0M173.2 741.7h0M162.4 743.3h0M171.1 740.5h0M158.4 745.5h0M153.8 733.5h0M133.1 741.3h0M166.3 752.2h0M163.6 774.9h0M159.3 764.9h0M126.5 727.8h0M167.7 769.1h0M173.7 769.4h0M150.1 763.3h0M157.4 777h0M167.1 759.8h0M171.6 750.6h0M157.4 765.3h0M176.5 754.7h0"/>
<path class="k" stroke="#c48f9c" stroke-width="3.55" d="M134.3 719.1h0M155.4 763.9h0M192.8 728.8h0M141.2 767.3h0M150.5 757.1h0M151 800.3h0M144 793.2h0M155.1 786.2h0M142.8 779.9h0M145.3 769.4h0M130.1 756.7h0M172.4 739.3h0M153.5 746.8h0M154.2 764.3h0M129.2 744h0M136.6 785.1h0M173.7 780.6h0"/>
<path class="k" stroke="#f2b3c3" stroke-width="2.85" d="M134.3 719.1h0M155.4 763.9h0M192.8 728.8h0M141.2 767.3h0M150.5 757.1h0M151 800.3h0M144 793.2h0M155.1 786.2h0M142.8 779.9h0M145.3 769.4h0M130.1 756.7h0M172.4 739.3h0M153.5 746.8h0M154.2 764.3h0M129.2 744h0M136.6 785.1h0M173.7 780.6h0"/>
<path class="k" stroke="#8f8d99" stroke-width="3.55" d="M173.4 725.5h0M139.5 704h0M137.8 706.2h0M130.2 726.5h0M169 710.6h0"/>
<path class="k" stroke="#b9b7c3" stroke-width="2.85" d="M173.4 725.5h0M139.5 704h0M137.8 706.2h0M130.2 726.5h0M169 710.6h0"/>
<path class="k" stroke="#0d2736" stroke-width="3.55" d="M158.1 749.1h0M143.4 719.5h0M174.4 730.9h0M163.1 728h0M161.7 725.7h0M164.7 729.4h0"/>
<path class="k" stroke="#143a52" stroke-width="2.85" d="M158.1 749.1h0M143.4 719.5h0M174.4 730.9h0M163.1 728h0M161.7 725.7h0M164.7 729.4h0"/>
<path class="k" stroke="#3b8387" stroke-width="3.55" d="M163.2 737.6h0M146.3 743.3h0M137.8 763h0M125.2 736.8h0M150.8 768.8h0M156.1 757.5h0M155.9 746.6h0M161.5 735.6h0M132.5 727.3h0M127.5 748.2h0M171.2 753.7h0M158.5 749.9h0M160.5 737.3h0M153.6 740.6h0M158.1 738.4h0M169.2 748.4h0M152.4 741.1h0M159.4 738.1h0M173.1 723.6h0M184.8 762.8h0M143.9 738h0M152.2 740.1h0M156.8 743.2h0M156 731.9h0M166.2 729.7h0M163.7 783h0M138.7 737.8h0M121.7 735.4h0M126.9 731.1h0M178.4 723.3h0M144.4 744.9h0M153.5 745.7h0M144.4 716h0M157.7 734.4h0M128.4 752.1h0M132.2 737.7h0M171.7 742.4h0M143 733.6h0M138.7 748.2h0M132.3 737h0M151 749h0M165.3 722.7h0"/>
<path class="k" stroke="#4ea8ac" stroke-width="2.85" d="M163.2 737.6h0M146.3 743.3h0M137.8 763h0M125.2 736.8h0M150.8 768.8h0M156.1 757.5h0M155.9 746.6h0M161.5 735.6h0M132.5 727.3h0M127.5 748.2h0M171.2 753.7h0M158.5 749.9h0M160.5 737.3h0M153.6 740.6h0M158.1 738.4h0M169.2 748.4h0M152.4 741.1h0M159.4 738.1h0M173.1 723.6h0M184.8 762.8h0M143.9 738h0M152.2 740.1h0M156.8 743.2h0M156 731.9h0M166.2 729.7h0M163.7 783h0M138.7 737.8h0M121.7 735.4h0M126.9 731.1h0M178.4 723.3h0M144.4 744.9h0M153.5 745.7h0M144.4 716h0M157.7 734.4h0M128.4 752.1h0M132.2 737.7h0M171.7 742.4h0M143 733.6h0M138.7 748.2h0M132.3 737h0M151 749h0M165.3 722.7h0"/>
<path class="k" stroke="#c48f9c" stroke-width="3.55" d="M125 727.7h0M172.6 764.9h0M141.3 768.9h0M180.3 725.6h0M146.7 736.5h0M137.9 745.8h0M148.1 775.9h0M153 779.8h0M143.4 773.5h0M149.3 755h0M137.3 756.3h0M129.4 775.5h0M168.7 752.4h0M167.9 756.1h0M106.7 744.2h0"/>
<path class="k" stroke="#f2b3c3" stroke-width="2.85" d="M125 727.7h0M172.6 764.9h0M141.3 768.9h0M180.3 725.6h0M146.7 736.5h0M137.9 745.8h0M148.1 775.9h0M153 779.8h0M143.4 773.5h0M149.3 755h0M137.3 756.3h0M129.4 775.5h0M168.7 752.4h0M167.9 756.1h0M106.7 744.2h0"/>
<path class="k" stroke="#3a5d8f" stroke-width="3.55" d="M161.1 763.9h0M158.3 760.2h0M149.9 754.2h0M159.1 756.2h0M177.7 776.7h0M163.5 752.4h0M150.8 757.7h0M189.6 763h0M142 760.7h0M156.2 768.7h0M186.7 779.9h0M165.5 751.9h0M158.4 750.1h0M151.8 777.7h0M168 754.8h0M153.9 751.2h0M157.1 725.2h0M156.2 767.6h0M192.8 757.4h0M169.1 766h0M163.2 757.2h0M169.1 733.1h0"/>
<path class="k" stroke="#4d77b6" stroke-width="2.85" d="M161.1 763.9h0M158.3 760.2h0M149.9 754.2h0M159.1 756.2h0M177.7 776.7h0M163.5 752.4h0M150.8 757.7h0M189.6 763h0M142 760.7h0M156.2 768.7h0M186.7 779.9h0M165.5 751.9h0M158.4 750.1h0M151.8 777.7h0M168 754.8h0M153.9 751.2h0M157.1 725.2h0M156.2 767.6h0M192.8 757.4h0M169.1 766h0M163.2 757.2h0M169.1 733.1h0"/>
<path class="k" stroke="#386c8c" stroke-width="3.55" d="M201.8 740.8h0M187.5 737.1h0M169.8 729.6h0M193.8 742.7h0M194.8 736.8h0M167 742.3h0M165.6 745.4h0M179.3 741h0M153.3 774.6h0M172.9 741.6h0M167.5 779.4h0M172.4 746.4h0M161.9 766.8h0M170.4 755.7h0M187 742.8h0M158.6 748.7h0M194.6 735.4h0M138.5 738.8h0M156.3 766.6h0M184.6 742.2h0M128.8 748.9h0M189.6 769.4h0M177.7 745.2h0M153.7 762.4h0M193 752.7h0M165.1 740.4h0M180 740.6h0M182.3 750.5h0M193.3 733.6h0M172.1 745.4h0M176.4 761.6h0M170.9 743.8h0M122.3 720.8h0"/>
<path class="k" stroke="#4a8bb3" stroke-width="2.85" d="M201.8 740.8h0M187.5 737.1h0M169.8 729.6h0M193.8 742.7h0M194.8 736.8h0M167 742.3h0M165.6 745.4h0M179.3 741h0M153.3 774.6h0M172.9 741.6h0M167.5 779.4h0M172.4 746.4h0M161.9 766.8h0M170.4 755.7h0M187 742.8h0M158.6 748.7h0M194.6 735.4h0M138.5 738.8h0M156.3 766.6h0M184.6 742.2h0M128.8 748.9h0M189.6 769.4h0M177.7 745.2h0M153.7 762.4h0M193 752.7h0M165.1 740.4h0M180 740.6h0M182.3 750.5h0M193.3 733.6h0M172.1 745.4h0M176.4 761.6h0M170.9 743.8h0M122.3 720.8h0"/>
<path class="k" stroke="#8f8d99" stroke-width="3.55" d="M162.7 696.3h0M155.5 720.4h0M154.2 723.7h0M161.5 729.4h0M156.9 693.4h0M136.2 720.9h0M149.1 705.4h0"/>
<path class="k" stroke="#b9b7c3" stroke-width="2.85" d="M162.7 696.3h0M155.5 720.4h0M154.2 723.7h0M161.5 729.4h0M156.9 693.4h0M136.2 720.9h0M149.1 705.4h0"/>
<path class="k" stroke="#0d2736" stroke-width="3.55" d="M163 731.1h0"/>
<path class="k" stroke="#143a52" stroke-width="2.85" d="M163 731.1h0"/>
<path class="k" stroke="#3a5d8f" stroke-width="3.55" d="M162.6 753.7h0M171.4 760.5h0M193.3 765.8h0M153 755.2h0M161.1 760.2h0M161.7 790.1h0M177.5 764.7h0M161.4 769.8h0M158.6 763.6h0M148.2 785h0M175.9 761.6h0M174.5 786.8h0M200.8 743.3h0M171.4 753.4h0M133.5 756.6h0M169.5 767.2h0M134.9 758.5h0M164.2 760.6h0M168.2 761.4h0M161.5 733.5h0M176.2 754.5h0M124.3 770.5h0M189.7 784.1h0M160.8 775.4h0M143.9 750.9h0M164.7 758.8h0"/>
<path class="k" stroke="#4d77b6" stroke-width="2.85" d="M162.6 753.7h0M171.4 760.5h0M193.3 765.8h0M153 755.2h0M161.1 760.2h0M161.7 790.1h0M177.5 764.7h0M161.4 769.8h0M158.6 763.6h0M148.2 785h0M175.9 761.6h0M174.5 786.8h0M200.8 743.3h0M171.4 753.4h0M133.5 756.6h0M169.5 767.2h0M134.9 758.5h0M164.2 760.6h0M168.2 761.4h0M161.5 733.5h0M176.2 754.5h0M124.3 770.5h0M189.7 784.1h0M160.8 775.4h0M143.9 750.9h0M164.7 758.8h0"/>
<path class="k" stroke="#386c8c" stroke-width="3.55" d="M162.4 741.1h0M169.4 752.9h0M183.7 755.9h0M180.9 748.3h0M155.9 724.7h0M166.3 735.1h0M198.3 716.7h0M188.5 752.1h0M169.8 757.4h0M188.6 729.4h0M174.5 730.7h0M178.4 768.5h0M178.9 697h0M180.8 776.8h0M187.9 745.9h0M179.4 740.3h0M147.5 745.6h0M165.4 721.5h0M206.6 727.6h0M178.5 718.2h0M150.5 751.3h0M174.3 771.7h0M188.3 757.9h0M173.9 755.8h0M182.7 723.7h0M177.7 718.7h0M169.9 750h0M181.9 756.5h0M186.6 757.5h0M165 742.6h0M207.5 740.6h0M170.8 748.5h0M184.6 751.4h0M172.7 759.1h0M208.5 747.8h0M157.5 767.8h0M177.7 756.4h0"/>
<path class="k" stroke="#4a8bb3" stroke-width="2.85" d="M162.4 741.1h0M169.4 752.9h0M183.7 755.9h0M180.9 748.3h0M155.9 724.7h0M166.3 735.1h0M198.3 716.7h0M188.5 752.1h0M169.8 757.4h0M188.6 729.4h0M174.5 730.7h0M178.4 768.5h0M178.9 697h0M180.8 776.8h0M187.9 745.9h0M179.4 740.3h0M147.5 745.6h0M165.4 721.5h0M206.6 727.6h0M178.5 718.2h0M150.5 751.3h0M174.3 771.7h0M188.3 757.9h0M173.9 755.8h0M182.7 723.7h0M177.7 718.7h0M169.9 750h0M181.9 756.5h0M186.6 757.5h0M165 742.6h0M207.5 740.6h0M170.8 748.5h0M184.6 751.4h0M172.7 759.1h0M208.5 747.8h0M157.5 767.8h0M177.7 756.4h0"/>
<path class="k" stroke="#3b8387" stroke-width="3.55" d="M161.6 724.6h0M127.2 758.6h0M152 716h0M159 725h0M145.7 755.3h0M141.1 721.5h0M155.1 736.3h0M183.9 792.4h0M183.2 722.1h0M172.4 737.6h0M156.6 751.5h0M152.7 746.1h0M184.1 734h0M163.8 734.5h0M132.9 745h0M149.7 743.9h0M154.8 747.8h0M141 745.8h0M142.9 744.3h0M156 739.6h0M150.5 742.9h0M134 736.9h0M175.9 740h0M157.2 719.3h0M153 725.5h0M134.7 739.7h0M147.5 749.1h0M129.7 753.3h0M173.3 771.9h0M161.6 742.5h0M150.2 731.3h0M148.9 758h0M136.2 747.6h0M136.9 709.2h0"/>
<path class="k" stroke="#4ea8ac" stroke-width="2.85" d="M161.6 724.6h0M127.2 758.6h0M152 716h0M159 725h0M145.7 755.3h0M141.1 721.5h0M155.1 736.3h0M183.9 792.4h0M183.2 722.1h0M172.4 737.6h0M156.6 751.5h0M152.7 746.1h0M184.1 734h0M163.8 734.5h0M132.9 745h0M149.7 743.9h0M154.8 747.8h0M141 745.8h0M142.9 744.3h0M156 739.6h0M150.5 742.9h0M134 736.9h0M175.9 740h0M157.2 719.3h0M153 725.5h0M134.7 739.7h0M147.5 749.1h0M129.7 753.3h0M173.3 771.9h0M161.6 742.5h0M150.2 731.3h0M148.9 758h0M136.2 747.6h0M136.9 709.2h0"/>
<path class="k" stroke="#c48f9c" stroke-width="3.55" d="M171.6 775.5h0M156.3 740.1h0M114.5 759.1h0M168.8 751.7h0M153 744.9h0M153.7 787.9h0M135.1 724.7h0M137.9 772.4h0M98.4 731.6h0M141.4 771.4h0M131.3 711h0M138.6 763.3h0M148.8 767.9h0M194.6 738.2h0M136.9 735.4h0M136.7 775.8h0M149.5 736.8h0M125.9 767.3h0M158.8 782.8h0"/>
<path class="k" stroke="#f2b3c3" stroke-width="2.85" d="M171.6 775.5h0M156.3 740.1h0M114.5 759.1h0M168.8 751.7h0M153 744.9h0M153.7 787.9h0M135.1 724.7h0M137.9 772.4h0M98.4 731.6h0M141.4 771.4h0M131.3 711h0M138.6 763.3h0M148.8 767.9h0M194.6 738.2h0M136.9 735.4h0M136.7 775.8h0M149.5 736.8h0M125.9 767.3h0M158.8 782.8h0"/>
<path class="k" stroke="#8f8d99" stroke-width="3.55" d="M146.4 718.4h0M144.1 727.3h0M155.8 721.4h0M150.2 723.1h0"/>
<path class="k" stroke="#b9b7c3" stroke-width="2.85" d="M146.4 718.4h0M144.1 727.3h0M155.8 721.4h0M150.2 723.1h0"/>
<path class="k" stroke="#3b8387" stroke-width="3.55" d="M157 735.8h0M128.8 743.2h0M147.4 744h0M128.5 747.1h0M162.9 742.7h0M161.2 748h0M190.5 730.4h0M147.7 733.4h0M139.6 742.6h0M163.2 765.5h0M153.3 738.5h0M146.2 743.9h0M149.6 746.3h0M147.2 741.5h0M147.6 745.5h0M161.5 735h0M205 778.1h0M150.4 744.4h0M178.4 752.2h0M152.2 747.9h0M159.5 750.3h0M145.8 750.7h0M137.1 741h0M192 767.1h0M149.7 740.1h0M164.8 743.2h0M165.5 723.1h0M144.5 742.1h0M150.1 730.7h0M132.7 747h0M162 731.1h0M155.9 740.2h0M126.3 734.5h0M151.5 740.9h0M168 757.5h0M149.1 740h0M150.6 757.4h0M140.6 744.6h0M154.5 746h0M153.4 745.6h0M165.9 738.3h0M164.4 744.6h0M142.6 732.3h0M187.1 751.1h0M150.4 744.8h0M164.5 744.2h0"/>
<path class="k" stroke="#4ea8ac" stroke-width="2.85" d="M157 735.8h0M128.8 743.2h0M147.4 744h0M128.5 747.1h0M162.9 742.7h0M161.2 748h0M190.5 730.4h0M147.7 733.4h0M139.6 742.6h0M163.2 765.5h0M153.3 738.5h0M146.2 743.9h0M149.6 746.3h0M147.2 741.5h0M147.6 745.5h0M161.5 735h0M205 778.1h0M150.4 744.4h0M178.4 752.2h0M152.2 747.9h0M159.5 750.3h0M145.8 750.7h0M137.1 741h0M192 767.1h0M149.7 740.1h0M164.8 743.2h0M165.5 723.1h0M144.5 742.1h0M150.1 730.7h0M132.7 747h0M162 731.1h0M155.9 740.2h0M126.3 734.5h0M151.5 740.9h0M168 757.5h0M149.1 740h0M150.6 757.4h0M140.6 744.6h0M154.5 746h0M153.4 745.6h0M165.9 738.3h0M164.4 744.6h0M142.6 732.3h0M187.1 751.1h0M150.4 744.8h0M164.5 744.2h0"/>
<path class="k" stroke="#3a5d8f" stroke-width="3.55" d="M189.9 763.8h0M156 748.1h0M132.9 769.1h0M164 750.3h0M191.4 770.1h0M152.4 773h0M178.9 769.8h0M188.8 765.5h0M175.1 759.2h0M160.1 755.1h0M163 758h0M132.4 715h0M151.6 751.9h0M164.4 761.9h0M154.5 766.6h0M142.3 747.5h0M192.3 781.4h0M174.4 759.2h0M193.2 768.3h0M188.3 750.5h0M182 762.8h0M164.6 760.8h0M174.4 761.8h0M193.7 750.4h0M164.8 752.6h0M163.8 735.7h0M158.5 779.6h0M165.5 752.5h0"/>
<path class="k" stroke="#4d77b6" stroke-width="2.85" d="M189.9 763.8h0M156 748.1h0M132.9 769.1h0M164 750.3h0M191.4 770.1h0M152.4 773h0M178.9 769.8h0M188.8 765.5h0M175.1 759.2h0M160.1 755.1h0M163 758h0M132.4 715h0M151.6 751.9h0M164.4 761.9h0M154.5 766.6h0M142.3 747.5h0M192.3 781.4h0M174.4 759.2h0M193.2 768.3h0M188.3 750.5h0M182 762.8h0M164.6 760.8h0M174.4 761.8h0M193.7 750.4h0M164.8 752.6h0M163.8 735.7h0M158.5 779.6h0M165.5 752.5h0"/>
<path class="k" stroke="#386c8c" stroke-width="3.55" d="M164.1 775.5h0M177.9 748.3h0M183.2 747.1h0M141 755.5h0M193.9 751.4h0M183.4 745.9h0M180.6 746.6h0M195.8 763.8h0M165.3 730.3h0M177.5 735.7h0M185.8 755.6h0M156.8 758.5h0M183.4 757.9h0M153 765.6h0M166.1 747.6h0M124.8 768h0M191 740h0M200.7 720.1h0M173.9 773.4h0M199.5 765.4h0M185.6 754.3h0M140.4 731.2h0"/>
<path class="k" stroke="#4a8bb3" stroke-width="2.85" d="M164.1 775.5h0M177.9 748.3h0M183.2 747.1h0M141 755.5h0M193.9 751.4h0M183.4 745.9h0M180.6 746.6h0M195.8 763.8h0M165.3 730.3h0M177.5 735.7h0M185.8 755.6h0M156.8 758.5h0M183.4 757.9h0M153 765.6h0M166.1 747.6h0M124.8 768h0M191 740h0M200.7 720.1h0M173.9 773.4h0M199.5 765.4h0M185.6 754.3h0M140.4 731.2h0"/>
<path class="k" stroke="#c48f9c" stroke-width="3.55" d="M151.4 799.6h0M167.8 768.7h0M130.6 755h0M158.7 761.9h0M139.7 756.4h0M142.9 787.9h0M145.4 765.5h0M114 754.3h0M150 795.7h0M127.2 771.7h0M170.8 741.1h0M179.5 720.2h0M120.5 769.6h0M150.6 760.8h0M125.7 790.9h0M111.4 748.4h0M159.8 778.6h0M155.5 747h0M142.8 773.3h0M132.4 775.2h0"/>
<path class="k" stroke="#f2b3c3" stroke-width="2.85" d="M151.4 799.6h0M167.8 768.7h0M130.6 755h0M158.7 761.9h0M139.7 756.4h0M142.9 787.9h0M145.4 765.5h0M114 754.3h0M150 795.7h0M127.2 771.7h0M170.8 741.1h0M179.5 720.2h0M120.5 769.6h0M150.6 760.8h0M125.7 790.9h0M111.4 748.4h0M159.8 778.6h0M155.5 747h0M142.8 773.3h0M132.4 775.2h0"/>
<path class="k" stroke="#0d2736" stroke-width="3.55" d="M147.3 721.8h0"/>
<path class="k" stroke="#143a52" stroke-width="2.85" d="M147.3 721.8h0"/>
<path class="k" stroke="#8f8d99" stroke-width="3.55" d="M162.5 718.6h0M159.4 717.1h0M146.9 724.7h0"/>
<path class="k" stroke="#b9b7c3" stroke-width="2.85" d="M162.5 718.6h0M159.4 717.1h0M146.9 724.7h0"/>
<path class="k" stroke="#3b8387" stroke-width="3.55" d="M149.1 737.7h0M159.2 752.7h0M167.9 740.8h0M197.9 751.3h0M160.6 746.8h0M120 746.8h0M143.4 764.7h0M158.8 748.5h0M161.7 744.7h0M166.2 772.1h0M145.4 742.5h0M157.2 723.5h0M152.9 749.4h0M130 753.2h0M139.4 737.7h0M147.6 740.3h0M163.5 734.5h0M147.6 744.1h0M167.5 740.9h0M157 748.3h0M160 744.5h0M140.4 768.7h0M160.7 729.3h0M153.5 744.4h0M163.9 746.4h0M157.9 758.5h0M154.2 743.4h0M161.8 748.9h0M153.1 743.9h0M140.8 741.4h0M179.5 737.5h0M146.2 741.4h0M145.6 745.3h0M140.3 750h0M146.5 750.8h0M168.8 737.7h0M154 761.2h0M169.5 731.5h0M199.3 755.9h0M146.2 731.4h0M136.7 729.1h0"/>
<path class="k" stroke="#4ea8ac" stroke-width="2.85" d="M149.1 737.7h0M159.2 752.7h0M167.9 740.8h0M197.9 751.3h0M160.6 746.8h0M120 746.8h0M143.4 764.7h0M158.8 748.5h0M161.7 744.7h0M166.2 772.1h0M145.4 742.5h0M157.2 723.5h0M152.9 749.4h0M130 753.2h0M139.4 737.7h0M147.6 740.3h0M163.5 734.5h0M147.6 744.1h0M167.5 740.9h0M157 748.3h0M160 744.5h0M140.4 768.7h0M160.7 729.3h0M153.5 744.4h0M163.9 746.4h0M157.9 758.5h0M154.2 743.4h0M161.8 748.9h0M153.1 743.9h0M140.8 741.4h0M179.5 737.5h0M146.2 741.4h0M145.6 745.3h0M140.3 750h0M146.5 750.8h0M168.8 737.7h0M154 761.2h0M169.5 731.5h0M199.3 755.9h0M146.2 731.4h0M136.7 729.1h0"/>
<path class="k" stroke="#3a5d8f" stroke-width="3.55" d="M177 759.5h0M138.3 740.3h0M181.4 753.1h0M178.5 731.5h0M157.8 757.7h0M158.3 763.3h0M179.2 774.6h0M175.9 749.9h0M155.8 774.6h0M148.5 753.7h0M150.9 758.2h0M164.6 758.8h0M166.7 759h0M165.2 749.5h0M167.6 768.9h0M159.5 767h0M173.5 755.2h0M168.8 759.3h0M134.1 740h0M164.2 765.6h0M166.9 773.5h0M151 779.5h0M154.7 783.9h0M172.3 767.1h0M164.6 768.2h0M141.8 756.5h0M156.2 731.3h0"/>
<path class="k" stroke="#4d77b6" stroke-width="2.85" d="M177 759.5h0M138.3 740.3h0M181.4 753.1h0M178.5 731.5h0M157.8 757.7h0M158.3 763.3h0M179.2 774.6h0M175.9 749.9h0M155.8 774.6h0M148.5 753.7h0M150.9 758.2h0M164.6 758.8h0M166.7 759h0M165.2 749.5h0M167.6 768.9h0M159.5 767h0M173.5 755.2h0M168.8 759.3h0M134.1 740h0M164.2 765.6h0M166.9 773.5h0M151 779.5h0M154.7 783.9h0M172.3 767.1h0M164.6 768.2h0M141.8 756.5h0M156.2 731.3h0"/>
<path class="k" stroke="#386c8c" stroke-width="3.55" d="M129.2 734.2h0M192.9 744.1h0M183.6 727h0M186.7 765.5h0M183.6 740.6h0M177 737.3h0M203.7 743.6h0M178.2 747.6h0M182.8 743h0M171.8 730.8h0M169.4 738.5h0M173.3 735.2h0M201.1 738.1h0M186.9 714.9h0M181.8 748.2h0M153.2 744.7h0M141.7 736.9h0M205.7 772.8h0M179.9 746.7h0M127.6 734.7h0M155.3 743.5h0M167.2 737.5h0M189.5 732h0M151.1 750h0M184.8 738.1h0M177.1 800.4h0M192.8 729.9h0M178.9 715h0M163 730.9h0M189.3 746.1h0"/>
<path class="k" stroke="#4a8bb3" stroke-width="2.85" d="M129.2 734.2h0M192.9 744.1h0M183.6 727h0M186.7 765.5h0M183.6 740.6h0M177 737.3h0M203.7 743.6h0M178.2 747.6h0M182.8 743h0M171.8 730.8h0M169.4 738.5h0M173.3 735.2h0M201.1 738.1h0M186.9 714.9h0M181.8 748.2h0M153.2 744.7h0M141.7 736.9h0M205.7 772.8h0M179.9 746.7h0M127.6 734.7h0M155.3 743.5h0M167.2 737.5h0M189.5 732h0M151.1 750h0M184.8 738.1h0M177.1 800.4h0M192.8 729.9h0M178.9 715h0M163 730.9h0M189.3 746.1h0"/>
<path class="k" stroke="#8f8d99" stroke-width="3.55" d="M137.5 724.4h0M170.9 715.9h0M158.4 721.6h0M146.5 726.7h0M156.6 716.9h0"/>
<path class="k" stroke="#b9b7c3" stroke-width="2.85" d="M137.5 724.4h0M170.9 715.9h0M158.4 721.6h0M146.5 726.7h0M156.6 716.9h0"/>
<path class="k" stroke="#c48f9c" stroke-width="3.55" d="M138.7 793h0M148.5 749.4h0M140 763.5h0M174.9 736.4h0M160.8 747h0M156 772.9h0M143.6 762.3h0M154.3 753h0M153.5 758.9h0M136.3 767.7h0M131.5 768.1h0M197 734.3h0M142.2 765.8h0M127.5 753.3h0M122.1 778.5h0M148.7 763.5h0"/>
<path class="k" stroke="#f2b3c3" stroke-width="2.85" d="M138.7 793h0M148.5 749.4h0M140 763.5h0M174.9 736.4h0M160.8 747h0M156 772.9h0M143.6 762.3h0M154.3 753h0M153.5 758.9h0M136.3 767.7h0M131.5 768.1h0M197 734.3h0M142.2 765.8h0M127.5 753.3h0M122.1 778.5h0M148.7 763.5h0"/>
<path class="k" stroke="#0d2736" stroke-width="3.55" d="M146.5 736.9h0"/>
<path class="k" stroke="#143a52" stroke-width="2.85" d="M146.5 736.9h0"/>
<path class="k" stroke="#3a5d8f" stroke-width="3.55" d="M175.1 758.7h0M179.9 776.8h0M141.5 761.7h0M189 767.9h0M154.2 768.8h0M154.7 751.6h0M160.2 763.6h0M152.5 756.7h0M167.5 776.3h0M116 754.2h0M187.1 766.9h0M179 746.8h0M165.5 756.3h0M179.2 776.6h0M182.7 765.5h0M142.7 769.6h0M154.3 779.5h0M165.1 744.9h0M167.3 767.3h0M154.5 774.1h0M163.7 754h0M174.1 765.3h0M141.1 772.2h0M156.6 782.2h0M172 771.9h0M168.5 764.5h0M159.7 752.4h0"/>
<path class="k" stroke="#4d77b6" stroke-width="2.85" d="M175.1 758.7h0M179.9 776.8h0M141.5 761.7h0M189 767.9h0M154.2 768.8h0M154.7 751.6h0M160.2 763.6h0M152.5 756.7h0M167.5 776.3h0M116 754.2h0M187.1 766.9h0M179 746.8h0M165.5 756.3h0M179.2 776.6h0M182.7 765.5h0M142.7 769.6h0M154.3 779.5h0M165.1 744.9h0M167.3 767.3h0M154.5 774.1h0M163.7 754h0M174.1 765.3h0M141.1 772.2h0M156.6 782.2h0M172 771.9h0M168.5 764.5h0M159.7 752.4h0"/>
<path class="k" stroke="#386c8c" stroke-width="3.55" d="M186.2 773.4h0M170.5 743.2h0M153.1 754.7h0M175.9 761.7h0M176.7 751.3h0M185.9 750.6h0M182.2 739h0M193.9 723.5h0M187.8 723.1h0M170 728.8h0M199.9 752.9h0M149.3 724.9h0M173.9 750.5h0M173.3 749.3h0M201.4 745.6h0M175.5 759.7h0M170.5 746.3h0M159.3 749.2h0M164.3 748h0M166.8 734.8h0M176.1 764.7h0M177.2 761.9h0M187.3 743.7h0M161.9 729.4h0M150.9 729.7h0M185 734.6h0M187.9 741.4h0M209.8 738.1h0M190.1 739.7h0M177.6 736.5h0M168.5 746.3h0M179 784.2h0M185.1 739.1h0"/>
<path class="k" stroke="#4a8bb3" stroke-width="2.85" d="M186.2 773.4h0M170.5 743.2h0M153.1 754.7h0M175.9 761.7h0M176.7 751.3h0M185.9 750.6h0M182.2 739h0M193.9 723.5h0M187.8 723.1h0M170 728.8h0M199.9 752.9h0M149.3 724.9h0M173.9 750.5h0M173.3 749.3h0M201.4 745.6h0M175.5 759.7h0M170.5 746.3h0M159.3 749.2h0M164.3 748h0M166.8 734.8h0M176.1 764.7h0M177.2 761.9h0M187.3 743.7h0M161.9 729.4h0M150.9 729.7h0M185 734.6h0M187.9 741.4h0M209.8 738.1h0M190.1 739.7h0M177.6 736.5h0M168.5 746.3h0M179 784.2h0M185.1 739.1h0"/>
<path class="k" stroke="#3b8387" stroke-width="3.55" d="M153.8 732.9h0M134.5 751.1h0M175.4 742h0M168.6 731.9h0M120.9 715.9h0M154.5 734.3h0M160.9 750.3h0M141.5 726.6h0M149.9 733.9h0M139.7 744h0M153.8 749.1h0M148.2 741.2h0M164.6 736.5h0M198.7 762.7h0M170.2 742.8h0M155.4 747.8h0M152.3 732.9h0M158.8 736.9h0M169.6 765.7h0M142.4 730.9h0M144.3 747h0M146.8 767.2h0M167.4 720h0M163 746.9h0M152.9 728h0M152.3 727.7h0M154.6 741.4h0M157 739.6h0M132.4 746.9h0M146.5 744.9h0M140.9 748.8h0M144.5 749.4h0M167.7 742.4h0M135.7 729.3h0M137.3 728h0M158.9 716.7h0M158.5 730.5h0"/>
<path class="k" stroke="#4ea8ac" stroke-width="2.85" d="M153.8 732.9h0M134.5 751.1h0M175.4 742h0M168.6 731.9h0M120.9 715.9h0M154.5 734.3h0M160.9 750.3h0M141.5 726.6h0M149.9 733.9h0M139.7 744h0M153.8 749.1h0M148.2 741.2h0M164.6 736.5h0M198.7 762.7h0M170.2 742.8h0M155.4 747.8h0M152.3 732.9h0M158.8 736.9h0M169.6 765.7h0M142.4 730.9h0M144.3 747h0M146.8 767.2h0M167.4 720h0M163 746.9h0M152.9 728h0M152.3 727.7h0M154.6 741.4h0M157 739.6h0M132.4 746.9h0M146.5 744.9h0M140.9 748.8h0M144.5 749.4h0M167.7 742.4h0M135.7 729.3h0M137.3 728h0M158.9 716.7h0M158.5 730.5h0"/>
<path class="k" stroke="#c48f9c" stroke-width="3.55" d="M130.3 753.4h0M123.7 783.9h0M121.3 723.6h0M125.1 776.7h0M157.6 734.7h0M171.2 798.9h0M138.2 757.2h0M145.3 768.2h0M161.6 743.5h0M157.1 784.2h0M142.1 767.6h0M127.2 771.2h0M151.1 761.3h0M150.8 766.2h0M146.3 757.5h0M117.1 766.1h0"/>
<path class="k" stroke="#f2b3c3" stroke-width="2.85" d="M130.3 753.4h0M123.7 783.9h0M121.3 723.6h0M125.1 776.7h0M157.6 734.7h0M171.2 798.9h0M138.2 757.2h0M145.3 768.2h0M161.6 743.5h0M157.1 784.2h0M142.1 767.6h0M127.2 771.2h0M151.1 761.3h0M150.8 766.2h0M146.3 757.5h0M117.1 766.1h0"/>
<path class="k" stroke="#8f8d99" stroke-width="3.55" d="M141 729.7h0M170.5 713h0M133.8 710.1h0M159.9 726.8h0M134 720.3h0"/>
<path class="k" stroke="#b9b7c3" stroke-width="2.85" d="M141 729.7h0M170.5 713h0M133.8 710.1h0M159.9 726.8h0M134 720.3h0"/>
<path class="k" stroke="#0d2736" stroke-width="3.55" d="M161.5 737.8h0M153 737.1h0"/>
<path class="k" stroke="#143a52" stroke-width="2.85" d="M161.5 737.8h0M153 737.1h0"/>
<path class="k" stroke="#3b8387" stroke-width="3.55" d="M141.1 745.2h0M137.7 761h0M144.4 730h0M144.6 751.4h0M162.9 723.8h0M140.5 743.4h0M157.5 741h0M145.9 751.3h0M142.1 729.5h0M178.9 754.8h0M146.1 750.8h0M152.3 732.2h0M162.5 716.3h0M156.1 744.5h0M142.9 755.2h0M141 723.4h0M164.3 747.4h0M159 733.5h0M142.2 732.7h0M117.5 756.7h0M149.3 755.8h0M148.5 754.5h0M145 742.4h0M175 739.6h0M164.4 732.3h0M154.7 728.6h0M160.2 730h0M147.2 742.8h0M159.2 747h0M170.6 734.2h0M168.9 735h0M157 738.2h0M192.5 720h0M154.1 743.3h0M163.4 736.5h0M140.9 732.4h0M152 745.5h0M142.8 749.4h0M148.5 722.5h0M143.5 744.4h0M134.3 714.1h0M162.8 721.9h0M161.9 736.1h0"/>
<path class="k" stroke="#4ea8ac" stroke-width="2.85" d="M141.1 745.2h0M137.7 761h0M144.4 730h0M144.6 751.4h0M162.9 723.8h0M140.5 743.4h0M157.5 741h0M145.9 751.3h0M142.1 729.5h0M178.9 754.8h0M146.1 750.8h0M152.3 732.2h0M162.5 716.3h0M156.1 744.5h0M142.9 755.2h0M141 723.4h0M164.3 747.4h0M159 733.5h0M142.2 732.7h0M117.5 756.7h0M149.3 755.8h0M148.5 754.5h0M145 742.4h0M175 739.6h0M164.4 732.3h0M154.7 728.6h0M160.2 730h0M147.2 742.8h0M159.2 747h0M170.6 734.2h0M168.9 735h0M157 738.2h0M192.5 720h0M154.1 743.3h0M163.4 736.5h0M140.9 732.4h0M152 745.5h0M142.8 749.4h0M148.5 722.5h0M143.5 744.4h0M134.3 714.1h0M162.8 721.9h0M161.9 736.1h0"/>
<path class="k" stroke="#3a5d8f" stroke-width="3.55" d="M166.7 781.5h0M171.6 757h0M175.4 755.8h0M144.8 773.4h0M149.7 756.4h0M150.7 734.6h0M145.8 741h0M174.4 751.5h0M156 760.5h0M167.2 757.7h0M159.8 760.9h0M162.6 717.1h0M158.8 784.8h0M153.3 760.8h0M150.4 764.4h0M168.1 753h0M154 754.7h0M199.7 724.6h0M198.8 784.9h0M188 783.6h0M185.5 757.3h0M164.8 759.9h0M163.6 751.2h0M164.6 766.2h0M183.1 763.4h0M113 729.6h0M132.6 759h0"/>
<path class="k" stroke="#4d77b6" stroke-width="2.85" d="M166.7 781.5h0M171.6 757h0M175.4 755.8h0M144.8 773.4h0M149.7 756.4h0M150.7 734.6h0M145.8 741h0M174.4 751.5h0M156 760.5h0M167.2 757.7h0M159.8 760.9h0M162.6 717.1h0M158.8 784.8h0M153.3 760.8h0M150.4 764.4h0M168.1 753h0M154 754.7h0M199.7 724.6h0M198.8 784.9h0M188 783.6h0M185.5 757.3h0M164.8 759.9h0M163.6 751.2h0M164.6 766.2h0M183.1 763.4h0M113 729.6h0M132.6 759h0"/>
<path class="k" stroke="#8f8d99" stroke-width="3.55" d="M175.8 720.1h0M152.4 700.8h0M166.6 724h0M154 717.3h0"/>
<path class="k" stroke="#b9b7c3" stroke-width="2.85" d="M175.8 720.1h0M152.4 700.8h0M166.6 724h0M154 717.3h0"/>
<path class="k" stroke="#386c8c" stroke-width="3.55" d="M175.8 767.4h0M184.2 741h0M158.4 739h0M182.1 714.4h0M153.4 738.7h0M173.8 738.5h0M167.1 726.2h0M169.7 745.3h0M179.1 719.6h0M159.5 754.9h0M198.5 744.8h0M156.7 729h0M187.3 716.6h0M154 750.8h0M183.4 761.1h0M190.1 734.4h0M161.5 745.5h0M177.7 732.7h0M160.5 735.6h0M166.3 743.5h0M201.9 752.9h0M152.9 725.9h0M193.7 722.5h0M184 753.3h0M167.9 761.8h0M169 747.8h0M158.2 741.5h0M196.9 763.2h0M186.6 768.9h0M176.7 746.6h0M174.7 750.9h0M172.5 720.9h0"/>
<path class="k" stroke="#4a8bb3" stroke-width="2.85" d="M175.8 767.4h0M184.2 741h0M158.4 739h0M182.1 714.4h0M153.4 738.7h0M173.8 738.5h0M167.1 726.2h0M169.7 745.3h0M179.1 719.6h0M159.5 754.9h0M198.5 744.8h0M156.7 729h0M187.3 716.6h0M154 750.8h0M183.4 761.1h0M190.1 734.4h0M161.5 745.5h0M177.7 732.7h0M160.5 735.6h0M166.3 743.5h0M201.9 752.9h0M152.9 725.9h0M193.7 722.5h0M184 753.3h0M167.9 761.8h0M169 747.8h0M158.2 741.5h0M196.9 763.2h0M186.6 768.9h0M176.7 746.6h0M174.7 750.9h0M172.5 720.9h0"/>
<path class="k" stroke="#c48f9c" stroke-width="3.55" d="M159 738.6h0M121.1 732.4h0M144.1 770.1h0M146.8 738.1h0M172.5 750h0M125.2 767.4h0M153.2 729.4h0M133.4 768h0M151.1 759h0M109.3 746.2h0M172.6 752.4h0M153.6 731.4h0M138.8 770.4h0M147 762.8h0"/>
<path class="k" stroke="#f2b3c3" stroke-width="2.85" d="M159 738.6h0M121.1 732.4h0M144.1 770.1h0M146.8 738.1h0M172.5 750h0M125.2 767.4h0M153.2 729.4h0M133.4 768h0M151.1 759h0M109.3 746.2h0M172.6 752.4h0M153.6 731.4h0M138.8 770.4h0M147 762.8h0"/>
<path class="k" stroke="#3a5d8f" stroke-width="3.55" d="M164.1 765.8h0M178.8 755.4h0M168.6 766.7h0M167.1 770.8h0M157.1 769.7h0M147.2 756.1h0M135.6 753h0M137.4 753.6h0M164.1 755.3h0M152.6 776.4h0M171 738.5h0M192.2 781.5h0M161.5 752.1h0M178.2 756h0M153.4 765.1h0M201 758.3h0M165.7 782.5h0M156.4 751.9h0M149.5 775.4h0M164.7 784.3h0M158 757.1h0M167 752.9h0M166.8 750.5h0M162.2 766h0M146.3 761.1h0M191.7 772.3h0M178.9 737.8h0M146.6 755.6h0M154.2 750.3h0M156.3 769.4h0M138.1 764.4h0M176.9 753.3h0M159.5 755.8h0M165.1 757.8h0M139.5 767.6h0"/>
<path class="k" stroke="#4d77b6" stroke-width="2.85" d="M164.1 765.8h0M178.8 755.4h0M168.6 766.7h0M167.1 770.8h0M157.1 769.7h0M147.2 756.1h0M135.6 753h0M137.4 753.6h0M164.1 755.3h0M152.6 776.4h0M171 738.5h0M192.2 781.5h0M161.5 752.1h0M178.2 756h0M153.4 765.1h0M201 758.3h0M165.7 782.5h0M156.4 751.9h0M149.5 775.4h0M164.7 784.3h0M158 757.1h0M167 752.9h0M166.8 750.5h0M162.2 766h0M146.3 761.1h0M191.7 772.3h0M178.9 737.8h0M146.6 755.6h0M154.2 750.3h0M156.3 769.4h0M138.1 764.4h0M176.9 753.3h0M159.5 755.8h0M165.1 757.8h0M139.5 767.6h0"/>
<path class="k" stroke="#3b8387" stroke-width="3.55" d="M134.2 763h0M170 744.1h0M125.7 731h0M161.5 740.8h0M146.5 742.7h0M136.3 745h0M161.1 744h0M116.9 741h0M158.3 739.3h0M156.1 738.5h0M148.4 757.1h0M156.5 739.4h0M150.6 738.2h0M148.2 738.7h0M131.1 739.2h0M135.2 739.3h0M144.3 728.5h0M155.5 735.3h0M149.6 737.1h0M118 732.6h0M124.6 758.5h0M157.9 750.6h0M145 755h0M152.7 727.5h0M140.6 748.4h0M150.3 752.1h0M159.3 739.4h0M163.7 729h0M140.9 732.2h0M151.5 734.4h0M154.3 757.7h0M125.7 725.7h0M143 747.7h0M148.9 741.8h0M147.1 734.1h0M144.5 747.9h0M150.4 724.7h0M140.7 731.2h0M152.1 745.5h0M164.3 744.4h0M164.2 742.8h0"/>
<path class="k" stroke="#4ea8ac" stroke-width="2.85" d="M134.2 763h0M170 744.1h0M125.7 731h0M161.5 740.8h0M146.5 742.7h0M136.3 745h0M161.1 744h0M116.9 741h0M158.3 739.3h0M156.1 738.5h0M148.4 757.1h0M156.5 739.4h0M150.6 738.2h0M148.2 738.7h0M131.1 739.2h0M135.2 739.3h0M144.3 728.5h0M155.5 735.3h0M149.6 737.1h0M118 732.6h0M124.6 758.5h0M157.9 750.6h0M145 755h0M152.7 727.5h0M140.6 748.4h0M150.3 752.1h0M159.3 739.4h0M163.7 729h0M140.9 732.2h0M151.5 734.4h0M154.3 757.7h0M125.7 725.7h0M143 747.7h0M148.9 741.8h0M147.1 734.1h0M144.5 747.9h0M150.4 724.7h0M140.7 731.2h0M152.1 745.5h0M164.3 744.4h0M164.2 742.8h0"/>
<path class="k" stroke="#386c8c" stroke-width="3.55" d="M176.9 736.6h0M184 730.5h0M179.1 723h0M175.4 743.2h0M181.3 734.6h0M182 747.7h0M157.5 742.1h0M174.8 743.4h0M180.4 753.9h0M208.3 737.4h0M200.4 736.4h0M137.1 766.5h0M175.1 748.6h0M160.6 749.6h0M145.9 760.9h0M178.7 737.7h0M150.3 756.8h0M181.1 756.9h0M179.1 740.5h0M171.6 747.1h0M178.2 786.9h0M175.7 747.4h0M198.8 754.3h0"/>
<path class="k" stroke="#4a8bb3" stroke-width="2.85" d="M176.9 736.6h0M184 730.5h0M179.1 723h0M175.4 743.2h0M181.3 734.6h0M182 747.7h0M157.5 742.1h0M174.8 743.4h0M180.4 753.9h0M208.3 737.4h0M200.4 736.4h0M137.1 766.5h0M175.1 748.6h0M160.6 749.6h0M145.9 760.9h0M178.7 737.7h0M150.3 756.8h0M181.1 756.9h0M179.1 740.5h0M171.6 747.1h0M178.2 786.9h0M175.7 747.4h0M198.8 754.3h0"/>
<path class="k" stroke="#c48f9c" stroke-width="3.55" d="M139.7 782.4h0M165.1 759.1h0M115.1 746.6h0M150.1 757.5h0M135.3 766h0M185.6 759.4h0M125 760h0M169.2 765.7h0M145.1 768.3h0M187.3 715.3h0M133 765.4h0M164.5 756.1h0M135.4 778.4h0M142 745.5h0"/>
<path class="k" stroke="#f2b3c3" stroke-width="2.85" d="M139.7 782.4h0M165.1 759.1h0M115.1 746.6h0M150.1 757.5h0M135.3 766h0M185.6 759.4h0M125 760h0M169.2 765.7h0M145.1 768.3h0M187.3 715.3h0M133 765.4h0M164.5 756.1h0M135.4 778.4h0M142 745.5h0"/>
<path class="k" stroke="#8f8d99" stroke-width="3.55" d="M145.8 723.6h0M168.3 719.4h0M167.5 716.8h0M137.1 713h0M164.6 718.8h0M155.6 727h0M149.1 725.9h0"/>
<path class="k" stroke="#b9b7c3" stroke-width="2.85" d="M145.8 723.6h0M168.3 719.4h0M167.5 716.8h0M137.1 713h0M164.6 718.8h0M155.6 727h0M149.1 725.9h0"/>
<path class="k" stroke="#386c8c" stroke-width="3.55" d="M189.7 740.6h0M192.2 734.4h0M156.5 744.5h0M139.8 747.7h0M192.9 738.9h0M186.7 711.8h0M169.4 780h0M175.5 751h0M172.7 735.6h0M169.1 744.1h0M159.2 740.9h0M170.8 747.5h0M169.5 766h0M177 736.6h0M174.3 741.3h0M178.2 731.6h0M181.3 729.6h0M196.2 763.8h0M183.1 720.5h0M206 757.2h0M178.2 744.9h0M149.3 741.9h0M186.2 769.1h0M177.2 772h0M195.2 736.2h0M174.9 720.4h0M171.9 725.8h0M168.9 750.9h0M168.5 748.2h0M165.3 744.6h0M136.5 748.8h0"/>
<path class="k" stroke="#4a8bb3" stroke-width="2.85" d="M189.7 740.6h0M192.2 734.4h0M156.5 744.5h0M139.8 747.7h0M192.9 738.9h0M186.7 711.8h0M169.4 780h0M175.5 751h0M172.7 735.6h0M169.1 744.1h0M159.2 740.9h0M170.8 747.5h0M169.5 766h0M177 736.6h0M174.3 741.3h0M178.2 731.6h0M181.3 729.6h0M196.2 763.8h0M183.1 720.5h0M206 757.2h0M178.2 744.9h0M149.3 741.9h0M186.2 769.1h0M177.2 772h0M195.2 736.2h0M174.9 720.4h0M171.9 725.8h0M168.9 750.9h0M168.5 748.2h0M165.3 744.6h0M136.5 748.8h0"/>
<path class="k" stroke="#3a5d8f" stroke-width="3.55" d="M159.8 785h0M171.3 782.8h0M162.6 760.9h0M180.8 743.2h0M171.5 757h0M164 750h0M165.8 730.6h0M153.7 759.2h0M142.8 766.8h0M164.6 771.9h0M146.4 746.9h0M168.8 760.9h0M157.6 763h0M162 772.4h0M165.8 736.4h0M173.9 750.2h0M204.6 773.8h0M149.6 757.5h0M148.2 744.9h0M159.9 778.8h0M186.7 765h0M165.5 749.2h0M181.2 752.2h0M168.9 780.7h0M165.6 765.4h0M174.6 773h0M177.4 761.3h0M182.9 763.1h0M160.7 770.8h0M181.1 734h0M157.6 772.3h0M149.9 757.7h0M175.2 762h0"/>
<path class="k" stroke="#4d77b6" stroke-width="2.85" d="M159.8 785h0M171.3 782.8h0M162.6 760.9h0M180.8 743.2h0M171.5 757h0M164 750h0M165.8 730.6h0M153.7 759.2h0M142.8 766.8h0M164.6 771.9h0M146.4 746.9h0M168.8 760.9h0M157.6 763h0M162 772.4h0M165.8 736.4h0M173.9 750.2h0M204.6 773.8h0M149.6 757.5h0M148.2 744.9h0M159.9 778.8h0M186.7 765h0M165.5 749.2h0M181.2 752.2h0M168.9 780.7h0M165.6 765.4h0M174.6 773h0M177.4 761.3h0M182.9 763.1h0M160.7 770.8h0M181.1 734h0M157.6 772.3h0M149.9 757.7h0M175.2 762h0"/>
<path class="k" stroke="#3b8387" stroke-width="3.55" d="M153 746.4h0M142.1 733.4h0M135.4 745.9h0M159.3 734.7h0M167 726h0M141.8 722.1h0M124.4 722.9h0M127.2 760.6h0M128.5 741.2h0M133.4 737.9h0M130.2 741.6h0M124.3 745.8h0M144.9 748.9h0M156.5 744.6h0M160 752.4h0M165.5 749.4h0M193.5 757.2h0M182.5 763.7h0M139.2 746.5h0M162.8 735h0M147 744.7h0M135 734.3h0M163.5 744.2h0M163.9 749.8h0M147.5 740.1h0M160.5 733.9h0M164.6 734.4h0M127.6 725.7h0M152.1 730.2h0M160.6 741h0M145.8 722.1h0M143.4 753.1h0M134.3 757.9h0M158.2 758h0M141.5 733.3h0M145.5 730.7h0M144.5 730.5h0M140.1 737h0M153.8 741.3h0M141.7 733.7h0M157.5 752.4h0"/>
<path class="k" stroke="#4ea8ac" stroke-width="2.85" d="M153 746.4h0M142.1 733.4h0M135.4 745.9h0M159.3 734.7h0M167 726h0M141.8 722.1h0M124.4 722.9h0M127.2 760.6h0M128.5 741.2h0M133.4 737.9h0M130.2 741.6h0M124.3 745.8h0M144.9 748.9h0M156.5 744.6h0M160 752.4h0M165.5 749.4h0M193.5 757.2h0M182.5 763.7h0M139.2 746.5h0M162.8 735h0M147 744.7h0M135 734.3h0M163.5 744.2h0M163.9 749.8h0M147.5 740.1h0M160.5 733.9h0M164.6 734.4h0M127.6 725.7h0M152.1 730.2h0M160.6 741h0M145.8 722.1h0M143.4 753.1h0M134.3 757.9h0M158.2 758h0M141.5 733.3h0M145.5 730.7h0M144.5 730.5h0M140.1 737h0M153.8 741.3h0M141.7 733.7h0M157.5 752.4h0"/>
<path class="k" stroke="#c48f9c" stroke-width="3.55" d="M123.9 764.5h0M140.4 769.7h0M117.4 761.9h0M166.8 779.4h0M141.3 758.4h0M132.9 787.7h0M121.9 705.1h0M162.6 735.1h0M144.2 734.4h0M176.4 718.2h0M151.1 775.3h0M161.4 743.4h0M134.4 751.5h0"/>
<path class="k" stroke="#f2b3c3" stroke-width="2.85" d="M123.9 764.5h0M140.4 769.7h0M117.4 761.9h0M166.8 779.4h0M141.3 758.4h0M132.9 787.7h0M121.9 705.1h0M162.6 735.1h0M144.2 734.4h0M176.4 718.2h0M151.1 775.3h0M161.4 743.4h0M134.4 751.5h0"/>
<path class="k" stroke="#8f8d99" stroke-width="3.55" d="M178.9 721h0M161.7 722.6h0"/>
<path class="k" stroke="#b9b7c3" stroke-width="2.85" d="M178.9 721h0M161.7 722.6h0"/>
<path class="k" stroke="#386c8c" stroke-width="3.55" d="M166.7 726.1h0M183.6 744.6h0M168.1 735.9h0M182.1 749.9h0M176.1 727.7h0M163.8 743.3h0M177.2 755.3h0M181.3 732.7h0M193.9 719.3h0M150.9 752.4h0M144.2 756.7h0M195.3 726.6h0M162.8 759.7h0M192.8 759.9h0M186.9 743.9h0M168 758.9h0M191.6 749.8h0M158.7 749.1h0M194.7 737.2h0M149.4 757h0M127.6 761.1h0M183.1 731.8h0M168 763.1h0M212 730.1h0M172.7 719.5h0M198.7 709h0M142.7 734h0M197.1 717.9h0M178.2 740.8h0M154.6 728.9h0M164.6 733.1h0M187.2 759.1h0M208.5 717.6h0M164.9 749.8h0M186.3 731.7h0M164.1 728.7h0M152.2 755h0M167.6 744.8h0M177.9 752.2h0M186.1 731.7h0M166.3 753.3h0M149 759h0M182.2 743h0"/>
<path class="k" stroke="#4a8bb3" stroke-width="2.85" d="M166.7 726.1h0M183.6 744.6h0M168.1 735.9h0M182.1 749.9h0M176.1 727.7h0M163.8 743.3h0M177.2 755.3h0M181.3 732.7h0M193.9 719.3h0M150.9 752.4h0M144.2 756.7h0M195.3 726.6h0M162.8 759.7h0M192.8 759.9h0M186.9 743.9h0M168 758.9h0M191.6 749.8h0M158.7 749.1h0M194.7 737.2h0M149.4 757h0M127.6 761.1h0M183.1 731.8h0M168 763.1h0M212 730.1h0M172.7 719.5h0M198.7 709h0M142.7 734h0M197.1 717.9h0M178.2 740.8h0M154.6 728.9h0M164.6 733.1h0M187.2 759.1h0M208.5 717.6h0M164.9 749.8h0M186.3 731.7h0M164.1 728.7h0M152.2 755h0M167.6 744.8h0M177.9 752.2h0M186.1 731.7h0M166.3 753.3h0M149 759h0M182.2 743h0"/>
<path class="k" stroke="#0d2736" stroke-width="3.55" d="M158.1 731.5h0M172.6 725.6h0"/>
<path class="k" stroke="#143a52" stroke-width="2.85" d="M158.1 731.5h0M172.6 725.6h0"/>
<path class="k" stroke="#c48f9c" stroke-width="3.55" d="M158.9 779.9h0M153 766.7h0M156.5 741.3h0M143.6 769.4h0M148.2 727h0M149.4 762.4h0M190.3 747h0M154.3 748.7h0M136.3 772.5h0"/>
<path class="k" stroke="#f2b3c3" stroke-width="2.85" d="M158.9 779.9h0M153 766.7h0M156.5 741.3h0M143.6 769.4h0M148.2 727h0M149.4 762.4h0M190.3 747h0M154.3 748.7h0M136.3 772.5h0"/>
<path class="k" stroke="#3b8387" stroke-width="3.55" d="M145.5 757.6h0M148.6 745.6h0M142.6 737.5h0M139.1 740.5h0M161.6 732.9h0M151.5 733.3h0M150.5 729.7h0M169 757.4h0M128.6 759.2h0M149.4 728.9h0M131.2 758.7h0M152.8 741.3h0M171 761.8h0M139.1 711.5h0M166 738.9h0M156.6 743.4h0M136.6 746.8h0M146 733.3h0M145.1 730.3h0M142.3 757.6h0M123.5 733.3h0M162.3 726.2h0M144.3 750.3h0M149.7 736.7h0M147.2 734.9h0M128.4 758.4h0M127.4 745.2h0M152.2 757.6h0M145.3 730.6h0M136.3 732.6h0"/>
<path class="k" stroke="#4ea8ac" stroke-width="2.85" d="M145.5 757.6h0M148.6 745.6h0M142.6 737.5h0M139.1 740.5h0M161.6 732.9h0M151.5 733.3h0M150.5 729.7h0M169 757.4h0M128.6 759.2h0M149.4 728.9h0M131.2 758.7h0M152.8 741.3h0M171 761.8h0M139.1 711.5h0M166 738.9h0M156.6 743.4h0M136.6 746.8h0M146 733.3h0M145.1 730.3h0M142.3 757.6h0M123.5 733.3h0M162.3 726.2h0M144.3 750.3h0M149.7 736.7h0M147.2 734.9h0M128.4 758.4h0M127.4 745.2h0M152.2 757.6h0M145.3 730.6h0M136.3 732.6h0"/>
<path class="k" stroke="#3a5d8f" stroke-width="3.55" d="M173.9 767.6h0M176.2 761.9h0M138.1 716.9h0M141.8 762.1h0M176.1 762.4h0M181 740.9h0M154.2 749.1h0M189 768.8h0M160.6 758.7h0M149.9 752.7h0M131.6 762.4h0M149.6 760.4h0M169.1 766.3h0M157.5 729.8h0M172.1 745.4h0M149.9 763.6h0M144.2 769.5h0M166.2 745.3h0M182.1 776.5h0M133.6 759.7h0M193.4 770.9h0M159.8 767.5h0M180.6 759.4h0M181 748.3h0M157.5 734.8h0M173.1 766h0M159.2 759.3h0M157.5 767.3h0M179.9 766.7h0"/>
<path class="k" stroke="#4d77b6" stroke-width="2.85" d="M173.9 767.6h0M176.2 761.9h0M138.1 716.9h0M141.8 762.1h0M176.1 762.4h0M181 740.9h0M154.2 749.1h0M189 768.8h0M160.6 758.7h0M149.9 752.7h0M131.6 762.4h0M149.6 760.4h0M169.1 766.3h0M157.5 729.8h0M172.1 745.4h0M149.9 763.6h0M144.2 769.5h0M166.2 745.3h0M182.1 776.5h0M133.6 759.7h0M193.4 770.9h0M159.8 767.5h0M180.6 759.4h0M181 748.3h0M157.5 734.8h0M173.1 766h0M159.2 759.3h0M157.5 767.3h0M179.9 766.7h0"/>
<path class="k" stroke="#8f8d99" stroke-width="3.55" d="M167.1 718.6h0M149.6 724.4h0M140.4 723.4h0M163.9 735.3h0M152.5 704.8h0M145.6 721.8h0M142.9 712.1h0"/>
<path class="k" stroke="#b9b7c3" stroke-width="2.85" d="M167.1 718.6h0M149.6 724.4h0M140.4 723.4h0M163.9 735.3h0M152.5 704.8h0M145.6 721.8h0M142.9 712.1h0"/>
<path class="k" stroke="#386c8c" stroke-width="3.55" d="M184.1 749.2h0M165.6 737.1h0M207.6 741.9h0M184.6 749.5h0M197.6 764.7h0M173 739.3h0M176.8 768.1h0M181.9 754.8h0M186.4 755h0M168.3 751h0M170.1 744.5h0M135.6 761.1h0M173.5 772.9h0M172.6 776.1h0M181.5 737.1h0M209.1 743h0M183.5 742.4h0M184.6 735.5h0M148.9 738.6h0M197 720.6h0M144.2 752.2h0M151.4 765.7h0M157 746.1h0M173.1 732.1h0M168.3 713.3h0M183.5 727.9h0M159.1 730.6h0M163.3 757.2h0M172.9 768.3h0M180.1 745.9h0"/>
<path class="k" stroke="#4a8bb3" stroke-width="2.85" d="M184.1 749.2h0M165.6 737.1h0M207.6 741.9h0M184.6 749.5h0M197.6 764.7h0M173 739.3h0M176.8 768.1h0M181.9 754.8h0M186.4 755h0M168.3 751h0M170.1 744.5h0M135.6 761.1h0M173.5 772.9h0M172.6 776.1h0M181.5 737.1h0M209.1 743h0M183.5 742.4h0M184.6 735.5h0M148.9 738.6h0M197 720.6h0M144.2 752.2h0M151.4 765.7h0M157 746.1h0M173.1 732.1h0M168.3 713.3h0M183.5 727.9h0M159.1 730.6h0M163.3 757.2h0M172.9 768.3h0M180.1 745.9h0"/>
<path class="k" stroke="#3b8387" stroke-width="3.55" d="M145.1 738.2h0M152.3 756.3h0M144 749.2h0M159.2 746.2h0M173.1 746h0M169.8 736.6h0M135 740.4h0M133.2 748h0M189.4 757.4h0M161 755.1h0M146 757.9h0M209.4 769.7h0M149.3 745.1h0M156.4 746.2h0M204.2 707.6h0M150.5 726.3h0M170.5 745.2h0M174.1 746.1h0M153.3 753h0M156.9 747.8h0M133.1 742.9h0M166.1 744.7h0M126.9 759.3h0M163.3 755h0M143.5 734.7h0M168.1 738.4h0M148.3 747h0M148.5 746.3h0M143 752.8h0M127.5 757.6h0M154.1 759.8h0M174.8 752.5h0M145.2 746.3h0M158.5 738.2h0M162.4 744.9h0M188 730h0M158.6 734.5h0M132.6 734.2h0M136.6 756.4h0M144.7 725.4h0M113.1 757.9h0M156 746.1h0M141.2 741.2h0M145.6 756.8h0"/>
<path class="k" stroke="#4ea8ac" stroke-width="2.85" d="M145.1 738.2h0M152.3 756.3h0M144 749.2h0M159.2 746.2h0M173.1 746h0M169.8 736.6h0M135 740.4h0M133.2 748h0M189.4 757.4h0M161 755.1h0M146 757.9h0M209.4 769.7h0M149.3 745.1h0M156.4 746.2h0M204.2 707.6h0M150.5 726.3h0M170.5 745.2h0M174.1 746.1h0M153.3 753h0M156.9 747.8h0M133.1 742.9h0M166.1 744.7h0M126.9 759.3h0M163.3 755h0M143.5 734.7h0M168.1 738.4h0M148.3 747h0M148.5 746.3h0M143 752.8h0M127.5 757.6h0M154.1 759.8h0M174.8 752.5h0M145.2 746.3h0M158.5 738.2h0M162.4 744.9h0M188 730h0M158.6 734.5h0M132.6 734.2h0M136.6 756.4h0M144.7 725.4h0M113.1 757.9h0M156 746.1h0M141.2 741.2h0M145.6 756.8h0"/>
<path class="k" stroke="#8f8d99" stroke-width="3.55" d="M166.2 726.7h0M132.4 717.7h0M141.5 703.2h0M156.8 709.6h0M145.6 704.2h0M181.7 721.3h0M141.4 720.4h0M164.1 712.3h0M144.9 710.5h0M143.3 720.4h0"/>
<path class="k" stroke="#b9b7c3" stroke-width="2.85" d="M166.2 726.7h0M132.4 717.7h0M141.5 703.2h0M156.8 709.6h0M145.6 704.2h0M181.7 721.3h0M141.4 720.4h0M164.1 712.3h0M144.9 710.5h0M143.3 720.4h0"/>
<path class="k" stroke="#3a5d8f" stroke-width="3.55" d="M176.4 767.8h0M172 763.2h0M158.5 751.2h0M154.3 754.5h0M150.8 769h0M166.3 778h0M173.9 755.4h0M141.1 756.4h0M155.5 769.2h0M178.3 758h0M164.5 764h0M145.9 776.5h0M161.9 760h0M166.5 754.1h0M170.9 773.4h0M128.7 722.4h0M172 758.7h0M180.4 773.3h0M141.9 756h0M146.5 747.7h0M165.5 772.1h0M166.3 777.8h0M178.8 754.9h0M159.2 749.7h0M174.8 767.2h0"/>
<path class="k" stroke="#4d77b6" stroke-width="2.85" d="M176.4 767.8h0M172 763.2h0M158.5 751.2h0M154.3 754.5h0M150.8 769h0M166.3 778h0M173.9 755.4h0M141.1 756.4h0M155.5 769.2h0M178.3 758h0M164.5 764h0M145.9 776.5h0M161.9 760h0M166.5 754.1h0M170.9 773.4h0M128.7 722.4h0M172 758.7h0M180.4 773.3h0M141.9 756h0M146.5 747.7h0M165.5 772.1h0M166.3 777.8h0M178.8 754.9h0M159.2 749.7h0M174.8 767.2h0"/>
<path class="k" stroke="#c48f9c" stroke-width="3.55" d="M138.9 766.3h0M172.9 735.1h0M147.2 768.1h0M161.1 751.9h0M114.3 746.5h0M142 768.1h0M147 784h0M127.3 768.7h0M175.6 754.8h0M174.5 750.9h0"/>
<path class="k" stroke="#f2b3c3" stroke-width="2.85" d="M138.9 766.3h0M172.9 735.1h0M147.2 768.1h0M161.1 751.9h0M114.3 746.5h0M142 768.1h0M147 784h0M127.3 768.7h0M175.6 754.8h0M174.5 750.9h0"/>
<path class="k" stroke="#0d2736" stroke-width="3.55" d="M142 743.4h0"/>
<path class="k" stroke="#143a52" stroke-width="2.85" d="M142 743.4h0"/>
<path class="k" stroke="#c48f9c" stroke-width="3.55" d="M123.6 760.2h0M156.5 771h0M181.1 768.5h0M155.4 768.8h0M149.1 739.1h0M141.4 746.7h0M163.9 774.6h0M147.5 778.8h0M138.4 765.4h0M146.7 776.5h0M146.9 763.5h0M138 777h0"/>
<path class="k" stroke="#f2b3c3" stroke-width="2.85" d="M123.6 760.2h0M156.5 771h0M181.1 768.5h0M155.4 768.8h0M149.1 739.1h0M141.4 746.7h0M163.9 774.6h0M147.5 778.8h0M138.4 765.4h0M146.7 776.5h0M146.9 763.5h0M138 777h0"/>
<path class="k" stroke="#3b8387" stroke-width="3.55" d="M125.9 747.9h0M150.6 745.4h0M161.4 738.1h0M181.2 761.2h0M178.1 744.9h0M146.9 726h0M142.4 748.8h0M162.6 733.9h0M153.1 745.2h0M156.8 736.5h0M159.9 749.6h0M149.1 744.9h0M172 733.3h0M162.4 738.2h0M142.6 750.4h0M174.3 742.4h0M148.2 737.5h0M130.5 744.1h0M166.7 758.8h0M139.4 750.2h0M145.8 771.6h0M156.6 756.9h0M119.8 758h0M168.2 755.9h0M171 736.1h0M157.6 761.3h0M149.7 736.7h0M172.2 736.4h0M152.4 749.7h0M156 739.2h0M130.7 734.6h0M114.9 767.7h0M136.2 726.7h0M137 747.9h0M145.5 744.1h0M151 714.8h0M162.5 733.2h0M138.2 761.7h0M150.9 730.5h0M138.3 746.7h0M144 742.5h0M141.2 743.6h0M129 709.2h0M169 763.2h0M140.9 760.1h0M144.6 724.7h0M135.8 739.8h0M137.6 727.2h0M157.1 734.6h0"/>
<path class="k" stroke="#4ea8ac" stroke-width="2.85" d="M125.9 747.9h0M150.6 745.4h0M161.4 738.1h0M181.2 761.2h0M178.1 744.9h0M146.9 726h0M142.4 748.8h0M162.6 733.9h0M153.1 745.2h0M156.8 736.5h0M159.9 749.6h0M149.1 744.9h0M172 733.3h0M162.4 738.2h0M142.6 750.4h0M174.3 742.4h0M148.2 737.5h0M130.5 744.1h0M166.7 758.8h0M139.4 750.2h0M145.8 771.6h0M156.6 756.9h0M119.8 758h0M168.2 755.9h0M171 736.1h0M157.6 761.3h0M149.7 736.7h0M172.2 736.4h0M152.4 749.7h0M156 739.2h0M130.7 734.6h0M114.9 767.7h0M136.2 726.7h0M137 747.9h0M145.5 744.1h0M151 714.8h0M162.5 733.2h0M138.2 761.7h0M150.9 730.5h0M138.3 746.7h0M144 742.5h0M141.2 743.6h0M129 709.2h0M169 763.2h0M140.9 760.1h0M144.6 724.7h0M135.8 739.8h0M137.6 727.2h0M157.1 734.6h0"/>
<path class="k" stroke="#386c8c" stroke-width="3.55" d="M176.4 737.8h0M178.6 732.8h0M192.1 742.5h0M146.8 756.8h0M175.1 728.5h0M169.6 764.3h0M180 751.3h0M189.4 746.1h0M164.7 747.7h0M173.9 753.7h0M152.4 756h0M172 753.5h0M188.5 735.2h0M221.1 746.1h0M179.7 724h0M185.5 740.4h0M165.9 731.1h0M162.6 745.9h0M166.8 746.7h0M193 752h0M198.8 751.9h0M203.1 742.7h0M176.3 734.3h0M166.8 743.2h0M168.1 746.9h0M166.6 742.8h0"/>
<path class="k" stroke="#4a8bb3" stroke-width="2.85" d="M176.4 737.8h0M178.6 732.8h0M192.1 742.5h0M146.8 756.8h0M175.1 728.5h0M169.6 764.3h0M180 751.3h0M189.4 746.1h0M164.7 747.7h0M173.9 753.7h0M152.4 756h0M172 753.5h0M188.5 735.2h0M221.1 746.1h0M179.7 724h0M185.5 740.4h0M165.9 731.1h0M162.6 745.9h0M166.8 746.7h0M193 752h0M198.8 751.9h0M203.1 742.7h0M176.3 734.3h0M166.8 743.2h0M168.1 746.9h0M166.6 742.8h0"/>
<path class="k" stroke="#3a5d8f" stroke-width="3.55" d="M181.3 727.2h0M162.4 758.6h0M154.7 761.8h0M128.5 760.8h0M172.5 769.1h0M153.5 764.9h0M206.1 759.9h0M163.7 756.3h0M144 753.8h0M158.3 756.6h0M159 758h0M160.6 758.3h0M161.9 759.3h0M180.4 758.5h0M161.2 761.4h0M170.3 758.1h0M206 757.8h0M154.5 770.8h0M165.2 753h0M187.5 764.3h0M179.4 773.6h0M168 766.2h0M174 753.9h0M165.2 758.2h0M146.3 760.4h0M163.2 767h0"/>
<path class="k" stroke="#4d77b6" stroke-width="2.85" d="M181.3 727.2h0M162.4 758.6h0M154.7 761.8h0M128.5 760.8h0M172.5 769.1h0M153.5 764.9h0M206.1 759.9h0M163.7 756.3h0M144 753.8h0M158.3 756.6h0M159 758h0M160.6 758.3h0M161.9 759.3h0M180.4 758.5h0M161.2 761.4h0M170.3 758.1h0M206 757.8h0M154.5 770.8h0M165.2 753h0M187.5 764.3h0M179.4 773.6h0M168 766.2h0M174 753.9h0M165.2 758.2h0M146.3 760.4h0M163.2 767h0"/>
<path class="k" stroke="#0d2736" stroke-width="3.55" d="M159.2 728h0"/>
<path class="k" stroke="#143a52" stroke-width="2.85" d="M159.2 728h0"/>
<path class="k" stroke="#8f8d99" stroke-width="3.55" d="M140.1 712.6h0M140.6 711.3h0M159.5 724h0M149.3 725h0M147.4 720.3h0M154 715.2h0"/>
<path class="k" stroke="#b9b7c3" stroke-width="2.85" d="M140.1 712.6h0M140.6 711.3h0M159.5 724h0M149.3 725h0M147.4 720.3h0M154 715.2h0"/>
<path class="k" stroke="#8f8d99" stroke-width="3.55" d="M163.7 719.1h0M142.2 716.2h0M171.5 728.5h0M147.9 708.3h0M165.8 725.9h0"/>
<path class="k" stroke="#b9b7c3" stroke-width="2.85" d="M163.7 719.1h0M142.2 716.2h0M171.5 728.5h0M147.9 708.3h0M165.8 725.9h0"/>
<path class="k" stroke="#3a5d8f" stroke-width="3.55" d="M174.9 755.8h0M152.3 755.1h0M150 762.6h0M164 768.1h0M167.3 766.5h0M166 761.1h0M163.2 749.8h0M209.4 765.5h0M173.4 768.9h0M163.8 761.4h0M155.9 770.6h0M156.8 754.8h0M157.5 754.8h0M164 773.5h0M172.2 766.4h0M185.9 764.8h0M166.7 764.5h0M169 745.3h0M162.7 740.5h0M155.4 756.7h0M158.3 721.7h0M160 770.1h0M140.8 761.8h0M153.3 744.9h0M126.9 737.1h0M171.5 761.8h0M165.8 776.3h0M156.1 764.1h0M133.1 765.7h0M161.7 778.4h0M156.8 761.8h0M144.2 764.4h0M159.3 778.9h0M153.2 752.9h0M152.4 753.1h0"/>
<path class="k" stroke="#4d77b6" stroke-width="2.85" d="M174.9 755.8h0M152.3 755.1h0M150 762.6h0M164 768.1h0M167.3 766.5h0M166 761.1h0M163.2 749.8h0M209.4 765.5h0M173.4 768.9h0M163.8 761.4h0M155.9 770.6h0M156.8 754.8h0M157.5 754.8h0M164 773.5h0M172.2 766.4h0M185.9 764.8h0M166.7 764.5h0M169 745.3h0M162.7 740.5h0M155.4 756.7h0M158.3 721.7h0M160 770.1h0M140.8 761.8h0M153.3 744.9h0M126.9 737.1h0M171.5 761.8h0M165.8 776.3h0M156.1 764.1h0M133.1 765.7h0M161.7 778.4h0M156.8 761.8h0M144.2 764.4h0M159.3 778.9h0M153.2 752.9h0M152.4 753.1h0"/>
<path class="k" stroke="#3b8387" stroke-width="3.55" d="M150.6 736.7h0M167.5 740.9h0M155.6 734.9h0M168 747.9h0M145.6 749.7h0M164.8 745.7h0M126.8 741.6h0M153.4 725.5h0M203.1 724.9h0M136.3 749.6h0M156.6 737.6h0M150.3 754.6h0M184.2 733.9h0M139.8 728.2h0M126.7 747.1h0M160.2 752.2h0M152.6 746.7h0M166 742.4h0M156.5 731.8h0M161.3 753.9h0M152.9 736.9h0M174.9 750.8h0M145.6 737.8h0M169.6 717.7h0M149.2 726.3h0M152.3 760.2h0M160.3 739.4h0M149.5 738.9h0M154.7 737.7h0M160.7 740.5h0M156.2 748.5h0M138.8 751.8h0M129.4 741h0M143.1 754.7h0M131 761.2h0M139.8 744.8h0M137.7 742.2h0"/>
<path class="k" stroke="#4ea8ac" stroke-width="2.85" d="M150.6 736.7h0M167.5 740.9h0M155.6 734.9h0M168 747.9h0M145.6 749.7h0M164.8 745.7h0M126.8 741.6h0M153.4 725.5h0M203.1 724.9h0M136.3 749.6h0M156.6 737.6h0M150.3 754.6h0M184.2 733.9h0M139.8 728.2h0M126.7 747.1h0M160.2 752.2h0M152.6 746.7h0M166 742.4h0M156.5 731.8h0M161.3 753.9h0M152.9 736.9h0M174.9 750.8h0M145.6 737.8h0M169.6 717.7h0M149.2 726.3h0M152.3 760.2h0M160.3 739.4h0M149.5 738.9h0M154.7 737.7h0M160.7 740.5h0M156.2 748.5h0M138.8 751.8h0M129.4 741h0M143.1 754.7h0M131 761.2h0M139.8 744.8h0M137.7 742.2h0"/>
<path class="k" stroke="#386c8c" stroke-width="3.55" d="M190.3 772.5h0M169.2 714.9h0M178.3 766.8h0M181.1 747.8h0M190.6 728.7h0M170.7 755.1h0M168.1 745.9h0M185 731.7h0M188 741h0M192.3 747.7h0M166.7 754h0M175 743.9h0M174.2 755.2h0M202.1 763.3h0M167.3 763.1h0M190.3 725.2h0M159.1 741h0M181.5 732.1h0M148.8 750.1h0M159.5 713.5h0M170.3 733.7h0M188 744.1h0M167.8 757.4h0M177.7 754.2h0M136.7 762.9h0M148 730.9h0"/>
<path class="k" stroke="#4a8bb3" stroke-width="2.85" d="M190.3 772.5h0M169.2 714.9h0M178.3 766.8h0M181.1 747.8h0M190.6 728.7h0M170.7 755.1h0M168.1 745.9h0M185 731.7h0M188 741h0M192.3 747.7h0M166.7 754h0M175 743.9h0M174.2 755.2h0M202.1 763.3h0M167.3 763.1h0M190.3 725.2h0M159.1 741h0M181.5 732.1h0M148.8 750.1h0M159.5 713.5h0M170.3 733.7h0M188 744.1h0M167.8 757.4h0M177.7 754.2h0M136.7 762.9h0M148 730.9h0"/>
<path class="k" stroke="#c48f9c" stroke-width="3.55" d="M144.2 766.2h0M135.5 766.7h0M170.9 731.4h0M127.1 759.2h0M145 772.1h0M118.5 728.7h0M144.3 773.9h0M163.9 754.4h0M147.4 771.7h0M143.9 772.3h0M202.4 724.3h0M142 725h0M157.4 768.1h0M160.1 697.8h0M195.6 739.8h0M196.2 783.8h0M152 757.1h0"/>
<path class="k" stroke="#f2b3c3" stroke-width="2.85" d="M144.2 766.2h0M135.5 766.7h0M170.9 731.4h0M127.1 759.2h0M145 772.1h0M118.5 728.7h0M144.3 773.9h0M163.9 754.4h0M147.4 771.7h0M143.9 772.3h0M202.4 724.3h0M142 725h0M157.4 768.1h0M160.1 697.8h0M195.6 739.8h0M196.2 783.8h0M152 757.1h0"/>
<path class="k" stroke="#3b8387" stroke-width="3.55" d="M151.4 738.8h0M136.6 727.6h0M141.7 754.5h0M137.5 729.5h0M161.5 734.3h0M153.1 723.4h0M159.4 742.7h0M169.6 747.2h0M143.4 733.9h0M146.8 742.8h0M152.5 726.2h0M135.8 744.1h0M176.3 730.1h0M139.1 725.3h0M136.4 740.1h0M173.2 758.6h0M148 746.1h0M120.5 737.9h0M134.6 731.1h0M154 731.1h0M133.4 745.2h0M147.3 740.9h0M151 725.9h0M169.2 732.3h0M156 734.8h0M140.6 750.2h0M144.9 730.5h0M138.4 754.4h0M124 737.2h0M144.8 732.5h0M169.4 741.7h0M147.2 749h0M138.3 738.8h0M163.8 739.2h0M164 761.9h0M137.7 751.3h0"/>
<path class="k" stroke="#4ea8ac" stroke-width="2.85" d="M151.4 738.8h0M136.6 727.6h0M141.7 754.5h0M137.5 729.5h0M161.5 734.3h0M153.1 723.4h0M159.4 742.7h0M169.6 747.2h0M143.4 733.9h0M146.8 742.8h0M152.5 726.2h0M135.8 744.1h0M176.3 730.1h0M139.1 725.3h0M136.4 740.1h0M173.2 758.6h0M148 746.1h0M120.5 737.9h0M134.6 731.1h0M154 731.1h0M133.4 745.2h0M147.3 740.9h0M151 725.9h0M169.2 732.3h0M156 734.8h0M140.6 750.2h0M144.9 730.5h0M138.4 754.4h0M124 737.2h0M144.8 732.5h0M169.4 741.7h0M147.2 749h0M138.3 738.8h0M163.8 739.2h0M164 761.9h0M137.7 751.3h0"/>
<path class="k" stroke="#c48f9c" stroke-width="3.55" d="M128.9 768.7h0M160.3 741h0M137.6 784h0M150.6 788h0M157.7 770.2h0M142.3 744.5h0M178.5 771.4h0M128.6 758.4h0M139.4 785.3h0M151.1 783.5h0M144.9 790.3h0M144.6 760.1h0M161.1 733.2h0M151.8 781.7h0"/>
<path class="k" stroke="#f2b3c3" stroke-width="2.85" d="M128.9 768.7h0M160.3 741h0M137.6 784h0M150.6 788h0M157.7 770.2h0M142.3 744.5h0M178.5 771.4h0M128.6 758.4h0M139.4 785.3h0M151.1 783.5h0M144.9 790.3h0M144.6 760.1h0M161.1 733.2h0M151.8 781.7h0"/>
<path class="k" stroke="#3a5d8f" stroke-width="3.55" d="M155.7 761.4h0M171.9 762.4h0M176.1 760h0M147.3 772.4h0M142.8 762.9h0M182.7 766.4h0M167.1 769.5h0M145.8 769.3h0M177.7 763.6h0M154.9 765.7h0M160.7 773.4h0M167.7 760.3h0M164.7 753h0M175.9 766.7h0M180.1 766.4h0M166.5 762.7h0M137.4 748.6h0M157.3 758.1h0M162.9 758.1h0M137.5 753.2h0M164.2 762.6h0M148.9 757.7h0M171.7 749.4h0M157.6 745.3h0M151 746.1h0M175.7 735.2h0M145.1 754.7h0M154.8 765.4h0M182.2 769.6h0M141 742.5h0"/>
<path class="k" stroke="#4d77b6" stroke-width="2.85" d="M155.7 761.4h0M171.9 762.4h0M176.1 760h0M147.3 772.4h0M142.8 762.9h0M182.7 766.4h0M167.1 769.5h0M145.8 769.3h0M177.7 763.6h0M154.9 765.7h0M160.7 773.4h0M167.7 760.3h0M164.7 753h0M175.9 766.7h0M180.1 766.4h0M166.5 762.7h0M137.4 748.6h0M157.3 758.1h0M162.9 758.1h0M137.5 753.2h0M164.2 762.6h0M148.9 757.7h0M171.7 749.4h0M157.6 745.3h0M151 746.1h0M175.7 735.2h0M145.1 754.7h0M154.8 765.4h0M182.2 769.6h0M141 742.5h0"/>
<path class="k" stroke="#386c8c" stroke-width="3.55" d="M181.9 750h0M173.1 738.3h0M120 739.6h0M138.1 730.5h0M180.9 748.4h0M200.9 741.8h0M164.2 734.8h0M197.5 762.4h0M164.2 758.5h0M156.5 755.2h0M199.2 716.5h0M168.4 737h0M197.4 744.6h0M175.1 770.3h0M157 752.6h0M171.5 745.4h0M192 721.6h0M150.5 721.9h0M163.5 742.5h0M196.1 761.4h0M157.5 763.5h0M199.8 732.1h0M185.7 737.2h0M164.9 731.4h0M175 738.4h0M182.2 745.3h0M190.6 757.5h0M182.8 755.5h0M177.1 755.8h0M125.6 729.9h0M203.9 736.4h0M210.4 742.1h0M175.6 734.2h0M179 721.2h0M171.3 749h0M174.2 762.5h0"/>
<path class="k" stroke="#4a8bb3" stroke-width="2.85" d="M181.9 750h0M173.1 738.3h0M120 739.6h0M138.1 730.5h0M180.9 748.4h0M200.9 741.8h0M164.2 734.8h0M197.5 762.4h0M164.2 758.5h0M156.5 755.2h0M199.2 716.5h0M168.4 737h0M197.4 744.6h0M175.1 770.3h0M157 752.6h0M171.5 745.4h0M192 721.6h0M150.5 721.9h0M163.5 742.5h0M196.1 761.4h0M157.5 763.5h0M199.8 732.1h0M185.7 737.2h0M164.9 731.4h0M175 738.4h0M182.2 745.3h0M190.6 757.5h0M182.8 755.5h0M177.1 755.8h0M125.6 729.9h0M203.9 736.4h0M210.4 742.1h0M175.6 734.2h0M179 721.2h0M171.3 749h0M174.2 762.5h0"/>
<path class="k" stroke="#8f8d99" stroke-width="3.55" d="M141.2 716.7h0M171.3 723.1h0M158.7 707.1h0"/>
<path class="k" stroke="#b9b7c3" stroke-width="2.85" d="M141.2 716.7h0M171.3 723.1h0M158.7 707.1h0"/>
<path class="k" stroke="#0d2736" stroke-width="3.55" d="M161.4 736.2h0"/>
<path class="k" stroke="#143a52" stroke-width="2.85" d="M161.4 736.2h0"/>
<path class="k" stroke="#3a5d8f" stroke-width="3.55" d="M168.6 775.5h0M160.3 760.6h0M173.6 749.6h0M161.8 772.9h0M168.9 761.1h0M143.2 768.3h0M137.5 749.9h0M163.3 748.4h0M172.1 764.4h0M163 771h0M161 761.9h0M146.7 748.5h0M186.4 752.8h0M157.5 756.9h0M167.4 762.5h0M184.8 769.7h0M157.3 752.3h0M153.1 762.9h0M165.4 775.5h0M151.5 761.7h0M173.9 761h0M165.1 753.6h0M162.3 754.7h0M166.2 764.6h0"/>
<path class="k" stroke="#4d77b6" stroke-width="2.85" d="M168.6 775.5h0M160.3 760.6h0M173.6 749.6h0M161.8 772.9h0M168.9 761.1h0M143.2 768.3h0M137.5 749.9h0M163.3 748.4h0M172.1 764.4h0M163 771h0M161 761.9h0M146.7 748.5h0M186.4 752.8h0M157.5 756.9h0M167.4 762.5h0M184.8 769.7h0M157.3 752.3h0M153.1 762.9h0M165.4 775.5h0M151.5 761.7h0M173.9 761h0M165.1 753.6h0M162.3 754.7h0M166.2 764.6h0"/>
<path class="k" stroke="#c48f9c" stroke-width="3.55" d="M100.4 752h0M175.2 760.4h0M134.1 757.3h0M138.8 744.1h0M125.9 754.9h0M162.9 727.2h0M97 753.2h0M183.8 733.3h0M173.3 763h0M152.3 775.6h0M127 740.1h0M144 754.4h0M109 741.3h0M153.9 789.6h0M115.6 737h0M152 762.5h0M153.4 743.4h0M132.5 768.9h0M178.5 748.5h0M163.1 750.6h0M112.7 780.2h0"/>
<path class="k" stroke="#f2b3c3" stroke-width="2.85" d="M100.4 752h0M175.2 760.4h0M134.1 757.3h0M138.8 744.1h0M125.9 754.9h0M162.9 727.2h0M97 753.2h0M183.8 733.3h0M173.3 763h0M152.3 775.6h0M127 740.1h0M144 754.4h0M109 741.3h0M153.9 789.6h0M115.6 737h0M152 762.5h0M153.4 743.4h0M132.5 768.9h0M178.5 748.5h0M163.1 750.6h0M112.7 780.2h0"/>
<path class="k" stroke="#386c8c" stroke-width="3.55" d="M175.2 751.6h0M188.1 738.6h0M166 741h0M158.5 743.1h0M186.1 727.4h0M181.8 746.7h0M176.9 728.2h0M182.1 753.6h0M199.2 778.8h0M175.2 745.8h0M167.3 728.8h0M183.4 726.7h0M174.6 737.9h0M173.2 747.6h0M183.1 759.1h0M192.8 741.3h0M157.5 740.1h0M180.3 721.8h0M176.3 739.9h0M187.8 757.7h0M152.3 763.1h0M143.7 765.2h0M174.8 733.8h0M188.9 730.2h0M163.1 758.1h0M180.7 757h0M173.8 760.4h0M189.2 728.7h0M186.9 745.1h0M183.4 751.7h0M193.2 743.6h0M172.3 748.3h0"/>
<path class="k" stroke="#4a8bb3" stroke-width="2.85" d="M175.2 751.6h0M188.1 738.6h0M166 741h0M158.5 743.1h0M186.1 727.4h0M181.8 746.7h0M176.9 728.2h0M182.1 753.6h0M199.2 778.8h0M175.2 745.8h0M167.3 728.8h0M183.4 726.7h0M174.6 737.9h0M173.2 747.6h0M183.1 759.1h0M192.8 741.3h0M157.5 740.1h0M180.3 721.8h0M176.3 739.9h0M187.8 757.7h0M152.3 763.1h0M143.7 765.2h0M174.8 733.8h0M188.9 730.2h0M163.1 758.1h0M180.7 757h0M173.8 760.4h0M189.2 728.7h0M186.9 745.1h0M183.4 751.7h0M193.2 743.6h0M172.3 748.3h0"/>
<path class="k" stroke="#3b8387" stroke-width="3.55" d="M150.5 731.1h0M163.8 754.1h0M114.5 761h0M125 745.2h0M147.4 741.4h0M171 773.1h0M148 738.9h0M124.5 735.8h0M157.4 752.2h0M136 731.2h0M125.5 739.4h0M177.2 747.6h0M182.8 755.2h0M168.8 742h0M154.1 739.4h0M164.8 744.6h0M149 744h0M129.9 749h0M177.5 759.9h0M192.8 747.2h0M168.7 728.8h0M152.1 737.5h0M145.5 752h0M145.3 744.7h0M151.3 739.8h0M151.2 742.9h0M158.7 734.1h0M160.5 749.9h0M140.4 735.1h0M122.5 741.9h0M195.5 780.2h0M137.7 743.5h0M143.4 757.1h0M204.4 744h0M145.8 730.1h0M160.3 722.8h0M138.3 746.5h0M128.2 739.9h0"/>
<path class="k" stroke="#4ea8ac" stroke-width="2.85" d="M150.5 731.1h0M163.8 754.1h0M114.5 761h0M125 745.2h0M147.4 741.4h0M171 773.1h0M148 738.9h0M124.5 735.8h0M157.4 752.2h0M136 731.2h0M125.5 739.4h0M177.2 747.6h0M182.8 755.2h0M168.8 742h0M154.1 739.4h0M164.8 744.6h0M149 744h0M129.9 749h0M177.5 759.9h0M192.8 747.2h0M168.7 728.8h0M152.1 737.5h0M145.5 752h0M145.3 744.7h0M151.3 739.8h0M151.2 742.9h0M158.7 734.1h0M160.5 749.9h0M140.4 735.1h0M122.5 741.9h0M195.5 780.2h0M137.7 743.5h0M143.4 757.1h0M204.4 744h0M145.8 730.1h0M160.3 722.8h0M138.3 746.5h0M128.2 739.9h0"/>
<path class="k" stroke="#0d2736" stroke-width="3.55" d="M157.6 732h0M168 719.4h0M152.5 735.9h0"/>
<path class="k" stroke="#143a52" stroke-width="2.85" d="M157.6 732h0M168 719.4h0M152.5 735.9h0"/>
<path class="k" stroke="#8f8d99" stroke-width="3.55" d="M145.9 726.5h0M146 718.1h0"/>
<path class="k" stroke="#b9b7c3" stroke-width="2.85" d="M145.9 726.5h0M146 718.1h0"/>
<path class="k" stroke="#3b8387" stroke-width="3.55" d="M157.7 719.8h0M157.7 725.5h0M166.2 733.3h0M153.1 727.5h0M152.4 727.5h0M152.7 737.3h0M160.3 738.7h0M150.8 734.4h0M158.4 742.3h0M157.4 748.2h0M177.3 717.3h0M130.1 754h0M135.9 738.3h0M129.3 759.4h0M140.9 732.2h0M147 742.8h0M154.9 749.8h0M149.6 744.5h0M137.3 755.2h0M135 732.7h0M157.7 737.8h0M154.3 740.5h0M131.1 739.6h0M136.2 735.5h0M138.8 723.6h0M151.5 753.1h0M142.8 757.5h0M158.7 727.8h0M143.3 728.3h0M138.4 739.8h0M144.3 740.5h0M161.5 753.9h0M119.9 737.3h0M140.7 747.7h0M143.3 726.5h0M173 724.8h0M156.7 754.9h0M146.9 753.9h0M152 750.4h0M166.6 724.2h0M141.5 728.4h0M156.1 743.8h0M149.5 743.5h0M158 734h0M136.8 728.9h0"/>
<path class="k" stroke="#4ea8ac" stroke-width="2.85" d="M157.7 719.8h0M157.7 725.5h0M166.2 733.3h0M153.1 727.5h0M152.4 727.5h0M152.7 737.3h0M160.3 738.7h0M150.8 734.4h0M158.4 742.3h0M157.4 748.2h0M177.3 717.3h0M130.1 754h0M135.9 738.3h0M129.3 759.4h0M140.9 732.2h0M147 742.8h0M154.9 749.8h0M149.6 744.5h0M137.3 755.2h0M135 732.7h0M157.7 737.8h0M154.3 740.5h0M131.1 739.6h0M136.2 735.5h0M138.8 723.6h0M151.5 753.1h0M142.8 757.5h0M158.7 727.8h0M143.3 728.3h0M138.4 739.8h0M144.3 740.5h0M161.5 753.9h0M119.9 737.3h0M140.7 747.7h0M143.3 726.5h0M173 724.8h0M156.7 754.9h0M146.9 753.9h0M152 750.4h0M166.6 724.2h0M141.5 728.4h0M156.1 743.8h0M149.5 743.5h0M158 734h0M136.8 728.9h0"/>
<path class="k" stroke="#c48f9c" stroke-width="3.55" d="M158.9 776.1h0M149 759.2h0M133.7 751.2h0M122.1 775.7h0M130 784.3h0M160 716.3h0M162.3 733.6h0M138.1 762.2h0M148.7 777.6h0M147 748.3h0M138.8 751.8h0M155.5 706.1h0"/>
<path class="k" stroke="#f2b3c3" stroke-width="2.85" d="M158.9 776.1h0M149 759.2h0M133.7 751.2h0M122.1 775.7h0M130 784.3h0M160 716.3h0M162.3 733.6h0M138.1 762.2h0M148.7 777.6h0M147 748.3h0M138.8 751.8h0M155.5 706.1h0"/>
<path class="k" stroke="#386c8c" stroke-width="3.55" d="M187.9 763h0M208.2 745.3h0M182.3 749.6h0M163.9 733.9h0M190.5 741.3h0M174.9 732.8h0M206.9 729.1h0M167.6 742.5h0M201.5 737h0M158.9 749.9h0M169.5 759.1h0M153.9 725h0M180 753.1h0M151.7 733h0M159.1 732.4h0M163.1 731.8h0M174.5 738.8h0M168.8 748.7h0M168.4 751.1h0M172.8 748.6h0M184.7 751.2h0M160.6 753.6h0M165.2 735.5h0M163.2 723.2h0"/>
<path class="k" stroke="#4a8bb3" stroke-width="2.85" d="M187.9 763h0M208.2 745.3h0M182.3 749.6h0M163.9 733.9h0M190.5 741.3h0M174.9 732.8h0M206.9 729.1h0M167.6 742.5h0M201.5 737h0M158.9 749.9h0M169.5 759.1h0M153.9 725h0M180 753.1h0M151.7 733h0M159.1 732.4h0M163.1 731.8h0M174.5 738.8h0M168.8 748.7h0M168.4 751.1h0M172.8 748.6h0M184.7 751.2h0M160.6 753.6h0M165.2 735.5h0M163.2 723.2h0"/>
<path class="k" stroke="#3a5d8f" stroke-width="3.55" d="M157.5 765.2h0M128.2 760.7h0M149.4 766.6h0M152.3 752.3h0M146.4 765.4h0M173.2 738.2h0M163.2 759.4h0M177.2 755.4h0M186.3 704.7h0M147.7 761.1h0M161.2 749.7h0M163.4 774.2h0M146.9 776.7h0M161.2 764.3h0M180 757.7h0M157.2 765.6h0M168 761.4h0M169.6 772.6h0M163.5 753h0M167 752.7h0M168.1 765.1h0M153.9 768.4h0M167.2 744h0M162.2 746.6h0M166.3 758h0M155.8 737.8h0M169.6 754.6h0M155.6 760.3h0M165.5 764.7h0"/>
<path class="k" stroke="#4d77b6" stroke-width="2.85" d="M157.5 765.2h0M128.2 760.7h0M149.4 766.6h0M152.3 752.3h0M146.4 765.4h0M173.2 738.2h0M163.2 759.4h0M177.2 755.4h0M186.3 704.7h0M147.7 761.1h0M161.2 749.7h0M163.4 774.2h0M146.9 776.7h0M161.2 764.3h0M180 757.7h0M157.2 765.6h0M168 761.4h0M169.6 772.6h0M163.5 753h0M167 752.7h0M168.1 765.1h0M153.9 768.4h0M167.2 744h0M162.2 746.6h0M166.3 758h0M155.8 737.8h0M169.6 754.6h0M155.6 760.3h0M165.5 764.7h0"/>
<path class="k" stroke="#8f8d99" stroke-width="3.55" d="M142.8 708.5h0M156.1 721.6h0M182.4 728.9h0M168.3 712.3h0M157.1 705.5h0M155.1 720h0M143 713.8h0M164.4 720.8h0M153.7 714.9h0"/>
<path class="k" stroke="#b9b7c3" stroke-width="2.85" d="M142.8 708.5h0M156.1 721.6h0M182.4 728.9h0M168.3 712.3h0M157.1 705.5h0M155.1 720h0M143 713.8h0M164.4 720.8h0M153.7 714.9h0"/>
<path class="k" stroke="#0d2736" stroke-width="3.55" d="M164 725.8h0"/>
<path class="k" stroke="#143a52" stroke-width="2.85" d="M164 725.8h0"/>
<path class="k" stroke="#3b8387" stroke-width="3.55" d="M146 740.9h0M133.5 740.9h0M168.5 735.7h0M127.9 729.8h0M143.6 758.3h0M170.3 754h0M160.3 735.6h0M127.2 758.6h0M158.4 728.8h0M157.5 743.5h0M164.6 750h0M113.6 719.8h0M140.2 744.5h0M189 738.1h0M168 723.6h0M143.8 735h0M131.3 736.9h0M157.6 736.7h0M155.7 763h0M157.3 736.6h0M130.2 750.2h0"/>
<path class="k" stroke="#4ea8ac" stroke-width="2.85" d="M146 740.9h0M133.5 740.9h0M168.5 735.7h0M127.9 729.8h0M143.6 758.3h0M170.3 754h0M160.3 735.6h0M127.2 758.6h0M158.4 728.8h0M157.5 743.5h0M164.6 750h0M113.6 719.8h0M140.2 744.5h0M189 738.1h0M168 723.6h0M143.8 735h0M131.3 736.9h0M157.6 736.7h0M155.7 763h0M157.3 736.6h0M130.2 750.2h0"/>
<path class="k" stroke="#386c8c" stroke-width="3.55" d="M158.4 751.6h0M166.9 747h0M160.9 749.4h0M182.8 739.6h0M169.1 783.6h0M169.2 758.6h0M155 743h0M207.6 747.4h0M182.3 717.7h0M194.1 746.7h0M172.5 729h0M167.2 764.8h0M147.4 734.1h0M166.5 731.4h0M158.8 731.9h0M176.7 705.6h0M187.2 727.4h0M172.7 724.7h0M165.4 727.4h0"/>
<path class="k" stroke="#4a8bb3" stroke-width="2.85" d="M158.4 751.6h0M166.9 747h0M160.9 749.4h0M182.8 739.6h0M169.1 783.6h0M169.2 758.6h0M155 743h0M207.6 747.4h0M182.3 717.7h0M194.1 746.7h0M172.5 729h0M167.2 764.8h0M147.4 734.1h0M166.5 731.4h0M158.8 731.9h0M176.7 705.6h0M187.2 727.4h0M172.7 724.7h0M165.4 727.4h0"/>
<path class="k" stroke="#3a5d8f" stroke-width="3.55" d="M166.5 774.8h0M170.9 767.8h0M165.5 773.9h0M164.8 776.7h0M185.2 757.2h0M140.5 756.4h0M177.6 770h0M160.5 735.8h0M160.5 759.3h0M167.9 751.6h0M148.1 758.9h0M148.4 770.4h0M141.2 760.3h0M154.3 766.8h0M169.7 742.8h0M152.6 787.8h0M151.5 758.3h0"/>
<path class="k" stroke="#4d77b6" stroke-width="2.85" d="M166.5 774.8h0M170.9 767.8h0M165.5 773.9h0M164.8 776.7h0M185.2 757.2h0M140.5 756.4h0M177.6 770h0M160.5 735.8h0M160.5 759.3h0M167.9 751.6h0M148.1 758.9h0M148.4 770.4h0M141.2 760.3h0M154.3 766.8h0M169.7 742.8h0M152.6 787.8h0M151.5 758.3h0"/>
<path class="k" stroke="#8f8d99" stroke-width="3.55" d="M169.4 716.7h0"/>
<path class="k" stroke="#b9b7c3" stroke-width="2.85" d="M169.4 716.7h0"/>
<path class="k" stroke="#c48f9c" stroke-width="3.55" d="M191.1 765.3h0M132.2 771.9h0M136.1 742.3h0M146.6 773.5h0M129.6 767.3h0M141.2 739.4h0M119.3 726.3h0M153.4 750.2h0"/>
<path class="k" stroke="#f2b3c3" stroke-width="2.85" d="M191.1 765.3h0M132.2 771.9h0M136.1 742.3h0M146.6 773.5h0M129.6 767.3h0M141.2 739.4h0M119.3 726.3h0M153.4 750.2h0"/>
<path class="k" stroke="#0d2736" stroke-width="3.55" d="M150.3 737.1h0"/>
<path class="k" stroke="#143a52" stroke-width="2.85" d="M150.3 737.1h0"/>
<!--END cloud-->
<!--BEGIN outprot-->
<path class="k" stroke="#5c9a9a" stroke-width="3.2" d="M751.1 773.0h0M738.8 769.9h0M746.9 754.9h0M772.8 759.9h0M749.5 766.8h0M763.5 757.6h0M757.1 746.3h0M745.6 752.7h0M734.0 739.9h0M730.5 755.1h0M747.9 754.2h0M750.8 742.0h0M749.0 760.9h0M759.0 747.8h0M745.2 733.8h0M744.0 731.6h0M733.0 771.2h0M753.9 754.3h0M755.5 764.3h0M762.5 755.2h0M742.9 750.7h0M738.2 757.5h0M740.6 770.8h0M738.6 732.9h0M772.8 729.1h0M746.6 751.7h0M769.9 734.2h0M762.9 749.2h0M748.1 749.9h0M757.7 744.3h0M749.1 762.2h0M772.1 729.1h0M768.3 769.4h0M744.2 761.7h0M744.4 777.8h0M752.5 755.4h0M747.3 755.6h0M747.9 747.5h0M774.7 735.1h0M748.2 762.5h0M747.5 756.2h0M754.0 769.6h0M744.6 753.5h0M773.3 764.4h0M738.2 785.9h0M759.3 750.9h0M735.9 761.6h0M740.0 745.3h0M734.4 751.9h0M763.3 752.8h0M732.6 766.0h0M750.8 768.1h0M764.4 756.0h0M748.3 757.5h0M736.4 766.0h0M766.5 760.1h0M747.2 754.9h0M740.6 748.4h0M745.2 747.9h0M744.8 739.1h0M754.2 758.6h0M736.2 730.4h0M749.9 771.2h0M741.2 752.2h0M743.2 765.8h0M739.0 769.8h0M746.4 769.1h0M750.4 755.2h0M732.3 749.8h0M746.9 765.9h0"/>
<path class="k" stroke="#8ec9c9" stroke-width="2.6" d="M751.1 773.0h0M738.8 769.9h0M746.9 754.9h0M772.8 759.9h0M749.5 766.8h0M763.5 757.6h0M757.1 746.3h0M745.6 752.7h0M734.0 739.9h0M730.5 755.1h0M747.9 754.2h0M750.8 742.0h0M749.0 760.9h0M759.0 747.8h0M745.2 733.8h0M744.0 731.6h0M733.0 771.2h0M753.9 754.3h0M755.5 764.3h0M762.5 755.2h0M742.9 750.7h0M738.2 757.5h0M740.6 770.8h0M738.6 732.9h0M772.8 729.1h0M746.6 751.7h0M769.9 734.2h0M762.9 749.2h0M748.1 749.9h0M757.7 744.3h0M749.1 762.2h0M772.1 729.1h0M768.3 769.4h0M744.2 761.7h0M744.4 777.8h0M752.5 755.4h0M747.3 755.6h0M747.9 747.5h0M774.7 735.1h0M748.2 762.5h0M747.5 756.2h0M754.0 769.6h0M744.6 753.5h0M773.3 764.4h0M738.2 785.9h0M759.3 750.9h0M735.9 761.6h0M740.0 745.3h0M734.4 751.9h0M763.3 752.8h0M732.6 766.0h0M750.8 768.1h0M764.4 756.0h0M748.3 757.5h0M736.4 766.0h0M766.5 760.1h0M747.2 754.9h0M740.6 748.4h0M745.2 747.9h0M744.8 739.1h0M754.2 758.6h0M736.2 730.4h0M749.9 771.2h0M741.2 752.2h0M743.2 765.8h0M739.0 769.8h0M746.4 769.1h0M750.4 755.2h0M732.3 749.8h0M746.9 765.9h0"/>
<path class="k" stroke="#c58896" stroke-width="3.2" d="M765.4 794.4h0M769.0 807.9h0M756.7 796.5h0M751.3 806.5h0M771.8 792.6h0M768.2 796.2h0M778.1 794.2h0M761.7 804.0h0M745.9 799.0h0M774.7 785.7h0M767.2 805.9h0M771.1 789.3h0M767.0 793.1h0M772.5 804.8h0M764.8 793.9h0M771.3 797.8h0M812.7 800.6h0M807.2 783.9h0M774.0 797.5h0M758.8 784.8h0M746.2 791.7h0M755.1 807.1h0M761.2 803.0h0M744.6 796.5h0M762.5 797.7h0M787.8 793.0h0M801.6 792.2h0M783.3 793.8h0M796.3 801.1h0M768.8 806.0h0M746.0 791.7h0M744.7 795.3h0M751.3 804.3h0M778.5 812.5h0M795.1 793.2h0M761.2 799.1h0M776.7 802.0h0M756.9 809.7h0M760.2 799.5h0M770.8 801.4h0"/>
<path class="k" stroke="#eeb0be" stroke-width="2.6" d="M765.4 794.4h0M769.0 807.9h0M756.7 796.5h0M751.3 806.5h0M771.8 792.6h0M768.2 796.2h0M778.1 794.2h0M761.7 804.0h0M745.9 799.0h0M774.7 785.7h0M767.2 805.9h0M771.1 789.3h0M767.0 793.1h0M772.5 804.8h0M764.8 793.9h0M771.3 797.8h0M812.7 800.6h0M807.2 783.9h0M774.0 797.5h0M758.8 784.8h0M746.2 791.7h0M755.1 807.1h0M761.2 803.0h0M744.6 796.5h0M762.5 797.7h0M787.8 793.0h0M801.6 792.2h0M783.3 793.8h0M796.3 801.1h0M768.8 806.0h0M746.0 791.7h0M744.7 795.3h0M751.3 804.3h0M778.5 812.5h0M795.1 793.2h0M761.2 799.1h0M776.7 802.0h0M756.9 809.7h0M760.2 799.5h0M770.8 801.4h0"/>
<path class="k" stroke="#99949e" stroke-width="3.2" d="M742.1 722.1h0M755.5 717.5h0M748.1 724.9h0M737.2 726.4h0M742.6 726.7h0M747.3 727.1h0M744.4 722.4h0M747.6 723.7h0M747.1 717.0h0M751.3 711.5h0M739.3 728.9h0M750.5 730.2h0M748.5 726.4h0M744.5 720.1h0M743.1 722.0h0M743.7 716.6h0M755.2 722.3h0M751.2 730.6h0M750.1 716.9h0M746.6 722.7h0M740.2 725.0h0M740.0 731.1h0M748.2 724.7h0M748.1 718.6h0M743.6 717.3h0"/>
<path class="k" stroke="#c9c4ce" stroke-width="2.6" d="M742.1 722.1h0M755.5 717.5h0M748.1 724.9h0M737.2 726.4h0M742.6 726.7h0M747.3 727.1h0M744.4 722.4h0M747.6 723.7h0M747.1 717.0h0M751.3 711.5h0M739.3 728.9h0M750.5 730.2h0M748.5 726.4h0M744.5 720.1h0M743.1 722.0h0M743.7 716.6h0M755.2 722.3h0M751.2 730.6h0M750.1 716.9h0M746.6 722.7h0M740.2 725.0h0M740.0 731.1h0M748.2 724.7h0M748.1 718.6h0M743.6 717.3h0"/>
<path class="k" stroke="#56799c" stroke-width="3.2" d="M852.3 756.9h0M826.6 750.0h0M842.8 753.1h0M843.8 762.7h0M837.4 752.0h0M836.0 767.0h0M824.9 758.3h0M833.9 732.8h0M840.4 743.8h0M831.2 742.3h0M844.0 755.0h0M833.2 767.9h0M827.9 743.1h0M823.3 746.8h0M825.7 743.4h0M833.6 742.6h0M841.4 768.5h0M844.1 729.4h0M842.6 752.9h0M845.4 766.0h0M839.4 776.0h0M836.3 757.4h0M839.5 732.4h0M854.2 758.8h0M837.8 756.3h0M828.2 726.9h0M848.1 740.7h0M830.4 748.1h0M843.0 763.1h0M848.6 735.0h0M835.6 737.5h0M837.9 766.3h0M854.3 764.4h0M843.4 735.6h0M848.1 733.7h0M836.2 765.9h0M830.8 713.1h0M838.5 770.0h0M835.7 738.0h0M831.6 740.6h0M834.8 735.4h0M832.3 719.9h0M848.1 774.1h0M837.4 732.4h0M844.5 735.9h0"/>
<path class="k" stroke="#7fa6cc" stroke-width="2.6" d="M852.3 756.9h0M826.6 750.0h0M842.8 753.1h0M843.8 762.7h0M837.4 752.0h0M836.0 767.0h0M824.9 758.3h0M833.9 732.8h0M840.4 743.8h0M831.2 742.3h0M844.0 755.0h0M833.2 767.9h0M827.9 743.1h0M823.3 746.8h0M825.7 743.4h0M833.6 742.6h0M841.4 768.5h0M844.1 729.4h0M842.6 752.9h0M845.4 766.0h0M839.4 776.0h0M836.3 757.4h0M839.5 732.4h0M854.2 758.8h0M837.8 756.3h0M828.2 726.9h0M848.1 740.7h0M830.4 748.1h0M843.0 763.1h0M848.6 735.0h0M835.6 737.5h0M837.9 766.3h0M854.3 764.4h0M843.4 735.6h0M848.1 733.7h0M836.2 765.9h0M830.8 713.1h0M838.5 770.0h0M835.7 738.0h0M831.6 740.6h0M834.8 735.4h0M832.3 719.9h0M848.1 774.1h0M837.4 732.4h0M844.5 735.9h0"/>
<path class="k" stroke="#5f71a0" stroke-width="3.2" d="M777.5 798.4h0M773.3 785.6h0M779.4 784.7h0M786.2 793.5h0M813.1 794.0h0M790.6 782.5h0M789.0 784.4h0M788.4 795.9h0M793.3 788.7h0M777.9 789.9h0M791.8 784.4h0M781.9 795.3h0M763.4 787.3h0M771.3 799.3h0M799.7 793.1h0M796.3 791.7h0M794.7 780.5h0M794.1 793.6h0M767.1 794.9h0M800.7 780.9h0M782.5 788.2h0M781.6 792.3h0M769.6 788.7h0M793.6 794.3h0M790.8 788.5h0M801.0 778.1h0M804.9 788.2h0M770.0 787.4h0M760.7 777.7h0M784.8 785.3h0M801.7 784.7h0M769.3 784.3h0M817.4 790.2h0M780.2 784.1h0M772.4 789.0h0"/>
<path class="k" stroke="#8a9ed0" stroke-width="2.6" d="M777.5 798.4h0M773.3 785.6h0M779.4 784.7h0M786.2 793.5h0M813.1 794.0h0M790.6 782.5h0M789.0 784.4h0M788.4 795.9h0M793.3 788.7h0M777.9 789.9h0M791.8 784.4h0M781.9 795.3h0M763.4 787.3h0M771.3 799.3h0M799.7 793.1h0M796.3 791.7h0M794.7 780.5h0M794.1 793.6h0M767.1 794.9h0M800.7 780.9h0M782.5 788.2h0M781.6 792.3h0M769.6 788.7h0M793.6 794.3h0M790.8 788.5h0M801.0 778.1h0M804.9 788.2h0M770.0 787.4h0M760.7 777.7h0M784.8 785.3h0M801.7 784.7h0M769.3 784.3h0M817.4 790.2h0M780.2 784.1h0M772.4 789.0h0"/>
<path class="k" stroke="#c58896" stroke-width="3.2" d="M796.4 710.8h0M807.2 706.4h0M780.1 700.7h0M796.3 703.3h0M795.5 698.3h0M803.5 706.5h0M790.6 707.0h0M776.6 714.1h0M787.3 702.5h0M802.8 699.7h0M811.3 701.5h0M789.1 700.4h0M800.4 700.9h0M790.7 699.2h0M793.4 705.9h0M798.9 706.6h0M799.3 710.0h0M784.2 699.1h0M770.8 708.4h0M784.4 710.3h0"/>
<path class="k" stroke="#f2c4cf" stroke-width="2.6" d="M796.4 710.8h0M807.2 706.4h0M780.1 700.7h0M796.3 703.3h0M795.5 698.3h0M803.5 706.5h0M790.6 707.0h0M776.6 714.1h0M787.3 702.5h0M802.8 699.7h0M811.3 701.5h0M789.1 700.4h0M800.4 700.9h0M790.7 699.2h0M793.4 705.9h0M798.9 706.6h0M799.3 710.0h0M784.2 699.1h0M770.8 708.4h0M784.4 710.3h0"/>
<path d="M725.7,734.7 C725.9,733.4 725.3,728.6 726.6,726.7 C728.0,724.8 731.3,724.3 733.8,723.1 C736.3,721.9 739.6,721.3 741.8,719.5 C744.1,717.7 745.7,713.4 747.2,712.4 C748.7,711.3 750.1,711.6 750.8,713.3 C751.5,714.9 750.5,719.8 751.7,722.2 C752.9,724.6 755.9,725.9 758.0,727.6 C760.0,729.2 762.7,730.0 764.2,732.1 C765.7,734.2 766.5,738.8 766.9,740.1" stroke="#85838f" stroke-width="3.20" fill="none" stroke-linecap="round" stroke-linejoin="round" opacity="1"/>
<path d="M725.7,734.7 C725.9,733.4 725.3,728.6 726.6,726.7 C728.0,724.8 731.3,724.3 733.8,723.1 C736.3,721.9 739.6,721.3 741.8,719.5 C744.1,717.7 745.7,713.4 747.2,712.4 C748.7,711.3 750.1,711.6 750.8,713.3 C751.5,714.9 750.5,719.8 751.7,722.2 C752.9,724.6 755.9,725.9 758.0,727.6 C760.0,729.2 762.7,730.0 764.2,732.1 C765.7,734.2 766.5,738.8 766.9,740.1" stroke="#b3b1bd" stroke-width="2.4" fill="none" stroke-linecap="round" stroke-linejoin="round" opacity="1"/>
<path d="M728.4,726.7 C728.7,728.2 728.6,733.7 730.2,735.6 C731.9,737.6 736.0,738.8 738.3,738.3 C740.5,737.9 743.0,735.0 743.6,733.0 C744.2,730.9 742.1,727.0 741.8,725.8" stroke="#85838f" stroke-width="3.20" fill="none" stroke-linecap="round" stroke-linejoin="round" opacity="1"/>
<path d="M728.4,726.7 C728.7,728.2 728.6,733.7 730.2,735.6 C731.9,737.6 736.0,738.8 738.3,738.3 C740.5,737.9 743.0,735.0 743.6,733.0 C744.2,730.9 742.1,727.0 741.8,725.8" stroke="#b3b1bd" stroke-width="2.4" fill="none" stroke-linecap="round" stroke-linejoin="round" opacity="1"/>
<path d="M758.0,707.9 C758.9,709.4 761.5,714.5 763.3,716.8 C765.1,719.2 766.9,722.5 768.7,722.2 C770.5,721.9 771.7,717.7 774.1,715.1 C776.5,712.4 780.0,706.7 783.0,706.1 C786.0,705.5 789.3,711.2 792.0,711.5 C794.6,711.8 796.4,707.7 799.1,707.9 C801.8,708.0 806.0,710.6 808.1,712.4 C810.2,714.2 811.1,717.6 811.7,718.6" stroke="#c58896" stroke-width="3.00" fill="none" stroke-linecap="round" stroke-linejoin="round" opacity="1"/>
<path d="M758.0,707.9 C758.9,709.4 761.5,714.5 763.3,716.8 C765.1,719.2 766.9,722.5 768.7,722.2 C770.5,721.9 771.7,717.7 774.1,715.1 C776.5,712.4 780.0,706.7 783.0,706.1 C786.0,705.5 789.3,711.2 792.0,711.5 C794.6,711.8 796.4,707.7 799.1,707.9 C801.8,708.0 806.0,710.6 808.1,712.4 C810.2,714.2 811.1,717.6 811.7,718.6" stroke="#eeb0be" stroke-width="2.2" fill="none" stroke-linecap="round" stroke-linejoin="round" opacity="1"/>
<path d="M727.5,774.1 C729.0,775.0 733.2,777.4 736.5,779.5 C739.8,781.6 743.9,784.6 747.2,786.7 C750.5,788.7 753.9,789.6 756.2,792.0 C758.4,794.4 759.7,797.1 760.6,801.0 C761.6,804.8 760.9,813.5 761.9,815.3 C762.9,817.1 765.2,814.4 766.9,811.7 C768.6,809.0 770.2,800.7 772.3,799.2 C774.4,797.7 777.6,800.7 779.4,802.8 C781.2,804.8 781.2,809.6 783.0,811.7 C784.8,813.8 788.2,816.5 790.2,815.3 C792.1,814.1 792.9,806.9 794.6,804.6 C796.4,802.2 798.7,801.0 800.9,801.0 C803.2,801.0 805.7,805.1 808.1,804.6 C810.5,804.0 812.8,799.8 815.2,797.4 C817.6,795.0 820.0,792.6 822.4,790.2 C824.8,787.8 827.8,785.5 829.6,783.1 C831.3,780.7 832.5,777.1 833.1,775.9" stroke="#c58896" stroke-width="3.10" fill="none" stroke-linecap="round" stroke-linejoin="round" opacity="1"/>
<path d="M727.5,774.1 C729.0,775.0 733.2,777.4 736.5,779.5 C739.8,781.6 743.9,784.6 747.2,786.7 C750.5,788.7 753.9,789.6 756.2,792.0 C758.4,794.4 759.7,797.1 760.6,801.0 C761.6,804.8 760.9,813.5 761.9,815.3 C762.9,817.1 765.2,814.4 766.9,811.7 C768.6,809.0 770.2,800.7 772.3,799.2 C774.4,797.7 777.6,800.7 779.4,802.8 C781.2,804.8 781.2,809.6 783.0,811.7 C784.8,813.8 788.2,816.5 790.2,815.3 C792.1,814.1 792.9,806.9 794.6,804.6 C796.4,802.2 798.7,801.0 800.9,801.0 C803.2,801.0 805.7,805.1 808.1,804.6 C810.5,804.0 812.8,799.8 815.2,797.4 C817.6,795.0 820.0,792.6 822.4,790.2 C824.8,787.8 827.8,785.5 829.6,783.1 C831.3,780.7 832.5,777.1 833.1,775.9" stroke="#eeb0be" stroke-width="2.3" fill="none" stroke-linecap="round" stroke-linejoin="round" opacity="1"/>
<path d="M811.7,759.8 C813.1,761.0 818.2,764.6 820.6,767.0 C823.0,769.4 825.7,771.4 826.0,774.1 C826.3,776.8 823.0,781.6 822.4,783.1" stroke="#c58896" stroke-width="3.00" fill="none" stroke-linecap="round" stroke-linejoin="round" opacity="1"/>
<path d="M811.7,759.8 C813.1,761.0 818.2,764.6 820.6,767.0 C823.0,769.4 825.7,771.4 826.0,774.1 C826.3,776.8 823.0,781.6 822.4,783.1" stroke="#eeb0be" stroke-width="2.2" fill="none" stroke-linecap="round" stroke-linejoin="round" opacity="1"/>
<path d="M744.9,774.0 L746.8,772.3 L748.2,770.3 L749.2,768.0 L749.6,765.5 L749.5,763.1 L748.8,760.8 L747.8,758.9 L746.4,757.4 L744.8,756.3 L743.1,755.9 L741.5,756.0 L740.2,756.6 L739.1,757.7 L738.5,759.2 L738.5,761.0 L738.9,762.9 L740.0,764.7 L741.5,766.4 L743.4,767.7 L745.7,768.6 L748.1,769.0 L750.6,768.9 L753.0,768.1 L755.2,766.9 L757.1,765.1 L758.4,763.0 L759.3,760.7 L759.6,758.2 L759.4,755.8 L758.7,753.6 L757.5,751.7 L756.1,750.3 L754.5,749.4 L752.8,749.0 L751.3,749.2 L749.9,749.9 L749.0,751.1 L748.5,752.7 L748.5,754.5 L749.1,756.3 L750.2,758.2 L751.8,759.8 L753.8,761.1 L756.1,761.9 L758.6,762.2 L761.1,761.9 L763.4,761.1 L765.6,759.8 L767.3,758.0 L768.6,755.8 L769.4,753.4 L769.6,751.0 L769.3,748.6 L768.5,746.4 L767.3,744.6 L765.8,743.2 L764.2,742.4 L762.5,742.1 L761.0,742.4 L759.7,743.3 L758.9,744.5 L758.5,746.1 L758.6,748.0 L759.2,749.8 L760.4,751.6 L762.1,753.2 L764.2,754.4 L766.5,755.1 L769.0,755.3 L771.5,755.0 L773.8,754.1 L775.9,752.6 L777.6,750.8 L778.8,748.5 L779.5,746.1 L779.6,743.7 L779.2,741.3 L778.3,739.2 L777.1,737.5 L775.5,736.2 L773.9,735.5" stroke="#357b80" stroke-width="4.00" fill="none" stroke-linecap="round" stroke-linejoin="round" opacity="1"/>
<path d="M744.9,774.0 L746.8,772.3 L748.2,770.3 L749.2,768.0 L749.6,765.5 L749.5,763.1 L748.8,760.8 L747.8,758.9 L746.4,757.4 L744.8,756.3 L743.1,755.9 L741.5,756.0 L740.2,756.6 L739.1,757.7 L738.5,759.2 L738.5,761.0 L738.9,762.9 L740.0,764.7 L741.5,766.4 L743.4,767.7 L745.7,768.6 L748.1,769.0 L750.6,768.9 L753.0,768.1 L755.2,766.9 L757.1,765.1 L758.4,763.0 L759.3,760.7 L759.6,758.2 L759.4,755.8 L758.7,753.6 L757.5,751.7 L756.1,750.3 L754.5,749.4 L752.8,749.0 L751.3,749.2 L749.9,749.9 L749.0,751.1 L748.5,752.7 L748.5,754.5 L749.1,756.3 L750.2,758.2 L751.8,759.8 L753.8,761.1 L756.1,761.9 L758.6,762.2 L761.1,761.9 L763.4,761.1 L765.6,759.8 L767.3,758.0 L768.6,755.8 L769.4,753.4 L769.6,751.0 L769.3,748.6 L768.5,746.4 L767.3,744.6 L765.8,743.2 L764.2,742.4 L762.5,742.1 L761.0,742.4 L759.7,743.3 L758.9,744.5 L758.5,746.1 L758.6,748.0 L759.2,749.8 L760.4,751.6 L762.1,753.2 L764.2,754.4 L766.5,755.1 L769.0,755.3 L771.5,755.0 L773.8,754.1 L775.9,752.6 L777.6,750.8 L778.8,748.5 L779.5,746.1 L779.6,743.7 L779.2,741.3 L778.3,739.2 L777.1,737.5 L775.5,736.2 L773.9,735.5" stroke="#4aa6ab" stroke-width="3.2" fill="none" stroke-linecap="round" stroke-linejoin="round" opacity="1"/>
<path d="M756.8,750.6 L759.0,750.7 L761.1,750.4 L763.1,749.5 L764.9,748.4 L766.3,746.9 L767.3,745.2 L767.9,743.4 L768.0,741.7 L767.8,740.2 L767.2,739.0 L766.3,738.2 L765.2,737.8 L764.1,737.9 L763.0,738.5 L762.0,739.5 L761.4,740.9 L761.0,742.6 L761.1,744.4 L761.5,746.4 L762.5,748.2 L763.8,749.9 L765.5,751.2 L767.4,752.2 L769.5,752.7 L771.7,752.8 L773.8,752.3 L775.8,751.5 L777.5,750.2 L778.9,748.7 L779.8,747.0 L780.3,745.2 L780.4,743.6 L780.1,742.1 L779.4,740.9 L778.5,740.2 L777.4,739.9 L776.3,740.0 L775.2,740.7 L774.3,741.7 L773.7,743.2 L773.4,744.9 L773.5,746.8 L774.1,748.7 L775.0,750.5 L776.4,752.2 L778.1,753.5 L780.1,754.4 L782.3,754.8 L784.4,754.8 L786.5,754.3 L788.5,753.3 L790.1,752.1 L791.4,750.5 L792.3,748.8 L792.8,747.0 L792.8,745.4 L792.4,744.0 L791.7,742.9 L790.8,742.2 L789.7,741.9 L788.5,742.2 L787.5,742.9" stroke="#5f8f94" stroke-width="3.60" fill="none" stroke-linecap="round" stroke-linejoin="round" opacity="1"/>
<path d="M756.8,750.6 L759.0,750.7 L761.1,750.4 L763.1,749.5 L764.9,748.4 L766.3,746.9 L767.3,745.2 L767.9,743.4 L768.0,741.7 L767.8,740.2 L767.2,739.0 L766.3,738.2 L765.2,737.8 L764.1,737.9 L763.0,738.5 L762.0,739.5 L761.4,740.9 L761.0,742.6 L761.1,744.4 L761.5,746.4 L762.5,748.2 L763.8,749.9 L765.5,751.2 L767.4,752.2 L769.5,752.7 L771.7,752.8 L773.8,752.3 L775.8,751.5 L777.5,750.2 L778.9,748.7 L779.8,747.0 L780.3,745.2 L780.4,743.6 L780.1,742.1 L779.4,740.9 L778.5,740.2 L777.4,739.9 L776.3,740.0 L775.2,740.7 L774.3,741.7 L773.7,743.2 L773.4,744.9 L773.5,746.8 L774.1,748.7 L775.0,750.5 L776.4,752.2 L778.1,753.5 L780.1,754.4 L782.3,754.8 L784.4,754.8 L786.5,754.3 L788.5,753.3 L790.1,752.1 L791.4,750.5 L792.3,748.8 L792.8,747.0 L792.8,745.4 L792.4,744.0 L791.7,742.9 L790.8,742.2 L789.7,741.9 L788.5,742.2 L787.5,742.9" stroke="#86b9bf" stroke-width="2.8" fill="none" stroke-linecap="round" stroke-linejoin="round" opacity="1"/>
<path d="M743.1,782.3 L744.8,780.7 L746.1,778.7 L746.9,776.5 L747.1,774.2 L746.9,771.9 L746.2,769.8 L745.1,768.0 L743.7,766.6 L742.2,765.8 L740.6,765.4 L739.1,765.6 L737.8,766.3 L736.9,767.4 L736.4,768.8 L736.4,770.5 L737.0,772.3 L738.0,774.0 L739.5,775.5 L741.4,776.6 L743.6,777.4 L745.9,777.6 L748.3,777.4 L750.5,776.5 L752.5,775.2 L754.1,773.5 L755.3,771.4 L755.9,769.2 L756.1,766.9 L755.7,764.6 L754.9,762.6 L753.7,760.9 L752.3,759.7 L750.7,758.9 L749.1,758.7 L747.7,759.0 L746.5,759.8 L745.7,761.0 L745.3,762.5 L745.5,764.2 L746.1,766.0 L747.3,767.7 L748.9,769.1 L750.9,770.1 L753.1,770.8 L755.5,770.9 L757.8,770.5 L760.0,769.5 L761.9,768.1 L763.4,766.3 L764.4,764.2 L765.0,761.9 L765.0,759.6 L764.5,757.4 L763.6,755.4 L762.3,753.8 L760.8,752.7 L759.2,752.1" stroke="#357b80" stroke-width="4.00" fill="none" stroke-linecap="round" stroke-linejoin="round" opacity="1"/>
<path d="M743.1,782.3 L744.8,780.7 L746.1,778.7 L746.9,776.5 L747.1,774.2 L746.9,771.9 L746.2,769.8 L745.1,768.0 L743.7,766.6 L742.2,765.8 L740.6,765.4 L739.1,765.6 L737.8,766.3 L736.9,767.4 L736.4,768.8 L736.4,770.5 L737.0,772.3 L738.0,774.0 L739.5,775.5 L741.4,776.6 L743.6,777.4 L745.9,777.6 L748.3,777.4 L750.5,776.5 L752.5,775.2 L754.1,773.5 L755.3,771.4 L755.9,769.2 L756.1,766.9 L755.7,764.6 L754.9,762.6 L753.7,760.9 L752.3,759.7 L750.7,758.9 L749.1,758.7 L747.7,759.0 L746.5,759.8 L745.7,761.0 L745.3,762.5 L745.5,764.2 L746.1,766.0 L747.3,767.7 L748.9,769.1 L750.9,770.1 L753.1,770.8 L755.5,770.9 L757.8,770.5 L760.0,769.5 L761.9,768.1 L763.4,766.3 L764.4,764.2 L765.0,761.9 L765.0,759.6 L764.5,757.4 L763.6,755.4 L762.3,753.8 L760.8,752.7 L759.2,752.1" stroke="#3f9ca6" stroke-width="3.2" fill="none" stroke-linecap="round" stroke-linejoin="round" opacity="1"/>
<path d="M759.7,758.0 C761.2,759.5 764.8,765.2 768.7,767.0 C772.6,768.8 779.4,769.6 783.0,768.8 C786.6,767.9 789.0,764.6 790.2,761.6 C791.4,758.6 789.0,752.9 790.2,750.9 C791.4,748.8 794.4,750.6 797.3,749.1 C800.3,747.6 805.7,744.9 808.1,741.9 C810.5,738.9 810.5,733.9 811.7,731.2 C812.8,728.5 814.6,726.7 815.2,725.8" stroke="#3d7185" stroke-width="3.40" fill="none" stroke-linecap="round" stroke-linejoin="round" opacity="1"/>
<path d="M759.7,758.0 C761.2,759.5 764.8,765.2 768.7,767.0 C772.6,768.8 779.4,769.6 783.0,768.8 C786.6,767.9 789.0,764.6 790.2,761.6 C791.4,758.6 789.0,752.9 790.2,750.9 C791.4,748.8 794.4,750.6 797.3,749.1 C800.3,747.6 805.7,744.9 808.1,741.9 C810.5,738.9 810.5,733.9 811.7,731.2 C812.8,728.5 814.6,726.7 815.2,725.8" stroke="#5a9fb5" stroke-width="2.6" fill="none" stroke-linecap="round" stroke-linejoin="round" opacity="1"/>
<path d="M757.8,785.1 L759.5,784.9 L761.0,784.3 L762.4,783.3 L763.6,782.0 L764.5,780.4 L765.1,778.7 L765.3,777.1 L765.2,775.5 L764.9,774.1 L764.2,773.1 L763.4,772.4 L762.6,772.2 L761.7,772.4 L760.9,773.0 L760.2,774.0 L759.8,775.4 L759.6,776.9 L759.8,778.6 L760.3,780.3 L761.1,781.9 L762.2,783.3 L763.6,784.3 L765.1,785.0 L766.8,785.3 L768.4,785.1 L770.0,784.5 L771.4,783.5 L772.6,782.1 L773.4,780.6 L774.0,778.9 L774.3,777.2 L774.2,775.7 L773.8,774.3 L773.2,773.3 L772.4,772.6 L771.5,772.4 L770.6,772.6 L769.8,773.2 L769.1,774.2 L768.7,775.6 L768.6,777.1 L768.7,778.8 L769.2,780.5 L770.1,782.1 L771.2,783.5 L772.6,784.5 L774.1,785.2 L775.7,785.5 L777.4,785.3 L778.9,784.6 L780.3,783.6 L781.5,782.3 L782.4,780.8 L783.0,779.1 L783.2,777.4 L783.1,775.9 L782.7,774.5 L782.1,773.5 L781.3,772.8 L780.5,772.5 L779.6,772.8 L778.8,773.4 L778.1,774.4 L777.7,775.7 L777.5,777.3 L777.7,779.0 L778.2,780.7 L779.0,782.3 L780.1,783.6 L781.5,784.7 L783.0,785.4 L784.7,785.6 L786.3,785.4 L787.9,784.8 L789.3,783.8 L790.5,782.5 L791.3,780.9 L791.9,779.3 L792.2,777.6 L792.1,776.0 L791.7,774.7 L791.1,773.6 L790.3,773.0 L789.4,772.7 L788.5,772.9 L787.7,773.6 L787.0,774.6 L786.6,775.9 L786.5,777.5 L786.6,779.2 L787.1,780.9 L788.0,782.4 L789.1,783.8 L790.5,784.9 L792.0,785.6 L793.6,785.8 L795.3,785.6 L796.8,785.0 L798.2,784.0 L799.4,782.7 L800.3,781.1 L800.9,779.5 L801.1,777.8 L801.0,776.2 L800.6,774.9 L800.0,773.8 L799.2,773.1 L798.4,772.9 L797.5,773.1 L796.7,773.7 L796.0,774.8 L795.6,776.1 L795.4,777.7 L795.6,779.4 L796.1,781.0 L796.9,782.6 L798.0,784.0 L799.4,785.1 L800.9,785.7 L802.6,786.0" stroke="#4f5f98" stroke-width="3.80" fill="none" stroke-linecap="round" stroke-linejoin="round" opacity="1"/>
<path d="M757.8,785.1 L759.5,784.9 L761.0,784.3 L762.4,783.3 L763.6,782.0 L764.5,780.4 L765.1,778.7 L765.3,777.1 L765.2,775.5 L764.9,774.1 L764.2,773.1 L763.4,772.4 L762.6,772.2 L761.7,772.4 L760.9,773.0 L760.2,774.0 L759.8,775.4 L759.6,776.9 L759.8,778.6 L760.3,780.3 L761.1,781.9 L762.2,783.3 L763.6,784.3 L765.1,785.0 L766.8,785.3 L768.4,785.1 L770.0,784.5 L771.4,783.5 L772.6,782.1 L773.4,780.6 L774.0,778.9 L774.3,777.2 L774.2,775.7 L773.8,774.3 L773.2,773.3 L772.4,772.6 L771.5,772.4 L770.6,772.6 L769.8,773.2 L769.1,774.2 L768.7,775.6 L768.6,777.1 L768.7,778.8 L769.2,780.5 L770.1,782.1 L771.2,783.5 L772.6,784.5 L774.1,785.2 L775.7,785.5 L777.4,785.3 L778.9,784.6 L780.3,783.6 L781.5,782.3 L782.4,780.8 L783.0,779.1 L783.2,777.4 L783.1,775.9 L782.7,774.5 L782.1,773.5 L781.3,772.8 L780.5,772.5 L779.6,772.8 L778.8,773.4 L778.1,774.4 L777.7,775.7 L777.5,777.3 L777.7,779.0 L778.2,780.7 L779.0,782.3 L780.1,783.6 L781.5,784.7 L783.0,785.4 L784.7,785.6 L786.3,785.4 L787.9,784.8 L789.3,783.8 L790.5,782.5 L791.3,780.9 L791.9,779.3 L792.2,777.6 L792.1,776.0 L791.7,774.7 L791.1,773.6 L790.3,773.0 L789.4,772.7 L788.5,772.9 L787.7,773.6 L787.0,774.6 L786.6,775.9 L786.5,777.5 L786.6,779.2 L787.1,780.9 L788.0,782.4 L789.1,783.8 L790.5,784.9 L792.0,785.6 L793.6,785.8 L795.3,785.6 L796.8,785.0 L798.2,784.0 L799.4,782.7 L800.3,781.1 L800.9,779.5 L801.1,777.8 L801.0,776.2 L800.6,774.9 L800.0,773.8 L799.2,773.1 L798.4,772.9 L797.5,773.1 L796.7,773.7 L796.0,774.8 L795.6,776.1 L795.4,777.7 L795.6,779.4 L796.1,781.0 L796.9,782.6 L798.0,784.0 L799.4,785.1 L800.9,785.7 L802.6,786.0" stroke="#7386c4" stroke-width="3.0" fill="none" stroke-linecap="round" stroke-linejoin="round" opacity="1"/>
<path d="M808.1,713.3 C809.3,712.2 812.8,709.1 815.2,707.0 C817.6,704.9 819.7,701.5 822.4,700.7 C825.1,700.0 828.4,701.0 831.3,702.5 C834.3,704.0 838.4,707.0 840.3,709.7 C842.1,712.4 842.4,715.4 842.4,718.6 C842.4,721.9 840.1,725.8 840.3,729.4 C840.5,733.0 843.9,736.8 843.9,740.1 C843.9,743.4 841.5,746.1 840.3,749.1 C839.1,752.0 837.9,755.3 836.7,758.0 C835.5,760.7 834.9,762.2 833.1,765.2 C831.3,768.2 827.8,772.9 826.0,775.9 C824.2,778.9 824.2,781.3 822.4,783.1 C820.6,784.9 818.2,785.8 815.2,786.7 C812.2,787.5 807.8,788.3 804.5,788.4 C801.2,788.6 797.0,787.7 795.5,787.5" stroke="#345d80" stroke-width="4.10" fill="none" stroke-linecap="round" stroke-linejoin="round" opacity="1"/>
<path d="M808.1,713.3 C809.3,712.2 812.8,709.1 815.2,707.0 C817.6,704.9 819.7,701.5 822.4,700.7 C825.1,700.0 828.4,701.0 831.3,702.5 C834.3,704.0 838.4,707.0 840.3,709.7 C842.1,712.4 842.4,715.4 842.4,718.6 C842.4,721.9 840.1,725.8 840.3,729.4 C840.5,733.0 843.9,736.8 843.9,740.1 C843.9,743.4 841.5,746.1 840.3,749.1 C839.1,752.0 837.9,755.3 836.7,758.0 C835.5,760.7 834.9,762.2 833.1,765.2 C831.3,768.2 827.8,772.9 826.0,775.9 C824.2,778.9 824.2,781.3 822.4,783.1 C820.6,784.9 818.2,785.8 815.2,786.7 C812.2,787.5 807.8,788.3 804.5,788.4 C801.2,788.6 797.0,787.7 795.5,787.5" stroke="#4a82b0" stroke-width="3.3" fill="none" stroke-linecap="round" stroke-linejoin="round" opacity="1"/>
<path d="M822.4,700.7 C821.5,701.6 817.8,703.7 817.0,706.1 C816.3,708.5 816.4,713.3 817.9,715.1 C819.4,716.8 824.0,717.7 826.0,716.8 C827.9,716.0 829.8,711.8 829.6,709.7 C829.3,707.6 825.1,705.2 824.2,704.3" stroke="#345d80" stroke-width="3.90" fill="none" stroke-linecap="round" stroke-linejoin="round" opacity="1"/>
<path d="M822.4,700.7 C821.5,701.6 817.8,703.7 817.0,706.1 C816.3,708.5 816.4,713.3 817.9,715.1 C819.4,716.8 824.0,717.7 826.0,716.8 C827.9,716.0 829.8,711.8 829.6,709.7 C829.3,707.6 825.1,705.2 824.2,704.3" stroke="#4a82b0" stroke-width="3.1" fill="none" stroke-linecap="round" stroke-linejoin="round" opacity="1"/>
<path d="M815.2,725.8 C816.4,727.3 820.0,731.8 822.4,734.7 C824.8,737.7 827.8,740.4 829.6,743.7 C831.3,747.0 832.5,752.6 833.1,754.4" stroke="#345d80" stroke-width="3.20" fill="none" stroke-linecap="round" stroke-linejoin="round" opacity="1"/>
<path d="M815.2,725.8 C816.4,727.3 820.0,731.8 822.4,734.7 C824.8,737.7 827.8,740.4 829.6,743.7 C831.3,747.0 832.5,752.6 833.1,754.4" stroke="#5b90bb" stroke-width="2.4" fill="none" stroke-linecap="round" stroke-linejoin="round" opacity="1"/>
<path d="M777.6,716.8 C778.2,718.0 779.7,722.5 781.2,724.0 C782.7,725.5 785.1,724.0 786.6,725.8 C788.1,727.6 788.7,732.7 790.2,734.7 C791.7,736.8 794.1,736.2 795.5,738.3 C797.0,740.4 798.5,745.8 799.1,747.3" stroke="#143c55" stroke-width="1.8" fill="none" stroke-linecap="round"/>
<path d="M781.2,715.1 C781.5,716.0 782.7,719.5 783.0,720.4" stroke="#143c55" stroke-width="1.8" fill="none" stroke-linecap="round"/>
<path d="M793.8,713.3 C793.5,714.8 791.7,719.8 792.0,722.2 C792.3,724.6 794.9,726.7 795.5,727.6" stroke="#143c55" stroke-width="1.8" fill="none" stroke-linecap="round"/>
<path d="M800.9,738.3 C801.8,738.6 805.1,739.2 806.3,740.1 C807.5,741.0 808.4,742.8 808.1,743.7 C807.8,744.6 805.7,745.5 804.5,745.5 C803.3,745.5 801.5,744.0 800.9,743.7" stroke="#143c55" stroke-width="1.8" fill="none" stroke-linecap="round"/>
<path d="M779.4,718.6 C780.3,719.1 783.3,720.1 784.8,721.3 C786.3,722.5 788.1,724.2 788.4,725.8 C788.7,727.4 787.6,730.6 786.6,731.2 C785.6,731.8 783.3,730.6 782.1,729.4 C780.9,728.2 779.9,724.9 779.4,724.0" stroke="#143c55" stroke-width="1.8" fill="none"/>
<path class="k" stroke="#56799c" stroke-width="3.2" d="M801.1 704.8h0M822.6 749.1h0M795.5 705.9h0M778.9 733.3h0M785.4 713.9h0M817.1 720.2h0M802.9 711.8h0M784.0 722.5h0M803.9 728.9h0M787.5 725.2h0M811.9 721.2h0M814.3 735.2h0M805.0 721.2h0M775.8 724.9h0M797.7 715.3h0M779.4 728.6h0M802.2 726.5h0M785.2 721.4h0M783.4 710.4h0M805.8 723.4h0M797.2 708.1h0M806.6 703.7h0M819.3 714.8h0M800.0 731.8h0M813.9 700.6h0M793.8 725.5h0M798.2 719.3h0M810.7 721.2h0M803.3 723.6h0M834.4 727.3h0"/>
<path class="k" stroke="#7fb5cc" stroke-width="2.6" d="M801.1 704.8h0M822.6 749.1h0M795.5 705.9h0M778.9 733.3h0M785.4 713.9h0M817.1 720.2h0M802.9 711.8h0M784.0 722.5h0M803.9 728.9h0M787.5 725.2h0M811.9 721.2h0M814.3 735.2h0M805.0 721.2h0M775.8 724.9h0M797.7 715.3h0M779.4 728.6h0M802.2 726.5h0M785.2 721.4h0M783.4 710.4h0M805.8 723.4h0M797.2 708.1h0M806.6 703.7h0M819.3 714.8h0M800.0 731.8h0M813.9 700.6h0M793.8 725.5h0M798.2 719.3h0M810.7 721.2h0M803.3 723.6h0M834.4 727.3h0"/>
<path class="k" stroke="#c58896" stroke-width="3.2" d="M783.6 807.6h0M798.1 808.9h0M788.4 797.4h0M776.1 809.4h0M780.1 809.2h0M788.7 813.9h0M784.0 808.4h0M767.4 800.3h0M786.3 803.5h0M791.0 807.4h0M775.3 803.2h0M768.1 813.6h0M763.7 802.0h0M763.9 804.2h0M768.7 808.7h0M765.0 807.6h0M789.0 805.3h0M802.4 804.1h0M792.7 812.6h0M781.3 809.2h0"/>
<path class="k" stroke="#eeb0be" stroke-width="2.6" d="M783.6 807.6h0M798.1 808.9h0M788.4 797.4h0M776.1 809.4h0M780.1 809.2h0M788.7 813.9h0M784.0 808.4h0M767.4 800.3h0M786.3 803.5h0M791.0 807.4h0M775.3 803.2h0M768.1 813.6h0M763.7 802.0h0M763.9 804.2h0M768.7 808.7h0M765.0 807.6h0M789.0 805.3h0M802.4 804.1h0M792.7 812.6h0M781.3 809.2h0"/>
<!--END outprot-->
<!--BEGIN matrix-->
<rect x="362.50" y="640.00" width="4.46" height="4.46" fill="#72c7bc"/>
<rect x="366.36" y="640.00" width="4.46" height="4.46" fill="#6ac4b9"/>
<rect x="370.21" y="640.00" width="4.46" height="4.46" fill="#72c7bc"/>
<rect x="374.07" y="640.00" width="4.46" height="4.46" fill="#72c7bc"/>
<rect x="377.93" y="640.00" width="4.46" height="4.46" fill="#79cac0"/>
<rect x="381.79" y="640.00" width="4.46" height="4.46" fill="#63c2b6"/>
<rect x="385.64" y="640.00" width="3.86" height="4.46" fill="#72c7bc"/>
<rect x="362.50" y="643.86" width="4.46" height="4.46" fill="#72c7bc"/>
<rect x="366.36" y="643.86" width="4.46" height="4.46" fill="#87d0c7"/>
<rect x="370.21" y="643.86" width="4.46" height="4.46" fill="#54bcaf"/>
<rect x="374.07" y="643.86" width="4.46" height="4.46" fill="#5cbfb2"/>
<rect x="377.93" y="643.86" width="4.46" height="4.46" fill="#79cac0"/>
<rect x="381.79" y="643.86" width="4.46" height="4.46" fill="#80cdc3"/>
<rect x="385.64" y="643.86" width="3.86" height="4.46" fill="#6ac4b9"/>
<rect x="362.50" y="647.71" width="4.46" height="4.46" fill="#6ac4b9"/>
<rect x="366.36" y="647.71" width="4.46" height="4.46" fill="#6ac4b9"/>
<rect x="370.21" y="647.71" width="4.46" height="4.46" fill="#63c2b6"/>
<rect x="374.07" y="647.71" width="4.46" height="4.46" fill="#54bcaf"/>
<rect x="377.93" y="647.71" width="4.46" height="4.46" fill="#5cbfb2"/>
<rect x="381.79" y="647.71" width="4.46" height="4.46" fill="#87d0c7"/>
<rect x="385.64" y="647.71" width="3.86" height="4.46" fill="#8ed3ca"/>
<rect x="362.50" y="651.57" width="4.46" height="4.46" fill="#72c7bc"/>
<rect x="366.36" y="651.57" width="4.46" height="4.46" fill="#b3e2db"/>
<rect x="370.21" y="651.57" width="4.46" height="4.46" fill="#63c2b6"/>
<rect x="374.07" y="651.57" width="4.46" height="4.46" fill="#5cbfb2"/>
<rect x="377.93" y="651.57" width="4.46" height="4.46" fill="#80cdc3"/>
<rect x="381.79" y="651.57" width="4.46" height="4.46" fill="#87d0c7"/>
<rect x="385.64" y="651.57" width="3.86" height="4.46" fill="#87d0c7"/>
<rect x="362.50" y="655.43" width="4.46" height="4.46" fill="#72c7bc"/>
<rect x="366.36" y="655.43" width="4.46" height="4.46" fill="#72c7bc"/>
<rect x="370.21" y="655.43" width="4.46" height="4.46" fill="#54bcaf"/>
<rect x="374.07" y="655.43" width="4.46" height="4.46" fill="#72c7bc"/>
<rect x="377.93" y="655.43" width="4.46" height="4.46" fill="#4db9ab"/>
<rect x="381.79" y="655.43" width="4.46" height="4.46" fill="#5cbfb2"/>
<rect x="385.64" y="655.43" width="3.86" height="4.46" fill="#79cac0"/>
<rect x="362.50" y="659.29" width="4.46" height="4.46" fill="#80cdc3"/>
<rect x="366.36" y="659.29" width="4.46" height="4.46" fill="#87d0c7"/>
<rect x="370.21" y="659.29" width="4.46" height="4.46" fill="#87d0c7"/>
<rect x="374.07" y="659.29" width="4.46" height="4.46" fill="#72c7bc"/>
<rect x="377.93" y="659.29" width="4.46" height="4.46" fill="#80cdc3"/>
<rect x="381.79" y="659.29" width="4.46" height="4.46" fill="#63c2b6"/>
<rect x="385.64" y="659.29" width="3.86" height="4.46" fill="#87d0c7"/>
<rect x="362.50" y="663.14" width="4.46" height="3.86" fill="#5cbfb2"/>
<rect x="366.36" y="663.14" width="4.46" height="3.86" fill="#5cbfb2"/>
<rect x="370.21" y="663.14" width="4.46" height="3.86" fill="#5cbfb2"/>
<rect x="374.07" y="663.14" width="4.46" height="3.86" fill="#63c2b6"/>
<rect x="377.93" y="663.14" width="4.46" height="3.86" fill="#c1e7e2"/>
<rect x="381.79" y="663.14" width="4.46" height="3.86" fill="#79cac0"/>
<rect x="385.64" y="663.14" width="3.86" height="3.86" fill="#54bcaf"/>
<rect x="362.50" y="633.5" width="4.46" height="3.6" fill="#99a4d0"/>
<rect x="366.36" y="633.5" width="4.46" height="3.6" fill="#8b96ca"/>
<rect x="370.21" y="633.5" width="4.46" height="3.6" fill="#a1aad4"/>
<rect x="374.07" y="633.5" width="4.46" height="3.6" fill="#4f61ae"/>
<rect x="377.93" y="633.5" width="4.46" height="3.6" fill="#4f61ae"/>
<rect x="381.79" y="633.5" width="4.46" height="3.6" fill="#5767b1"/>
<rect x="385.64" y="633.5" width="3.86" height="3.6" fill="#a1aad4"/>
<rect x="362.50" y="669.6" width="4.46" height="3.6" fill="#d58db3"/>
<rect x="366.36" y="669.6" width="4.46" height="3.6" fill="#efd1e0"/>
<rect x="370.21" y="669.6" width="4.46" height="3.6" fill="#db9dbe"/>
<rect x="374.07" y="669.6" width="4.46" height="3.6" fill="#dda2c1"/>
<rect x="377.93" y="669.6" width="4.46" height="3.6" fill="#e9c2d6"/>
<rect x="381.79" y="669.6" width="4.46" height="3.6" fill="#db9dbe"/>
<rect x="385.64" y="669.6" width="3.86" height="3.6" fill="#e1acc8"/>
<!--END matrix-->

<!-- DIMQ text -->
<text x="745.4" y="843.6" font-size="10.4" textLength="91" lengthAdjust="spacingAndGlyphs"><tspan fill="#f0b3c0">D</tspan><tspan fill="#eeb0c0">I</tspan><tspan fill="#e2aac0">M</tspan><tspan fill="#c8a6c4">Q</tspan><tspan fill="#b4a4c8">H</tspan><tspan fill="#9ea2c8">V</tspan><tspan fill="#8598c4">Q</tspan><tspan fill="#7694c0">N</tspan><tspan fill="#6a98bf">I</tspan><tspan fill="#5b90b8">D</tspan><tspan fill="#4e88b2">A...</tspan></text>

<!-- ============ PANEL D ============ -->
<text transform="translate(858.6,644.3) scale(1.16,1)" x="0" y="0" font-size="28" fill="#000">d</text>
<!--BEGIN chart-->
<path d="M932.5,639.3 V841.4 H1167.3" stroke="#262626" stroke-width="1.3" fill="none"/>
<path d="M928.2,834.2 H932.5" stroke="#262626" stroke-width="1.2"/>
<text x="915.9" y="838.5" font-size="11.8" fill="#333" stroke="#333" stroke-width="0.25" textLength="7.3" lengthAdjust="spacingAndGlyphs">0</text>
<path d="M928.2,794.7 H932.5" stroke="#262626" stroke-width="1.2"/>
<text x="908.5" y="799.0" font-size="11.8" fill="#333" stroke="#333" stroke-width="0.25" textLength="14.7" lengthAdjust="spacingAndGlyphs">50</text>
<path d="M928.2,755.2 H932.5" stroke="#262626" stroke-width="1.2"/>
<text x="901.2" y="759.5" font-size="11.8" fill="#333" stroke="#333" stroke-width="0.25" textLength="22" lengthAdjust="spacingAndGlyphs">100</text>
<path d="M928.2,715.7 H932.5" stroke="#262626" stroke-width="1.2"/>
<text x="901.2" y="720.0" font-size="11.8" fill="#333" stroke="#333" stroke-width="0.25" textLength="22" lengthAdjust="spacingAndGlyphs">150</text>
<path d="M928.2,676.2 H932.5" stroke="#262626" stroke-width="1.2"/>
<text x="901.2" y="680.5" font-size="11.8" fill="#333" stroke="#333" stroke-width="0.25" textLength="22" lengthAdjust="spacingAndGlyphs">200</text>
<path d="M973.4,841.4 V845.7" stroke="#262626" stroke-width="1.2"/>
<text x="962.3" y="859.8" font-size="11.8" fill="#333" stroke="#333" stroke-width="0.25" textLength="22.2" lengthAdjust="spacingAndGlyphs">100</text>
<path d="M1034.4,841.4 V845.7" stroke="#262626" stroke-width="1.2"/>
<text x="1023.3" y="859.8" font-size="11.8" fill="#333" stroke="#333" stroke-width="0.25" textLength="22.2" lengthAdjust="spacingAndGlyphs">200</text>
<path d="M1095.4,841.4 V845.7" stroke="#262626" stroke-width="1.2"/>
<text x="1084.3" y="859.8" font-size="11.8" fill="#333" stroke="#333" stroke-width="0.25" textLength="22.2" lengthAdjust="spacingAndGlyphs">300</text>
<path d="M1156.4,841.4 V845.7" stroke="#262626" stroke-width="1.2"/>
<text x="1145.3" y="859.8" font-size="11.8" fill="#333" stroke="#333" stroke-width="0.25" textLength="22.2" lengthAdjust="spacingAndGlyphs">400</text>
<text x="1010.6" y="877.7" font-size="13" fill="#333" stroke="#333" stroke-width="0.25" textLength="78.7" lengthAdjust="spacingAndGlyphs">No. Residues</text>
<text transform="translate(893.2,817.7) rotate(-90)" x="0" y="0" font-size="12.8" fill="#333" stroke="#333" stroke-width="0.25" textLength="154.7" lengthAdjust="spacingAndGlyphs">Inference time (s/design)</text>
<polyline points="942.9,814.9 973.4,814.5 1034.4,799.8 1156.4,712.9" stroke="#d698b6" stroke-width="1.8" fill="none"/>
<circle cx="942.9" cy="814.9" r="4.2" fill="#d698b6"/>
<circle cx="973.4" cy="814.5" r="4.2" fill="#d698b6"/>
<circle cx="1034.4" cy="799.8" r="4.2" fill="#d698b6"/>
<circle cx="1156.4" cy="712.9" r="4.2" fill="#d698b6"/>
<polyline points="942.9,802.2 973.4,800.8 1034.4,777.3 1156.4,649.3" stroke="#4a5eab" stroke-width="1.8" fill="none"/>
<circle cx="942.9" cy="802.2" r="4.2" fill="#4a5eab"/>
<circle cx="973.4" cy="800.8" r="4.2" fill="#4a5eab"/>
<circle cx="1034.4" cy="777.3" r="4.2" fill="#4a5eab"/>
<circle cx="1156.4" cy="649.3" r="4.2" fill="#4a5eab"/>
<polyline points="942.9,832.4 973.4,831.2 1034.4,827.0 1156.4,816.2" stroke="#4db8ad" stroke-width="1.8" fill="none"/>
<circle cx="942.9" cy="832.4" r="4.2" fill="#4db8ad"/>
<circle cx="973.4" cy="831.2" r="4.2" fill="#4db8ad"/>
<circle cx="1034.4" cy="827.0" r="4.2" fill="#4db8ad"/>
<circle cx="1156.4" cy="816.2" r="4.2" fill="#4db8ad"/>
<path d="M943,656.4 H969" stroke="#d698b6" stroke-width="1.8"/>
<circle cx="956.1" cy="656.4" r="4.2" fill="#d698b6"/>
<text x="979.2" y="661.1" font-size="12.8" fill="#333" stroke="#333" stroke-width="0.25" textLength="74.7" lengthAdjust="spacingAndGlyphs">RFdiffusion1</text>
<path d="M943,675.2 H969" stroke="#4a5eab" stroke-width="1.8"/>
<circle cx="956.1" cy="675.2" r="4.2" fill="#4a5eab"/>
<text x="979.2" y="679.9" font-size="12.8" fill="#333" stroke="#333" stroke-width="0.25" textLength="74.7" lengthAdjust="spacingAndGlyphs">RFdiffusion2</text>
<path d="M943,694.0 H969" stroke="#4db8ad" stroke-width="1.8"/>
<circle cx="956.1" cy="694.0" r="4.2" fill="#4db8ad"/>
<text x="979.2" y="698.7" font-size="12.8" fill="#333" stroke="#333" stroke-width="0.25" textLength="74.7" lengthAdjust="spacingAndGlyphs">RFdiffusion3</text>
<!--END chart-->

</svg>
</body></html>
